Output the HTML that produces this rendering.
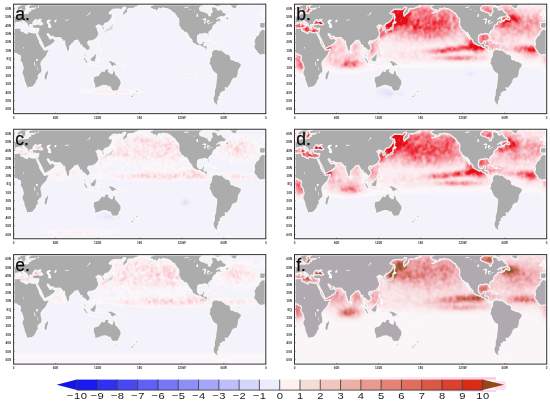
<!DOCTYPE html>
<html><head><meta charset="utf-8"><style>
html,body{margin:0;padding:0;background:#fff;width:550px;height:404px;overflow:hidden}
svg{display:block}
.tl{font-family:"Liberation Sans",sans-serif;font-size:3.8px;font-weight:bold;fill:#333}
.pl{font-family:"Liberation Sans",sans-serif;font-size:17.5px;fill:#0a0a0a;stroke:#0a0a0a;stroke-width:0.25px}
.cb{font-family:"Liberation Sans",sans-serif;font-size:9.5px;letter-spacing:0.45px;fill:#1a1a1a}
</style></head><body>
<svg width="550" height="404" viewBox="0 0 550 404">
<defs><clipPath id="mclip"><rect x="0" y="0" width="252.2" height="109.5"/></clipPath><filter id="bl" x="-5%" y="-5%" width="110%" height="110%"><feGaussianBlur stdDeviation="0.6"/></filter></defs>
<rect width="550" height="404" fill="#fff"/>
<g transform="translate(13.6,4.15)">
<rect x="0" y="0" width="252.2" height="109.5" fill="#f3f2fb"/>
<g clip-path="url(#mclip)">
<g filter="url(#bl)"><path d="M-2.8 111.7l257.8 0 0-113.9-257.8 0z" fill="#f4f2fa" fill-rule="evenodd"/><path d="M76.9 89.9l16.3 .7 18.2-.2 14.2-1.3 3.7-.9 1.1-.8-2.9-1.3-7-1-25.2-1-24.5 .9-5.6 1-1.8 .6-.3 .8 5.6 1.6zM171.9 74l9.5 .8 2.4-.8 1.1-1.7-.7-1.3-1.4-.9-9.8-1.4-2.8 1-1.1 1.8 1 1.7z" fill="#faf6f9" fill-rule="evenodd"/><path d="M90.7 89.1l16.5-.2 6.9-.7 2.1-.8-2-.8-4.2-.5-12.6-.6-12.6 .6-4.1 .5-1.8 .8 2.4 .8zM173 73.2l7.7 .4 1.7-.4 .5-.9-1.5-1.2-7.7-1.3-2.1 .6-.7 1.1 .4 .8z" fill="#fbeff2" fill-rule="evenodd"/><path d="M172.6 71.5l1.8 .7 1.2-.7-1.9-.7z" fill="#fce8ec" fill-rule="evenodd"/></g>
<path d="M-4 12.9l1.5-.3 1.8-.3 1.7-.4 .2-1.1-1-.8-.4-.6-.9-1.1-.3-.4-.4-.4 .5-.9-1.2-.2 .4-.7-1.4 0-.6 .9 .2 1 .4 .7 .1 .6 1.2 .1 .1 .6 0 .5-1.2 0 .4 .4 0 .6-.8 .3 .9 .2 .7 .1-.8 .2-.6 .5zM248.2 12.9l1.5-.3 1.8-.3 1.7-.4 .2-1.1-1-.8-.4-.6-.9-1.1-.3-.4-.4-.4 .5-.9-1.2-.2 .4-.7-1.4 0-.6 .9 .2 1 .4 .7 .1 .6 1.2 .1 .1 .6 0 .5-1.2 0 .4 .4 0 .6-.8 .3 .9 .2 .7 .1-.8 .2-.6 .5zM248 11.2l-.1-1.2 .4-.9-.3-.6-1.1 0-.7 .6-1 .3 .3 1-.4 1 .4 .2 1.1-.2 1.1-.3zM235.4 -.1l1.4 1.4 2.4 .4 2.8-.8 .7-.8-1-1-6.3 0zM98.1 20l.8-.2 1.4-.1 1.6-1.2-.1-.8-2.3-1-.4 1.2-.7 .7-.3 .6zM99.5 16.2l1 0-.1-2.5 .8 0-.7-2.1-.3-2.1-.4-.2-.2 2.3-.1 2.1zM84.8 33.6l.7 .2-.4 1.7-.5 .9-.5-.9 .3-1.3zM76.1 38.7l1.2-.8 .5 .5-.7 1.1-.7-.2zM55.9 46.5l.4 0 1.1 2-.5 1.1-.9 .1-.1-1.6zM84.4 39.3l1.2 0-.1 1.2-.4 1.3 .4 1.2 1.4 .9-.4 .1-1.4-.8-.7-.6-.3-1.2zM85.5 48.9l1-1.3 1.4-1.1 .7 2-.3 1.2-.7 .2-.7-.6zM85.8 44.9l2.1-.6 .2 1.2-1.6 1.3-.7 0zM82.1 47.8l1.6-1.8 .2-.8-.5 .8-1.1 1.4zM84.4 43.4l.7 .5-.3 .6-.5-.5zM73.7 60.4l.9-.7 1.4 .3 1.4 .4 1.5 .1 1.3 .7-.1 .8-1.3-.2-1.4-.3-1.7-.2-1.4-.4zM80.2 61.5l.9 .2-.2 .4-.6-.2zM81.3 61.7l2.1-.1 0 .5-2.1 .1zM83.9 61.8l2.3-.2 0 .4-2.3 .2zM86.5 63.4l1.1-.9 1.5-.7-.1 .3-1.4 .9-.7 .5zM83.7 59.4l-.1-1.7-.4-.6 .5-1.9 .4-1.1 .7-.4 1.4 .2 1-.4 .5 0-.8 .9-1.4-.1-.7 .1-.4 .8 .7 .4 1.3-.1-.9 .5-.5 .4 .6 1 .6 1.1-.7 .9-.7-1.3-.4-.8-.1 2.1zM89.3 52.9l.6 .6 .3 .8-.5 1.1-.4-.6zM89.7 57.3l1.9 .2 0 .4-1.9-.1zM88.3 57.4l.8 0 0 .5-.8 0zM103.9 59.4l1.2-.4 1-.7 .5 0-.5 1.1-1 .5-1.1-.1zM105.4 56.8l.7 .5 1.1 1.2-.2 .3-1.2-1.4zM109.6 60.2l2.1 1.2 1.4 1.3-.3 .4-1.4-.4-1.8-1.7zM114.9 71.7l.6 0 1.5 1.7-.4 .1-1.5-1.3zM124.2 69.4l.9-.2-.1 .8-.7-.1zM192.7 36.4l1.4-.8 1.4-.3 1.4 .5 1.4 1 .9 .4 1.1 .6-.6 .3-1.9 0 .1-.6-.7-.7-1.4-.5-1-.1-1.1 .2zM200 39.3l1.1-1.2 1.4 0 1.4 .6 .5 .5-1.2 .3-1.1 .5-1-.3zM197.3 39.4l1.5 .1-.3 .3-.8 0zM205.1 39.3l1.1 0-.1 .4-1 0zM144 7l1.5-.5-.3-.5-.9 .4zM8.7 22.9l2.2-.2-.3 1.3-1.8-.7zM5.7 20.5l1.2-.2-.1 1.6-.9 .3zM6 18.8l.7 0-.1 1.3-.5-.3zM16.5 24.9l1.9 .3-.2 .3-1.7-.2zM22.6 25.4l1.6-.5-.4 .9-1-.1zM209.3 97.6l2.4 .1-.5 .8-1.4-.1zM91.7 26.3l1.1-1.3 1.1-.1 1 0 .9-1.4 1.2-.4 1.1-1.4 0-1.1 .5-.4 .5 0 0 1.1 .4 .4-.7 1-.2 1.1 .1 1.1-.8 .5-.5 .3-1.4 .1-.2 .2-.7 .7-.4-.7-.8-.2-1.1 .2-1 .4zM91.1 26.7l.7-.3 .6 .7-.3 1.3-.6 .4-.3-.4-.3-1zM92.8 27.1l.4-1 1.1 0 .1 .4-.9 .4-.5 .4z" fill="#fbfbfd" stroke="#fbfbfd" stroke-width="0.5"/>
<path d="M91.7 26.3l1.1-1.3 1.1-.1 1 0 .9-1.4 1.2-.4 1.1-1.4 0-1.1 .5-.4 .5 0 0 1.1 .4 .4-.7 1-.2 1.1 .1 1.1-.8 .5-.5 .3-1.4 .1-.2 .2-.7 .7-.4-.7-.8-.2-1.1 .2-1 .4zM91.1 26.7l.7-.3 .6 .7-.3 1.3-.6 .4-.3-.4-.3-1zM92.8 27.1l.4-1 1.1 0 .1 .4-.9 .4-.5 .4z" fill="#d2d2d2"/>
<path d="M8.8 -2.2l-.4 2.1-1 .9-1.4 .8-1.4 .7-1.1 .7 0 1.3 .4 1.1 .3 .6 1.1 .2 .7-.3 .9-.5 .5-.7 .3 .7 .6 .6 .1 .6 .6 .9 0 .8 .9 .1 .3-.5 1-.2 .4-1.1 .1-.8 .9-.4 .6-.7-.9-.8-.2-1.3 .9-.8 1.4-.5 .7-.5 .3-.9 .4-2.1zM261 -2.2l-.4 2.1-1 .9-1.4 .8-1.4 .7-1.1 .7 0 1.3 .4 1.1 .3 .6 1.1 .2 .7-.3 .9-.5 .5-.7 .3 .7 .6 .6 .1 .6 .6 .9 0 .8 .9 .1 .3-.5 1-.2 .4-1.1 .1-.8 .9-.4 .6-.7-.9-.8-.2-1.3 .9-.8 1.4-.5 .7-.5 .3-.9 .4-2.1zM17.2 -2.2l.5 2.3-.5 .4-1.1 .8-1 .7-.1 1 .1 .9 .7 .6 1.4-.1 1.4-.2 1.4-.1 .9 .4-1.3 .4-2.1 0-1 .2 0 .7 .5 .1 .1 .7-.3 .4-.5 0-.5-.5-.7 .2-.4 .8 .1 .8 .1 .4-.5 .2-.7 .3-.7 0-.2-.3-1.2 .2-1.4 .5-.7-.3-1.1 .1-.7 .1-.1-.4-.6-.1 .4-.7-.2-.6 .2-.7 0-.6-.7 .5-.9 .3-.1 .7 .3 .4 0 .6 .2 .6-.5 .4-.8 .1-.8 0-.7 .5-.4 .7-.5 .5-.7 .3-.7 .1 0 .7-1 .5-.9 .1-.3-.3-.2 .9-.8-.1-1.1 .2 .1 .6 1.1 .3 .5 .3 .7 .8 0 1.3-.3 .9-1.4 0-1.4 0-1.7-.1-.8 .5 .2 .9 .1 .8-.2 1-.4 .9 .5 .3 0 1.1 .9-.1 .9 .3 .5 .7 .7-.6 1.7 0 .6-.6 .4-.1 .2-.7 .4-.3-.3-.6 .8-1.1 1.6-.9 0-1 1-.3 1 .3 1.1-.6 .9-.5 .9 .4 .3 .8 1 .9 1.1 .6 1.4 1 .1 1.5 .6-.4 .4-.3-.4-.7 .4-.6 1 .4-.4-.4-1.4-.8-.7-.4-.7-.6-.3-.7-.9-.8 .2-.8 .8-.2-.1 .6 .7-.2 .7 1 1.4 .9 .7 .5 .6 .5 .1 1 .5 .8 .5 .8 .2 .7 .3 .8 .6 .4 .3-.8 .2 .7 .5-1-.3-.7-.5-1.2 0-.5 .8-.2 1.4 0 .5 .3-.1 .8 .2 .8 .3 .9 .5 .5 1.1 .5 .7-.5 1.4 .6 1-.1 1.1-.3 .3 .5-.1 .8-.2 .9-.4 .8-.3 1.3-.7 .3-.9-.1 .2 1 .3 .9 .9 1 .4-1.4 .1 0-.1 1.2 .7 .8 .8 1.7 1.1 1.7 .5 1.3 .9 1.6 .7 1.7 .8 1.7 .2 1.2 .4 1.1 1-.1 2.1-1 1.4-.8 1.6-.7 1.2-1 1.1-.7 1-.8 .6-.2 .5-1.2 .9-1.7-.9-.9-1.1-.3-.5-.8 .1-1.2-.3 .7-.5 .2-.9 .9-1.4 .2-.3-.5 0-.6-.2-.7-.3 .4-.4-.5-.2-.5-.3-.6-.7-.8-.4-.8 .4-.5 .7 0 .7 .7 .7 1.2 1.4 .8 1.4 .2 .5-.5 .5 1 .2 .3 1.6 .2 1.4 .2 1.7-.1 1.8-.1 .5 .5 .7 1 .5 .9 .7-.2-.7 .4 .7 1.1 .7 .1 1.1-.5 .1 .2 .1 1.8 .5 2.6 .7 1.2 .3 1.7 .6 1.2 .5 1.7 .7 .8 .5-.7 .5-.3 .7-.9-.1-1 .4-1.3-.2-1.6 .6-.8 1-.9 1.1-1.1 1.1-1 1-1.1 .4-.8 .7 .1 1-.3 1.1-.4 .4 .9 .3 .8 .7 .8 .6 1.3 0 1.7 .7 .1 .8-.6 .7 0 .1 1.3 .4 1.2 .3 2.1-.2 1.7 0 .9 1.2 1.2 .2 1.3 .7 1.6 .8 .9 .7 .6 .5-.1-.5-1.4-.1-1.2-.6-1.3-.7-.7-.7-.4-.3-1-.5-1.2-.1-1.7 .6-1.2 .6 .4 .8 .6 .7 1 1 .5 .2 1.6 1.2-.8 .4-.8 1.4-.9 .2-1.2-.4-2.1-1.2-1.3-.7-1.2-.3-.5 .6-1.2 .7-.8 .7-.1 .9 .1 .3 1 .6-1 1-.3 .7-.3 1.1-.5 1-.2 1.1-1.3 1-1 .5-1.1 .9-1.2 .4-1.1-.7-.6 .6-.4-.6-.8-.4-1.3-.7-1.3 .7-.8 1.4-.8-1-.6-1.4 .4-.7-.8-.2-.7 .9-.4 1.4-1.1 .7 .2-.6 1.5 .9-.6 1.2-.4 .6 .4 .1 1.2 .9 .5-.1 .8 .1 1.2-.1 .6 .8-.2 1.1-.4 .3-.8 0-.8-.7-1.3-.7-.8 .7-.4 .9-.8 0-.7 .7-.5 .7-.5 .9 .1 1.4-.8 1.7-1.4 .7-1.3 1.2-1.3 .2-1.2 .4-1.7 .3-1.1-1.2-.7-1.6 .2-.7-.6 .5-1 .9-.8 1.4-1.2 1.1-.8 1.4-.2 1.4 .1 1.7 0 1.6-.2 1.2 .5 1.4-.1 .5-.8 1.3-1.4 1.7-.1 .6 .7-.4 .6-1.2 1.9-1.1 .8-.3 1.3-.3 1.2 .3 1.3 .5 1.3 .5-.5 .7-1.1 1.1-1 1.2-.6 .3-1.2 .7 .2 .1-1.5-.6-.2 .8-1.5 1.7-.4 2.8 .2 1.7-.8 1.1-.7 2.1-.5 1.4 .1 .7-.6-.7 0-.4-1.1-.7-.3 1.1-.3 1.4-.2 2.1-.3 2.5 1 .7-.9 .7-.4 .3-1.7zM269.4 -2.2l.5 2.3-.5 .4-1.1 .8-1 .7-.1 1 .1 .9 .7 .6 1.4-.1 1.4-.2 1.4-.1 .9 .4-1.3 .4-2.1 0-1 .2 0 .7 .5 .1 .1 .7-.3 .4-.5 0-.5-.5-.7 .2-.4 .8 .1 .8 .1 .4-.5 .2-.7 .3-.7 0-.2-.3-1.2 .2-1.4 .5-.7-.3-1.1 .1-.7 .1-.1-.4-.6-.1 .4-.7-.2-.6 .2-.7 0-.6-.7 .5-.9 .3-.1 .7 .3 .4 0 .6 .2 .6-.5 .4-.8 .1-.8 0-.7 .5-.4 .7-.5 .5-.7 .3-.7 .1 0 .7-1 .5-.9 .1-.3-.3-.2 .9-.8-.1-1.1 .2 .1 .6 1.1 .3 .5 .3 .7 .8 0 1.3-.3 .9-1.4 0-1.4 0-1.7-.1-.8 .5 .2 .9 .1 .8-.2 1-.4 .9 .5 .3 0 1.1 .9-.1 .9 .3 .5 .7 .7-.6 1.7 0 .6-.6 .4-.1 .2-.7 .4-.3-.3-.6 .8-1.1 1.6-.9 0-1 1-.3 1 .3 1.1-.6 .9-.5 .9 .4 .3 .8 1 .9 1.1 .6 1.4 1 .1 1.5 .6-.4 .4-.3-.4-.7 .4-.6 1 .4-.4-.4-1.4-.8-.7-.4-.7-.6-.3-.7-.9-.8 .2-.8 .8-.2-.1 .6 .7-.2 .7 1 1.4 .9 .7 .5 .6 .5 .1 1 .5 .8 .5 .8 .2 .7 .3 .8 .6 .4 .3-.8 .2 .7 .5-1-.3-.7-.5-1.2 0-.5 .8-.2 1.4 0 .5 .3-.1 .8 .2 .8 .3 .9 .5 .5 1.1 .5 .7-.5 1.4 .6 1-.1 1.1-.3 .3 .5-.1 .8-.2 .9-.4 .8-.3 1.3-.7 .3-.9-.1 .2 1 .3 .9 .9 1 .4-1.4 .1 0-.1 1.2 .7 .8 .8 1.7 1.1 1.7 .5 1.3 .9 1.6 .7 1.7 .8 1.7 .2 1.2 .4 1.1 1-.1 2.1-1 1.4-.8 1.6-.7 1.2-1 1.1-.7 1-.8 .6-.2 .5-1.2 .9-1.7-.9-.9-1.1-.3-.5-.8 .1-1.2-.3 .7-.5 .2-.9 .9-1.4 .2-.3-.5 0-.6-.2-.7-.3 .4-.4-.5-.2-.5-.3-.6-.7-.8-.4-.8 .4-.5 .7 0 .7 .7 .7 1.2 1.4 .8 1.4 .2 .5-.5 .5 1 .2 .3 1.6 .2 1.4 .2 1.7-.1 1.8-.1 .5 .5 .7 1 .5 .9 .7-.2-.7 .4 .7 1.1 .7 .1 1.1-.5 .1 .2 .1 1.8 .5 2.6 .7 1.2 .3 1.7 .6 1.2 .5 1.7 .7 .8 .5-.7 .5-.3 .7-.9-.1-1 .4-1.3-.2-1.6 .6-.8 1-.9 1.1-1.1 1.1-1 1-1.1 .4-.8 .7 .1 1-.3 1.1-.4 .4 .9 .3 .8 .7 .8 .6 1.3 0 1.7 .7 .1 .8-.6 .7 0 .1 1.3 .4 1.2 .3 2.1-.2 1.7 0 .9 1.2 1.2 .2 1.3 .7 1.6 .8 .9 .7 .6 .5-.1-.5-1.4-.1-1.2-.6-1.3-.7-.7-.7-.4-.3-1-.5-1.2-.1-1.7 .6-1.2 .6 .4 .8 .6 .7 1 1 .5 .2 1.6 1.2-.8 .4-.8 1.4-.9 .2-1.2-.4-2.1-1.2-1.3-.7-1.2-.3-.5 .6-1.2 .7-.8 .7-.1 .9 .1 .3 1 .6-1 1-.3 .7-.3 1.1-.5 1-.2 1.1-1.3 1-1 .5-1.1 .9-1.2 .4-1.1-.7-.6 .6-.4-.6-.8-.4-1.3-.7-1.3 .7-.8 1.4-.8-1-.6-1.4 .4-.7-.8-.2-.7 .9-.4 1.4-1.1 .7 .2-.6 1.5 .9-.6 1.2-.4 .6 .4 .1 1.2 .9 .5-.1 .8 .1 1.2-.1 .6 .8-.2 1.1-.4 .3-.8 0-.8-.7-1.3-.7-.8 .7-.4 .9-.8 0-.7 .7-.5 .7-.5 .9 .1 1.4-.8 1.7-1.4 .7-1.3 1.2-1.3 .2-1.2 .4-1.7 .3-1.1-1.2-.7-1.6 .2-.7-.6 .5-1 .9-.8 1.4-1.2 1.1-.8 1.4-.2 1.4 .1 1.7 0 1.6-.2 1.2 .5 1.4-.1 .5-.8 1.3-1.4 1.7-.1 .6 .7-.4 .6-1.2 1.9-1.1 .8-.3 1.3-.3 1.2 .3 1.3 .5 1.3 .5-.5 .7-1.1 1.1-1 1.2-.6 .3-1.2 .7 .2 .1-1.5-.6-.2 .8-1.5 1.7-.4 2.8 .2 1.7-.8 1.1-.7 2.1-.5 1.4 .1 .7-.6-.7 0-.4-1.1-.7-.3 1.1-.3 1.4-.2 2.1-.3 2.5 1 .7-.9 .7-.4 .3-1.7zM22.8 29.6l-.2-1-.9-.3-.7 .2-.7 .4-1.4-.4-1.4-.2-1.4-.5-1.4-.5-.7 .7 0 .8-.7 .6-1-.6-1.4-.4-.3-.7-1.5-.5-1-.2-.7-.5-.3-.6 .6-.9-.3-.8 .4-.4-.7-.2-.2-.1-.9 .4-1.4-.1-1.1 .2-1.4-.1-1.4 .3-1.1 .6-1 .6-.7-.1-1.6-.6-.5 .1-.6 1.5-.5 .3-.7 .4-.5 .5-.4 1.3 .2 .5-.7 1-.7 .8-1 .5-1.1 1.2-.3 1.4-.7 .6-.7 2 .3 1.2 .3 .8 0 1.3-.3 1.3-.7 1 .5 1 .1 .9 .8 .8 .7 .9 .9 .8 .1 .8 .4 .9 .7 .5 1.1 .9 1.7 1.2 1.8-.6 1.4 0 .7 .2 1.4-.6 1.1-.5 1-.2 1.1 .1 .7 1.1 .7 .6 1-.2 .7 .4 .5 .8 .1 1.7-.4 .9-.3 .5 .8 2 1.1 1.2 .4 1.3 .6 2.1 .4 1.6 .1 1.3-.8 1.3-.4 1.6-.1 1.3 .5 1.2 .7 1.7 .7 1.7 .2 2.1 .5 1.7 .7 1.3 .5 1.6 .5 1.2 .3 1.7 .4 .4 .7 .3 1.4-.6 2.5-.1 1.4-.7 1-1 1.1-1.2 .3-.6 1-1.1 .3-1.9 .5-.8 1.4-1.1-.1-1.6-.3-1.7 1.1-1 .7-1.1 1.4-.8 .7-1.3 0-2.5-.2-1.3-.5-2.1-.2-1-.2-1.5 .5-.8 .6-1.3 .7-.8 1.4-1.7 1.4-1.2 1.4-2.1 .7-1.7 .9-2.1 1-1.2 0-1.1-1.6 .4-2.1 .5-1.4 .2-.5-.9-.5-.8-.7-1.1-1.1-1.4-.3-.1-.7-2-.9-.9 0-1.6-.5-1.3-.7-1.2-.7-1.7-.7-1.3-.7-1.6zM275 29.6l-.2-1-.9-.3-.7 .2-.7 .4-1.4-.4-1.4-.2-1.4-.5-1.4-.5-.7 .7 0 .8-.7 .6-1-.6-1.4-.4-.3-.7-1.5-.5-1-.2-.7-.5-.3-.6 .6-.9-.3-.8 .4-.4-.7-.2-.2-.1-.9 .4-1.4-.1-1.1 .2-1.4-.1-1.4 .3-1.1 .6-1 .6-.7-.1-1.6-.6-.5 .1-.6 1.5-.5 .3-.7 .4-.5 .5-.4 1.3 .2 .5-.7 1-.7 .8-1 .5-1.1 1.2-.3 1.4-.7 .6-.7 2 .3 1.2 .3 .8 0 1.3-.3 1.3-.7 1 .5 1 .1 .9 .8 .8 .7 .9 .9 .8 .1 .8 .4 .9 .7 .5 1.1 .9 1.7 1.2 1.8-.6 1.4 0 .7 .2 1.4-.6 1.1-.5 1-.2 1.1 .1 .7 1.1 .7 .6 1-.2 .7 .4 .5 .8 .1 1.7-.4 .9-.3 .5 .8 2 1.1 1.2 .4 1.3 .6 2.1 .4 1.6 .1 1.3-.8 1.3-.4 1.6-.1 1.3 .5 1.2 .7 1.7 .7 1.7 .2 2.1 .5 1.7 .7 1.3 .5 1.6 .5 1.2 .3 1.7 .4 .4 .7 .3 1.4-.6 2.5-.1 1.4-.7 1-1 1.1-1.2 .3-.6 1-1.1 .3-1.9 .5-.8 1.4-1.1-.1-1.6-.3-1.7 1.1-1 .7-1.1 1.4-.8 .7-1.3 0-2.5-.2-1.3-.5-2.1-.2-1-.2-1.5 .5-.8 .6-1.3 .7-.8 1.4-1.7 1.4-1.2 1.4-2.1 .7-1.7 .9-2.1 1-1.2 0-1.1-1.6 .4-2.1 .5-1.4 .2-.5-.9-.5-.8-.7-1.1-1.1-1.4-.3-.1-.7-2-.9-.9 0-1.6-.5-1.3-.7-1.2-.7-1.7-.7-1.3-.7-1.6zM34.5 64.8l.7 2.9-.3 1.3-.7 2.5-.9 3.8-.4 .4-1.4 .4-.8-1.3-.4-1.6 .5-1.7 .2-2.5 1.2-1 1.4-1.9zM134.5 -2.2l1.4 2.1 3.5 .9-2.4 1-1.1 1.5 1.1 .8 1.7 .4 0 1.2 3.2-.1-.4 1.4-2.1 .9-2.1 .8 .7 .3 2.8-1 2.1-1 1.4-1.2 1.4-1.7 .7 1.1 2.1-.9 1.4-.5 1.4 .7 2.1 0 1.1 .4 1.7 .9 .7 .4 .7 .8 .7 .5 1.4 1.4 1.4 .2 0 .9 1.4 1.6 .4 .9-.6-.2 2.3 1.8 .2 .1 .4 1.6 .1 2.1-.3 1 .1 1.9 .4 1.3 .9 1 .4 1 .9 1.7 1.5 .5 1 1.2 .4 .9 .5 1.2 1.1 1.7 1.2 1.4 1 1.5 .8 1.4-.4-1.1-1.1-1.9-.8-1.7-.9-1.7-.2-1.1 1.2 .5 1.4 2.3 .7 1.2 .5 1.3 1.3 1.3 1.3 1.2 .2 1.7 .9 1.2 1.4 .9 1.4 .8 1.4 .6 1.4 .5 1.1-.4 1 .6 .7 .8 .7 .5 1.5 .4 1 .4 .7 .8 .6 1 .1 .8 1.1 .3 .7 1 1 .6 1.1 .2 .3-1.3 1.1 .5 .4-.2-.1-.1-1-.7-.7 .2-1.1 .2-1.4-1.2-.2-.9 .3-1.2 0-1.7-1.1-.8-1.8 .1-.5 .1-.1-1.5 .6-1.3 .4-2-1.1 0-1.3 .4-.1 1.2-.7 .9-1.8 .2-1-.4-.6-.7-.8-1.6-.1-2.1 .3-1.7-.1-1.3 .9-.9 1.1-.7 1.7-.1 1.8 .2 .4-.8 .7-.2 1.4 .2 1 .3 1.1 .8 .2 1.2 .8 1.5 .8 .5 .3-1.1-.4-1.7-.5-1-.1-1.1 .6-1.1 1.1-1 1-.8 1.4-.7-.3-1.3 .3-1 .4-.7 .7-1.3 .1-.2 1.3-.3 1-.5 .4-.1-.5-.7 .3-.9 1.6-.6 .7-.4 1 1.1 1.4-.9 1.8-.5 .7-.7-.4-.8-.7 1.1-2.1-.4-.3-1.4 .5-.9-1.6-.2-2.4 1.4 2.1-1.5 1.7-.8 3.2 0 1.9-1.1 .9-.8-.7-1.7-2.1-.8-1.1-1.3-.7-1.2-1.4-1.5-1 1.2-1.4 .5-1.1-1.1 0-1.2-1.7-.7-1.4-.4-2.5-.2-.3 1.7 .3 .4 .4 1.7 .3 1.7-1.7 1.2 0 2.1-1.1 .6-1-1.3-.4-1.9-1.7-.1-2.1-1-1.8-.6-1.4-.3-1.2-1.1-.2-1 .3-1.2 1.1-.9 1.2-.8 2-.6 .7-1.5 0-1.7zM198 47.6l1-.8 .3-.8 .7-.5 1.1-.2 1-.9 .4 .7-.4 .4 1.1-.4-.2-.5 .9 .6 .7 .7 1.4 0 1.4 0 1.4-.1 .3 1 .7 .8 1.1 .5 .7 1 1.4 .8 1.4 0 1.4 .8 .7 .7 .7 1.8 0 1.6 1 .8 1.8 0 1.4 1.2 1.4 .3 1.7 .2 1.4 1.2 1.6 .7 .3 1.8-.3 1.3-1.2 1.7-1.1 1.6-.3 1.7-.2 2.1-.5 1.7-.7 2.1-.7 .8-1.4 0-1.8 .8-1 1.3-.4 1.7-.7 1.2-.7 1.3-1 1.2-1.1 1.5-.7 .9-1.4 0-1-.4 .3 1 .4 .8-.4 1.3-1 .6-2.1 .2-.4 1.3-1.7 .4 .3 1.2-.3 1.3-1.8 1.7 1.1 1.2-1.1 1.3-.7 1.2-.3 1.3 .3 .4 0 .8 1.4 1.3-1 .4 .5 .3-1.9-.5-1.4-1-1.4-1.3-.7-2.1-.4-2.1 .7-2.1 .7-1.7-.1-1.2 .1-2.9 .7-2.1 .6-2.1 .1-2.5 .4-2.5 .3-2.6 .2-3.3 0-1.4-.9-.9-1-.6-1.4-1-1-1.5-.6-1.3-.9-2.1-.7-1.7-1-1.2-.3-1.1 .6-1 .4-.9-.7-1.2 .7-1.3 .7-.8 .3-.8 .7-1.3 .1-2.1-.3-.8zM79.9 73l1.7-1 1.4-.3 1.8-.6 .9-1.3 .8-1.2 .7-.9 1.1-1.2 1 0 .7 .8 .7-.2 .5-1.5 .4-.5 1.2-.7 1.1 .4 1.4 0 .5 .4-.5 .9-.4 1.2 1.4 1 1.4 1.1 .9 0 .5-2.1 .1-2.1 .6-1.5 .7 1.5 .2 1.3 1.1 .8 .1 1.6 .6 1.8 1.5 1 .7 1.5 .9 .8 1.2 1.5 .5 1 .3 2.1-.4 2.1-.9 1.6-.4 .8-.5 1.4-.3 1.2-.1 .5-1.3 .2-1.1 1.1-1-.7-.4-.1-.7 .5-1.4-.3-1-.8-.2-.8-.9-.7 0-.7-.5-1.4-.2 1-.3 .6-.4-.9-.7 .7-.1-1.5-.9-.4-1.4-.6-2.1-.1-2.1 .5-1.4 .6-1.5 .7-1.7 .3-1.1 .7-1.3-.2-.7-.4 .5-.7 0-1.3-.5-1.6-.4-1.3-.7-1.7 .2-1.6 0-1.3zM101.3 88.8l2.6 .2-.2 1.7-.9 .5-.9-.9-.5-1zM121 83.5l1.2 1.2 .7 .6 .4 .9 1.4 0 .3 .1-.4 1.1-.6 .4-.4 .9-.9 .9-.4-.3 .3-1.1-.7-.4-.1-.2 .5-.6-.2-1.3-.9-1.2zM121 88.7l1.1 .5-.3 1.1-.7 .9-1.1 .7-.5 1.3-1.1 .6-1.8-.5 .3-.9 .8-.8 1.7-1 .7-.9zM66.8 50.1l1.5 .3 .7 1 1.4 1.7 1.4 .8 .9 1.3 .5 1.1 1.1 1-.2 2.3-.9 .1-1.5-1.6-.9-1.3-.5-1.2-.9-1.7-.7-1.2-1.1-1.1-.9-1.2zM76.4 53.5l.4-.4 1 .4 1.4-1.4 .7-1.1 1-.7 .9-1.4 .7 .7 1 .8-.8 .8-.2 1 .7 1.7-.9 .4-.1 1.3-.6 1.2-.3 1.1-1.1-.2-1-.3-1.1-.1-.9-.2-.1-1.1-.7-1.2zM91.8 55.6l1-.5 1.1 .4 .7 2 1.7-1.5 1.8 .8 1.4 .6 1.7 .7 .9 1.1 1.2 .6 .2 .6-.5 .2 .7 .8 .7 .9 1 1.1-.7 .1-1.4-.4-1-1.4-1.4-.6-.7 1.2-1.4 .2-1.1-.9-.7 .1-.3-1.9-.7-.9-1.4-.5-1.4-.3-.7-1 .7-.3-1.1-.8zM213.7 -2.2l1 1.7 1.4 1.7 1.4 1.2 1.1 1.3 1.7 .7 1.4 .3 .7-.6 .7-1.3 .7-1.2 1.1-1.3 2.1-.6 2.8-1.9zM209.5 -2.2l-.7 1.7-2.1 1 .3 1.3-2.4 .9-2.8-.5-2.1-1.4-2.1 0 .7-3zM191.6 1.2l2.5 0 1.7 .4 .2-.7-.5-1-3.2-.4-.7 .8zM210.7 14.9l2.3-1.7 .3-1.6 1.8 1.7 .2 1.7-.6 .7-1.4-.3-1.4-.5zM212.3 107.7l-1.4 .6-2.1 1.3-.7 2.1 5.6 0-1.1-3.4zM19.3 20.2l.1-1.9 1.1-1.5 1-1.1 .8-.2 1 .5-.5 .7 .7 1 1-.3 1.1-.7 .9 .5 1.2 1 1.6 1.7-1.3 .7-1.4 .1-1.4-.6-1.4-.3-1.7 .6-1.8 0zM24.5 16.5l.4-.7 1.4-.5 1.2-.1-.7 1-.9 .6-.3-.1z" fill="#acacac" fill-rule="evenodd" stroke="#fafafa" stroke-width="1.3" stroke-linejoin="round" stroke-opacity="0.9"/>
<path d="M32.9 17.9l.4-1.2 1-.9 1.8-.4 1 .2 0 1.2-1.2 .7-.7 .2 .5 1.1 1.3 .8 0 .6 .1 1.1 .6 .4-.2 1.2 .3 .6-1.7 .4-1.1-.5-.7-.6 0-.3 .4-1.4 .5-.2-.5-.2-.7-.9-.7-1zM40.8 16.7l.9-1 1.4 0-.4 1.4-.7 1-1 .2zM187.7 15.7l1.4-.5 1.5-1.2 1.7 .4 .7 1.4-1.7 0-1.8-.2zM190.7 19.8l.6 0 .5-1 .5-2.1 .4-.5-1.8 .2-.3 1.1 .1 1.3zM193.4 18.8l1 0 .6-1.3 1.2-.3-.4-1-2.4-.1 .3 1zM193.7 20l1.4 0 1.8-.9-.2-.3-1.6 .4-1.2 .3zM196.3 18.6l2.5-.2 0-.7-2.3 .5zM182.8 12.5l1.8 0-.4-2.8-1 0zM22.4 55l1.4-.5 .6 .9-.9 1.7-1.2-.7zM72.6 11.6l1 0 2.8-2.1 .5-1.5-.7 0-1.6 2.4zM21 4.4l1.8-.4 .2-.6-1.3-.3-.8 .6zM24.2 3.7l1-.2 .4-1.1-1.1-.2-.5 .6zM51.5 15.8l.7 .9 2.1-.5 1.4-.6-.4-.4-1.4 .6-1.7-.2zM9.5 44.3l1-.3 0-.8-.8-.2zM20.5 57.7l.5 0 .9 3.7-.5 .5-.7-1.7zM23.8 62.7l.4 0 .5 2.9-.2 1.1-.5-1.5zM170.2 3.7l2.8-.2 2.8-.8-1.4-.4-3.1 .5zM174.4 5.7l2.1-.4 1.4-.2-1.4-.2-1.7 .5zM180.4 7.4l.6 0-.1-1.2-.6 .2z" fill="#fff"/>
</g>
<rect x="0.85" y="0.85" width="250.50" height="107.80" fill="none" stroke="#fff" stroke-width="0.8" stroke-opacity="0.75"/>
<rect x="0" y="0" width="252.2" height="109.5" fill="none" stroke="#333" stroke-width="1"/>
<text transform="translate(-2.4,5.8) scale(0.85,1)" class="tl" text-anchor="end">60N</text>
<line x1="0" x2="1.2" y1="4.5" y2="4.5" stroke="#444" stroke-width="0.5"/>
<text transform="translate(-2.4,14.2) scale(0.85,1)" class="tl" text-anchor="end">50N</text>
<line x1="0" x2="1.2" y1="12.9" y2="12.9" stroke="#444" stroke-width="0.5"/>
<text transform="translate(-2.4,22.6) scale(0.85,1)" class="tl" text-anchor="end">40N</text>
<line x1="0" x2="1.2" y1="21.3" y2="21.3" stroke="#444" stroke-width="0.5"/>
<text transform="translate(-2.4,30.9) scale(0.85,1)" class="tl" text-anchor="end">30N</text>
<line x1="0" x2="1.2" y1="29.6" y2="29.6" stroke="#444" stroke-width="0.5"/>
<text transform="translate(-2.4,39.3) scale(0.85,1)" class="tl" text-anchor="end">20N</text>
<line x1="0" x2="1.2" y1="38.0" y2="38.0" stroke="#444" stroke-width="0.5"/>
<text transform="translate(-2.4,47.7) scale(0.85,1)" class="tl" text-anchor="end">10N</text>
<line x1="0" x2="1.2" y1="46.4" y2="46.4" stroke="#444" stroke-width="0.5"/>
<text transform="translate(-2.4,56.0) scale(0.85,1)" class="tl" text-anchor="end">EQ</text>
<line x1="0" x2="1.2" y1="54.8" y2="54.8" stroke="#444" stroke-width="0.5"/>
<text transform="translate(-2.4,64.4) scale(0.85,1)" class="tl" text-anchor="end">10S</text>
<line x1="0" x2="1.2" y1="63.1" y2="63.1" stroke="#444" stroke-width="0.5"/>
<text transform="translate(-2.4,72.8) scale(0.85,1)" class="tl" text-anchor="end">20S</text>
<line x1="0" x2="1.2" y1="71.5" y2="71.5" stroke="#444" stroke-width="0.5"/>
<text transform="translate(-2.4,81.2) scale(0.85,1)" class="tl" text-anchor="end">30S</text>
<line x1="0" x2="1.2" y1="79.9" y2="79.9" stroke="#444" stroke-width="0.5"/>
<text transform="translate(-2.4,89.5) scale(0.85,1)" class="tl" text-anchor="end">40S</text>
<line x1="0" x2="1.2" y1="88.2" y2="88.2" stroke="#444" stroke-width="0.5"/>
<text transform="translate(-2.4,97.9) scale(0.85,1)" class="tl" text-anchor="end">50S</text>
<line x1="0" x2="1.2" y1="96.6" y2="96.6" stroke="#444" stroke-width="0.5"/>
<text transform="translate(-2.4,106.3) scale(0.85,1)" class="tl" text-anchor="end">60S</text>
<line x1="0" x2="1.2" y1="105.0" y2="105.0" stroke="#444" stroke-width="0.5"/>
<text transform="translate(0.0,114.6) scale(0.82,1)" class="tl" text-anchor="middle">0</text>
<line x1="0.0" x2="0.0" y1="108.3" y2="109.5" stroke="#444" stroke-width="0.5"/>
<text transform="translate(42.0,114.6) scale(0.82,1)" class="tl" text-anchor="middle">60E</text>
<line x1="42.0" x2="42.0" y1="108.3" y2="109.5" stroke="#444" stroke-width="0.5"/>
<text transform="translate(84.1,114.6) scale(0.82,1)" class="tl" text-anchor="middle">120E</text>
<line x1="84.1" x2="84.1" y1="108.3" y2="109.5" stroke="#444" stroke-width="0.5"/>
<text transform="translate(126.1,114.6) scale(0.82,1)" class="tl" text-anchor="middle">180</text>
<line x1="126.1" x2="126.1" y1="108.3" y2="109.5" stroke="#444" stroke-width="0.5"/>
<text transform="translate(168.1,114.6) scale(0.82,1)" class="tl" text-anchor="middle">120W</text>
<line x1="168.1" x2="168.1" y1="108.3" y2="109.5" stroke="#444" stroke-width="0.5"/>
<text transform="translate(210.2,114.6) scale(0.82,1)" class="tl" text-anchor="middle">60W</text>
<line x1="210.2" x2="210.2" y1="108.3" y2="109.5" stroke="#444" stroke-width="0.5"/>
<text transform="translate(252.2,114.6) scale(0.82,1)" class="tl" text-anchor="middle">0</text>
<line x1="252.2" x2="252.2" y1="108.3" y2="109.5" stroke="#444" stroke-width="0.5"/>
<text x="1.7" y="16.0" class="pl">a.</text>
</g>
<g transform="translate(294.5,4.15)">
<rect x="0" y="0" width="252.2" height="109.5" fill="#f3f2fb"/>
<g clip-path="url(#mclip)">
<g filter="url(#bl)"><path d="M-2.8 111.7l257.8 0 0-113.9-257.8 0z" fill="#dedefa" fill-rule="evenodd"/><path d="M-2.8 111.7l257.8 0 0-113.9-257.8 0zM93.9 91.1l-1.3-1.2 .5-.8 1.5 .1 1.4-1.2 .7 .1 0 2z" fill="#e6e6fb" fill-rule="evenodd"/><path d="M-2.8 111.7l257.8 0 0-113.9-257.8 0zM93.2 91.8l-3.5-1.8-2.1 .1-1.8-2.7 .5-.8 2-.4 1.4 1.4 1.4-1.4 4.9 0 2.1 1.2 2.1-1 2.1 .8 1.1 1 0 .9-1.1 .8-2.1 0-1.4-1.1-.7 .1-1.1 2.7-2.4 .6zM175.1 70.9l-.4-.2 .1-.9 1-1 1.1 .2 .7 .8-1.1 1.2z" fill="#ededfc" fill-rule="evenodd"/><path d="M-2.8 111.7l257.8 0 0-113.9-257.8 0zM77.1 90.8l-.7-.9 .7-1.3 1.1 .5 .2 .8-.4 .8zM90.4 95.1l-.7-.2-.7-2.2-2.1 .7-2.1-2-3.5-.8-.6-.7-.1-1.3 1.2-1.2 .2-3.4 1.4-.1 .7 1.4 .7 .1 .7-1.2 2.1-.1 2.1-.8 4.9 1 1.4-.7 3.5 1 1.8-.5 1.7-1.3 .8 .4-.1 2.5 .7 1.2 .8-.3-.3-1.7 1.9-.8 1.1 2.3 1.9 1.8 .2 1.7-2.1 2.3-4.2-.6-2.8 .6-1.4-.3-2.1 1.9-1.4-.5-2.1 .7-2.1-.5zM111.4 86.7l.7-.6 .7 .5-.7 .5zM173 72.4l-2.6-1.7 0-1.7 2.6-1.2 3.5-.3 2.1 .1 2.8 1.4 .1 .8-1.5 2-4.9 1.1z" fill="#f4f2fa" fill-rule="evenodd"/><path d="M5 73.2l2 .2 2.8-1.3 4.2-5.9 1.4-1.1 1.4-.3 22.4 3.8 16.1 1 12-1.2 23.1-4 67.9-1 83.4-.1 4.2 1.7 9.1 7.2 0-74.4-257.8 0 0 70.1 4.9 4z" fill="#faf6f9" fill-rule="evenodd"/><path d="M5.9 70.7l1.8 .1 2.1-1.3 4.3-7.2 .1-2.5 1.2-1.1 7 1.2 4.9 2.2 1.4 0 1.4 1.8 5.6-.2 5 1.9 5.5 1.2 3.5-.1 2.1-.8 7 .8 5-1.2 2.1 .5 4.7-1.2 .8-.8 .1-1.2 3.5 .2 1-1.6 3.2-1.4 4.9 1 3.5-.6 4.2-2.4 2.8 .2 2.1-2 1.1 .2 1 1.6 2.1-.5 1.4 1.2 2.1-.2 4.2 1.5 4.2 .4 2.8-.9 2.1-1.6 3.5 .9 5.6-.8 1.4 .4 2.1-.7 1.4 .9 2.1-.4 1.4 .8 1.4-.8 2.1 .6 1.4-.6 5.6 .7 4.9-.9 4.2 .9 10.5-.3 5.6 .6 4.2-.9 2.8 .4 5.6-.5 1.4 .3 6.4-1.3 9.8 .3 .8-.2 .6-1.7 2.8-.8 3.5 1.6 1.4-.7 .7-1.6 1.4 .8 3.5-1.9 2.8 .4 1.4-2.1 .7 .1 .6 1.7-1.6 1.7 .3 .5 1.4-.4 .7-1.1 2.1-.1 1.4 1.3 5.6 3 2.1-.7 4.9 1.1 3.5-2.6 2.8 1.6 1.4 2.8 1.8 1.2 .9 2.6 6.4 5.4 0-71.6-257.8 0 0 65 2.8 4.7 4.2 2.6zM15.4 52.8l.6-4.7-1.3-3.4 .1-1.7 5.5-1.6 1.6 1.6-2.1 3.4 1.4 3.3-.2 .9-2.8-.9-1 2.5zM65.2 29.7l-.7-1.7 1.4-1.3 .2 1.3zM92.5 55.8l0-1.4 .6 .4zM15.4 38.1l.2-.9 1.2-.5 .5 1.3-.5 .6zM65.9 -1.1l0-.5 .7 .3z" fill="#fbeff2" fill-rule="evenodd"/><path d="M5 69l2.7 .8 1.4-.8 3.6-6.7 .4-4.2-.3-2.5 .5-1.7-.8-3.3-.6-.8-2-.1 1.2-1.6-.1-.9-1.3-1.7-.2-2.5-1.8-2-1.4 .2-2.1-1.1-1.4 .5-1.4-.3-1.4 1.9-.7 .1-2.1-1.4 0 20.5 2.8 4zM253.8 66.5l1.2 .4 0-27.4-.6-.7 .6-1.1 0-39.9-10.2 0-.3 1.6-1.4 1.3-1.4-1.3-2.1 2.7-1.4 .8-.7-.1-3.3-5-5.9 0 .8 1.1 2.1 0 2 2.3-.3 .8-1 0-3.5-1.3 0 2.1-.7 .4-1-.4-.4-.8 .4-1.7-.4-2.5-22.2 0 .5 .9-.7 .1-.1-1-3.6 0-.5 .8-1.2-.8-2.6 0-.4 .9-.9-.9-20.5 0 .8 .9 .1 1.6-.6 1.7-1.4 .5-.7 2.9-.7-.2-1.8-2.4-1.4-2.5 .4-1.8 .7-.6 2.1 .9 1.5-1-10.9 0 1.5 2.5-.2 .9-1 .3-2.8-2-1.4 .6-.7 1.4-.7 .2-1-.5 .1-2.5-.7-.9-4.7 0-.7 1-1.4 .7-1.4-.3-.8-1.4-50.9 0-.1 1.1-.7 .6-2.1-1.6-5.2-.1-1.8 1.4-.3-1.4-7.9 0-.1 2.5-2.2 .5 0 2.9-1.4 .7-.7-.5-.4-2.7 1.9-.9 .2-2.5-5.5 0 1.7 .1 .4 .8-.4 1.6-2.1 1.9-1.4-1.3-2.6 .3-.2 1 1.4 .8 .9 1.5-.7 1.7-1.6 .9-.7-.2-.8-1.5 1.3-2.6-1.3-.8 .8-4.2-5.1 0 1.5 .9-1.1 2.5-1 .5-.7-.2-.5-3.7-1.6 .6-.7-.6-6.7 0-.3 2-1.4-1.6-1.4 3.9-.7 .7-2.1-1-.6 1.9 .6 1.2 2.8-1.6 1.4 .3 4.2-4 .2 1.6-.7 1.6 .5 1.3 1.4-.9 1.2 .5 .1 .8-1.3 1-1.4-.6-1.4 1.4-2.1-.7-.2 .6 .9 3.9 1.4-.1 2 2.9-.6 .8-1.4-.4-1.4-2.5-2.1 .4-2.1-1-1.4 .4-2.1-.6-.7 2.5-2.8 2.1-1.4-.9-.5-2.5 .3-1.7-.5-.6-.7 .6 .7 1.7-1.4 1.5-.7-.5-.7-2-1.6-.7-.6-.8 1.5-2 .9-3-1.6-3.2-.7-.4-1.4 .4-.2-1 .2-.4 2.1 .2 .8-1.5-6.6 0-.5 1-.7-.1-.5-.9-16.7 0-1.7 2.5-2.8 2.4-1.6-3.2 1.6-.7 .7-1-4.9 0 0 39.4 1.4-.9 2.1 2 1.4-1.8 2.1 1.5 3.5-4.7 3.3 .5 .9 2.2 1.8 .3 1.2-1.6-2.8-.9 .3-.8 3-.4 1.4-1.1 4.1 4.8-.3 2.5 2.5 4.2-.5 3.4 .9 2.5 0 1.7 3.8 1.5 .7-.1 1.4-1.4 .5 .8-.4 .8-3 1.7-.4 .9 .3 1.6 1.7 2.5 .6 .4 1.4-.9 .9 1.4 2.6 1.8 2.1-.2 2.1 1.4 2.1 .3 2.1 1.5 4.2 .7 6.3-.6 5.6 1.1 7.1-1.1 3.5-1.8 3.5-3.2 3.5-2.2 4.9 .6 .6-.8-.9-1.7 1.5-2.5 .9-.5 3.5 2.4 2.1-1.5 1.4 1.4 2.9-2.7 .2-2.5 1.1-.6 .6 1.5-.4 1.6 1.2 1 1.9-.1-.4-1.7 1.7-3.3-.4-2.8-.7-.1-1.4 1.8-4.2 1.1-.7 .8 .1 1.7-.8 1.9-2.1 .5-.7-.7-.5-.9 0-2.5 1.8-2.5-1.4-2.5 .4-3.4-1.7-2.5 .7-1.1 1.4 .6 2.1 1.9 .7-.3 .7-2.1 2.8 1.4 1.4-.2 .8 .6 1.3 2.9 2.8 1.8 1.8-3 1.2-.8 4.7 .3 .9 3.9-.7 1.6-3 1.6-3.5-3-1.4-.1-1 1.5-.2 3.4 1.2 1.1 2.1 .3 .7 .7 .7 2.1-.7 1.7 1.4 1.2 1.9-1.2 1.6 .3 .7-.7 2.1-.3 1.4-.9 .7 .3 .4 1.3-1.3 1.6 .9 1.1 1.7-1.1 .2-.8 .9-.2 4.2 .8 11.9-.5 .6-2.6 .8-.7 1.1 .7 .2 2.5 .7 .8 2.2 .5 2.1-.6 2.1 1.1 2.8-1.1 1.4 .9 4.9-.1 3.5 .8 5.6-.1 2.1-.6 4.2 .6 2.1-.7 2.8 .9 4.2-.9 2.1 .6 4.2-.4 2.8-1 5 .3 3.5-1 1-.8-.2-4.2 1.3-2.1 2.1 .6 2.8-.7 3.5 1 2.1-.4 2.1 .5 2.1-.6 1.4 .2 2.8-1.3 2.1 1.7 3.5-.1 5.6 1.6 1.4 2 2.1 .7 2.1 2.3 2.8-.5 4.9 .4 2-1.1 2.9-.4 1.4-.8 2 2.8 .8 2.9 2 1.3-.1 1.7 .9 1.7zM-1.4 36.3l0-2.3 .7-.4 .2 1.1zM4.9 11.5l-2.8-3 1.4 .1 2.1 1.3 .5 1.3zM25.9 10.7l-1-4.5-1.6-1.7 0-.8 1.2-1.2 3.5 3.6 .6 2.6-.1 .8zM33.6 28.3l-.8-1.2 .1-3 2.8-3.1 2.6 2.8-.1 1.6 1.3 1.7-1 .6-1.3-1.4-2.2-1.1-.7 1.1 .7 1.7zM41.3 29.8l-1-1.8 1.7-1.1 .5 1.1-.2 1.6zM44.1 27.6l-.4-.5 1.8-4.2-2.1-1.2-3.5-.6-.9-.7 .1-1.6-1.3-1.7 0-1.6 .7-.5 2.8 .6 2.1 3.8 1.1-.6 .3-1.5 .7-.1 1.2 3.2 2.1 2.5-.2 1.7-1.9 2.5-1.2 .6zM49.7 18.9l-.7-2.1 2.8-2.2 .8 .8-1 3.4-.5 .4zM50.4 28l-.2-.9 .9-.6 .2 .6zM53.9 15.4l-1.2-.8-.7-1.7 .9-3.4-1.3-1.6 2.3-1.2 1 .3 .3 1.7-1.5 2.5 .3 1.7 1.3 .6 1.4-.4 .5 1.5-.1 .8-1.1 .5zM54.6 34.2l0-2.1 .7-.4 .4 1.3zM64.5 32.3l-1.2-1.8-.3-3.1-1.4 0-1.4 1.2-.7-.6 0-1.5 1.4-.3 2.1-1.9 .8 1.7 3.7-1.4 .8-1.7-2.3-1.6-.3-.9 1.6-3 1.4-.6 0 2 1.6 2.5 .2 2.5-2.5 1.6-1.1 5.1-1.7 2.2zM65.9 55.7l-.7-.4 0-.7zM70.1 52.6l-.5-.4 .5-2 1.4-1 1.1 1.4 0 .8-1.1 1.3zM72.9 40.2l-.4-.5 1.1-.5 0 1.2zM110.7 43.1l0-1.1 .7-.1 0 .9zM112.1 48.2l-.7-1.8 .7-1.6 1.4-.9-.8-2.5 .8-1.4 2.4 4.7-2.4 2.8zM118.4 45.6l-1.2-.9-.5-1.7 1.7-1.9 2.1-.8 1.4 2.7-2.1 2.6zM124.7 53.9l0-2.5 .7-.8 1.4-.3 .7 .6 .2 1.3-.9 1zM158.3 40.6l-2.8-.3-.7-.6-.6-2.5 .6-.8 1.4 1.4 4.3 1.9-.6 .8zM165.3 49.9l2.8-1.3 .7 .3 0 .8zM171.6 49.9l-.4-1 1.9 0 .1 .8zM180 4.4l-.4-.7 .4-1.3 2.1-.3 .3 .7zM229.8 39l-2.5-1.8 .4-.8 2.1 0 1.2 .8 0 .8zM234 4.7l0-.8 .7-.2 .3 .8zM241.7 5.1l0-1.8 .7-.8 .7 .1 .4 1.1zM244.5 2.9l.5-1.7 .9-.8 1.7 1.6 0 .8-1 .7zM246.6 41.8l-.6-1.3 2.2-3.3 .5-1.8 3.5-3.5 .7 0 .5 3.6-.3 .8-2.5 .9-1.9 4.4zM252.2 40.7l-1-1 .3-1.5 1.8 .6 0 .9zM25.2 1.8l0-1.1 .7 .5zM36.4 20.2l0-1.4 .7-.2 .5 1zM39.2 23.1l-.4-.2 .4-.4zM50.4 22.6l-.2-.5 .9-1.3 .7 .4zM54.6 28.4l-.5-3.8 .5-1.6 .7-.4 1.1 .3-.7 5.1-.4 .7zM58.8 18.3l-.9-1.2-.4-1.7 1.5-1.7 1.2-.5 .6 3.9-.6 1zM59.5 21.9l-.3-.6 .3-1.1 1.2 1.1-.5 .6zM63.8 12.9l1.4-1.4 1.2 .6-.5 1.3zM65.9 48.1l0-1.1 1.2-1.5-.3-1.6 1.2-.9 1.4-.1-.1-2.4 .8-.4 .7 2.1-.4 1.7 .6 3.3-.2 1.1-4.2 .5zM72.2 18l-1.1-.9 .4-1.5 .7-.2 .6 1.7zM121.2 40.1l0-.5 .9 .1zM124.7 46l-1.2-2.1 .5-1.2 1.5-1.3 1.3-.3 1.4 1.8 1.8-1.5 .3-1.9 .7 .9 2.1-.2 2.8 .9 3.5-1.3 4.2 .4 1.4-.7 .9 1-3 1.2-2.1-1.1-.7 .2-2.1 1.8-2.1-.4-2.1 .9-2.1 .1-2.1 1.5-.7-.1-1.4-1.5zM165.3 36l0-1.4 .4 .9zM166.7 2.1l-2.6-1.8 1.2-1.8 1.4 .7 .9 2-.1 .8zM251.5 5.8l-.8-2.1 .1-1 .7-.3 .8 2.1-.1 1.1zM63 11.4l-2.8-1.5 0-1.2 3.4 0 .2 1.7zM69.4 30.7l-.2-1.9 .9-.2 .5 1.9-.5 .7zM75 19.7l-.3-.9 1.7-2 1.4-.6 2.1-3.2 1.4 .1 .7 1.5 0 1.6-.9 1.7-1.2 .6-1.4-.3-.6 1.4-.8 .4zM60.9 3.9l-1-1.1 .3-.8 2.2 .8-.1 .9zM70.8 13l-1.4-1.2-2.1 .1-.5-.7 .2-3.3 1.7-4.2 2 1.7-.1 1.6 .9 .6 1.5-.6 0-.8 2-1.3 .7 0 2.1 .5 .7 3 1.9 .3 .6 .8-2.6 2.6-2 .3-.5-.3-.2-3.5-2.1-.7-.6 2.5 .6 2-2.1-.2zM79.9 5.5l-1.2-4.3 1.9-.5 2.1 .9 1.4-1.2 .4 1.6-1.8 .8-.7 2.4zM101.2 55.6l1.1 0 .6-.8-1.3-1.8-1.4-.2-2.3 1.1 .9 1zM197.5 54.8l.8 .3 .4-.3 1.6-2.6-.4-.8-.9 0zM106.5 44.7l.7 .4 .3-.4 0-1.7-2.4-.3 .2 1.2zM36.1 3.7l1.7 .3 1.1-1.2-.1-1.6-1.6-3.4-4.7 0 .5 5 .6 .7zM242.4 -2.2l.7 .4 .2-.4z" fill="#fce8ec" fill-rule="evenodd"/><path d="M5.7 68.1l2 .8 1-.8 3.2-5.8 .5-4.2-.9-2.5 .4-1.7-.2-1.7-3.1-2.5 .2-2.5-1.8-.8 .5-2.5-1.2-.7-1.4 .3-1.4-1.8-1.7 .5-1.8 2.5-1.5 0-1.3-1.1 0 15.3 .5 1.7 2.3 3.6zM55.8 64.8l3 .3 5.7-1.4 4.2-1.8 1.8-2.1 .9-3.4-1.1-1.6-3-1.3-.5 .4 .9 2.5-.4 .3-2.1-.3-1.1-1.6 .4-1.6 3.5-1.6 .4-1-3.1-.9-.8-3.3 2.9-7.6-.5-3.3-1.7-.7-2.2-1.9-1 2.6 .6 2.5-1 .8-.8-.8 0-2.5-.6-.9-.7-.2-1.4 2.6-2.1-2.3-1 .8-.2 2.5-1.6 0-2.1 1.8-1.4-1 1.3-2.5-.6-1.1-8.4-3.1-2.8-3.1-2.8-.6-4.9 2.1-.7-.9 .9-2.5-.3-2.5 1.1-5-.3-2.5 .7 0 .7 2.3 .7 .1 1.2-1.6 .2-1.7-1.4-1.2-2.8-1-.7-.9-2.8-1-2.1 0-2.9-1.7 .8-.6 .7-1.9-2-2.5-.3-2.6-1.3-2.5 .6-1.6-.5-.8-.7 1.3-2.2-1.4-2.7 0-2.1 1.3-1.4 .1-2.7 2-2.2 .1-.7 .7 .3 .8 1.1 .2 .3 .7-.3 2-2.1-1.5-2.1-.2-.9 .5 .9 2.5 5.5 5.1 .5 1.6-1.1 2.1-1.4 .7-1.1-1.1 .1-1.7-.5-.8-1.3-.3-2.1 .4-2.1-2.2-2.8 2.6 0 18.5 .7-.8 4.2 1-.9 1.7 .2 .5 .7-.3 .7-1.5 2.8-1.4 4.9 1 6.3-1.5 2.8 1 2.8 3.5-.4 2.9 .4 1.7 2.6 4.2-1.3 1.6 .1 1.6 2.8 1.7 .5-1.6 .9-.8 1.5 0 .4 2.5 2.3 2.3 .1 1-3.1 2.6 .2 .6 1.5 .2 2.7 4.1 1.4-.3 2.8 2.4 2.8 .4 2.1 1.4 1.4-.4 2.1 1.3 6.3-.4zM2.8 17.1l0-1.2 .7 .2zM32.2 38.9l-.1-2.6-.9-1.6 .3-1.7 2.8 2.4 4.6 .1-.4 1.7-2.8 1.9zM41.3 46.3l-.2-.8 1 0zM47.6 38.1l-.3-.9 1-1.2 1 2zM52.5 49.8l-1.9-2.6 2.3-3.3 0-2.5 1.7-1.1 1.4 .6 .7-.7 .6 .3-.3 5.9-3.1 1.6zM38.5 53.1l0-2.7 .7 .1 .1 .9zM251.9 64l1 .5 2.1-.9 0-21.5-.7-.6-2.1 .6-1.4-.4-2.1 1-2.8 .2-1.8-2.4-3.2-.8-.8-4.2 .5-1.7 1.1-1.2 .5 .4-.1 1.7 1.7 .1 .6 .7 .1 1.7 .7 .4 2.1-1.5 .2-1.4-.2-1.1-2.1-.5-.7-1.9 1.4 0 2.1 1.8 1.4 .1 3.5-3.1 1 1.3 .3 3.4 .8 .6-.4-3.2 .4-.2 0-17.5-1.2-1.5-.2-2.5-1.4-.2-1.4-2.8-3.6-1.2-1.3-1.9-2.1 .6-2.1 1.9-.9-.6-1.2-2.4-.7 0-1.4 1.5-1.4-.1-1.4 1-1.9-.8-.2-1.7-.7-.4-1.2 1.2-2.3 .5-2.8-1.6-1.4 .6-3-1.2-.2-.8 1.5-1.7-.4-.8-5.6-.7-2.6-1-1.2 0-1 1.7-.8 .1-4.5-1.8-1 1.7-1.5 .5-.7-.2-.7-1.5-.7-.3-2.1 2.4-2.1-2.1-.7 0-1.4 1.5-1.8-2-5.7 0-1.7 1.1-1.1-1.1-1.2 0-1.2 1.1-2.8 .6 .7 .9 2.1 .1 .8 .7-.2 1.6-2 2.6-2.1 .7-1.4-1.9-.7 .2-1.4 2.4-2.1-.3-2.1 1.3-.7-.1-1-2.3-1-.9-2.2-.6-2.1-1.7-2.1 .4-1.4-.4-1.4-1.9-.7 .2-1.4 2.3-2.8 .4-2.1-1.4-2.1-.4-1.4-.9-3.5 .7-.7-2.1-2.1 .7-1.4-.7-2.8-.2-1.4 1.1-2.8-1.1-3.5 .7-1.4-1.4-2.1 .3-1.2-.7-1 0-.4 .9-.9 .3-3.5-.7-2.1 .4-1.3-.9-20.8 0-1 2.5-1.4 .2-2.1-.7-2.8 1.4-.4 .8 .4 1.7-.7-.1-.4 .9 .3 2.5-1.3 1.6-.7 4.2-.7 .4-2.1-1.4-1.1 .3 1.4 4.1-3.1 4-.9 .2 1.1 1.7-.9 5.3-2.3 1.4-.5-2.5 .6-.9-.6-.4-.7 .7-2.8-.5-1.1 1.1 1.1 1.5 2.1 .4 1.7 1.4-1.2 1.7 .2 3.7-2.8 .1-1.2 2.1 2.3 1.6-.4 2.2-1.8 1.2 .3 5.9 1 1.6-.7 5.1 1.2 1.1 2.1-.8 1.4 1.6 .9-.3 2.8-4.2 1.9-.2 1.4 .7 .9-.5 .2-4.1 .8-1.7-1.2-1.7-.4-2.5 .7-2.5-.6-2.5 1-1 2.8 .4 1.3-1.9 2.2-1.2 3.5 1 2.1 3 11.9 1 1.1-.5 1-1.4 .7 .2 4.2 3.7 2.3-1.7 2.6-.6 2.8 1.9 3.5-.2 2.1-2.1 1.4 1.2 3.5 .5 4.9-1 2.8 .2 2.8-1.4 2.1 1.8 1.4-.6 1.2 .3 .5 .9-.4 1.7-.6 .8-2.1 .8-.7 .1-1.4-.8-4.9 .2-2.8 1.1-5.6 .6-2.1 1-3.5 .4-.8 2.5 3.6 3.8 3.5-1.3 4.2-.1 3.4 .9-2.7 .6-1.9 1.1-.3 1.7 .8 .9 3.5-.3 2.1 1.3 2.1-1.1 1.4-.1 3.5 1.2 2.3-.3 3.3 .8 7.7-.4 4.2 .4 2.1-.7 3.5 .8 4.2-1 2.1 .7 4.2-.7 2.1-.9 5 .5 1.4-1.5 2.2-.5-.8-1.5-3.6-1.8 0-1.7 .8-.8 1.4 1.5 2.1-.6 2.1-1.6 2.8 .5 2.1-.7 4.2 .8 .9-.8-.3-1.7 .8-.5 .7 2.2 1.4 1 4.2-.8 1.4-.8 2.8 1.3 1.4-.8 3.5 1.9 4.9 1.2 3.3 2 1.6 2.4 4.9-.4 2.8 .4 3.5-1 3.5-2.1 .9 .7 2.1 5.9 1.9 2zM248.7 15l-.7-.5 0-1.7 .7 .1zM98.8 33.1l-.8-1 1.5-.9 .3 1.8-.3 .5zM153.4 40.8l-1-1.1-.1-2.5 1.1-1.7-.1-.8 1.5-.1 1.4 1.9 3.5 1.3 3.5 .1 .7-.2 .1-1.4-1.5-1.7 2.8-.8 1.4 .2 .4 .7 1 5-3.5-.8-4.9 2.4zM157.6 51.4l-2.4-.8 .1-.9 4.4-1 3.3 1-3.3 .6zM165.3 50.7l-2-1 .8-.8 3.3-1.2 2.8 .7 2.1-.6 2.1 .9 2.8-1 1.1 1.2-.1 .8-1.7 1-6.3-.4zM183.5 52.5l0-1.2 .7-.3 1.3 .4-1.3 1.5zM185.6 21.2l-2-4.1 2-.9 1.6 3.4-.3 .8zM192 23.1l-.7-.3-1.1-2.4 .4-3.9-1.5 .4-1.5-.7 1.6-1.6 .7-1.5 .8 .6 .3 2.5 1.7 1.1 .7 1.8 1.4 1.3 0 1.2-1.4 .3zM194.8 25.5l-1.3-.9 .6-1.2 .7 0zM197.6 24.1l-.6-1.2 .6-.7 .9 .7-.2 1zM204.6 32.2l-.4-.9 .4-.5 .6 .5zM206 43.8l-.1-2.4 .8-.4 .3 1.2zM212.3 42.4l-1.4-1.5-2.5-.4-.3-.8 2.8-3.3 1.4 2.1 .7-.5 1.4-3 1 1.3-.4 4.2-1.3 1.7-.7 .5zM220.7 35.8l-.6-1.1 .6-1.4 .7 2.2zM229.1 39.8l-3.5-1.8-2.1 1.2-.8-.4 .1-.8 2.1-.9 1.4-2.2 1.4-.2 1.4-3 .7 .4 .7 2.6 .7 .7 1.4 .9 .5-.8 .9-.1 1.4 1.7 2.8-.2 .9 1.1-4.4 2.4-2.8-1.2zM173.7 13.9l-.5-1 1.2-.5 0 1zM176.5 24.8l-.9-1.9 .9-.5 .7 1.4zM177.9 22.2l-.5-.1 0-.8 .5-1.2 .7-.2 1 1.4zM178.6 15l-1.3-4.6 .5-1.7 .8-.5 .7 .1 .5 1.2 .2 4.2zM116.3 53.9l1.6 0 .3-.8-.5-.9-.7-.2-1.2 1.1zM121.6 53.9l1 .7 .8-.7-.3-2.5-1.4-2.5 1.1-2.5-.9-.9-2.8 2.6 0 .8zM105.9 52.2l.6 .7 2.8-.4 1.4 .3 .5-.6-1.9-.2-.7-1.4 1.4-2.1 0-1.4-4.9 1.8-.4 .8 1.4 1.7zM114.9 50.6l1.4 0-.7-.9-.8 0zM101.5 48.1l.8 .4 .3-.4-.3-.5zM117.6 47.2l.8 .6 .2-.6zM-2.8 34.7l0 .6 0-2.1zM51.7 33.8l.8 .5 .7-.8 .1-1.4-.8-.6-1.6 .6zM57.4 33l1 0 .4-.8-.7-1.2-1 .3zM75.4 22.9l1.7 .3 .4-1.1-.4-.8-2.6 0-.2 .8zM152.4 -.5l1.7 .5 .4-1.3-1.1-.7-1.2 .7zM53.2 -1.3l.1-.9-.5 0z" fill="#fbdde2" fill-rule="evenodd"/><path d="M5.3 66.5l1.7 .6 3.1-2.3 1.1-2.5 0-2.5 .7-1.7-1.5-2.5 .7-1.7-.5-1.7-2.2-1.6-.7-2.8-2.4-.6 .1-1.7-1.9-2.1-.7-.2-.8 1.5-2 .8-2.8-.5 .2 11.4 1.1 4.2 1.5 2.8zM0 59.1l-.4-.2 .4-.2zM53.5 64l3.9 .4 5.6-.9 2.9-1.8 2.8-.7 .7-1.2-.7-1-3.5-1.8-2.2-2.8-2.2 .6 .1-2.1 2.1-1 1-2-.2-1.3-2.2-.7-.1-1.3 3.8-4.2-2.3-1.6 0-.9-2.1-.4-1.4-1.7-1.1 .4-.6 .8 .5 1.7-.6 2.5 .6 3.4-.9 1.6-2.6 .9-1.2 1.7-1.1 .6-1.4 .2-1.4-.5-3.5 1.1-2.8 2.4-1.4-.3-.2-1 .8-1.7 1.7-.8 1.2-2 1.4-.1 .7 .8 1.4-.5 1.6-4.9-.9-1.8-2.1-.7 0-1.7-1.3-2.5 .7-1.7-.6-.8-1.6-.9-1.4 .5-2.1-1.3-1.3-2.5-1.5-1.2-2.1-.2-1.4 .5-2.2 1.7 0 .8 2.9 2.8 3.5-.6 .6 .4 .3 .8-.9 2.1-3.5 2.4-3.9-.3-.8-.9 .3-1.6-1.2-1.7 .5-4.2-.9-1.7 .9-2.5-.5-1.2-1.6-1.3 0-.8 2.3-1.8 1.2-2.4-.9-4.2-.9-.8-5-1.9-2.8-.6-2.8 .2-3.8 3.1 0 1.7-2.5 .9-3.5-1.5-2.8 .8-2.1-.6-2.8 1.2-.7-.8 .3-2.5-1.7-2-.7 .2-1.4 2.1-.7-.4 0 14.2 1.4-.8 1.4-1.8 .7 .3 .6 1.6-1.4 .8-.2 .8 1 1.1 1.3-.2 .8-2.5 1.4-.5 3.5 2.5 1.4-.1 1.4 1.3 6.3-1.2 4.9 1.8 1.7 3.7 .2 5 1.9 2.5-.6 3.4 1.7 .2 2.8-1 1.4 2.1 3 .4-.5 5 1 4.9 2.1 .9 2.1 2.5 3.5 .3 2.1-1.5 1 2.9 1.1 .8 2.8-.3zM58.1 49.9l.1-1.8 1.6 0-.3 1.6zM16.1 21.6l-.7-.4 0-1.2 .7 .5zM37.8 59.1l-.6-1 .9-2.5-1.3-2.5 .1-.9 .9-2.2 1.4-.4 .9 1.8-1.4 4.2 .6 2.5-.3 .8zM41.3 47.3l-1.1-1.8 2.5-1.6 .7-2.6 2.1 .1 .1 .8-2.9 4.5zM46.9 56.6l-.3-1 .3-.8 .7-.2zM40.6 39.7l.2-.9 1.2-.8 0 1.8zM252 63.1l.9 .7 2.1-.8 0-19.1-1.4-.9-2.8-.1-1.3 1 .4 1.6-.5 .7-1.4-.7 1-1.6-1.7-.2-1.4 .8-.7-.3-.7-2.3-1.4-1-4.2-.3-2.1-.6-2.1 1.3-2.8-1.4-2.1 .7-2.1-.8-4.9 .8-2.8-.6-.8 .5-.6 1.9-1.4-1.2-3.5 2.4-.7 .1-3.5-2.3-1.4 .2-.9 1.4-.5 1.7 1.4 2.2 4.2-.2 1.4-1 2.8 1 2.1-.2 1.4 1.4 3.5 1.3 3.5 .3 2.8 1.9 1.4 1.8 1.4-.3 1.4 .6 1.4-.6 2.1 .4 1.4-.4 2.1 .5 4.2-2.7 3.5-1.1 .6 1 .1 2.5-.5 2.5 .8 2.5 1.6 1.7zM251.5 46.4l.7-.6 .1 .6zM153.2 56.4l1.6 .4 2.8-.4 1.4 .4 3.5-.4 4.2 .3 2.8-.5 2.8 .7 4.2-1.2 1.4 .5 4.9-.5 1-.9 0-.9-2.3-2.5 3.4-1.7 2.1 .4 2.9-2.9 2.1 1.4 4.9-2.9 1.4 1.1 2.1-1 1.4 .9 1.7-.3 1.6-2.5 .3-3.4 1.1-1.7 2.3-.6 .5-1-.6-4.2 2.2 .3 1.4 3.5 1-3-.3-2.5 .7-.3 1.3 .3 .8 2.6 1.4 .1-.4 2.3 .4 1.6 2.1-.1 .6-.6-.7-2.5 .5-1.7 1-1.1 .8 .2 1.3 1.6 1.4-.8 2.8 .4 1.6-2 1.2-.6 1.4 2.4 3.5 1.4 .7 .1 .7-.9 .1 1 1.3 .7 .9-.7-.9-1.4-.7 .3 0-1.1 2.1-.2 1.4 .4 4.2-3.4 2.1 1.4 2.8 .5 .9-.7 0-1.7 .5-.4 4.2-.1 0-11.6-2.2-.5-.4-1.6-1.8-2.5 0-2.6-1.2-1-.5 .2 .8 2.5 0 3.4-.3 .9-1.4 .3-1.1-2.9 .7-1.7 .1-3.3-1.8-.2-.7-2.4-1.7 .9-.2 1.7-3.7 .5-2.8 3.3-.7 .1-1.4-4.3-2.8-.8-1.4-1-1.4 .5 0 1.2-1.4 .2-1.4-2.7-2.8 .4-.7-.9-2.1-.6-1.5-2.6-1.3-1-2.1-.4-1.4 .4-.7-.5-2.1 .8-2.8 0-1.4-1.2-4.2 1.7-.7-.2-.7-1.4-1.4 1.7-.7 .1-2.1-2.1-2.1 1.4-2.1-2.3-4.3-.4-2.8 1.9-1.4-.6-.7 .4 .4 2.5-1.5 2.5 .5 2.5-1.4 1.7 1.3 1.8 1.4 .5 .7-.6 .7 .8-1.4 .3-1.4 2.2-1.4 .4-1.6 1.3-.4 .8 .4 1.7-.8 .9 .3 .8 .7 .5 .7-.3 1 1.5 1.1 .6 .7-.6-.4-1.7-1-.3-.7 .5-1-1-.1-.9 1.8-1.7 2.1-.9 2.1-2.1 .7 .2 2.2-1.3 1.4 .2 .7 1.6 .7 .2 1.4-1.4 1.3 1 0 .9-1.3 1.6 0 1.7 2.1 3.9 1.4-.3 1.1 .6 .3 2-1.4 1.3-1.4-1.1-.3 2 1.1 1.7-.8 1-1.4-1-.9-1.7-3.3-2.2-.7 .5 1.5 1.7-.8 2-.9-.3-.6-1.8-1.4 1.1-2.1-1-1.4 1.4-2.1-2-1.1 .6-.9 1.7-1.5 .9-2.1-2.1-1.8-3.9 0-.8 1.8-1.6 .8-1.7-1.7-3.4 .9-1.2 0-1.3-.7 .2-1.4 1.9-.7-.1-1.6-2 1.1-1.7-.4-1.7-1.2-.2-2.1 1.3-2.8-1.1-.6-.8 .6-.8 .7-.3 2.1 .5 0-1.1-.7-1.1-2.1-.7-2.1-2.2-4.2 1.3-.9-.6-.5-1.3-1.4 1.3-2.8 .1-2.8-1.2-3.5-.6-.3 .8-1.1 .4-1.4-.9-1.4-2-1.4 .5-3.5-.8-2.1 1.1-1.4-.7-2.1 .8-.7-.5-2.1 .1-2.1-1.3-4.2 .8-4.2-1.2-2.1 .5-1.4 2-.6-.4-.1-1.8-1.4-.5-2.1 .3-.7-.9-1.4-.4-3.5 .8-1.2-.9-5.8 0-1.4 1.5-1.5-.6-2 2.6-2.8 0-1.3 .7-.1 2.5-.8 .9-.1 1.6-2.2 1.7-1.1 5.2-1.7 3.2-3.3 3.3-.9 3.4-.1 2.5-1.6 4.2-2.2 1.6 0 .9 1.1 1.7-1.1 3.3-1.4 .9-1 2.5-1.4 1.6 1.8 6.7-.6 1.7 .5 1.2 2.8-.5 1.4 1 2-1.7 2.5-.8-1.4-3.4 2-2.5 .5-5-.7-.9-1.5 0 0-.8 1.5-2.5 4.2 .2 4.2-3.5 4.9 1.9-.8-2.8 .8-.5 2.8 0 .4 4.7 1 1.1 1.5-.3 .4-2.5-.4-1.7 .6-.4 .7 .3 .1 4.3 .6 1 1-.1 1.1-1.9 2.1-.6 1.4 .6 2.1-.1 2.1 1.9 2.1 .9 .7-2.5 1.7 .8 1.1 1.3 2.8 .2 1.4-3.3 .7-.7 1.2 0-.9 2.5 1.5 .9 .3 1.7 .7-1.4 2.8-1 1.4 1.3 2.8 .6 1.3-.4 .8-1.8 .5 .1 .1 1.7 3.6-1.3 .7 .8 .7-.1 2.1-2.4 2.1 1.9 2.8 .6 .9-.3 .9-2.5 1-1.1 2.1 .2 3.5 2 3.5 .8 .1-1.1-1.1-.8 .3-1.5 4.9-.1 2.1-.7 1.6 3.1-.8 2.5 .3 1.7-1.1 .7-3.5-.5-4.2 1.8-8.4-.3-2.1 1.5-2.8 .7-2.1-.8-9.8 2-2.8 .1-2.1 .9-2.8 .5-.6 .9 2.7 2.8 1.4-1.4 2.8 1.1 8.4 1.1 2.1-1.1 1.4 .6 4.2 .2 9.8-2.4 4.2 .4 2.1-.5 1.4-.9 2.1 .6 2.1-.5 2.8 .8 2.8-.8 1.2 .9 1.7 2.5-4.3 .8-2.1-.5-7.7 .5-2.8-.7-4.2 .4-1.4 .7-4.2-.9-2.1 .7-1.4-.7-1.4 1.5-2.8-.6-3.5 .5-3.2 .8-.7 .8 1.8 .7 2.1 1.5 3.5-1.2 2.1 .4 1.4 .9 2.1-.3zM180.7 32.8l0-1.8 .4 1.1zM200.4 38.2l-.8-1 1.6-2.5-.3-1.7-1.1-1.7 .6-.4 .7 .8 1.4 0 .5-1.2-1.2-2.1-2.1 1-.4-.6 .4-1.6 1.4-.9 1.4 1.3 1.4-.2 .7 .4 1.3 4.3-.6 1.2-2.1 .3 0 3.1zM223.5 7.5l-.6-1.3 .6-.8 .9 1.6zM230.5 11.4l-.7-2.9 2.1 0 .4 1-.5 1.7-.6 .5zM236.8 13.9l0-1.6 .4 1.4zM199 15.4l2.1-2.4 .7 .6-2.1 1.8zM80.6 33.7l-.4-.7 .4-1.3 1.3 .4zM163.2 30.8l0-2.1 2.1-.1 1 1-.3 1.2zM170.9 27.5l0-.5 .8 .1zM173.7 26.8l0-.7 1.1 .2zM185.2 54.8l3.9 .5 1.2-.5 .2-.9-.6-1.1-2.2-.6-3.1 1.7zM216.4 40.5l.1 .5 .5-1.3-.5-1.6-.5 1.6zM74.6 37.2l.8-.9-.4-.4-.8 .4zM178.5 24.6l1.5 .5 .4-1.3-.4-.9-1.4 .2-.4 .7zM187.8 18.8l.6 .3 .1-1.2-.8 0zM34.1 17.1l.2 .7 0-1.2zM13.3 14.6l1.4 .5 1-2.2 2.5-2 2.8-1 1.1-2-1-5.1-1.5-2.1-1.4-.9-1.4 .6-2.1-.7-2.8 .5-3.1 1.8-.4 3.4-.7 1.4-.7 .2-1.4-1.6-1.1 .8 .4 1.4 1.4 .6 4.2 4.1 1.4-.1zM175 10.4l.8-.2 0-1.9-1 .4z" fill="#fad2d8" fill-rule="evenodd"/><path d="M5.1 65.6l1.9 .6 3.1-2.2 .6-2.6-.2-2.5 .5-.8 0-.8-1.4-1.7 .9-2.5-2.7-2.5-.8-2.2-2-.3-2.2-2.1-4.2 .2-.7 .3-.5 1.6 .5 8.5 .7 1.1 2.1 .3 .5 .9-.5 1.4-1.4 .3 .7 1.8zM45.8 63.1l1.1 .4 5.6-.2 2.8 .6 4.2-.3 3.5-.7 1-.6 .5-1.6 3.5-.9-1.6-1.7-1.2-.4-2.2-2.6-2.1 .5-.9-.8 .2-3.3 2.1-.6 .7-1.2-.5-.8-.9-.1-.7 .4-.7 2.1-2.8-.2-2 1.1-2.2-.2-3.5 1.3-1 2.3 0 2.5-.8 .8-1.2-.8-.9-1.7 .4-3.1-2.8 2.1-2.8-.6-.7 .3-.5 4.7 2.6 .7 2.8-2.4zM57.4 56.2l-.5-.6 .5-2.3 .7 .2 .5 2.1zM252.7 63.1l2.3-.5 0-17.7-.7-.1-.4 2.4-2.5 .9 .7 2.5-1.9 1.6-.6 2.6 .5 2.7 1.4 1.4zM35.6 57.3l.8 0 .6-1.7-.1-.8-1.5-1.7 1.1-1.7 .6-2.2 2.8-.3 1.4 1.9 1.5-1.9-2.4-.8-1.5-2.6 .5-.8 2.6-.8 .4-1.7-.4-.9-3.5-2.2-2.1 1.3-6.3-.1 .1-2.3-.9-2.5 .6-3.4-1.3-3.3 .6-1.7-1.8-3.3 3.4-2.7 .8-1.5-1.5-4.2-1.4-1.1-3.5-1.1-4.2-.2-2.1 .5-1.9 1.9-1.5 3.4 1.6 2.5-.3 1.4-1.9-1.4-.9-2.5-2.8-1.1-1.4-.3-2.8 .5-2.1-.4-2.8 .8-1.4-1.2 .4-1.7-.4-1-.7-.3-.9 2.1-1.9 0 0 11.3 1.4-.5 1.4-1.6 2.1 1.9 2.8-.5 2.8 2.1 2.1 .1 1.4 1.1 5.6-.6 2.1 .9 3.5 .2 .7 .7 1.5 7.5-.4 1.7 2 2.5 .1 2.5 3.1-.3 1.4 1.6 2.9 .4 1 .9 .3 .8-.7 2.5 .7 5zM25.2 28.4l.7-1.2 .3 .8zM154.7 56.4l2.2-.5 2.1 .5 7.7 0 3.5-.6 2.1 .7 5.6-1.7 1.4-2 1.4 2.4 1.4 0 .7-.4 .1-.9-.8-1.2-2.1-.8-7-.6-7 .4-2.1-.5-6.3 .9-3.5-.5-2.1 .6-2.1-.2-1.7 1.9 1 1.7 2.8-.1zM141.3 54.8l.9 .7 1.4-.8 3.5-.8 .1-.8-2.2-.2-2.8 .7-.8 .3zM233.6 52.2l1.2 0 .6-1.1 1.4 1.2 2.8-.3 1.4 .6 4.9-2.9 1.2-1.6 0-.9-2.6-2.5 0-1.7-.7-1.1-2.1-.8-2.8 .3-2.1-.9-2.8 1.1-2.1-1.3-2.1 .7-4.9-.2-4.9 1-1.4 2.9 0 .8 1.4 1.8 4.2 1.7 2.8-.5 1.4 1.4 2.6 .7zM75.9 50.6l1.2 .4 2.1-.8 .8-2.1 2-2.6-1-2.5 .3-.5 2.2 .5 .4-2.5-.5-.7-1.4 .4-.5-.5 1.2-4.2 1.4-1.1 3.5 .6 .9-1.2 1.9-.5 2.1-2 2.8 1.1 1.2-1.9 3.7-.3 .8 1.1 .5 4.2 .8 .4 .6-1.2-.4-2.6 1.2-1 1.4 1 .7 3.2 2.8-1.3 3.5 .1 2.8 2 1.4 .2 0-2.5 .7-.4 4.2 3.2 1.4 .4 .7-.4 1.4-2.9 1.4-.5 1.5 .6 1.3 2.2 2.8-.2 2.8 1.4 3.5-2.1 2.1 .6 4.9-1.6 2.1 1.9 2.1 .1 3.5-3.2 4.2 .5 2.1 1.4 .8-1-.6-1.7 2.6-1 .7-3.2 .7-1 3.2 1.9 .8 .8 .2 1.3 .7-3 1.4-.4 1.4-1.8 1.4 .1 1.8-1.2-.4-3.3 2.1-1.7 .6-.8-.2-.9-5.5-5 0-.8-3.3-1.8-2.1 .4-.7-2-2.1-.8-1.4-2.4-2.8-1.2-4.2-.2-2.1-.7-4.9 .7-2.8-2.7-.7 .1-.7 1.5-1.4 .8-2.1-2.2-2.1 .6-1.4-1-2.1 .8-4.9-.6-1.4-1-3.5 .7-3.5-1.1-1.8 .3-1 2-.7 0-.8-.3-.6-1.9-2.8 .1-1.7-1.5-1.1-.3-2.8 .8-2.8-.6-3.5 .7-1.4 1.3-6.9 2.2-.7 3.4 .4 1.7-1.9 .5-1.1 1.1-.2 1.7-1.3 2.5-.2 2.3-1.3 1.1 .2 2.5-1.7 .6-.7 1.3-1.4 0-1.1 1.4-.3 3.4-1.2 3.3 3.2 2.5-2 2.8-2.1 .3-1.5 2.8-2.2 1.7-.5 2.5-.9 .8 0 1.7zM157.6 30.6l-.7-1 .8 0zM167.4 15.9l-.3-.5 .3-.9 1.6 .9-.9 .8zM156.9 16.6l-.5-1.2 .5-.5 .4 1.3zM139.6 49.7l2.6 .5 2.1-1.1 2.1 .6 5.6-.1 7.7-1.8 5.6 .1 2.1-1.1 2.1 .4 2.1-.4 3.5 .7 2.1-.6 2.8 2.4 2.1 .6 3.5-1.6 .7 .6 1.4-.1 2.9-2.3 1.4 1.1 .7-.1 1.5-1.1 1.3-2.8 2.8 2 2.1-1.2 2.1 1.5 2.1-1.9 .3-1.8-.3-1.6-1.6-1.8-2.6 0-1.6-.8 .2-1 1.4-1.6 0-1.9-2.1-2.7-4.2-1.9-.7-2.1-.7-.2-2.1 2.4-4.3-1.5-2.1 1.1-1.4-.1-1 1.1-.2 3.4-.9 .4-1.1-.4 .4-2.5-.7-.6-1.4 .7-3.5-2.8-1.7 1 .3 .8-.7 .8-2.1-1.2-1.5 1.3-.2 .8 1.8 4.2-.7 2.5 .5 1.7-.7 .8-4.1-.1-4.9 1.8-2.8-.4-5.6 .3-1.4 1-3.5 .9-2.8-.6-3.5 1.1-2.1-.2-3.5 1.2-2.8 .1-.8 .8 .8 1.7 1.4 1zM174.4 31.4l.7-.7 .6 .6-.6 .5zM194.1 37.4l0-1.4 .6 1.2zM196.2 35.1l-.6-1.3 1.3-1.9 .4 2.8-.4 .5zM44.6 47.2l2.3-.3 1.4 .6 .7-1.2 0-1.9-1.4-.1-1.4-1-.7 .2-1.8 2.9zM59.2 46.4l1 .4 .7-.7 2.1-3.9-1-1.7-2.5-1.1-1.1 3.6zM207.9 45.5l.9 0 .7-1.9 .8-.6-.8-.8-1.4 .4-.7 1.3zM210.7 45.5l1.6 .5 .6-1.3-2-1.2zM217.1 45.5l.8 0 .5-.8-1.2-.4zM43.3 39.7l.8 .5 1.9-.5 .1-.9-1.3-1.8-1.4 .9zM205 37.2l2.4-.5 .7 .4-.6-3.3 .6-1.7 2.8-.4 2.8-1.5 2.8-.1 .9 2 1.2 .8 2.1-1.6 2.1 .8 2.8-1.1 1.4 .9 2.8-2.3 1.4 .6 1.4-.5 .4 3.3 1.7 .7 .8-.7 .6-1.7 0-2.7 .7 .5 .7 2.1 2.1 .6 2.8-1.7 .7-2.1 2.1-.9 .7 0 0 2.4 1.4 .3 .6-1-.1-1.7 1.6-1.2 2.1 1.8 3.5-.2 0-10.1-2.1-.1-2.1-2.7-1.4 1.7-2.1 1-1.1-1.9 .2-4.2-.5-1.5-1.4 .7-1.4-1.3-2.1 .1-2.8 1.3-1 1.6 .7 1.6-1.1 .8-2.8-4.3-.7 .1-2.1 2.2-1.4-1.3-.7-1.9-2.1-1-1.4-1.7-.7 1.5-.7 .4-1.4-.5-1.4-1.3-.4-1.3-2.4-3.4-1.4-1.1-1.5 .3-.4 .8 1 2.5-1.2 .4-2.1-3.8-3.5 .5-.7 .8-1.4 .1-1.4 1.5-.7 0-.1-1.2 .7-.8-.6-.5-1.4 .4-1.4 1.3-2.8-1.3-2.1-2.1-2.1 1.3-.7-.1-1.4-2.3-3.5 .1-4.3 2.3-.3 1.7-1.5 1.7 .4 1.2 1.8 1.3-.1 1.7 1.8 2.8 2.9-.3 2.1 .9 1.4-.2 1.9 1 .9 1.4 1-.6-.2-.8-1.1-.8 0-1.7 2.4-.3 1.4-2.6 3.5 1.6 .6 1.3 0 .8-.6 .2-1.4-1.4-1.4 .1-.5 1.1 2.2 1.7 0 .8-5.5 5.1-.8 1.6 2.5 1.3 .8 3.7 2.6 0 .8 .9 1.4 .3 .7 1.1 1 2.8 .2 2.5-.5 1.3-1.4 .7zM207.4 7.4l-.5-.4 1.2-1 0 1zM238.9 25.2l0-.9 1 .3zM240.3 28.2l-.3-1.1 .7-2.5 1-.1-.2 2.6zM187.7 6.8l-.2-.6 .9-.1 0 .5zM35.1 33.8l1.3 .8 2.8-1.2 .8-1.3-.6-1.6-2.3-1-2.9 1-.5 1.6zM13.6 12.9l.4 .4 .7-.3 2.1-1.3 1.4-1.7 1.4-.1 1.2-1.2 .1-4.2-.6-1.7-1.4-1.2-2.1 .3-2.1-1.5-5.2 1.6-1.8 5.9 .7 1.7 4.2 1.7zM164.5 7l.8 0 0-2.5-.7-.7-1.9 .7-.1 .9z" fill="#f9c6cc" fill-rule="evenodd"/><path d="M5.9 65.6l1.1 .2 2.1-1.3 .9-1.4 .2-2.5-1-5 .8-2.5-3.7-4-4.9-2.2-2.8 .1-.6 3.6 .4 5.8 1.6 .4 1.3 1.3 .2 3.3 1.3 2.6zM.7 53.2l-.1-1 .8-.4 .3 .4zM50.7 63.1l4.6 .5 7.7-1.3 .8-2.3 1.3-1.1-.3-.8-1.8-2.5-3.5 .1-1.4 1-1.4-.1-.6-.2 0-3.3-4.3 .1-1.8 1.6-1.3 4.1-1.1 .6-1.4-.2-.4 1.3 .4 2.2zM252.7 62.3l.9 .4 1.4-.5 0-14.8-2.1 1.3 .3 3.5-2.4 1.8-.7 1.6 .7 1.8 1.4-2.3 1.6 .5-1.4 2.5zM40.6 58.1l2.1 .8 .8-1.6-1.5-1.4-1.4-.3-.6 .8zM153.2 55.6l1.6 .5 2.8-.7 1.4 .6 7.7 .1 3.5-.8 2.1 .8 2.5-.5 3-1.7 .5-.8-.5-.9-4.1-.6-2.8 .6-6.3-.7-7 .9-3.5-.4-4.6 1.1-.3 1.7 2.8 .2zM181.4 54.8l.9-.9-.9-1-.7 0-.2 1zM240 51.4l1.7 0 .4-1.7 1.7 .3 1.8-1.1 .5-.8-.1-.9-1.9-1.7-.3-2.8-1.4-1.1-3.5 .2-2.1-1-2.8 1.1-2.8-1.1-1.4 .6-8.4 .5-.8 .3-1.1 1.7 .1 2.5 2.4 .8 1.5 1.2 1.4 .3 2.1-.8 1.4-1.7 .7 3.1 2.8-.1 1.4 1.3 2.1-.5 2.1 1.1zM76.6 49.7l.5 .4 1.4-.5 2.5-4.1-.9-2.5 .7-2.5-.4-1.7-.5-.2-3.5 .8-.7 1.1 .4 2.5-.4 .9-1 0 0 .8zM140.7 49.7l2.2-.2 1.4-.8 2.8 .8 4.9-.2 3.5-1.1 2.1 .1 2.1-.7 4.9 .1 2.8-1.2 2.1 .4 1.4-.5 3.5 .7 2.8-.4 2.8 2 2.8 .6 1.4-.7 .7-1.4 2.1 1.2 3.6-2.2 2.8 0 2.1-3.4 2.8 2 2.1-1.7 2.1 1.7 1.4-.7 .5-1.1-.5-1.3-2.4 .5 .3-2.3-3.9-1.1 0-1.6-1-1-1.4-.1 .7 3.6-1 .8-2.1-3.3 .1-.9 1.6-1.7 .8-4.1-2.4-.9-.5-1.9-2.1 1.6-4.3-.9-3.5 .9-1.2 4.5-1.9 0-1.1-2.3-2.1 .3-.7 .8-3.5-.9-1.5 2.1-.3 4.2 1.8 1.7-1.6 .8-5.4 .2-4.2 1.8-3.5-.4-5.6 .4-1.4 1-3.5 .8-2.8-.4-3.5 1.1-2.1-.3-5.2 2.5 .1 .9 .9 .4zM34.7 47.2l1 .8 1.4-.4 1.4-3.9 2.8-.1 .6-.6-.2-.8-3.2-1.4-6.3-.3-2.1 .8-.7-.6 .1-2.7-1-2.5 .7-3.4-1.9-2.9-.7-.1-.5 1.4 1.5 2.5 .2 1.7-.5 1.2-.7 .2-1.4-1.1-.3 1.3 .7 2.5-.7 1.7 1.7 1 .2 3.2 2.6 .2 2.1 1.8zM45 45.5l.5 .8 1.1-.8 0-.8-1.1-.1zM60 45.5l2.2-2.5-.6-1.9-.7-.1-1 1.2-.3 2.5zM121.2 35.5l1.4 .8 2.1-3.2 1.4-.3 2.1 .8 1.4 1.5 1.4 .2 2.1-.9 1.4 1.6 3.5-1.6 2.8 .5 4.2-1.4 2.8 1.9 2.1-2.4 6.5-.9 .4-.8-.5-1.7 .6-.8 2.8 2 1.4-.2 .8-1 .6-3.3 1.4 0 2.8 2 .6-1.2-.3-1.7 .4-.1 1.4 1.3 .7-.1 .7-1.5 2-.4 .5-.8-.7-2.5 2.2-3.4-.2-.8-2.1-2.5-1-.4-.8 .4-.6 2-2.8-.1-.6-2.8 .6-.7 2.2 .7 .4-.8-.4-.8-1.5-1.2-2.1 1.3-.8-.1-.4-2.6-2.3-1.6-1.4-2-7.7-1.7-5.6 .5-2.8-2.2-1.4 1.5-2.1 .6-1.4-1.8-2.1 .8-1.4-1.7-2.1 .8-2.8 0-2.1-.3-1.4-1-2.1 .1-4.2 1.6-1.4-1.9-.7 0-.7 2.5-.7 .3-2.8-2.9-2.8 0-2.1-2.2-2.8 .8-3.5-.6-2.1 .9-1.4 2.1-1.4-.6-2.1 1-.7 1-2.1-.3-1.2 2.2 .1 3.3-1 .7-1.4 0-.6 2.7-1.3 1.6 .4 5.1-3.4 2.2-1.4 1.7-1.4-.2-.7 .7-1.2 6.4 2.3 1.7 2.4 2.9 1.4 .5 1.4-1.5 2.1-.5 2.1-2.1 2.1 .2 3.5-1 2.8 .2 .7 1.7 1.4-1 1.4 .1 2.1 2.8 .7-.1 1-.5 2.5-3.4 0-.8 .7-.3 .7 1.1-.6 .9 .3 1.6 .3 .6 1.4-.6 0 1.7 .7 1.1 1.4 .3-.2-2.2 .9-1 2.8 2.6zM142.9 9l-.7-.4 0-1.4 1.7 .7zM156.9 17.2l-1-1.8 1-1.6 .8 2.4zM157.6 23.8l-.5-1.7 .5-.9 .7-.2 0 2zM118.4 10.3l0-1.4 .7-.4 .1 1zM121.2 32.3l-.4-1 .4-.1zM156.9 13.5l-.7-3.4 1.5 2zM198.2 34.7l.8 .7 1-.7-.3-1.2-1.4-1zM35.6 33.8l1.5 .4 2-1.2 .3-1.7-.5-.8-2.5-.7-1.7 .7-.6 .8 .1 .8zM234.5 33l1-1.7-.2-2.5 .8-1.1 .7 .3 1.4 2.5 .7 .3 1-.3-1.9-5.9 1.6-3.6 .7 .3-.5 1.6 2.6 1.1-.1 2.3 .8 .8 1.4-.5 .7-1 2.1 .6 2.1-1.1 2.1 2 3.5-.1 0-9.1-2.1 .1-2.1-2.1-2.8 2.1-1.7-.1-2.5-4-.5-3.5-.9-.9-.7 0-1.4 1.5-.7-.4-1.6 .6-.4 .9 .9 1.6-1 1.1-1.4-.2-1.4-2.9-1.4-.6-1.5 1.8-.2 2.5-1.1 1.1-1.2-1.1 1.2-2.5-1.6-2.5-.5-.6-.7 .2-1.4 1.5-2.1-2.1-3.6-1.5-.6-.9 0-1.9-2.8-3.3-.8 .2 .7 2.5-1.3 1-1.4-.2-1.6-2.5-2.6-.1-1.1 1.8-.7 3.4-1 .3-2.1-.8-.5 .5 .5 4.8-1.4 .4-1.4 2.1-1.6 1-.9 1.7-1.6 .9-.5 .8 2.5 4.9 3.5-.1 1.8 1.9 1.7 4.7 2.8 .3 2.1-1.6 3.5-.4 .6-1.3-1.3-2.6 .7-.3 .7 1.6 1.4 .7 2.1-.1 1.5-1 .1 1.7-.9 1.6-2.1-.8-.7 .4-.2 1.3 .9 1 2.1-1 2.1 .8 .7-1.9 4.2 1.1 1.3-.9 .8-1.7 1.4 1.1 1.4-.5 1 1.1-.2 2.5zM209.5 27.2l-2.8-.5-.5-1.3 2.6-.2zM12.5 29.6l4.3-.5 2.8 1.1 4.2-.1 1.4-3.3 1.6-.5 0-2.5 4-3.3 .5-.9-1.9-4.2-4.2-1.8-4.2-.1-2.1 .6-1.3 1.3-1.3 3.4 1.5 2.5-1 2.9-3.2-4.6-2.4-1.4-6.3-.1-2.1 .6-2.8-1.5-2.8 .2 0 9.6 1.4-.6 1.4-1.5 2.8 2 2.1-1.2 1.4 1.7 3.5 .8zM241.5 28.8l.2 .5 .2-.5zM14.1 11.2l.6 .7 1.4-.3 1.8-2.1 1.7-.2 .6-1.4-.6-4.5-2.1-.5-3.5-2-4.2 1.3-.5 .6-1.1 5.1 .9 1.4 1.7 .2zM194 11.2l1.5 .3 1.3-2 1.6 0 .8-.8 .5-2 3.7-2.2-3-1.1-2.8-2.7-2.8 1.1-1.4-2.6-2.1 .1-1.4 1.5-1.5-.7-.9 .2-2.8 4.2 1.6 1.6 1.2-.7 .9 .1 2.3 4.9z" fill="#f8b9c0" fill-rule="evenodd"/><path d="M5.3 64.8l1.7 .6 2.1-1.3 .6-1 .1-2.5-1-5 .6-2.5-3.6-3.4-2.3-.5-1.4-1.5-1.4-.1-2.1 2.8 .2 1.8 .5 .9 1.4-2 1.4-.7 .8 .2 0 1.6-2.9 2.4-.7-.1 0 1.1 .7 .2 2.2 3.1-.1 2.5 .7 1.9zM54.2 63.1l1.6 0 1.6-.7 2.8 .5 1.7-.6 .9-.9 0-1.6 1.2-.9 .2-.8-.8-1.7-1.1-.4-6.3 1.1-.7-3.3-1.4 .1-.7 1.8-1.4-1.4-.7 .1-2.1 4.6-2.4 1.6-.2 .8 .5 1zM253.1 61.4l.5 .7 1.4-.4 0-7.5-1.9 3.9zM154.3 55.6l3.3-.6 2.1 .7 7 .2 3.5-1.1 2.1 1 2.1-.5 3.2-2.2-3.9-1.2-2.8 .9-6.3-1-7 .8-3.5-.2-2.1 1.2-2.1 .3 2.1 .3zM254.7 51.4l.3 .8 0-3.8-1.1 .5-.2 .8zM238.7 50.6l1.6 0 1.4-1.7 2.1 .4 1.2-1.2-1.9-3.3 .2-1.8-1.6-1.3-2.8 .4-2.1-1-2.8 1.1-2.8-1.1-1.4 .7-4.9 .2-1.4 1.6-.7-.8-1.4-.4-1 .6-.9 1.7 .5 1.7 2.1 .2 2.1 1.7 2.8-.9 1.4-1.9 1.4 3.1 2.1 0 2.1 1zM76.8 48.9l1 .3 .7-.4 1.4-2.4-.4-3.4 .3-2.5-1.3-1.1-1.7 .3-.7 .8 .4 3.4-1 1.6zM139.5 48.9l2 .6 3.5-1.2 2.1 1 4.2-.3 2.1-.8 4.2-.1 2.8-.8 3.5 .2 2.8-1.1 2.8 .1 1.4-.5 3.5 .8 2.8-.4 2.8 1.9 2.1 .5 1.4-.2 1.4-1.8 2.8 1 2.9-1.9 2.6-.4 1.7-3.3-1-3.4-1.4-1.6 2.1-3.4 .2-2.2-2.8-2-2.1 0-1.5-.6-4.9 .5-.7 .5-.3 1.3 .9 3.4-.6 1.7-.5-.1-.4-1.6-2.6-.6-1.4-1.5-.7-.2-1.4 1.1-1.4-.8-1.4-.1-1.4 1.6-.5 3 1.9 2.1-.5 1.2-5.1 .8-2.1-.3-4.2 1.8-2.8-.5-5.6 .3-2.1 1.3-4.2 .9-2.8-.4-2.8 1.1-2.1-.5-1.1 .5-1.9 2.6zM35.6 47.2l.8 0 1-1.7 .3-3.3-.6-.6-4.2-.9-3.5 1-.4-.3-.3-3.1-1.4 0-.5 1.4 1.2 4.3 3.7 2.4zM198 43.9l1.1-.9 .2-2.5-2.4-.6-.6 2.3zM60.6 43l.3 .6 .7-1.4-.7-.2zM122.2 35.5l.5 0 1.4-2.5 2-.6 4.9 2.4 2.1-1.6 2.1 1.9 2.8-1.4 2.1 .7 2.1-1 2.8-.5 .7 .1 1.4 1.7 .7 0 1.4-2.2 2.1-.6 2.1 .1 1.4-1.5 .7 .6 .4-2.3 1-.5 1.4 .2 .4-.5-1.9-5.9 1.5-2.6 1.6 .1-1.7 5 2.2 2.5 0 .9-1.6 .8 1.6 1.2 .9-.4 .5-3.3 1.7-1.7 .3-1.7 .8-.3 1.4-2.4 .6 1.1-.4 1.6 2.6 2.3 2.4-2.3 .1-1.6 1.7-3.8-2.8 .7-2.8-1-1.4 1.1-.7-.3 .3-4.3-1.9-1.6-.4-2.6-3.6-3.3-1.4-.1-1.4 .8-2.1-1.6-1.4-.1-2.1 .9-2.1-1.3-2.8 .5-2.1-1.7-3.5 2.1-.9-.3-.5-1.8-.7-.1-.7 1.5-.7 0-2.1-1.9-4.9 .4-2.8-1.3-2.1-.1-3.5 1.5-2.1-1.1-2.1 2.3-1.4-1.8-2.1-1.4-2.1 1.2-2.1-3.3-2.8 .5-4.2-.2-2.8 2.9-1.4-.5-1.4 .6-.7 1.6-2.8-.4-.8 2.2 .4 2.5-.8 .8-.9 3.3-1.9 3.4-.4 2.6-3.6 2.5-1.1 1.9-2.1 0-.5 .6-1.1 5 .3 .8 2.2 1.7 1.9 2.3 1.4 .6 1.4-1.4 2-.7 2.2-2.1 2.8 0 3.5-.9 2.1 .2 3.5-1.6 .5 .3 .1 .8-1.3 0-.7 .8 2.1 .5 1.4 2.1 .7 .1 3.5-4.6 1.9 1.1 .5 1.7 1.1 1.2 2.8-.9 1 .5 1.1 2.7 1.2-.2-.6-2.5 1.5-.7 .7 .4-.3 3.7zM142.2 9.3l-.6-2.3 .6-.5 2 .5 .3 .9-1.6 1.6zM156.2 17.3l-.8-1.9 1.1-2.5-1.1-2.5 .8-1.4 1.8 3.1-.2 5-.9 .7zM162.5 17.2l0-1.3 .7-.1 .7 1.3zM168.1 21.1l-.1-.7 .8-.5 .5 .5zM116.3 24l-.3-1.1 1-.4 .1 1.3zM118.4 10.9l-.2-2.2 .9-.7 .6 .7-.2 .8zM36.2 33.8l.9 .2 1.6-1 .3-1.7-.6-.8-2.7-.4-1.2 1.2 .1 .8zM234.3 31.3l.4 .5 0-.9zM209.1 30.5l1.1 .1 .6-1-1.3-.4-.8 .4zM18.5 29.6l2.5 .3 2.8-.9 2.8-5.9 2-1 2.2-2.2 .1-1.1-2.2-3.5-4.2-1.4-3.5 .1-2.8 1.2-1.5 3.6 1.8 1.6 .1 .9-1.8 3.9-1.1-2.3-2.4-2.8-2.1-1.5-7.7 .5-1.4-.2-2.1-1.4-2.8 .6 0 8.4 2.8-2 2.8 2.1 2.1-1.5 .7 0 .7 1.6 2.8 .2 3.5 2.3 4.2-.5zM227.6 29.6l.8 0 1.4-2.9 2.1-.7 1.1 .3 0 1.7 1 1.3 .7-.2 1.4-2.2 1.4 .3-.2-2.6 .9-1.7 .2-1.6 1.2-1.1 1.4 1.1 .1 1.6 2 .5 0 3 .7 0 1.4-1.6 2.1 .8 2.1-1 2.1 1.8 2.1-.2 1.4 .4 0-8.4-2.1 .3-2.1-1.7-1.9 2-.2 .8-2.1-.9-2.1 .9 .4-2.5-2.5-5-2.8 1.1-.7 1.6-2.1 .4-1.3-.6-1.2-2.5-1-.3-2.1 5.3-.1 3.3-.6 1.1-.7-.2-.6-.9 .2-.8 1.5-1.7-2.4-2.5 1.2-2.5-1.3-1.4-2.1 .7-2.8-2.4-3.5-1.7-.7-1.1 0-1.7-4.9 .6-1.5-.5-.6-1.8-1.4 0-1.5 1.8 .8 2.9-4.7 .4-.2 1.7 1.3 1.7 .1 .8-2.8 1.2-2.1 2.1-1.3 2.6-1.8 .8 1.7 4 .7 .5 2.1-.6 2.8 1.3 3.5-.5 1.4 1.9 1.4 .4 1.4 2.2 .7 .1 .8-.1 .4-.8-1-2.6 .5-1.2 1.1 .4 .9 1.7 .8 .4 1.4-.1 2.8-1.1 .7 2.8zM234.7 20.7l-.8-1.1 .2-.8 .6-.2 1 1.8-.3 .6zM239.6 17.5l0-1.5 1.4 .1-.4 1zM225.6 24.9l-1-1.1 1.7-.9 .8 .9-.3 .8zM237.7 28l.5 .6 0-1.1zM238.7 12.9l.6 0 .1-.8-.5-.7-.8 .7zM15.2 11.2l.9 0 1.4-2 2.1-.5-.2-4.2-4.7-3-1.6 .5-1.2 2.3-.6 .2-.2-1.7-1.3-.1-1.2 5.2 .4 .8 5 1.4zM241.8 11.2l.6 .6 0-1.5-.7 .1zM193.1 10.4l1.7 .6 2.1-1.8 1.4-.1 2.2-4.6-1.5-2-1.4-.8-2.8 1.3-1.1-1-.3-2.1-.7-.2-1.4 .4-.5 1.9-.9 .5-1.5-1.7-.7-.1-1 1.3-.3 2.5 2.5 .9 2.4 4.4z" fill="#f7acb4" fill-rule="evenodd"/><path d="M5.9 64.8l1.1 .3 1.8-1.1 .7-2.6-.9-7.5-1.7-2.5-2-1.3-.9 .5-1 2.5-1.6 .8-.8 1.7 2.6 3.3-.7 2.5 .6 1.7zM5.6 54.9l0-.5 .6 .4zM49.9 62.3l5.4 .5 1.1-.5 .3-1.1 2.1 1.3 2.1 0 1.3-1.1-.2-1.6 1.3-.9 .3-1.6-1.3-1-6.3 1.3-1.4-2.9-1.4 1.6-2.1-1-2.1 4.1-1.2 1.2 .1 .8zM253.9 60.6l1.1 .6 0-5.6 0 1.7-1.5 1.6zM165.6 55.6l3.2-.4 1.8-1.3-.4-.8-1.4-.5-2.8 0-1.4-.5-4.9 .8-4.9-.2-1.7 1.2 1.7 1.4 2.8-.7 2.8 .7zM171.7 54.8l.6 .5 1.4-.2 1.9-2-2.9-.9-1.4 1.7zM.5 49.7l1.2 0 .7-.8-1-.7zM236.6 49.7l1.6-.3 1.4 .7 2.1-1.7 2.3-.3-1.3-3.4 .2-1.7-.8-.8-3.2 .1-2.1-.9-2.8 1.1-2.8-1.1-1.4 .8-1.4-.3-2.8 .5-.9 .6-.5 1.6-.7 .1-1.3-1.7-.8-.1-1.6 1.8 .2 1.1 .7 .5 1.4-.4 2.1 2.1 2.8-1 1.4-1.9 1.8 3zM140.2 48.9l2 .2 2.8-1.1 2.8 1.1 4.2-.5 1.4-.9 10.5-.4 2.8-1.1 2.8 0 1.4-.5 3.5 .9 2.8-.4 2.1 1.4 2.8 .7 1.4-.2 .7-1.6 3.5 .9 2.9-1.8 2.1-.3 1.4-2.3-.6-4.2-1.7-1.6 2.4-3.4 .3-1.7-.6-.8-2.6-1.3-2.9-.5-1.4 1-3.5-.5-.7 2.2 2.7 3.3-2.7 1.9-1.1-.2-.3-2.1-2.1-.6-1.4-1.4-.7-.2-1.4 1.3-2.1-1.1-1.1 1.6-.7 2.5 1.7 2.5-.6 1.1-7.7 .5-4.2 1.8-2.8-.6-5.6 .4-2.1 1.3-4.9 .9-2.1-.3-3.5 1.3-.7-.6-1.1 0-1.4 1.7 .2 .9 2.3 0zM185.6 32.5l-.4-.4 .4-.2 .6 .2zM188.4 39.3l-.4-.5 .3-.8 .8 0 .2 .8zM76.8 48.1l1 .5 1.4-2.2-.3-5-.3-.9-.8-.4-1.1 .4 .1 3.4-.9 1.6zM32.5 46.4l3.2 .4 1-.4 .6-3.4-.9-1.6-4.2-.4-3.5 1.5 .2 1.4zM197.1 42.2l1.2 .4 0-1.2-.7-.8-.8 .8zM122.5 33.8l.1 .5 1.4-2 1.4-.8 3.5 1.1 2.1 1.8 .9-.6 1.2-2.6 1 2.6 1.8 .8 1.5-1.6-.6-2.5 .5-1 1.2 1-.3 2.5 1.2 .8 5.6-1.4 .7 .1 1.4 1.6 .7-.2 1.4-2.3 3.8-.3 .8-1.7 1.7-1.6 2.1-.5-.9-2.1-.2-3.3 1.1-3.3-2.1-1.6-.4-1 1-3.3-1-2.5 .8-2.5-.8-1.7-1.7-.3-1.4 1.4-.7-.1-2.8-1.9-4.2 3.1-1.2 2 .1 2.5 1 1.7-.6 1-.6-.2-.2-1.7-1-1.6-1-5.6-2.5-.3-3.8-2.1-4.9-.2-2.1-1.1-2.8 0-2.8 1.2-2.1-.9-2.8 2.5-.6-.2-.1-1.8-2.1-1.1-1.4 .8-1.9-.5-1-2.5-6.9 0-2.8 2.9-2.1-.3-1.4 2-2.1-.4-.7 .4-.3 1.3 .6 2.5-1.5 1.7-.2 1.8-2 4-.4 2.6-3.6 2.5-1.7 3.2-2.1-.5-1.2 4.8 4 4.3 1.4 .6 1.4-1.2 1.4-.4 1.4-1.8 1.4-.9 3.5 .1 2.8-1.5 1.4 .9 3.2-1.8 1.7-.1 1.2 1-.1 1.6 1 1.2 2.1-1.6 1.4-2 2.1 1.2 1.4 2.6 2.8-.9 2.1 .8 2.8-.5 .8 1.7zM150.6 27.3l0-1.4 .7 .4zM114.2 5.5l0-1.5 .9 1.4zM116.3 24.5l-.6-1.6 .6-.8 .7 0 .5 1.7zM118.4 11.4l-.4-2.7 1.1-1.1 .7 0-.1 1.9zM35.5 33l.9 .7 1.4-.3 .9-1.3 0-.8-.9-.8-2.1-.1-.9 .9zM19.3 29.6l3.9-.8 2.1-3.4 .2-1.6 2.7-1.7 2.4-2.5-1.4-3.4-1.2-1-3.5-1-3.5 .1-2.3 1.1-1.5 3.4 1.7 1.3 .2 1.2-2.3 4.5-.7-.1-.7-2.8-4.2-3.8-7.7 .5-3.5-1.7-2.8 .6 0 7.6 2.8-2 2.8 2.1 2.8-1.7 1.4 1.4 2.1 .1 3.5 2.8 4.2-.5zM225.3 28.8l2.7 0 1.1-2.9 3.6-.5 .9 .9 .4 2 1.9-2 .4-1.7-3-5.7-.6-.1 1.3-.6 1.4 .5 2.1 3.5 .5-1.8 1.6-.9 1.5 .9 .6 1.7 2.1-.4 .7 .4 0 1.9 1.4-.2 1.4 1.1 2.1-.7 2.1 1.6 2.1-.2 1.4 .6 0-7.7-2.1 .5-2.1-1.3-2.1 2.9-.7 0-1.4-1.3-2.1 1.6-.7-.5-.1-.8 .3-3.4-1.6-2.9-.7-.3-1.4 .7-.4 .9 1.7 .8 .3 .8-2.3 2.2-.9-.5 0-1.7-.5-.6-1.4 0-2.3-1-.2-1.7-1-.3 .2 2-1.7 2.5 .7 1.7-1.3 2.9-.7 .5-1.9-1.8 1.5-2.5-.3-.8-1.7-.9 .2-2.5-.6-.6-1.4-.3-4.2-3.3-3.5-1.7-1.2 1.7-2.3 .1 .3-.9 2.6-1.7-4.3-.6-2.8-1.4-.7 .2 .8 2.7-.2 .8-.6 .7-4.2-.3-.3 1.3 1.7 1.3 .1 1.2-1.5 1.2-1.7 .5-1.1 1.8-1.2 .7-.8 1.7-1.4 .8-.2 .8 .8 2.5 .7 .7 2.1-.7 2.8 1.4 4.2-.5 1.1 1.6 3.1 2.2-.2-3 .9-.9 2.8 .9-.2 .8 1.6 .6 2.8-1.2 .7 .5 0 1.9zM225.6 25.5l-2.8-1.4 0-1.8 1.4 .8 2.1-1.2 .7 .2 1.4 2.5zM159.5 25.4l1.6 .6 1.5-1.4 .6-2.1 1.6-1.2 0-2.5-2.3-.9-.7-1.7 .7-2.2 .7 .1 1.4 1.9 .6-1.4-.6-1.3-2.1 .3 .6-3.2-2.7-3.2-1.4-.5-2 1.2-.1 .8 1.6 2.5-.7 2.5 .2 4.2 2.7 1.7-1.9 3.3 0 1.7zM243.6 25.4l.6-.8-.4-.2zM168 23.8l1.2 0 .8-1.7-2.6 0-.3 .8zM166.9 18.8l.5 .6 .9-.6-.9-.9zM15.3 10.4l.8 .2 1.4-1.9 1.8-.8-.4-3.1-4.2-2.7-1.4 .5-1.4 2.2-.7 .2-.7-1.5-.7 0-.7 4.6 3.5 1.4 2.1 .1zM194 10.4l.8 .2 1.4-1.4 2.1-.7 1.4-4-.7-1.3-.7-.5-1.3 .1-.2 1.7-1.3 .9-2.1-2.9-.7-.2-2.8 1.3-1.5-2.2-.7 0-.5 2.3 1.9 1.1 .7 2.2 1.9 2.5zM143 6.2l2 .2 .5-1-1.2-.9-1.6 .9z" fill="#f6a0a8" fill-rule="evenodd"/><path d="M5.6 64l1.4 .7 1.4-.8 .9-1.6-1.6-7.5-1.4 1.1-.7 0-.9-1.1 .2-1 2-.7 0-.9-2-1.3-.7 .3-.7 2-2.1 1.4-.2 1 3 3.3-1.1 1.7 0 1.7 .4 .7 1.4 .2zM50.4 62.3l3.5-.4 1.4 .5 .5-1-1.2-.8 1.4-.3 1.2 .3 1.9 1.7 1.8 0 .9-.9-.2-1.9 1.4-1 .2-1.2-.9-.6-2.1 .2-4.2 1.1-1.4-1.6-1.4 .3-2.1-.7-2.6 4.6zM254.6 59.8l.4 .6 0-1.6zM154.8 54.8l2.8-.7 2.8 .9 6.3 .4 2.1-.5 .8-1-1.5-1-1.4 .2-2.1-.7-5.6 1.1-4.1-.4-.7 .8zM172.7 54.8l1.7-.7 .2-1-1.6-.6-.7 .5-.2 .9zM147.1 48.9l4.2-.4 2.1-1.3 4.2 .4 2.8-.7 3.5 .2 2.8-1.1 4.2-.6 3.5 .9 2.8-.3 2.1 1.3 2.8 .5 .7 .1 1.4-1.7 3.5 .9 4.9-2.4 1-1.7-.2-3.5-.7-1-1.4-.5 0-.8 2.6-3.4 .1-1.7-2.7-1.7-2.9-.6-2.8 4 .6 2.5-.6 .5-1.4 0-2.1 1.3-1-.9 0-1.7-1.8-.5-1.4-1.5-.7-.1-1.4 1.4-1.4-1.4-.7 .2-.5 1.1 0 2.5 .7 2.5-.9 1.5-7.7 .4-3.5 1.7-3.5-.5-5.6 .4-2.1 1.3-4.9 1-2.1-.4-3.4 2.1 .6 1.5 4.2-1zM188.4 39.7l-.8-.9 .1-.6 1.4-.8 .9 .6-.9 1.6zM235.4 48.9l1.4 .6 1.4-.7 1.4 .7 2.1-1.6 1.4-.1-.7-4.9-.7-.7-2.8 .3-2.1-.9-2.8 1.1-2.8-.9-1.4 .7-1.4-.2-2.8 .6-.8 1.8-1.8 .8 .5 1.7 1.4 .4 2.1-1 1.4-1.8 2.1 2.8zM76.7 47.2l1.1 .7 .8-1.5-.8-5.2-1.5 4.3zM138.3 46.4l.4 .5 .4-.5zM31.4 45.5l1.5 .8 3.5-.2 .5-1.4-.1-2.5-2.5-1.1-2.8 .4-2.2 1.5zM220.2 45.5l1.4 0 .6-.8-.1-.9-1.4-.2zM130.6 33.8l1.1-.4 .5-2.1 .9-1.1 1.4 3.5 .7 .4 1.2-.3 .5-.8-.3-3.4 .7-.7 1.8 1.6-.4 1.6 .7 1.2 .7 .1 1.4-1.1 3.5-.4 1.2 .2 .9 1 .7-1-1.4-3.4 1.4-.1 .9 1.9 1.2 .3 2.8-1 1-1-1.2-2.5 .9 0 1.4 1.2 1-.4 .7-3.3-.2-2.5 .7-1.7-.8-1.2-1.4-.3-.7 .3-.2-.5 .8-.8 0-1.7 1.1-2.5-1.1-2.5 .1-3.6-1.4-.2-.4 1.3 .7 .8-1 .3-3.6-2.8-1.3 0-1.4 2-1.4 .2-1.1 1.1-.3 2.6 .9 2.5-.9 1.4-.7-.1-2.1-4.6-1.4 .5-.7-.3 .7-1.9 1.4-.3 .2-.6-.2-1.4-.7-.6-1.4 .1-2.8-1.1-2.1 .5 .1-.8-1.5-1-2.8 .1-2.1-1.2-1.4 1.4-1.4-1-2.8 .7-2.1-.9-2.7 2.7-2.2 .2-.7-.3-1.4-2.2-2.1-.3-1.4-2.4-2.1-.5-2.8 .7-1.4-.5-2.8 2.7-1.4-.5-.7 .2-1.4 2.1-2.3 0-.2 .8 .8 2.5-.3 .8-1.6 .9-.5 2.5-1.9 3.3-.3 3.1-3.3 2-1.6 3.6-2.1-.2-1.6 4.1 3.7 3.9 1.4 .5 2.8-1.7 2.1-3.2 1.4 .9 2.8 0 1.4-.6 1.4-1.5 1.4 1.3 3.5-1.8 2.8 .1 1.1-1.3 .3-1.6 .6 2.5-.9 1.7 .3 1.2 1.1-.4 .6-1.7 1.1-.3 2.3 1.2 1.2 2.5 .7 .1 1.4-1.1 2.8 .9 2.1-.5 2.1 1.4 2.1-1 2.1 1.5 .7-.5 .3-1.7-1.4-3.3-.2-.9 .6-.1 1.7 3.5 .2 3.3zM147.1 25l0-1.1 .7-.1 .8 .8zM150.6 28l-1.1-.9 .1-.8 .6-.9 1.1-.2 .7 1.1zM96.7 11.4l-1.3-1 .6-.5 .8 .5 .3 .8zM113.5 26.3l-.5-.9 .5-.4 .8 .4zM115.6 24.7l0-2.1 .7-.8 .7 .1 .7 1 0 1.2-.7 .7zM118.4 11.8l-.7-2.1 .5-1.8 1.6-1 2.8 0 .4 1-.4 .8-2.1-.5-1.4 3.3zM126.1 20.6l-.1-1.8 .8-.2 .4 1zM147.8 10l0-.9 .7 .4zM35.9 33l1.2 .4 .7-.3 .5-1.8-1.2-.8-1.4 .2-.6 .6zM18.1 28.8l2.2 .6 2.8-1.1 1.8-2.9-.2-1.6 3.3-1.9 2.2-2.3 0-.8-2.2-3.3-3.5-1-3.5 .2-1.3 .7-1.9 3.4 1.1 .5 .7 2.8-1.1 .8-1 2.7-1.4 1-.7-3.2-4.2-3.8-6.3 0-1.4 .4-3.5-1.8-1.4 1.2-1.4-.4 0 6.5 2.8-1.8 2.8 2.1 2.8-1.6 1.4 .9 2.1 .1 3.5 3.3 4.2-.7zM-.7 21.6l-.7-.3 0-1.2 .8 .3zM224.4 28l1.9 .2 1-1.1-.6-.8-3.2-.7-.2 1.5zM234.2 26.3l.5 .3 .7-.7 .2-1.3-.9-1.3-.4-2-1-1.5-.7 0-1.4 2.8-2.2 .3 .6 1.7 .9 .7 2.1-.3zM212.7 25.4l.8 0 .5-1.6 3.5-.9 .3-2.5 .8-1.4 .8 1.4-.7 1.7 .2 2.5 1.1 .9 1.7-.9 .4-.8-.7-1.4-1-.3 .3-.6 2.1-.4 1.4 1.4 .7-.1 1.4-2.7 2.1-.3 1.2-1.5-.5-.9-1.4-.3-.6-3-5-3.7-2.8-1.1-2.1 1-2.1 .2-.8-.6 1.5-2.5-4.2-.6-.7 3.2-2.8 .8-1.6-.9-.2 .9 1.1 .1 .7 1.2 0 1.2-2.1 1.8-1.4 .5-4.6 5.2 1.1 2.7 1.4-.3 .7-1.5 .9 1.6 1.2 .9 2.8 .2 2.1-.5zM254.2 25.4l.8 .4 0-7-2.8 .7-1.4-.6-2.1 2.1-.7 .1-1.4-1-1.2 1.2 .5 1.6 1.4 .9 2.8 .3 1.4 1.2zM159.2 24.6l1.2 .8 1.4-.7 1-2.6 1.7-1.7-.6-1.6-2.1-.7-.3-1 .3-3.4-.6-1.6 1.2-.9 .2-.8-2.9-2.9-1.4 .3-.8 .9 .1 .7 2.1 .1 .4 .9-.2 .8-1.3 .9-.6 1.6 .7 4.2 2.4 1 .3 .7-2 2.5zM242.1 20.4l1.3-1.6-.3-2.3-1.4 .5-1.3 1.8 .3 .8zM236.4 19.6l1.1 .5 .5-.5 0-3.4-3.3-.8-1.4 .6-.7 1.1 2.1 .6zM241.1 14.6l.7 0 0-.9zM192.7 9.5l2.1 .7 3.2-2.3 .2-1.7-.6-.7-2.1 .3-2.1-2.7-.7 0-2.8 1.4-.2 .9 .2 1.1zM11.9 8.7l4.2 .7 2.6-1.5 .1-2.5-2.7-2.3-2.1-.6-2.1 2.7-2.1-.3-.4 3zM188 3.7l.7 0-.3-1.3-.7 0z" fill="#f5949c" fill-rule="evenodd"/><path d="M6.1 64l.9 .4 1.8-1.3-.9-6.7-.2-.5-2.1 1-2.1-2.9-1.3 .8 .8 2.5 1.5 .8 .1 .8-1.3 2.5 .2 .9 1.4 .4zM60.1 62.3l1.4-.9-.2-1.6 .3-1.1 1.1-.6-.4-.9-4.9 .5-1.4 .9-1.4-1.7-1.4 .1-1.4-.7-.7 .3-2.1 4 .4 .8 1.7 .8 2.2-.8 1.3-1.6 1.4-.3 2.8 2.4zM160.6 54.8l6.1 .3 1.8-.3 .5-.9-.9-.5-1.4 .1-2.8-.8-3.5 .8-.6 .4zM172.7 53.9l1 .1 .2-.9-.9-.2zM4.3 52.2l.6 .7 .9-.7-.9-.4zM235.8 48.9l1 .3 1.4-.6 1.4 .4 2.9-1.8-.3-4.2-.5-.5-2.8 .2-2.1-.9-2.8 1.1-2.1-.8-2.1 .8-1.4-.3-2.8 .9-.7 1.9-1.4 1 .7 .7 2.8-.9 1.4-1.8 2.1 2.7zM140.9 48.1l2 .1 2.1-.7 1.4 1 1.4 .3 3.5-.6 2.1-1.3 4.2 .5 2.8-.7 3.5 .2 2.1-1 4.9-.7 3.5 .9 2.8-.3 2.8 1.4 2.8 0 1.4-1.3 3.5 1 4.3-2.3 1-1.6 .2-1.6-.5-2.3-2.1-.6-1.1 1.2-1.1 .2-1.1-1.1 0-.8 1.1-1.1 2.2 .2 2.8-2.9 .3-2.1-1-.8-4.3-1.1-2.1 3.6 .4 2.5-.4 .8-4.2 1.3-1.5-.4 .1-1.9-1.4-.6-1.4-1.7-.7 0-1.4 1.3-1.4-1.3-.8 .9 .5 5-1.1 1.8-7.7 .3-3.5 1.9-3.5-.7-5.6 .4-2.1 1.4-2.1 0-2.8 .9-2.1-.3-1.9 1-.8 .8zM190.6 34.1l0-.9 .7 .4 0 .8zM76.8 46.4l1 .7 .3-1.6-.3-1.2-.7 .6zM31.8 45.5l1.1 .6 3.5-.6 .2-3.3-3-1.1-2.1 .7-1.5 1.2 .1 .9zM220.5 44.7l.2 .7 .7-.4 0-1.1zM36.3 33l.8 .2 .7-.5 0-1.5-1.4-.5-1 .6zM130.4 33l.6 .4 .4-.4 .4-1.7 1.3-1.9 .7 .2 .4 3.4 1.7 .7 .6-.7-.3-3.4 1.1-1.3 2.7 2.2-.6 2.2 .7 0 .7-1.5 1.4 .5 3.8-.4-.2-2.5 .4-.8 2.3-.6 .3-1.1-2.2-1.7 .5-1.1 1.3 .3 1.5 1.2 1.5-.4 3.4 2.3 .7-.4 1-6.9-1-1-2.1 .7-.2-.5 2.3-5.9-1.4-2.8-1.4-.5-4.2-3-.7 .4 0 .9 1.1 .8-.4 2.1-.7 0-2.1-1.9-1.5 .6-.3 2.6 1 2.5-1.3 1.7-.7 .1-2.1-4.3-2.1 .5-.3-.5 .3-2.2 1.6-1.2 .2-.8-.4-.7-1.4 .1-2.8-1.1-2.1 1.2-1.4-2.5-2.8 0-1.4-.8-.7 .2-.7 2.7-2.8-2.7-2.1 .8-2.1-1.2-2.1 2.5-2.8 .4-2.1-2.5-3.1-.6-2.1-2.5-1.8 .4-1.4 2.4-.7-1.7-.7-.3-2.8 2-1.9-.3-1.1 1.7-1.9 .8 .4 2.5 1.7 2.6-.7 .4-2.9-1.3-2.8 5.8-.3 3.4-3 1.7-.4 .8 1.6 2.5-.6 .3-1.4-1.1-1.4 1.5-2.1 .1-1.2 3.4 3.3 3.5 1.4 .4 2.4-1.4 1.2-1.7 .3-.8-1.5-3.4 .4-.2 1 .2 1.8 3 3.5 .5 1.4-.7 1.4-1.6 1.4 1.1 4.2-1.9 2.1 .2 .9-2.2 1.2-1 .7 .1-.6 1.7 .6 1.4 3.6 1.1-.4-1.7 .7-.8 1.7-.3 .7-2.2 .7-.6 1.4 .9 .1 2.2-.8 .7-2.1 .4-1.1 1.4 .4 2.7 .9-.2 .5-1.7 .7 .9 2.8 1.2 2.1-.4 2.1 .6 2.8-.7 1.4 .8-1-4.9 1-.5 2.2 3.9zM131 10.7l-.5-.3 .1-.9 1.1-.5 .5 1.4zM142.9 26.5l-.4-1.1 .4-.3 .7 1.2zM150.6 15.1l0-1.3 .7-.3 .3 1.1zM86.9 28.1l-.4-1 1.1-.7 .4 .7-.3 .9zM118.4 12.3l-.8-1.1 .2-3.3 1.3-1.2 2.8-.8 1.3 1.1-.1 1.7-.5 .8-2.1-.5-1.4 3.6zM119.8 13.4l-.5-.5 1.4 0-.2 .8zM123.3 13.4l-1-1.3 .3-1.1 1.7 1.1-.1 .8zM125.4 20.5l.7-2.5 1.4 .8 .1 .8-.8 .9-.7 .4zM149.1 29.6l.8 .4 .9-.4-.2-.8-1.4-.5zM18.5 28.8l1.8 .3 2.3-1.1 1.9-2.6-.5-1.6 .5-.9 3.5-1.2 1.7-2.1 .1-.8-1.8-3-3.5-1-4.2 .6-.5 .8 .2 1.7-.8 .9 .9 3.3-.3 .8-.9 .2-.5 .7-1.5 3.3zM151.6 28.8l1.2 0-.1-1.1-.7-.4zM12.2 28l1.1 .2 2-1.1 .1-3.3-.7-.9-1.4-.4-1.2-2.1-.9-.4-5.6-.2-2.1 .7-3.5-1.9-.7 1 .7 1.8-.7 .9-1.4-.9-.7 1.1 0 2.3 .7 0 2.1-1.7 2.8 2.4 2.1-1.5 2.8 .8 1.4-.3 1.4 2.1zM159.7 24.6l.7 .3 1.4-.8 .3-2 1.5-1.7-.4-1.3-.7-.1-.7 1.4-2.1 1.7-.4 1.7zM219.4 24.6l.6 .4 1.1-.4 .6-.8-.3-.6-1.4-.6-.5 .3zM230.4 24.6l3.7 0 .1-2.5-.9-1.8-.8 .1-.6 2.3-1.6 1.1zM251.2 24.6l2.4 .1 1.4 .7 0-6.3-2.8 .9-1.4-.2-2.8 1.9-1.4-.8-.4 .4-.1 .8 .5 .5 3.5 1.1zM212 23.8l.3 .5 1.4-.9 2.8-.5 .6-.8 .8-4.6 2.1 1.3 0 1.6 1.4 .5 2.1-.2 .7 1.1 .7-.1 1.4-3.4 .7-.2 .7 .7 1.3-.9-1.9-.8-.1-2.5-2.1-2.4-5.6-2.8-4.5 1-1-.9 0-1.6-1.5-.6-.7 2.2-.7 .9-2.1 .3-.7 2.9-5.6 4.5-2.1 2.3 0 .9 .7 1.3 .7 .1 .8-.6 .6-1.8 .7-.1 .3 1.9 1.1 1.3 2.8 .4 2.1-.6zM212.3 13.5l0-1.3 .8 .7zM205.3 20.1l-.3-2.2 1-1.2 .7 1.2zM-2.8 20.4l0 .5 .7-.4-.7-1zM241.4 19.6l1 .1 .6-.9-.6-1.7-1.5 1.7zM236.4 18.8l.4 .4 .6-.4-.2-1.7-1.1-.9-1.6 0 0 .9zM159.7 17.9l1.3 0 .3-3.3-.4-1.7-1.2-1.2-.8 .4-.7 2.5 .7 2.5zM160.8 10.4l.3 .6 .9-.6-.9-.9zM193.6 9.5l1.2 .3 2.8-2.8-2.1-.8-2.1-2.6-.7 .1-.7 .7-1.4 .3-.5 1.5 1.2 .9 .8 1.6zM12.6 8.7l3.5-.2 2.1-1 .2-2.1-2.3-2.1-2.1-.3-2.1 2.6-1.4-.1-.8 .7 .2 1.7z" fill="#f48791" fill-rule="evenodd"/><path d="M6.8 64l1.6-.9 .2-.8-1.1-1.7 .2-3-.7-.3-1.6 .8-1.5 3.3zM49.8 61.4l1.3 .6 1.7-.6 1.1-1.7 1.7-.8-.4-.8-.6-.7-2.8-.6-2.2 3-.3 .8zM58.6 61.4l1.6 .7 1.1-.7-.1-3.3-3.8-.1-1.1 .9zM3.3 56.4l.9 .9 .3-.9-1-1zM163 54.8l4 0-.4-.9-2-.9-4 .9zM236.7 48.9l1.5-.6 1.4 .4 1.9-1.5 .5-.8-.3-3.6-2.8 .1-2.1-.9-2.1 1-3.5-.6-1.4 .8-1.4-.2-2.5 .9-.1 1.6 .5 .4 .7-.2 .7-1.6 .7 0 2.1 2.5 1.4 .1zM146 48.1l1.8 .5 3.1-.5 2.5-1.6 1.4 .6 2.8 .1 4.2-.8 2.1 .3 2.1-1.1 4.9-.6 3.5 .9 2.8-.3 2.8 1.4 2.1-.1 2.1-1.3 3.5 1 4.4-2.7 .7-3.4-.2-.8-1.3-.6-2.9 .9-2.1-1.9-3.5 .6-2.1-.3-.7-.4-.3-1.7-1.8-2-.7 0-1.4 1.2-1.4-1.2-.1 5.4-1.3 2.1-7.7 .2-3.5 2.1-2.8-.7-2.1 .4-1.4-.5-2.8 .3-2.1 1.4-2.1 0-3.5 1.2-1.4-.5-1.7 1.5 1 .6 2.1-.7zM32.1 45.5l.8 .5 2.9-.5 .8-1.6-.3-1.7-2.7-.9-2.1 .8-.9 .9-.1 .9zM187.4 36.3l3.2 .2 .4-1-.8-1.7 .4-1.5 .7 .3 .7 1.9 .7 .1 .8-1.6-.1-.9-5-1.6-1.6 3.3zM134.6 33l.6 .4 .9-.4-.3-3.4 .8-1.6 .7-.3 2.1 1.3 .7-1.1 1.4-.3 0 2.9 .7 .6 3.4-.6-.4-2.5 2.6-.8 .4-.9-1.5-.9-.3-.7 .7-1.5 2.8 1.2 2.1-.2 2.1 1.9 1 .2 .9-2.5-.3-2.5 .4-1.7-1.3-.4-1.4 1.5-.2-.3-.2-2.5 2.1-5-1.7-2.5-3.5-2-1.1 2.8-1 .1-2.8-2-.8 2.8 1.2 1.6-.1 .9-1.7 2-.7 .2-2.1-4.3-.7-.1-1.4 1-.4-.5-.4-1.7 1-3.3-3-1.4-2.1 1.8-2.1-3.4-3.5 .1-.7 2.6-.7 0-3.5-2.9-.9 .7 1.2 1.6 0 3.4 1.1 .6 .4 1.9-1.8 1.1-1.4-.3-1.4 .6-1.8-.6-1.3-1.6 .1-4.2-.5-.7-2.3-.2-1.9-2.3-2.8-.4-1.4-1-.7-1.3-1.4-.4-2.1 3-1.4-1.8-.7-.1-2.1 1.6-1.4-.5-.7 .5-2.1 2.7 .2 1.7 1.2 1.7 0 1.3-.7 .2-2.8-1-2.7 5.3-.1 3.5-.7 1-2 .6-.4 .8 1 1.7 2.1 1.3 1.4 2.9 .7 .5 2.8 .1 1.3-.6 1.5-1.9 2.1 1 3-1.7 .5-3 1.1 .5 0 1.7 1 .6 .4-1.4 2.5-1.7 .6 .8-.9 1.7 .2 .6 2.1 1 1.2-1.6 2.1-.8 .6-1.7 1-1 1.4 .9 .5 1.8-.5 1.8-1 .7-.1 1.7 .5 .8 2.7 .7 2.8-.1 1.4-1.2 2.1 .4 .6-1.5-.5-1.7 1.3-.8 2.1 3.4 1.4 4 1.4-2.4 1.4-.7 .6 .7zM137.3 15.5l-.7-.9 1.4-.6zM144.3 28.1l-2.1-1.5-.2-1.2 .9-1.1 1.1 2zM150.6 15.6l-.6-1 .2-.9 .4-1 .7 0 .6 1.9-.4 .8zM120.5 18.8l.7-2.2 .7 1.3-.7 .9zM126.1 21.3l-.7-.1-.2-.8 .9-3.2 2.6 1.6zM128.9 13.9l-.7-1.7-1.4 .5 0-1.9 .7-.6 .7 1.6 .7-.3 1.8-2.8 1-.3 1.2 2-2.6 1.3-.7 1.8zM134.5 10.7l-.7-1.2 .7-.7 .9 .7-.2 1.1zM126.8 15.7l-.5-.3 .5-.3zM35.7 32.1l1.4 .8 .8-.8-.3-.8-1.2-.3-.7 .3zM85.9 32.1l1 .2 2-1 1.5-2.5-1.4-2.3-1.4 2.2-1.3-.7-.1-2.1-2.1-.2-.7 .5-.8 2.6zM18.8 28.8l1.6 0 1.8-1.7 1.2-1.7 .1-1.6 1-1.5 3.7-1 1.2-2.5-1.4-2.7-3.5-1.1-3.6 .4-.5 .8 .2 1.7-1.1 1.7 2.6 5.8-1.8-1.6-1.4-.3-1.5 3.6zM11.3 27.1l2 .8 1.3-.8 .4-.8 .1-2.5-1.8-.8-1.4-2.3-.7-.3-2.1 .3-3.5-.7-2.1 1-3.5-1.8 .2 2.9 1.9 2.6 .7 .3 1.5-1.2 3.4 .6 1.4-.7zM86.6 25.4l.7 0-.4-.3zM254.4 24.6l.6 .4 0-5.5-2.8 1-2.1 .2-1.8 1.4 .3 .8 2.2 .6 .7 .8zM-2.5 23.8l.4 .2 1-1.1-1-.4zM159.6 23.8l.8 .7 .7-.3 .6-1.3-.3-.8-1.2 0zM219.8 23.8l.9 .6 .4-.6-.4-.4zM205.2 22.9l2.9 .7 1.4-.6 4.9-.1 2.1-.7 .9-2.6-.2-2.7 3.5 1.9-.2 .8 .7 .8 1.6-.4 2.1 .3 1.7-4.1 0-1.6-1.7-2.1-2.1-.5-1.4-1.3-2.1-.9-4.2 .9-1.9-.3-.7 .8 .8 1.7-1 .9-.3-2.6-.4-.4-2.1 .1-1.4 3.2-1.4 1.3 0 3.4-2.1 3.1zM232.5 22.9l.8 .4 .5-1.2-.5-1.4-.8 .6zM201 22.1l1.1 0 .6-1.7 1.7-1.6-.2-.9-1 .3-2.4 2.2zM241.5 18.8l.9 .2 0-1.2zM159.1 16.2l.6 .5 1.3-2.1-.4-1.7-.9-.8-.7 .2-.7 1.4zM120.1 12.1l1.1 .2 .6-1.1 .1-.8-.7-1-1.2 1-.3 .8zM192.7 8.7l2.1 .8 1.4-1.6 .1-.9-1.6-.8-1.3-2-.7 .2-.5 1 .7 .8zM11.4 7.9l1.9 .7 2.8-.7 1.8-.9 .3-.8-1.4-2.1-2.1-1-1.4 .9-1.4 2-1.7 .2-.3 .8zM190.5 6.2l1 0 .1-.8-1-.1zM119 5.4l.1 .5 .7 0 1.2-.5-.3-.9-.9-.3z" fill="#f37a84" fill-rule="evenodd"/><path d="M6.4 63.1l.6 .5 .7-.3 .5-1-1.2-1.7 .4-1.7-.4-.6-1.4 .2-1.1 2.1 .2 .8zM50.1 61.4l1 .4 1.3-.4 1.5-2.2 .9-.3 0-.8-3.1-.8-1.9 2.5-.2 .8zM59 61.4l1.2 .5 .7-.4 0-1.2-.7-1.4-2.8-.6-.6 .6zM162.6 53.9l1.3 .8 1.4-.8-1.4-.6zM146.3 48.1l1.5 .4 2.8-.6 2.8-1.8 1.4 .8 2.1-.5-.4-2.5-1-.4-2.8 .3-2.1 1.5-3.5 .3-1.7 .8 0 .8zM235.4 48.1l1.4 .5 3.5-.6 1.3-1.6 .1-3.4-3.3 0-1.6-.7-3.5 1.1-2.1-.7-2.1 1.2 1.4 2.3 1.4-.1zM142.8 47.2l1.1 0 .7-.8-1-.3zM157 46.4l1.3 .3 3.5-.7 2.1 .5 2.1-1.2 4.9-.5 2.8 .9 3.5-.3 2.8 1.4 2.1-.2 2.1-1.2 3.5 1 4.1-2.5 .5-3.4-.7-.8-2.5 .6-2.8-1.1-1.4 1.2-1.4-1.3-3.5-.6-2.1-3.5-.7-.1-2.1 1.4-.8 4.2-1.3 1.6-7.3 .1-1.1 1.2-2.1 1-3.5-.7-.7 .2-.7 2.1zM32.4 45.5l3.3-.3 .7-1.3-.3-1.7-2.5-.8-1.8 .8-.9 1.7zM187.7 35.5l1.4 .7 1.3-.7-.5-1.7 .3-2.5-1.1-.6-.7 .2-.6 1.2-.4 1.7zM192.3 33.8l.4 .2 .5-1-.2-.9-1-.2-.3 1.1zM135.2 33l.7-.9-.7-1.5-.7 1.5zM36.1 32.1l1.3 0-1-.8zM85.3 31.3l.9 .7 2.1-.7 1.8-2.5-.4-1.1-.7-.3-1.4 1.7-1.8-1.1-.3-1.7-1.6 0-.8 2.5zM130.7 29.6l.3 .9 2.1-2.1 2.1 .5 2.1-1.9 1.4 1.3 .7-.2 2.1-1.5 .5-2 .9-.8 2.1 3.4 .7-.1 1.6-.8-.9-.3-.2-1.4 .9-1.6 2.8 .8 2.1-.3 2.8 2.5 .9-2.2-.7-2.5 .6-.9-.1-.8-.7 0-.4 .8 .2 .9-.5 .3-1.4-.3-.4-.9 1.8-6.7-1.4-.9-.4 1.8-1 1.2-1.4-.4-.2-.8 .2-2.6 2.8-.8-1.2-1.7-.9-.6-.7 .3-.7 2.5-2.1-.3-2.1-1.3-.5 2 1.4 1.6 0 .9-3 2.5-1-.9-1.1-3.2-.7-.2-3.3 3.4 .4 2.6-.6 .6-.8-2.3 .5-.9-.1-1.6 1.5-1.7 .2-4.2-1.2-1.7-1.2 0-.7 .9 1.6 1.6-1.2 1.9-1.4-.5-1.4 .8-1.4-.1-2.1 3-.7-.8-.9-.1-.4 3.4 .6 .9 2.1 .2 .3 .6-3.3 2.5-1.2 .1-.4-1 .9-4.2-.5-2-1.4-.1-2.8 1.3 .9 2.5-1.6 1.8-.7 0 1.4-4.3-1.4-.9-2.1 1 0-2.6-.7-.3-.7 1 0-1.5 .9-1.7-.2-2.7-2.8-.7-1.4-1.9-2.8-.4-1.6-1-1.2-1.8-.7 .1-.7 1.7-1.4 1.1-.7-.1-1.4-1.6-1.4 1.4-2.1-.4-.5 .4-1.9 2.5 .1 1.7 1.1 1.7-.2 1.6-2.8-.8-.7 .2-2.5 4.8-.3 4-2.5 1.9 1 1.7 1.6 .8 1.3 3.1 1.4 .6 2.1 .1 1.7-1.3 .4-2.7 2.1 2.2 1.4-.2 1.4-1.1 .7-.7 .1-2.5 1.3 0 1.4 1.5 2.8-2 1.3 1.3-1.1 1.7 .5 .6 1.4 0 2.8-1.4 2.1-3.1 1.6 1.4 .5 1.7-.4 2.5-.8 .8-.1 .9 .6 .6 2.8 .4 2.1-.4 .9-1.5-.1-1.7 .6-.4 .9 .4-.1 1.7 .9 .9 .6-.9-.6-1.7 1.8-1.1zM133.1 21.6l0-1.4 1 .2 .3 .9zM129.6 23.3l-.4-.4 .4-1.1 .6 .3zM142.1 29.6l.8 .9 .6-.9-.6-1.7zM18.1 28l1.5 .8 1.6-1.7 .1-.8-1.7-2.5-.7 .2-1.1 2.3zM11.6 27.1l1 .5 1.5-.5 .6-3.3-1.4-.4-2.1-2.7-1.4 .7-2.1-1-2.1-.2-1.4 .6-.7 1-1.4-1.5-1.4 0 .1 1.8 1.3 1.9 .7 0-.1-1.1 .8-.6 .7 1 3.5 .6 1.4-.9 1.1 2.4zM22.2 23.8l.9-.3 1.4-1.8 2.1 .1 2-1.4 .5-1.6-1.8-2.9-3.5-.6-3 .9 .3 1.7-1.3 1.7 .2 .8zM160.1 23.8l.8 0 .2-1-.7-.3zM251.9 23.8l3.1 .6 0-4.3-3 1.2zM206.8 22.9l1.3 .4 3.5-.9 2.8 .1 1.4-.4 .4-.8-1.5-1.7 1.1-.6 .7 .4 .7-3.1 3.2 1.6 1 1.8 3.5 .1 .4-1-.3-1.7 1.3-.8-.1-1.7-1.3-1.8-2.1-.2-1.4-1.2-2.8-1.3-2.1 .6-2.8 0-.5 .5 .3 1.7-1.2 1.1-.7-2.3-.7-.5-1.4 .3-2.1 4-.4 3.3-1 3.1-.6 .2zM249 22.1l1.1 .7 .7-.7-.1-.8zM201 21.3l.8 .6 .4-1.5-.4-.3-.6 .3zM158.9 15.4l.8 .5 1-1.3-1-2.1-.7 .1-.5 1.1zM120.1 11.2l.4 .5 .7-.3 0-1.3-.7 0zM126.1 11.2l.2-.8 1.2-.8 1.4 1 .3-.2 2.9-3.4-.3-1.6-3.6 .7 0 2.3-1.4-.3-1.4-1.1-1.2 0-.2 1.9zM193.5 8.7l1.3 .3 .8-1.1-1.5-1.6-1.1 1.6zM12.3 7.9l1 .4 3.5-1.1 .9-1-.2-.8-1.4-1.5-2.1-.2-2.1 3-1.4 .2zM119.6 5.4l.7 0-.5-.6z" fill="#f26e78" fill-rule="evenodd"/><path d="M6.7 62.3l.3 .6 .5-.6-.5-.4zM5.5 61.4l1 0-.1-2.5-.8 .2-.7 1.4zM50.5 61.4l1.3 .1 1.1-.9 0-2.5-1.1-.4-1.4 1.5-.5 1.4zM59.3 61.4l1.4 0 .1-.8-2.2-1.7-1.2-.1zM146.6 48.1l1.2 .2 2.8-.7 2.8-1.8 2.1 .9 .7-.4 .3-1.6-.5-.8-1.2-.2-2.1 .4-1.4 1.3-3.5 .1-1.9 .9-.1 .8zM235.9 48.1l3.7 .1 .7-.4 1.2-2.3 .3-1.6-.5-.9-3.1 .2-1.4-.6-3.5 1-2.1-.5-1.5 .8-.1 .8 .9 1.2 1.4-.4 1.8 1.7zM158.1 46.4l3.7-.8 2.1 .6 1.4-1.3 5.6-.3 2.8 .9 3.5-.4 2.1 1.4 2.8-.2 2.1-1.1 3.5 .9 3.7-2.2 .4-2.5-.9-.9-3.9-.7-2.8 .8-.8-.9-3.4-.9-1.4-2.1-1.4-1-2.1 1.6-.6 3.2-1.2 1.7-7.3 .2-1.4 1.7-1.4 .1-.7 1.2-.7 0-.1-.7-1.3-.8-1.4 .1zM32.8 45.5l2.9-.6 .5-1-.3-1.7-2.3-.6-1.5 .6-.8 1.7zM188.4 35.5l1.5 0-.1-3.4-.7-1-.7 .2-.3 .8zM192.3 33l.4 .3 0-.8zM85.7 31.3l1.9 0 2.1-2.6-.7-.5-.7 1.4-.7 0-3-2.5-.8 .9zM130.7 28.8l.3 .6 .7 0 1.1-1.4-.8-1.7 .4-.4 .9 .4 .5 1.6 1.4-.1 2.1-1.4 1.4 1.3 .7-.2 1.6-1.2 1.5-2.5 .3-.9-.7-1.6 .8-.6 1.4 4.7 .7 1 .7-.1 .9-3.4 2.7-.8-.1-3.5 .7 2.2 1.7-.4 1.8-4.6 0-1.3-.7 0-1.4 1.5-1.4-.1-.7-3.4-4.2-1.4-.1 1 1.5 1.6 0 1-3.5 2.7-1.8-2-.3-1.9-.7-.2-1.4 2.1-1.3 .8-.1 3.2-.7 1-.7 0 0-6.7 1.2-.8 .2-.8-.7-1.6-1.4 1.7-1.4-.7-.9 .6 .6 1.6-.4 .7-.4-1.5-.7-.8-1-.2-1.4 3-.7 .4-.7-.4-1 2.2 1 .8 2.1-1.1 1.4-.1 1.4-1 .5 .5-.5 1.2-1.4-.1-2.1 2.5-2.5 1.5-2.5 0 1-5.1-.9-1.8-2.8 1 .1 3.4-2.2 1.4-.4-.6 .9-4.2-.5-.4-2.1 1.1-1.4-.7-.7-1.1 0-1.5 1.5-2.4-.5-2.5-2.4-.6-2.1-2.4-2.1 0-2.1-1.2-.7-1.2-.7 .3-.8 1.7-1.3 .6-.7-.1-1.4-1.5-1.4 1.5-2.3-.5-1.8 2.5 0 1.7 1 1.7-.2 1.7-.9 .2-2.1-.9-.7 .6-2.3 4.2 0 3.4-1.2 2.1-1.1 .4 .4 1.1 2 1.4 .8 2.8 .7 .5 2.8 .2 1.5-1 .6-3.1 1.4 1.8 1.4 .4 2.1-1.6 .7-2.9 3.5 1.2 2.1-1.8 1.5 1 .6 2.1 2.8-.9 2.1-3.1 1.8 1.9 .7 4.2 1.7 2.3 2.1-1.1 .7-2.5 .7-.4 1.4 .7 2.1-1.2 .7 .2zM133.1 22l-.5-.7 .5-1.6 1.8 .7 .2 .9zM128.9 23.5l.1-1.4 1.3-1 .1 1.8-.8 .8zM18.3 28l1.3 .5 1.2-1.4-.2-1.7-1-1.2-.7 .3-.9 1.8zM12 27.1l1.3 .1 .7-.7 .2-1.9-3-3.6-.7 .3-.9 1.6 .8 2.5zM154.1 25.4l.8 0 .4-2.5-.5-.5-2.6-.3zM4.3 22.9l3.4 .6 1.3-1.4-1.3-1.4-2.1-.3-1.6 .9-.2 .8zM22.3 22.9l.8-.3 0-1.3-1 .8zM207.3 22.9l.8 .2 3.5-1.5 3.5 .4 .4-.7-1.1-1.5-.7-.2-1.4 .8-.4-.8 .9-.8 .9 .8 2.8-1.2 .7-2.4 3.5 1.8 1.4 1.3 2.1 .2 .8-.5-.8-1.7 .7-.9 .7 0 .2-1.6-1.2-1.7-1.8 .4-4.2-3-4.8 .9 0 1.7-1.5 1.3-1-2.1-1.1-.5-2.7 4.6-1.1 5.1zM252.5 22.9l1.1 .7 .7-.7-.1-1.6-.6-.5-.9 .5zM1.3 21.3l.8 .7 0-1-.7-.2zM24.6 21.3l1.3 .5 2.1-.9 .7-2.1-.6-1.7-.8-1-2.8-.7-3.1 .8 0 1.7-1.3 1.7 .2 1 .7 .5 1.4-.7 .7 .8zM158.7 14.6l.3 .7 .7 0 .6-.7-.6-1.8-.7 .2zM150.2 10.4l.4 .6 .9-.6-.9-.9zM125.3 8.7l.8 .7 .7-.7zM13.1 7.9l3.7-1.3 .4-1.2-.6-.9-1.9-.8-1.3 .8-1.2 2.5zM129.2 7.9l.4 .5 .7-.3 1.2-1.1 .2-.9-.7-.5-2.1 .6zM135.3 7.9l.6 .5 .7-.5-.7-.6z" fill="#f1626c" fill-rule="evenodd"/><path d="M51.1 61.4l1.5-.8 0-1.7-.8-.7-1.5 1.6-.1 .8zM60.1 61.4l.3-.8-.9-.4-.3 .4zM5.4 60.6l.6 0-.2-.8zM146.9 48.1l3.7-.7 2.8-2.3 1.4 1.4 .7 0 .8-1-.1-.8-.6-.8-.8 0-2.5 .8-1 1.5-2.1-.7-2.1 .4-.9 .5-.2 .8zM234.2 47.2l1.9 .7 3.5 0 1.5-1.5 .5-2.5-.6-.8-2.8 .3-1.4-.6-4.2 1.3-1.4-.7-1 .5-.3 .8 .6 .8 1.4-.5zM158.4 45.5l.6 .7 1.4-.2 1-.5 0-.8-1.7-.6-.7 .2zM163 45.5l.9 .4 .7-.4 0-.8-1.4-.1zM178.3 45.5l1 .8 2.8-.2 2.1-1.2 3.5 1 3.4-2 .4-1.7-1.6-1.5-2.9-.7-2.8 .9-2.1-1.4-2.1-.4-2.8-2.9-2.1 2-1.4 4.1-2.8-.2-5.4 .9 .7 1.7 4.7-.3 2.1 .8 2.8-.4zM32.2 44.7l.7 .7 2.6-.7 .5-.8-.3-1.6-2.1-.6-1.2 .5-.6 .8zM188.5 34.7l.6 .6 0-2.2zM188.4 32.1l.7 .9 0-1.4zM86.5 31.3l1.2-.8-.8-1-1.4-.2-.1 1.2zM18.6 28l1 .3 1-1.2 .1-.8-1.1-1.7-1.3 1.7-.2 .8zM120.4 28l1.5-1 1.4-2.5 2.1 .5 2.8-1.4 .9-2.3 .2-.9-.4-.1-2.1 1.4-2.1 0-.4-.4 1.1-5.1-.7-1.5-2.4 .7-.1 3.4-1.7 1.6-.7 .1-.7-.9 .7-3.8-1.4 .7-1.4 0-1.7-1.9 .3-2.5 1.3-1.7-.6-2.4-2.1-.5-2.1-2.3-2.1 0-2.8-1.4-1.4 1.3-1.4 .2-.7 0-1.4-1.4-1.4 1.5-2.1-.7-1.7 3.2 .9 2.5-.2 1.7-1.1 .3-2.1-.7-2.8 4.5 0 3.4-1.6 3.3 1.6 .9 .7 3.3 1.4 .7 2.8 0 1-1.5-.3-1.7 .7-.9 .7 .2 .8 1.5 1.3 .3 2.8-4.4 3.5 1.4 2.1-1.9 2.1 1.3 .7 1.4 1.4-.3 2.8-3.6 2 2.5 .6 3.3zM130.7 28l1 .6-.2-2.3 .9-.8 .7 .1 1.4 1.7 2.8-1.5 1.4 1.3 .7-.2 2.8-3.1 .3-.9-.8-1.6 .5-1.1 1.5 1.1 .2 2.5 1.1 1.9 .7-.6 .5-2.2-.6-.8 .1-1.1 .7 0 .8 1.1 1.2 0 .1-2.9 .7-1.4 1.4 2.6 .7-.3 1.4-3.9-2.8 .3-.8-1.1-.1-2.5-1.2-.7-1.2 .7 .3 1.7-.5 .7-1.4 .5-1.4 1.7-1.4-.1-2.1-1.8-2.1 .5-.5 1-.2 3.3 1.7 2.5-1 1.1-1.4-2.4-3.5 .7-.8-1 .8-2.4 1.4 1.2 1.2-.5-.6-3.4 .3-1.6-.9-1.4-.5 1.4 .3 1.6-1.2 2.2-1.4-.3-.7 .6-.5 .9 .2 3.3-2 1.7zM11.2 26.3l1.4 .8 1.1-.8 .1-.9-2.6-4.1-1.1 .8-.2 .8 .3 1.7zM153.7 24.6l1.1 .4 0-2.1-1.5 0zM4.7 22.9l3 .2 .8-1-.8-1.1-2.1-.4-1.3 .7-.2 .8zM252.9 22.9l.8 0-.1-1.5-.7 .4zM207 22.1l1.1 .8 2.1-.8 1.9-3.3 3.7-.4 1.4-2.7 4.9 2.9 1.4-.2 .7-2.9 1.3-.1-.4-1.7-.9-.7-1.4 .9-1.4-1.6-2.8-1.7-4.2 1.1-.3 1.2-1.8 1.5-1.3-2.3-.8-.2-2.5 4.3zM24.9 21.3l1.7 .2 1.6-1.1 .3-1.6-.6-1.7-.9-.9-2.5-.6-2.4 .6-.3 3.4zM212.8 21.3l1.6 .3 .4-.3-1.1-.9zM20.8 19.6l.2 .5 .5-.5zM127.6 17.1l1.3 .3 1-1.2 2.6-.8-.8-2.9-1 .4-1.1 3.1-1.4-.2zM139.9 14.6l.2 .6 .4-.6-.4-.7zM158.9 14.6l.8 .3 .3-.3-.3-1.4-.7 .2zM12.7 7l1.3 .5 2.5-1.3 .3-.8-1.4-1.3-1.4 .2-.9 1.1zM129.3 7l1 .6 .8-1.4-1.1 0z" fill="#f0555f" fill-rule="evenodd"/><path d="M50.4 60.6l.7 .5 1.1-.5-.4-1.8-.7 .3zM146.2 47.2l1.6 .8 2.5-.8 .5-.8-3-.5-1.3 .5zM234.6 47.2l5 .6 1.3-1.4 .5-2.5-.4-.5-3.5 .2-.7-.4-3.5 1-.6 .5 .1 .8zM154.2 45.5l1.3 .8 .5-1.6-1.2-.6-.9 .6zM158.7 45.5l1.7 .3 .6-.3 .1-.8-1.4-.4zM163.6 45.5l.5 0-.2-.7zM178.6 45.5l.7 .6 2.8-.1 2.1-1.3 3.5 1 3-1.8 .4-1.7-1.2-1.2-2.9-.9-2.1 1.1-1.4-.3-1.4-1.2-2.8-.8-2.1-2.1-2 2-1.5 3.8-2.8-.3-4.9 .7-.1 .9 .8 .5 3.5-.3 3.5 1 2.1-.6 2.1 .3zM32.5 44.7l1.1 .4 1.4-.4 .9-.8-.2-1.3-1.4-.7-1.5 .3-.7 .8zM230.3 44.7l1.2 0-.2-.8zM85.9 30.5l1.2 0-.9-.8zM18.9 28l.7 .1 .7-1 .1-.8-.8-1.2-1.1 1.2-.2 .8zM92.8 27.1l3.9 .5 .9-1.3-.5-2.5 2.3 0 .8 1.3 .6-.5-.2-.8 .7-.9 1-.2 1.4-1.7 3.5 1.4 1.4-1.9 .7-.1 3.5 2.5 3.5-3.8 2.1 2.7 .8 3.6 1.3 1.7 .7-.2 2.1-2.8 2.1 .6 1.7-.9 1-.9 .1-1.4-4.2 .3 1.2-5.6-.5-1.2-.7-.1-1.9 1.3 .3 2.6-1.2 1.3-.7 .5-1.4-.2-.6-3.3-1.5-.2-2-1.5 .1-2.5 1.5-2.5-.1-1.7-2.3-.9-2.1-2.4-2.1 .1-2.1-1-1.4 1.1-2.8 0-1.4-1.2-1.4 1.3-2.1-.6 0 3.5-1.3 .1 .9 1.7-.4 1.7-1.3 .5-2.1-.6-2.5 4.2 .2 2.6-1.5 3.3 .2 .8 1.6 .9-.3 2.5zM106.5 16.7l0-1.2 .5 .7zM114.2 19.1l-.6-.3 .6-.4zM11.5 26.3l1.1 .5 .7-.5 .1-.9-2.2-3.8-.8 .5-.3 1.7zM130.1 26.3l.9 0 1.4-1.1 2.1 .9 2.6-1.5-.8-2.5-2.5 .5-1.6-.5-.5-3.3-.6 .8 .3 2.5-1.1 1.8-1.1 .7 0 .8zM138.7 26.3l1.4-.4 1.8-2.1 .3-.9-1.2-1.6 1.2-1.6 1.8 1.6 .2 2.5 .8 1.3 .9-1.3-.8-1.7 .6-1.9 2.1 1.6 1.3-4.7-.6-4.2-1.4-.1-.1 2.6-2 .6-2.1 2.1-2.1-1.6-2.8 0-.3 3.9 1.9 2.5-1.4 1.7zM154.1 24.6l.7-.8-.7-.3zM5.5 22.9l2.2-.4 0-1.2-1.4-.5-1.4 .2-.5 1.1zM207.3 22.1l.8 .5 2.1-1.1 2.1-3.1 3.5-.2 1.4-2.8 4.9 2.9 .7 0 .8-1.2-.3-1.7-1.9-2.7-2.8-1.9-3.8 1.3-.3 .8-2.2 1.6-1.4-2.3-.7 0-2.2 4zM25.3 21.3l1.3 .1 1.4-1 .3-1.6-.7-1.7-1-.8-3.5-.4-1.2 1.2 .3 1.7zM134 19.6l1.2 .2 .3-1-1-2-1 1.1-.2 .9zM150.5 19.6l.8-.2 .7-2.7-1.9 .4zM130.3 15.4l1.6 0-.2-2.2-.7-.3zM224.1 14.6l.9 0-.8-1.1zM13.2 7l.8 .2 2.1-1.4 0-.8-.7-.6-1.4 .2-.7 .8z" fill="#ef4852" fill-rule="evenodd"/><path d="M50.9 60.6l1 0-.1-1-.7 0zM146.4 47.2l1.4 .6 1.8-.6 .6-.8-2.4-.4-.9 .4zM235.4 47.2l4.2 .4 1.1-1.2 .5-2.5-.9-.4-6.3 .6-.9 .6 0 .8 .9 1.3zM154.5 45.5l1 .5 0-1.6-1.1 .3zM159 45.5l1.6 0 .1-.8-1-.2zM178.9 45.5l3.2 .3 2.1-1.4 3.5 1 2.6-1.5 .4-1.7-.8-1-2.9-.9-2.1 1.2-2.1-.5-1-1.3-2.5-.4-1.4-1.7-.7-.1-1.6 1.3-1.9 4.1-2.8-.4-3.2 .5 .3 .9 2.2 0 2.8 1 4.9-.6zM32.8 44.7l2.2-.2 .7-.6 0-.9-.7-.8-1.9 0-.7 .8zM18.5 27.1l1.1 .7 .5-.7-.5-1.6zM93.2 27.1l3.5 .3 .7-2-.7-1.5-.9-.1 4.4-.4 3.5-2.6 3.5 1.4 1.1-1.8 1-.2 3.5 1.6 1.2-1.4-.7-2.5 .9-.7 .7 1.4 1.4-.1 .7 .7 1.5 2.1 1.1 4.1 .9 .8 1.4-.6 1.4-2.2 2.1 1.1 2.2-1.6-.8-.8-2.8 .5-.6-.5 1.6-5.9-.3-.9-.7-.2-1.7 1.1 .3 2.6-1.4 1.6-2.1 .5-.7-3.1-1.4-.2-2.5-2.2 .3-2.5 1.6-2.5-.1-1.7-2.1-.7-2.1-2.4-2.1 .3-2.1-1.1-2.1 1.4-3.5-.9-1.4 .7-1.4-.7-.6 .9 .3 1.7-.9 4.2-1.6 .7-2.1-.5-2.2 3.9 .3 2.6-1.6 3.3 2 1.7-.6 2.5zM106.5 17l-.6-.8 .6-1 .7 1zM11.8 26.3l.8 .2 .4-1.1-1.8-3.4-.7 .4-.2 1.4zM129.5 25.4l1.5 .4 1.4-.9 2.1 .4 1.8-1.5 .1-.9-.5-.4-2.8 .4-1.4-.5zM138.7 25.4l.7 .5 2.1-2 .4-1-.4-.7-.7 .1-1.4 1.5zM144.7 23.8l.3 .7 .5-.7-.5-1zM4.6 22.1l1 .6 2-.6-.3-.8-1.7-.3-.8 .3zM207.9 22.1l4.4-4 2.1 .3 1.4-.4 .7-2.7 .7-.1 4.9 2.8 1.2-.9-.2-1.7-1.7-2.4-2.8-2-2.8 .8-.7 1.1-2.8 1.8-1.4-2.1-.7-.1-2.2 4.6zM25.8 21.3l1.5-.4 .7-1-.6-2.8-2.9-1.1-1.6 .2-.8 .9 .4 1.7zM138.9 21.3l1.2-.1 2.1-2.3 2.1 2.3 .7-.2 .2-2.2 .5-.6 .7 .4 .7 2.3 .7 .1 .7-4.8-.7-.7-2.1 .5-2.8 2.6-.7 0-1.4-1.8-2.8 .2 .2 3.4zM134.5 19.6l.9-.8-.9-1.5-.9 1.5zM150.5 17.9l.1 .4 .7 0 .2-1.2zM130.6 14.6l.4 .7 .8-.7-.8-1zM147.5 13.7l.3 .8 .5-.8-.5-.8zM13.5 6.2l.5 .4 1.1-1.2-1.1-.2z" fill="#ee3c46" fill-rule="evenodd"/><path d="M146.7 47.2l1.1 .4 1.1-.4 .5-.8-2.1 0zM238.5 47.2l1.1 .2 .7-.7 .7-2.8-2.2 0-1.3 .7-2.8-.5-1.3 .6 .3 1.7 1 .5 2.8-.1zM154.7 45.5l.8 .2 0-1.1-.8 .1zM179.2 45.5l2.9 .1 2.1-1.4 2.8 1 1.4-.2 1.6-1.1 .4-1.7-.7-.8-2.7-.9-2.1 1.2-2.1-.2-1.4-1.8-2.1 0-1.4-1.5-2.1 .8-2.1 4.3-2.1-.5-1.3 .2 2.7 1.7 5.6-1zM33.6 44.7l1.9-.8-.5-1.5-1.4-.3-.9 .9 .2 1.4zM18.7 27.1l1.1 0-.2-1.2-.7 .4zM95.4 27.1l1.3 .1 .5-1.8-.5-1-1.4 0-.3-.6 5.2-.9 3.5-2.4 3.5 1.5 1.4-2.1 4.2 1.1 .4-.6-.2-2.5 1-1.7 .4-3.3 1.9-3.4-2.1-1.1-2.1-2.6-2.1 .4-1.4-1.1-2.8 1.4-6.3-.6-.2 3.6 .8 1.7-2.7 1.6-2.8-.2-2.1 4.5 .7 1.4 1.4-1 0 1.3-1.4 .3-1.7 2.2 .3 1.4 1.7 1.1-.8 2.5 .5 .5zM106.5 17.3l-.8-1.1 .8-1.2 .7 .3 .2 .9zM11.3 25.4l.6 .7 .8-.7-1.5-3.1-.7 1.5zM120.1 25.4l1.3 0 2.6-5.2 .8-4-.5-.8-1.8 .8 .4 2.6-1.7 2-2.1 .6 .1 2.4zM130.6 24.6l.4 .5 3.5-.5 .7-1-3.5-.6zM139.3 24.6l.1 .4 .7-.2 0-.8zM124.4 23.8l1 .5 1.8-1.4-1.8-.6-1.2 .6zM140.2 23.8l.6 .2 .7-1.2zM4.9 22.1l.7 .4 1.4-.4-.3-.8-1.1-.2zM24.8 20.4l1.1 .7 1.4-.4 .6-1.9-1.3-2.1-2.8-.6-1.4 .9 0 .9zM138.6 20.4l.8 .6 1.4-.8 1.1-1.4-.4-1.1-.7-.5-2.3-.1zM144.1 20.4l.7 0 .2-.8-.7-1.3-1.1 .5zM117.5 19.6l.2 .5 .6-.5-.6-1.3zM147 19.6l.1 .5 1-3-.3-.8-2.1 .1-.7 1.1 1.4 0zM208.5 19.6l1.7-.2 2.1-1.5 3.2 0 1-3.2 5.6 3 .7-.1 .3-1.4-1.7-2.9-2.8-2.1-2.8 .9-.7 1.4-2.8 1.4-1.4-2-.7 0-1.9 4.2zM133.9 18.8l.6 .5 .7-.5-.7-1.2zM115.1 17.9l1 0-.1-.8-1.1-.2z" fill="#ed303a" fill-rule="evenodd"/><path d="M147 47.2l1.3 0-.5-.6zM234 46.4l1.4 .5 2.1-.5 2.1 .8 1.3-2.5-.6-.9-1.4 .2-1.4 1.2-2.8-.9-1 .4zM179.8 45.5l2.3 0 2.1-1.6 2.8 1 1.4-.1 1.8-1.8-.1-.8-.8-.8-2.3-.7-2.1 1.3-2.1-.2-1.4-1.9-2.1 .3-1.4-1.4-2.1 .6-1.4 4.5-2.6 0 1.9 .2 1.4-.5 1.4 .4 2.1-.9zM33.1 43.9l.5 .5 1.4-.3 .4-1.1-1.8-.7zM170.9 43l.7 .6 .2-.6zM95.9 27.1l.8-.1 .4-1.6-.4-.6-2-.2-.4-.8 1.7-.9 4.2-.2 3.5-2.4 3.5 1.4 1.4-2.1 2.8 1 1.2-.2 .1-2.5 1.3-4.2-1.2-.8-.3-.8 .3-.6 1.4 .5 .7-.4 1-2.1-1.7-.8-2.1-2.7-2.1 .8-1.4-1.5-2.8 1.5-5.6-.4-.5 .6 0 2.5 .5 2-2.8 1.5-2.6-.1-1.1 3.3 1.5 1.7-.3 .9-2.4 1.3-.8 1.2 .1 1 2 1.5-.8 2.5zM103 9.6l0-1.2 .7-.8 .3 1.1zM105.8 17.1l.2-1.7 .5-.6 .7 .1 0 2.2-.7 .4zM11.8 25.4l.4 0-.1-.8-.9-1.9-.5 1.1zM119.6 24.6l.9 .7 .7-.3 .7-2.7 2-2.7-.4-.8 1.2-2.6-.7-.7-1.3 .7 .5 2.6-2 2.4-1.4 .2-.7 .7zM124.8 23.8l1.3 .1 .7-1-1.4-.4-.8 .4zM5.4 22.1l1 0-.8-.5zM25 20.4l.9 .6 1.5-.6 .4-.8-.4-1.7-1.5-1.3-2.8-.1-.5 1.4zM139.4 20.4l1.4-.6 .8-1-.8-1.3-2.1 .1zM143.9 19.6l.4 .4 0-.9zM134.2 18.8l.6 0-.3-.9zM208.5 18.8l.3 .4 1.4-.2 2.1-1.3 2.9 .2 .8-.8-.3-2.5-1.3-.9-2.1 1.3-1.4-1.9-.7 .1-1.6 3.9zM221.3 17.1l1.5 .1 .1-1-1.5-2.6-2.8-2.1-2.1 .7-.6 .7 .1 .8 2.6 2.1z" fill="#ec232d" fill-rule="evenodd"/><path d="M234.3 46.4l1.8 .1 .6-1-1.3-.9-1.3 .1-.4 .8zM237.9 46.4l1.7 .6 .9-1.5-.2-1.3-2.1 .5zM179.4 44.7l.6 .6 2.1 0 2.8-2.2 2.1 1.5 1.4 0 1.5-1.6-.1-.8-2.8-1.4-2.1 2.1-.2-.7-1.9-.1-1.4-2-2.8 .7-.7-1.2-1.7 .1-1 3.3 1.3 .8 2.1-1.2 .9 1.3zM33.5 43.9l1.5 0 .2-.9-1.6-.4zM93.5 26.3l1.1-.4 1.4 1 .7-.1 .2-1.4-.2-.4-2.1 .2-.7-.5-.7 .7zM119.9 24.6l.6 .4 .9-1.2 0-1.7-.9-.5-1.1 .5zM11 23.8l.2 .6 0-1.2zM125.2 23.8l1.2-.9-1.5 0zM93.5 22.9l1.1 .5 1.4-.8 3.5 .1 4.2-2.7 2.8 1.4 .7 0 1.4-2 3.5 .8 1.5-5.6-1.6-2.5 .8-1.3 2.1 .3 .6-.7-.1-.9-1.7-.8-1.6-2.5-1.8 .8-.3 1.9-.7-.2 0-2.5-.7-.6-.7 .2-1.4 1.1-1.4 .2-1.2 2.4-.9 .3-.7-2.6-2.1-.5-.3 2.8 .6 1.7-.3 .7-2.1 1-2.8 .4-.7 1.2-.3 .9 1.1 2.5-.2 .9-3.3 2.5 0 .8zM105.8 17.4l0-1.9 .7-.9 .7 0 .2 2.5-.9 .6zM121.9 21.3l.7-.1 .7-1.8-1.2 1zM25.2 20.4l.7 .5 1.3-.5 .4-.8-.4-1.7-1.3-1.1-2.8-.2-.4 1.3zM139.7 19.6l1.5-.8-.4-1-1.4 .1zM209.2 18.8l3.1-1.4 2.8 .4 .8-.7-.4-2.5-1.1-.7-2.1 1.3-1.4-1.8-.7 0-.6 1.2 .1 1.6-1 1.7zM123 17.1l.3 .6 .7-.1 .4-1.4-1.1-.3zM221.7 17.1l.7 0 .3-.9-1.3-2.2-1.4-.6-1.4-1.6-2.3 1.1 .3 .8 2 1.9z" fill="#ec1923" fill-rule="evenodd"/><path d="M234.6 46.4l1.3 0 .4-.9-1.6-.8-.8 .8zM238.4 46.4l1.2 .3 .7-1.2 0-1-1.8 .2zM179.8 44.7l2.3 .5 2.3-2.2-1.6-.6-1.2-1.9-.9-.3-1.9 2zM34.3 43.9l.6-.9-1.3-.1zM186.5 43.9l1.9 .4 1.2-1.3 0-.8-1.9-1.1-1.4 .2-.6 .9zM175.5 43l1.7 .5 1.3-1.3-1.3-2.2-1.2 .5zM95.4 26.3l1.3 .3 0-1.4-1.3 .2zM119.7 23.8l.8 .8 .6-.8-.6-1.9-.8 .2zM93.9 22.9l2.1-.5 3.5 .1 4.2-2.7 2.8 1.2 2.1-1.8 2.8 .8 .7-.3 1.2-4.3-.1-.8-1.6-1.7 0-.8 1.6-2.6-.5-2.5-.6-.6-1.4 .6-.1 1.7-.6 .6-.9-.6-.2-2.5-1-.1-2.8 1.6-.9 1.8-1.2 .6-.7-.6-.1-1.6-1.2-.9-.8 .2-.1 2.3 .6 1.7-.4 .9-4.3 1.6-.9 1.7 .3 3.4-3.3 2.5 .1 .8zM106.5 17.9l-1.2-.8 0-.9 2.6-4.3 .4 1-.9 1.7 .2 2.5zM25.4 20.4l1.2 .2 .7-.7-.3-2-1.8-1.2-2.1 .1-.2 1.1 .5 .9zM209.2 17.9l1 .3 1.4-1 3.5 .5 .7-.6-.1-1.7-1.3-1.4-2.1 1.4-1.4-1.7-.7 0-.4 .9 .4 1.9zM123.2 17.1l.8 .1 0-1.2-.8 .2zM220.8 16.2l1.3 .7 .3-.7-1-1.9-1.4-.4-1.4-1.8-1.7 .8 .1 .8 1.6 1.7zM113.9 10.4l1.1 0-.8-.5z" fill="#eb0f19" fill-rule="evenodd"/><path d="M238.7 46.4l1 0 .4-1.7-1.2 0zM234.2 45.5l1.2 .7 .5-.7-1.2-.4zM180.1 44.7l2 .3 1.3-2-1.3-.8-.8-1.7-.8 0-1.2 1.7zM186.8 43.9l1.6 .2 .9-1.9-1.6-1-1.2 .2-.5 1.6zM175.8 43l.7 .4 1-.4 .4-.8-.7-1.6-.7-.1-.5 .9zM95.7 26.3l1 .1-.2-1-.7 0zM120 23.8l.5 .4 .3-.4-.3-1.6-.7 .4zM92.7 22.1l1.9 .7 1.4-.7 3.5 .2 4.2-2.8 2.8 1 .7-1 1.4-.6 3.1 .7 1.4-4.2-2-2.5 .6-2.5-2.4-1-.7-3.1-3.2 1.6-.8 1.6-1.6 .9-.7-.4-.6-2.1-.8-.5-.5 .5 .5 3.3-1.4 1.7-3 .8-1 1.7 .1 3.4-3.1 2.3zM102.3 16.2l1.1 0-.4 .6zM105.8 18.1l-.8-1 .2-.9 1.9-4.1 .8-.6 .7 1.4-.9 1.7 .1 2.5-1.3 1.3zM110 16.9l0-.8 .7 .1zM25.7 20.4l.9 .1 .7-.9-.7-2-2.1-.9-1.4 .3 .5 1.8zM212.4 17.1l2 .5 1.2-.5-.5-2.4-1.4-.3-1.4 1.4-1.4-1.8-.7 .2-.1 1.2 .8 1.1zM221.2 16.2l.9 0-.7-1.6-1.4-.1-1.4-1.9-1.2 .3 .6 1.7 .6 .5 1.4-.4zM111.2 8.7l.9 .5 .5-.5 .2-.8-.7-1.2-1.1 .3z" fill="#e60c16" fill-rule="evenodd"/><path d="M238.8 45.5l.8 .6 0-1.2zM180.5 44.7l1.6 .1 .7-.9-.1-.9-2-2.3-1.1 1.5zM187.3 43.9l1.1-.1 .6-1.6-2-.9-.9 .9 .2 .8zM176.2 43l1.1 0 .3-.8-.4-1-.8 .2zM93.4 22.1l1.2 .4 1.4-.7 2.8 .5 1.4-.5 3.5-2.9 2.4 .7 .1-.8-1.8-1.5-.7 .8-1.7-1.9 1-.5 1.4 1.4 2.5-5 1-.9 .9 1.7-.8 1.7 .1 2.5-1 1.7 2.2-.5 2.1 1 1.5-3.9-.8-1.1-1.4-.6 .2-3.3-1.8-.9-.5-2.5-.7-.3-2 1.2-.7 1.6-2.2 1-.9-.1-1.2-2.5-.3 1.6 .6 1.7-1.7 2-2.1 .3-1.3 1.1-.3 4.2-2.9 2.5zM110 17.7l-.3-1.5 1-1.5 .4 2.4zM24.7 19.6l1.2 .8 .7-.1 .4-1.5-1.1-1.5-2.1-.5-.6 1.1zM212.8 17.1l1.6 .4 1-.4 .2-.9-.9-1.6-1-.1-.9 .9-.7 .8zM210.6 15.4l.6 0-.3-1-.6 .2zM218.4 14.6l.6 0-.1-.9-1-.8-.2 .8zM111.1 7.9l1 .6 .4-.6-.4-1-.8 .1z" fill="#e10a14" fill-rule="evenodd"/></g>
<path d="M-4 12.9l1.5-.3 1.8-.3 1.7-.4 .2-1.1-1-.8-.4-.6-.9-1.1-.3-.4-.4-.4 .5-.9-1.2-.2 .4-.7-1.4 0-.6 .9 .2 1 .4 .7 .1 .6 1.2 .1 .1 .6 0 .5-1.2 0 .4 .4 0 .6-.8 .3 .9 .2 .7 .1-.8 .2-.6 .5zM248.2 12.9l1.5-.3 1.8-.3 1.7-.4 .2-1.1-1-.8-.4-.6-.9-1.1-.3-.4-.4-.4 .5-.9-1.2-.2 .4-.7-1.4 0-.6 .9 .2 1 .4 .7 .1 .6 1.2 .1 .1 .6 0 .5-1.2 0 .4 .4 0 .6-.8 .3 .9 .2 .7 .1-.8 .2-.6 .5zM248 11.2l-.1-1.2 .4-.9-.3-.6-1.1 0-.7 .6-1 .3 .3 1-.4 1 .4 .2 1.1-.2 1.1-.3zM235.4 -.1l1.4 1.4 2.4 .4 2.8-.8 .7-.8-1-1-6.3 0zM98.1 20l.8-.2 1.4-.1 1.6-1.2-.1-.8-2.3-1-.4 1.2-.7 .7-.3 .6zM99.5 16.2l1 0-.1-2.5 .8 0-.7-2.1-.3-2.1-.4-.2-.2 2.3-.1 2.1zM84.8 33.6l.7 .2-.4 1.7-.5 .9-.5-.9 .3-1.3zM76.1 38.7l1.2-.8 .5 .5-.7 1.1-.7-.2zM55.9 46.5l.4 0 1.1 2-.5 1.1-.9 .1-.1-1.6zM84.4 39.3l1.2 0-.1 1.2-.4 1.3 .4 1.2 1.4 .9-.4 .1-1.4-.8-.7-.6-.3-1.2zM85.5 48.9l1-1.3 1.4-1.1 .7 2-.3 1.2-.7 .2-.7-.6zM85.8 44.9l2.1-.6 .2 1.2-1.6 1.3-.7 0zM82.1 47.8l1.6-1.8 .2-.8-.5 .8-1.1 1.4zM84.4 43.4l.7 .5-.3 .6-.5-.5zM73.7 60.4l.9-.7 1.4 .3 1.4 .4 1.5 .1 1.3 .7-.1 .8-1.3-.2-1.4-.3-1.7-.2-1.4-.4zM80.2 61.5l.9 .2-.2 .4-.6-.2zM81.3 61.7l2.1-.1 0 .5-2.1 .1zM83.9 61.8l2.3-.2 0 .4-2.3 .2zM86.5 63.4l1.1-.9 1.5-.7-.1 .3-1.4 .9-.7 .5zM83.7 59.4l-.1-1.7-.4-.6 .5-1.9 .4-1.1 .7-.4 1.4 .2 1-.4 .5 0-.8 .9-1.4-.1-.7 .1-.4 .8 .7 .4 1.3-.1-.9 .5-.5 .4 .6 1 .6 1.1-.7 .9-.7-1.3-.4-.8-.1 2.1zM89.3 52.9l.6 .6 .3 .8-.5 1.1-.4-.6zM89.7 57.3l1.9 .2 0 .4-1.9-.1zM88.3 57.4l.8 0 0 .5-.8 0zM103.9 59.4l1.2-.4 1-.7 .5 0-.5 1.1-1 .5-1.1-.1zM105.4 56.8l.7 .5 1.1 1.2-.2 .3-1.2-1.4zM109.6 60.2l2.1 1.2 1.4 1.3-.3 .4-1.4-.4-1.8-1.7zM114.9 71.7l.6 0 1.5 1.7-.4 .1-1.5-1.3zM124.2 69.4l.9-.2-.1 .8-.7-.1zM192.7 36.4l1.4-.8 1.4-.3 1.4 .5 1.4 1 .9 .4 1.1 .6-.6 .3-1.9 0 .1-.6-.7-.7-1.4-.5-1-.1-1.1 .2zM200 39.3l1.1-1.2 1.4 0 1.4 .6 .5 .5-1.2 .3-1.1 .5-1-.3zM197.3 39.4l1.5 .1-.3 .3-.8 0zM205.1 39.3l1.1 0-.1 .4-1 0zM144 7l1.5-.5-.3-.5-.9 .4zM8.7 22.9l2.2-.2-.3 1.3-1.8-.7zM5.7 20.5l1.2-.2-.1 1.6-.9 .3zM6 18.8l.7 0-.1 1.3-.5-.3zM16.5 24.9l1.9 .3-.2 .3-1.7-.2zM22.6 25.4l1.6-.5-.4 .9-1-.1zM209.3 97.6l2.4 .1-.5 .8-1.4-.1zM91.7 26.3l1.1-1.3 1.1-.1 1 0 .9-1.4 1.2-.4 1.1-1.4 0-1.1 .5-.4 .5 0 0 1.1 .4 .4-.7 1-.2 1.1 .1 1.1-.8 .5-.5 .3-1.4 .1-.2 .2-.7 .7-.4-.7-.8-.2-1.1 .2-1 .4zM91.1 26.7l.7-.3 .6 .7-.3 1.3-.6 .4-.3-.4-.3-1zM92.8 27.1l.4-1 1.1 0 .1 .4-.9 .4-.5 .4z" fill="#fbfbfd" stroke="#fbfbfd" stroke-width="0.5"/>
<path d="M91.7 26.3l1.1-1.3 1.1-.1 1 0 .9-1.4 1.2-.4 1.1-1.4 0-1.1 .5-.4 .5 0 0 1.1 .4 .4-.7 1-.2 1.1 .1 1.1-.8 .5-.5 .3-1.4 .1-.2 .2-.7 .7-.4-.7-.8-.2-1.1 .2-1 .4zM91.1 26.7l.7-.3 .6 .7-.3 1.3-.6 .4-.3-.4-.3-1zM92.8 27.1l.4-1 1.1 0 .1 .4-.9 .4-.5 .4z" fill="#d2d2d2"/>
<path d="M8.8 -2.2l-.4 2.1-1 .9-1.4 .8-1.4 .7-1.1 .7 0 1.3 .4 1.1 .3 .6 1.1 .2 .7-.3 .9-.5 .5-.7 .3 .7 .6 .6 .1 .6 .6 .9 0 .8 .9 .1 .3-.5 1-.2 .4-1.1 .1-.8 .9-.4 .6-.7-.9-.8-.2-1.3 .9-.8 1.4-.5 .7-.5 .3-.9 .4-2.1zM261 -2.2l-.4 2.1-1 .9-1.4 .8-1.4 .7-1.1 .7 0 1.3 .4 1.1 .3 .6 1.1 .2 .7-.3 .9-.5 .5-.7 .3 .7 .6 .6 .1 .6 .6 .9 0 .8 .9 .1 .3-.5 1-.2 .4-1.1 .1-.8 .9-.4 .6-.7-.9-.8-.2-1.3 .9-.8 1.4-.5 .7-.5 .3-.9 .4-2.1zM17.2 -2.2l.5 2.3-.5 .4-1.1 .8-1 .7-.1 1 .1 .9 .7 .6 1.4-.1 1.4-.2 1.4-.1 .9 .4-1.3 .4-2.1 0-1 .2 0 .7 .5 .1 .1 .7-.3 .4-.5 0-.5-.5-.7 .2-.4 .8 .1 .8 .1 .4-.5 .2-.7 .3-.7 0-.2-.3-1.2 .2-1.4 .5-.7-.3-1.1 .1-.7 .1-.1-.4-.6-.1 .4-.7-.2-.6 .2-.7 0-.6-.7 .5-.9 .3-.1 .7 .3 .4 0 .6 .2 .6-.5 .4-.8 .1-.8 0-.7 .5-.4 .7-.5 .5-.7 .3-.7 .1 0 .7-1 .5-.9 .1-.3-.3-.2 .9-.8-.1-1.1 .2 .1 .6 1.1 .3 .5 .3 .7 .8 0 1.3-.3 .9-1.4 0-1.4 0-1.7-.1-.8 .5 .2 .9 .1 .8-.2 1-.4 .9 .5 .3 0 1.1 .9-.1 .9 .3 .5 .7 .7-.6 1.7 0 .6-.6 .4-.1 .2-.7 .4-.3-.3-.6 .8-1.1 1.6-.9 0-1 1-.3 1 .3 1.1-.6 .9-.5 .9 .4 .3 .8 1 .9 1.1 .6 1.4 1 .1 1.5 .6-.4 .4-.3-.4-.7 .4-.6 1 .4-.4-.4-1.4-.8-.7-.4-.7-.6-.3-.7-.9-.8 .2-.8 .8-.2-.1 .6 .7-.2 .7 1 1.4 .9 .7 .5 .6 .5 .1 1 .5 .8 .5 .8 .2 .7 .3 .8 .6 .4 .3-.8 .2 .7 .5-1-.3-.7-.5-1.2 0-.5 .8-.2 1.4 0 .5 .3-.1 .8 .2 .8 .3 .9 .5 .5 1.1 .5 .7-.5 1.4 .6 1-.1 1.1-.3 .3 .5-.1 .8-.2 .9-.4 .8-.3 1.3-.7 .3-.9-.1 .2 1 .3 .9 .9 1 .4-1.4 .1 0-.1 1.2 .7 .8 .8 1.7 1.1 1.7 .5 1.3 .9 1.6 .7 1.7 .8 1.7 .2 1.2 .4 1.1 1-.1 2.1-1 1.4-.8 1.6-.7 1.2-1 1.1-.7 1-.8 .6-.2 .5-1.2 .9-1.7-.9-.9-1.1-.3-.5-.8 .1-1.2-.3 .7-.5 .2-.9 .9-1.4 .2-.3-.5 0-.6-.2-.7-.3 .4-.4-.5-.2-.5-.3-.6-.7-.8-.4-.8 .4-.5 .7 0 .7 .7 .7 1.2 1.4 .8 1.4 .2 .5-.5 .5 1 .2 .3 1.6 .2 1.4 .2 1.7-.1 1.8-.1 .5 .5 .7 1 .5 .9 .7-.2-.7 .4 .7 1.1 .7 .1 1.1-.5 .1 .2 .1 1.8 .5 2.6 .7 1.2 .3 1.7 .6 1.2 .5 1.7 .7 .8 .5-.7 .5-.3 .7-.9-.1-1 .4-1.3-.2-1.6 .6-.8 1-.9 1.1-1.1 1.1-1 1-1.1 .4-.8 .7 .1 1-.3 1.1-.4 .4 .9 .3 .8 .7 .8 .6 1.3 0 1.7 .7 .1 .8-.6 .7 0 .1 1.3 .4 1.2 .3 2.1-.2 1.7 0 .9 1.2 1.2 .2 1.3 .7 1.6 .8 .9 .7 .6 .5-.1-.5-1.4-.1-1.2-.6-1.3-.7-.7-.7-.4-.3-1-.5-1.2-.1-1.7 .6-1.2 .6 .4 .8 .6 .7 1 1 .5 .2 1.6 1.2-.8 .4-.8 1.4-.9 .2-1.2-.4-2.1-1.2-1.3-.7-1.2-.3-.5 .6-1.2 .7-.8 .7-.1 .9 .1 .3 1 .6-1 1-.3 .7-.3 1.1-.5 1-.2 1.1-1.3 1-1 .5-1.1 .9-1.2 .4-1.1-.7-.6 .6-.4-.6-.8-.4-1.3-.7-1.3 .7-.8 1.4-.8-1-.6-1.4 .4-.7-.8-.2-.7 .9-.4 1.4-1.1 .7 .2-.6 1.5 .9-.6 1.2-.4 .6 .4 .1 1.2 .9 .5-.1 .8 .1 1.2-.1 .6 .8-.2 1.1-.4 .3-.8 0-.8-.7-1.3-.7-.8 .7-.4 .9-.8 0-.7 .7-.5 .7-.5 .9 .1 1.4-.8 1.7-1.4 .7-1.3 1.2-1.3 .2-1.2 .4-1.7 .3-1.1-1.2-.7-1.6 .2-.7-.6 .5-1 .9-.8 1.4-1.2 1.1-.8 1.4-.2 1.4 .1 1.7 0 1.6-.2 1.2 .5 1.4-.1 .5-.8 1.3-1.4 1.7-.1 .6 .7-.4 .6-1.2 1.9-1.1 .8-.3 1.3-.3 1.2 .3 1.3 .5 1.3 .5-.5 .7-1.1 1.1-1 1.2-.6 .3-1.2 .7 .2 .1-1.5-.6-.2 .8-1.5 1.7-.4 2.8 .2 1.7-.8 1.1-.7 2.1-.5 1.4 .1 .7-.6-.7 0-.4-1.1-.7-.3 1.1-.3 1.4-.2 2.1-.3 2.5 1 .7-.9 .7-.4 .3-1.7zM269.4 -2.2l.5 2.3-.5 .4-1.1 .8-1 .7-.1 1 .1 .9 .7 .6 1.4-.1 1.4-.2 1.4-.1 .9 .4-1.3 .4-2.1 0-1 .2 0 .7 .5 .1 .1 .7-.3 .4-.5 0-.5-.5-.7 .2-.4 .8 .1 .8 .1 .4-.5 .2-.7 .3-.7 0-.2-.3-1.2 .2-1.4 .5-.7-.3-1.1 .1-.7 .1-.1-.4-.6-.1 .4-.7-.2-.6 .2-.7 0-.6-.7 .5-.9 .3-.1 .7 .3 .4 0 .6 .2 .6-.5 .4-.8 .1-.8 0-.7 .5-.4 .7-.5 .5-.7 .3-.7 .1 0 .7-1 .5-.9 .1-.3-.3-.2 .9-.8-.1-1.1 .2 .1 .6 1.1 .3 .5 .3 .7 .8 0 1.3-.3 .9-1.4 0-1.4 0-1.7-.1-.8 .5 .2 .9 .1 .8-.2 1-.4 .9 .5 .3 0 1.1 .9-.1 .9 .3 .5 .7 .7-.6 1.7 0 .6-.6 .4-.1 .2-.7 .4-.3-.3-.6 .8-1.1 1.6-.9 0-1 1-.3 1 .3 1.1-.6 .9-.5 .9 .4 .3 .8 1 .9 1.1 .6 1.4 1 .1 1.5 .6-.4 .4-.3-.4-.7 .4-.6 1 .4-.4-.4-1.4-.8-.7-.4-.7-.6-.3-.7-.9-.8 .2-.8 .8-.2-.1 .6 .7-.2 .7 1 1.4 .9 .7 .5 .6 .5 .1 1 .5 .8 .5 .8 .2 .7 .3 .8 .6 .4 .3-.8 .2 .7 .5-1-.3-.7-.5-1.2 0-.5 .8-.2 1.4 0 .5 .3-.1 .8 .2 .8 .3 .9 .5 .5 1.1 .5 .7-.5 1.4 .6 1-.1 1.1-.3 .3 .5-.1 .8-.2 .9-.4 .8-.3 1.3-.7 .3-.9-.1 .2 1 .3 .9 .9 1 .4-1.4 .1 0-.1 1.2 .7 .8 .8 1.7 1.1 1.7 .5 1.3 .9 1.6 .7 1.7 .8 1.7 .2 1.2 .4 1.1 1-.1 2.1-1 1.4-.8 1.6-.7 1.2-1 1.1-.7 1-.8 .6-.2 .5-1.2 .9-1.7-.9-.9-1.1-.3-.5-.8 .1-1.2-.3 .7-.5 .2-.9 .9-1.4 .2-.3-.5 0-.6-.2-.7-.3 .4-.4-.5-.2-.5-.3-.6-.7-.8-.4-.8 .4-.5 .7 0 .7 .7 .7 1.2 1.4 .8 1.4 .2 .5-.5 .5 1 .2 .3 1.6 .2 1.4 .2 1.7-.1 1.8-.1 .5 .5 .7 1 .5 .9 .7-.2-.7 .4 .7 1.1 .7 .1 1.1-.5 .1 .2 .1 1.8 .5 2.6 .7 1.2 .3 1.7 .6 1.2 .5 1.7 .7 .8 .5-.7 .5-.3 .7-.9-.1-1 .4-1.3-.2-1.6 .6-.8 1-.9 1.1-1.1 1.1-1 1-1.1 .4-.8 .7 .1 1-.3 1.1-.4 .4 .9 .3 .8 .7 .8 .6 1.3 0 1.7 .7 .1 .8-.6 .7 0 .1 1.3 .4 1.2 .3 2.1-.2 1.7 0 .9 1.2 1.2 .2 1.3 .7 1.6 .8 .9 .7 .6 .5-.1-.5-1.4-.1-1.2-.6-1.3-.7-.7-.7-.4-.3-1-.5-1.2-.1-1.7 .6-1.2 .6 .4 .8 .6 .7 1 1 .5 .2 1.6 1.2-.8 .4-.8 1.4-.9 .2-1.2-.4-2.1-1.2-1.3-.7-1.2-.3-.5 .6-1.2 .7-.8 .7-.1 .9 .1 .3 1 .6-1 1-.3 .7-.3 1.1-.5 1-.2 1.1-1.3 1-1 .5-1.1 .9-1.2 .4-1.1-.7-.6 .6-.4-.6-.8-.4-1.3-.7-1.3 .7-.8 1.4-.8-1-.6-1.4 .4-.7-.8-.2-.7 .9-.4 1.4-1.1 .7 .2-.6 1.5 .9-.6 1.2-.4 .6 .4 .1 1.2 .9 .5-.1 .8 .1 1.2-.1 .6 .8-.2 1.1-.4 .3-.8 0-.8-.7-1.3-.7-.8 .7-.4 .9-.8 0-.7 .7-.5 .7-.5 .9 .1 1.4-.8 1.7-1.4 .7-1.3 1.2-1.3 .2-1.2 .4-1.7 .3-1.1-1.2-.7-1.6 .2-.7-.6 .5-1 .9-.8 1.4-1.2 1.1-.8 1.4-.2 1.4 .1 1.7 0 1.6-.2 1.2 .5 1.4-.1 .5-.8 1.3-1.4 1.7-.1 .6 .7-.4 .6-1.2 1.9-1.1 .8-.3 1.3-.3 1.2 .3 1.3 .5 1.3 .5-.5 .7-1.1 1.1-1 1.2-.6 .3-1.2 .7 .2 .1-1.5-.6-.2 .8-1.5 1.7-.4 2.8 .2 1.7-.8 1.1-.7 2.1-.5 1.4 .1 .7-.6-.7 0-.4-1.1-.7-.3 1.1-.3 1.4-.2 2.1-.3 2.5 1 .7-.9 .7-.4 .3-1.7zM22.8 29.6l-.2-1-.9-.3-.7 .2-.7 .4-1.4-.4-1.4-.2-1.4-.5-1.4-.5-.7 .7 0 .8-.7 .6-1-.6-1.4-.4-.3-.7-1.5-.5-1-.2-.7-.5-.3-.6 .6-.9-.3-.8 .4-.4-.7-.2-.2-.1-.9 .4-1.4-.1-1.1 .2-1.4-.1-1.4 .3-1.1 .6-1 .6-.7-.1-1.6-.6-.5 .1-.6 1.5-.5 .3-.7 .4-.5 .5-.4 1.3 .2 .5-.7 1-.7 .8-1 .5-1.1 1.2-.3 1.4-.7 .6-.7 2 .3 1.2 .3 .8 0 1.3-.3 1.3-.7 1 .5 1 .1 .9 .8 .8 .7 .9 .9 .8 .1 .8 .4 .9 .7 .5 1.1 .9 1.7 1.2 1.8-.6 1.4 0 .7 .2 1.4-.6 1.1-.5 1-.2 1.1 .1 .7 1.1 .7 .6 1-.2 .7 .4 .5 .8 .1 1.7-.4 .9-.3 .5 .8 2 1.1 1.2 .4 1.3 .6 2.1 .4 1.6 .1 1.3-.8 1.3-.4 1.6-.1 1.3 .5 1.2 .7 1.7 .7 1.7 .2 2.1 .5 1.7 .7 1.3 .5 1.6 .5 1.2 .3 1.7 .4 .4 .7 .3 1.4-.6 2.5-.1 1.4-.7 1-1 1.1-1.2 .3-.6 1-1.1 .3-1.9 .5-.8 1.4-1.1-.1-1.6-.3-1.7 1.1-1 .7-1.1 1.4-.8 .7-1.3 0-2.5-.2-1.3-.5-2.1-.2-1-.2-1.5 .5-.8 .6-1.3 .7-.8 1.4-1.7 1.4-1.2 1.4-2.1 .7-1.7 .9-2.1 1-1.2 0-1.1-1.6 .4-2.1 .5-1.4 .2-.5-.9-.5-.8-.7-1.1-1.1-1.4-.3-.1-.7-2-.9-.9 0-1.6-.5-1.3-.7-1.2-.7-1.7-.7-1.3-.7-1.6zM275 29.6l-.2-1-.9-.3-.7 .2-.7 .4-1.4-.4-1.4-.2-1.4-.5-1.4-.5-.7 .7 0 .8-.7 .6-1-.6-1.4-.4-.3-.7-1.5-.5-1-.2-.7-.5-.3-.6 .6-.9-.3-.8 .4-.4-.7-.2-.2-.1-.9 .4-1.4-.1-1.1 .2-1.4-.1-1.4 .3-1.1 .6-1 .6-.7-.1-1.6-.6-.5 .1-.6 1.5-.5 .3-.7 .4-.5 .5-.4 1.3 .2 .5-.7 1-.7 .8-1 .5-1.1 1.2-.3 1.4-.7 .6-.7 2 .3 1.2 .3 .8 0 1.3-.3 1.3-.7 1 .5 1 .1 .9 .8 .8 .7 .9 .9 .8 .1 .8 .4 .9 .7 .5 1.1 .9 1.7 1.2 1.8-.6 1.4 0 .7 .2 1.4-.6 1.1-.5 1-.2 1.1 .1 .7 1.1 .7 .6 1-.2 .7 .4 .5 .8 .1 1.7-.4 .9-.3 .5 .8 2 1.1 1.2 .4 1.3 .6 2.1 .4 1.6 .1 1.3-.8 1.3-.4 1.6-.1 1.3 .5 1.2 .7 1.7 .7 1.7 .2 2.1 .5 1.7 .7 1.3 .5 1.6 .5 1.2 .3 1.7 .4 .4 .7 .3 1.4-.6 2.5-.1 1.4-.7 1-1 1.1-1.2 .3-.6 1-1.1 .3-1.9 .5-.8 1.4-1.1-.1-1.6-.3-1.7 1.1-1 .7-1.1 1.4-.8 .7-1.3 0-2.5-.2-1.3-.5-2.1-.2-1-.2-1.5 .5-.8 .6-1.3 .7-.8 1.4-1.7 1.4-1.2 1.4-2.1 .7-1.7 .9-2.1 1-1.2 0-1.1-1.6 .4-2.1 .5-1.4 .2-.5-.9-.5-.8-.7-1.1-1.1-1.4-.3-.1-.7-2-.9-.9 0-1.6-.5-1.3-.7-1.2-.7-1.7-.7-1.3-.7-1.6zM34.5 64.8l.7 2.9-.3 1.3-.7 2.5-.9 3.8-.4 .4-1.4 .4-.8-1.3-.4-1.6 .5-1.7 .2-2.5 1.2-1 1.4-1.9zM134.5 -2.2l1.4 2.1 3.5 .9-2.4 1-1.1 1.5 1.1 .8 1.7 .4 0 1.2 3.2-.1-.4 1.4-2.1 .9-2.1 .8 .7 .3 2.8-1 2.1-1 1.4-1.2 1.4-1.7 .7 1.1 2.1-.9 1.4-.5 1.4 .7 2.1 0 1.1 .4 1.7 .9 .7 .4 .7 .8 .7 .5 1.4 1.4 1.4 .2 0 .9 1.4 1.6 .4 .9-.6-.2 2.3 1.8 .2 .1 .4 1.6 .1 2.1-.3 1 .1 1.9 .4 1.3 .9 1 .4 1 .9 1.7 1.5 .5 1 1.2 .4 .9 .5 1.2 1.1 1.7 1.2 1.4 1 1.5 .8 1.4-.4-1.1-1.1-1.9-.8-1.7-.9-1.7-.2-1.1 1.2 .5 1.4 2.3 .7 1.2 .5 1.3 1.3 1.3 1.3 1.2 .2 1.7 .9 1.2 1.4 .9 1.4 .8 1.4 .6 1.4 .5 1.1-.4 1 .6 .7 .8 .7 .5 1.5 .4 1 .4 .7 .8 .6 1 .1 .8 1.1 .3 .7 1 1 .6 1.1 .2 .3-1.3 1.1 .5 .4-.2-.1-.1-1-.7-.7 .2-1.1 .2-1.4-1.2-.2-.9 .3-1.2 0-1.7-1.1-.8-1.8 .1-.5 .1-.1-1.5 .6-1.3 .4-2-1.1 0-1.3 .4-.1 1.2-.7 .9-1.8 .2-1-.4-.6-.7-.8-1.6-.1-2.1 .3-1.7-.1-1.3 .9-.9 1.1-.7 1.7-.1 1.8 .2 .4-.8 .7-.2 1.4 .2 1 .3 1.1 .8 .2 1.2 .8 1.5 .8 .5 .3-1.1-.4-1.7-.5-1-.1-1.1 .6-1.1 1.1-1 1-.8 1.4-.7-.3-1.3 .3-1 .4-.7 .7-1.3 .1-.2 1.3-.3 1-.5 .4-.1-.5-.7 .3-.9 1.6-.6 .7-.4 1 1.1 1.4-.9 1.8-.5 .7-.7-.4-.8-.7 1.1-2.1-.4-.3-1.4 .5-.9-1.6-.2-2.4 1.4 2.1-1.5 1.7-.8 3.2 0 1.9-1.1 .9-.8-.7-1.7-2.1-.8-1.1-1.3-.7-1.2-1.4-1.5-1 1.2-1.4 .5-1.1-1.1 0-1.2-1.7-.7-1.4-.4-2.5-.2-.3 1.7 .3 .4 .4 1.7 .3 1.7-1.7 1.2 0 2.1-1.1 .6-1-1.3-.4-1.9-1.7-.1-2.1-1-1.8-.6-1.4-.3-1.2-1.1-.2-1 .3-1.2 1.1-.9 1.2-.8 2-.6 .7-1.5 0-1.7zM198 47.6l1-.8 .3-.8 .7-.5 1.1-.2 1-.9 .4 .7-.4 .4 1.1-.4-.2-.5 .9 .6 .7 .7 1.4 0 1.4 0 1.4-.1 .3 1 .7 .8 1.1 .5 .7 1 1.4 .8 1.4 0 1.4 .8 .7 .7 .7 1.8 0 1.6 1 .8 1.8 0 1.4 1.2 1.4 .3 1.7 .2 1.4 1.2 1.6 .7 .3 1.8-.3 1.3-1.2 1.7-1.1 1.6-.3 1.7-.2 2.1-.5 1.7-.7 2.1-.7 .8-1.4 0-1.8 .8-1 1.3-.4 1.7-.7 1.2-.7 1.3-1 1.2-1.1 1.5-.7 .9-1.4 0-1-.4 .3 1 .4 .8-.4 1.3-1 .6-2.1 .2-.4 1.3-1.7 .4 .3 1.2-.3 1.3-1.8 1.7 1.1 1.2-1.1 1.3-.7 1.2-.3 1.3 .3 .4 0 .8 1.4 1.3-1 .4 .5 .3-1.9-.5-1.4-1-1.4-1.3-.7-2.1-.4-2.1 .7-2.1 .7-1.7-.1-1.2 .1-2.9 .7-2.1 .6-2.1 .1-2.5 .4-2.5 .3-2.6 .2-3.3 0-1.4-.9-.9-1-.6-1.4-1-1-1.5-.6-1.3-.9-2.1-.7-1.7-1-1.2-.3-1.1 .6-1 .4-.9-.7-1.2 .7-1.3 .7-.8 .3-.8 .7-1.3 .1-2.1-.3-.8zM79.9 73l1.7-1 1.4-.3 1.8-.6 .9-1.3 .8-1.2 .7-.9 1.1-1.2 1 0 .7 .8 .7-.2 .5-1.5 .4-.5 1.2-.7 1.1 .4 1.4 0 .5 .4-.5 .9-.4 1.2 1.4 1 1.4 1.1 .9 0 .5-2.1 .1-2.1 .6-1.5 .7 1.5 .2 1.3 1.1 .8 .1 1.6 .6 1.8 1.5 1 .7 1.5 .9 .8 1.2 1.5 .5 1 .3 2.1-.4 2.1-.9 1.6-.4 .8-.5 1.4-.3 1.2-.1 .5-1.3 .2-1.1 1.1-1-.7-.4-.1-.7 .5-1.4-.3-1-.8-.2-.8-.9-.7 0-.7-.5-1.4-.2 1-.3 .6-.4-.9-.7 .7-.1-1.5-.9-.4-1.4-.6-2.1-.1-2.1 .5-1.4 .6-1.5 .7-1.7 .3-1.1 .7-1.3-.2-.7-.4 .5-.7 0-1.3-.5-1.6-.4-1.3-.7-1.7 .2-1.6 0-1.3zM101.3 88.8l2.6 .2-.2 1.7-.9 .5-.9-.9-.5-1zM121 83.5l1.2 1.2 .7 .6 .4 .9 1.4 0 .3 .1-.4 1.1-.6 .4-.4 .9-.9 .9-.4-.3 .3-1.1-.7-.4-.1-.2 .5-.6-.2-1.3-.9-1.2zM121 88.7l1.1 .5-.3 1.1-.7 .9-1.1 .7-.5 1.3-1.1 .6-1.8-.5 .3-.9 .8-.8 1.7-1 .7-.9zM66.8 50.1l1.5 .3 .7 1 1.4 1.7 1.4 .8 .9 1.3 .5 1.1 1.1 1-.2 2.3-.9 .1-1.5-1.6-.9-1.3-.5-1.2-.9-1.7-.7-1.2-1.1-1.1-.9-1.2zM76.4 53.5l.4-.4 1 .4 1.4-1.4 .7-1.1 1-.7 .9-1.4 .7 .7 1 .8-.8 .8-.2 1 .7 1.7-.9 .4-.1 1.3-.6 1.2-.3 1.1-1.1-.2-1-.3-1.1-.1-.9-.2-.1-1.1-.7-1.2zM91.8 55.6l1-.5 1.1 .4 .7 2 1.7-1.5 1.8 .8 1.4 .6 1.7 .7 .9 1.1 1.2 .6 .2 .6-.5 .2 .7 .8 .7 .9 1 1.1-.7 .1-1.4-.4-1-1.4-1.4-.6-.7 1.2-1.4 .2-1.1-.9-.7 .1-.3-1.9-.7-.9-1.4-.5-1.4-.3-.7-1 .7-.3-1.1-.8zM213.7 -2.2l1 1.7 1.4 1.7 1.4 1.2 1.1 1.3 1.7 .7 1.4 .3 .7-.6 .7-1.3 .7-1.2 1.1-1.3 2.1-.6 2.8-1.9zM209.5 -2.2l-.7 1.7-2.1 1 .3 1.3-2.4 .9-2.8-.5-2.1-1.4-2.1 0 .7-3zM191.6 1.2l2.5 0 1.7 .4 .2-.7-.5-1-3.2-.4-.7 .8zM210.7 14.9l2.3-1.7 .3-1.6 1.8 1.7 .2 1.7-.6 .7-1.4-.3-1.4-.5zM212.3 107.7l-1.4 .6-2.1 1.3-.7 2.1 5.6 0-1.1-3.4zM19.3 20.2l.1-1.9 1.1-1.5 1-1.1 .8-.2 1 .5-.5 .7 .7 1 1-.3 1.1-.7 .9 .5 1.2 1 1.6 1.7-1.3 .7-1.4 .1-1.4-.6-1.4-.3-1.7 .6-1.8 0zM24.5 16.5l.4-.7 1.4-.5 1.2-.1-.7 1-.9 .6-.3-.1z" fill="#acacac" fill-rule="evenodd" stroke="#fafafa" stroke-width="1.3" stroke-linejoin="round" stroke-opacity="0.9"/>
<path d="M32.9 17.9l.4-1.2 1-.9 1.8-.4 1 .2 0 1.2-1.2 .7-.7 .2 .5 1.1 1.3 .8 0 .6 .1 1.1 .6 .4-.2 1.2 .3 .6-1.7 .4-1.1-.5-.7-.6 0-.3 .4-1.4 .5-.2-.5-.2-.7-.9-.7-1zM40.8 16.7l.9-1 1.4 0-.4 1.4-.7 1-1 .2zM187.7 15.7l1.4-.5 1.5-1.2 1.7 .4 .7 1.4-1.7 0-1.8-.2zM190.7 19.8l.6 0 .5-1 .5-2.1 .4-.5-1.8 .2-.3 1.1 .1 1.3zM193.4 18.8l1 0 .6-1.3 1.2-.3-.4-1-2.4-.1 .3 1zM193.7 20l1.4 0 1.8-.9-.2-.3-1.6 .4-1.2 .3zM196.3 18.6l2.5-.2 0-.7-2.3 .5zM182.8 12.5l1.8 0-.4-2.8-1 0zM22.4 55l1.4-.5 .6 .9-.9 1.7-1.2-.7zM72.6 11.6l1 0 2.8-2.1 .5-1.5-.7 0-1.6 2.4zM21 4.4l1.8-.4 .2-.6-1.3-.3-.8 .6zM24.2 3.7l1-.2 .4-1.1-1.1-.2-.5 .6zM51.5 15.8l.7 .9 2.1-.5 1.4-.6-.4-.4-1.4 .6-1.7-.2zM9.5 44.3l1-.3 0-.8-.8-.2zM20.5 57.7l.5 0 .9 3.7-.5 .5-.7-1.7zM23.8 62.7l.4 0 .5 2.9-.2 1.1-.5-1.5zM170.2 3.7l2.8-.2 2.8-.8-1.4-.4-3.1 .5zM174.4 5.7l2.1-.4 1.4-.2-1.4-.2-1.7 .5zM180.4 7.4l.6 0-.1-1.2-.6 .2z" fill="#fff"/>
</g>
<rect x="0.85" y="0.85" width="250.50" height="107.80" fill="none" stroke="#fff" stroke-width="0.8" stroke-opacity="0.75"/>
<rect x="0" y="0" width="252.2" height="109.5" fill="none" stroke="#333" stroke-width="1"/>
<text transform="translate(-2.4,5.8) scale(0.85,1)" class="tl" text-anchor="end">60N</text>
<line x1="0" x2="1.2" y1="4.5" y2="4.5" stroke="#444" stroke-width="0.5"/>
<text transform="translate(-2.4,14.2) scale(0.85,1)" class="tl" text-anchor="end">50N</text>
<line x1="0" x2="1.2" y1="12.9" y2="12.9" stroke="#444" stroke-width="0.5"/>
<text transform="translate(-2.4,22.6) scale(0.85,1)" class="tl" text-anchor="end">40N</text>
<line x1="0" x2="1.2" y1="21.3" y2="21.3" stroke="#444" stroke-width="0.5"/>
<text transform="translate(-2.4,30.9) scale(0.85,1)" class="tl" text-anchor="end">30N</text>
<line x1="0" x2="1.2" y1="29.6" y2="29.6" stroke="#444" stroke-width="0.5"/>
<text transform="translate(-2.4,39.3) scale(0.85,1)" class="tl" text-anchor="end">20N</text>
<line x1="0" x2="1.2" y1="38.0" y2="38.0" stroke="#444" stroke-width="0.5"/>
<text transform="translate(-2.4,47.7) scale(0.85,1)" class="tl" text-anchor="end">10N</text>
<line x1="0" x2="1.2" y1="46.4" y2="46.4" stroke="#444" stroke-width="0.5"/>
<text transform="translate(-2.4,56.0) scale(0.85,1)" class="tl" text-anchor="end">EQ</text>
<line x1="0" x2="1.2" y1="54.8" y2="54.8" stroke="#444" stroke-width="0.5"/>
<text transform="translate(-2.4,64.4) scale(0.85,1)" class="tl" text-anchor="end">10S</text>
<line x1="0" x2="1.2" y1="63.1" y2="63.1" stroke="#444" stroke-width="0.5"/>
<text transform="translate(-2.4,72.8) scale(0.85,1)" class="tl" text-anchor="end">20S</text>
<line x1="0" x2="1.2" y1="71.5" y2="71.5" stroke="#444" stroke-width="0.5"/>
<text transform="translate(-2.4,81.2) scale(0.85,1)" class="tl" text-anchor="end">30S</text>
<line x1="0" x2="1.2" y1="79.9" y2="79.9" stroke="#444" stroke-width="0.5"/>
<text transform="translate(-2.4,89.5) scale(0.85,1)" class="tl" text-anchor="end">40S</text>
<line x1="0" x2="1.2" y1="88.2" y2="88.2" stroke="#444" stroke-width="0.5"/>
<text transform="translate(-2.4,97.9) scale(0.85,1)" class="tl" text-anchor="end">50S</text>
<line x1="0" x2="1.2" y1="96.6" y2="96.6" stroke="#444" stroke-width="0.5"/>
<text transform="translate(-2.4,106.3) scale(0.85,1)" class="tl" text-anchor="end">60S</text>
<line x1="0" x2="1.2" y1="105.0" y2="105.0" stroke="#444" stroke-width="0.5"/>
<text transform="translate(0.0,114.6) scale(0.82,1)" class="tl" text-anchor="middle">0</text>
<line x1="0.0" x2="0.0" y1="108.3" y2="109.5" stroke="#444" stroke-width="0.5"/>
<text transform="translate(42.0,114.6) scale(0.82,1)" class="tl" text-anchor="middle">60E</text>
<line x1="42.0" x2="42.0" y1="108.3" y2="109.5" stroke="#444" stroke-width="0.5"/>
<text transform="translate(84.1,114.6) scale(0.82,1)" class="tl" text-anchor="middle">120E</text>
<line x1="84.1" x2="84.1" y1="108.3" y2="109.5" stroke="#444" stroke-width="0.5"/>
<text transform="translate(126.1,114.6) scale(0.82,1)" class="tl" text-anchor="middle">180</text>
<line x1="126.1" x2="126.1" y1="108.3" y2="109.5" stroke="#444" stroke-width="0.5"/>
<text transform="translate(168.1,114.6) scale(0.82,1)" class="tl" text-anchor="middle">120W</text>
<line x1="168.1" x2="168.1" y1="108.3" y2="109.5" stroke="#444" stroke-width="0.5"/>
<text transform="translate(210.2,114.6) scale(0.82,1)" class="tl" text-anchor="middle">60W</text>
<line x1="210.2" x2="210.2" y1="108.3" y2="109.5" stroke="#444" stroke-width="0.5"/>
<text transform="translate(252.2,114.6) scale(0.82,1)" class="tl" text-anchor="middle">0</text>
<line x1="252.2" x2="252.2" y1="108.3" y2="109.5" stroke="#444" stroke-width="0.5"/>
<text x="1.7" y="16.0" class="pl">b.</text>
</g>
<g transform="translate(13.6,129.25)">
<rect x="0" y="0" width="252.2" height="109.5" fill="#f3f2fb"/>
<g clip-path="url(#mclip)">
<g filter="url(#bl)"><path d="M-2.8 111.7l257.8 0 0-113.9-257.8 0z" fill="#dedefa" fill-rule="evenodd"/><path d="M-2.8 111.7l257.8 0 0-113.9-257.8 0zM170.2 74l-.3-.8 .3-.9 1.4-.5 1.5 .5-.1 1.7-1.4 .6z" fill="#e6e6fb" fill-rule="evenodd"/><path d="M-2.8 111.7l257.8 0 0-113.9-257.8 0zM92.5 88.4l-1.8-1 1.2-.8 2.7-.3 2.7 .3 1.2 .8-1.8 1zM169.5 74.8l-.9-1.6 1.6-2.1 2.8 0 1.4 1.2 0 1.7-1.4 1.3-2.1 .2z" fill="#ededfc" fill-rule="evenodd"/><path d="M-2.8 111.7l257.8 0 0-113.9-257.8 0zM9.1 7.8l-.5-.8 .5-.2zM88.3 90.8l-5.3-1.7-1.3-1.7 .3-.8 2.1-1.4 2.8-.9 9.1-.8 7.7 1.1 2.5 1.1 1.3 1.7-1.7 1.9-5.6 1.6-6.3 .4zM112.1 46.7l0-1.3 1.4-.4 .5 .5zM137.3 20.7l0-1.2 .8 .9zM142.9 9.3l-.7-1.4 .7-.4 .5 1.2zM161.1 8.1l.7-1 .4 .8zM170.2 77.4l-2.1-.9-1.6-1.7-.4-1.6 .4-1.7 .9-1.2 2.1-1.2 2.1-.4 2.8 .6 2.3 2.2 .5 1.7-.5 1.6-2.3 2.2-2.1 .6zM233.3 20.6l0-.5 .6 .3z" fill="#f4f2fa" fill-rule="evenodd"/><path d="M45 105.8l4.7 .7 1.4-1.9 2.8 1.9 2.1-.7 3.5 .4 1.4-.5 7.8 .9 2.1-1 6.3 .1 1.4-1.9 .7 1.9 .7 .3 4.2-1.8 1.4 1.9 2.1 .3 2.1-1 2.1 .4 3.5-.9 .7 .5 1.4-.2 1.9-1.1 .9-2.5-1.4-.9-2.8 .8-2.1-.4-1 .5-.4 1.3-1.4-1.3-2.1 .2-1.4 .9-2.1-2.2-2.1-.1-2.1 1.1-1.4-.4-.7 .4-2.1-1.1-2.1 .7-1.4-.9-2.1-.3-2.1 .6-3.5-.2-2.1 1.3-5.7-1.5-2.1 1-2.8 0-1.4 .8-4.9-1.5-1.4 .4-1.4-.6-4.9-.1-.6 .7 .2 .8-1 .7-2.1-1.2-1.4 1.2-.7-.1-1.4-1.6-.9 .2-.8 1.7-.1 .8 1.8 2.3 1.4-2.2 1.4 1.1 1.4-.4 3.5 1.2 1.4-.8zM24.4 105l.8 .4 1.4-.3 .2-2.6 1.2-1.1-3.2 .2zM22.1 104.1l.6 0-.3-.4zM101.5 104.1l.8 .6 2.1-1.8 2.1-.2 .4-1.1-3.9 0-1 .9zM119 104.1l1.5-.8-.7-.5-.7 .3zM115.7 103.3l.6 .5 .7-.5zM44.6 53.1l2.3-.5 2.3-1.2 .7-.8 .2-1.7 1-.9 .7 .2 .7 1.7 2.3-.2 .6-.8-1.6-.8 .1-.9 1.4-.9 1.4 2.3 2.8-1.7 1.4 2.2 1.4 .4 2.9-5 2.3-.6-1.2-2.5-.4-3.1-2.9-2.3-2.8 1.8-2.1-.2-.7 .4-.1 1.7-1.3 2.3-2.1 1-1.5-1.6 .8-.9 1.4-.3 .4-.5-.4-1.1-4.2 1.1-2.1-1.2-1.4 .3-3.5-2.7-.8 .2-.6 1.4-2.8-.8-1 1.1 .1 1.7-.6 .8-4.1 .3-1.5 1.4 .8 2 1.4 .5 .3 .8-1 3.7 .7 .6 1.4-.2 1.4-1.8 2.1 2.6 2.1-2.1 .6 .6 .1 3.2zM49 46.1l-.3-.6 1-.7 .7 .7-.7 .8zM51.8 46.9l-.3-.5 .3-.5zM63.8 43.4l-.7-.4-.1-2.5 .8-1.3 2 3-.6 1zM36.4 46.5l-1.1-1 1.1-.4zM126.7 53.1l.8 .1 1.4-.9 1.4-1.9 2.1 2 1.4 .4 3.5-.4 1.4 .5 1.3-1.5 .8-.2 .7 1.1 2.1 .8 1.4-.7 2.8 .8 2.8-1.4 4.2 1.2 2.8-.2 2.8 .6 3.5-.9 2.8-1.8 .7 0 1.4 2.1 6.3-1.6 .6 .2-.2 .8 1 .6 2.8-1.5 2.8 .4 1.4 .8 .4-1.9 1-1.1 2.1 2.9 2.9-.5 1.4-.9 2.1 1.2 1.4-.7 .7-2 2.1 1.3 2.8 .7 2.8-2.9 .7 2.3 2.8-.8 .8 .5 .6 1.3 .7 .1 3.5-1 2.1-3.6 .7-.3 .8 .1 .3 .9-1.7 1.6 .6 1.8 1.4-.5 .7-1.4 3.5 1.7 5.6-1.8 1.4 1.6 .7-.6 2.1 .4 1.4-1.7 1.4 1.5 2.8 .2 1.4-.7 1.4 .4 .7-.9-.9-.8 1.4-2.5-1.1-2.5-1.5-.6-3.5 1.8-.7-1.2-.7-.2-2.8 1.4-.7-.1-1.4-1.7-2.8-.4-2.8-.4-2.8 1.1-2.1-.3-.7 .6-1.4-.8-2.1 2.2-1.1-.6-1-2-.7-.2-2.1 .6-1.4-.3-4.9 .6-1.4-1.2-2.1-.3-1.4 .9-2.1-.4-1.4 1.1-1.4 0-.7-.2-2.9-3.9-2.1-.8-1.4-1.3-2.8 .3-1.4-.7-1.4-1.6-1.4 2.1-2.1 .2-1.4 .9-2.8-1.5-.5-.7 1-1.6-.4-.9-2.2 .4-.8-1.2 .8-2.2 8.4 1.6 .7 .1 1.1-1.2-.4-1.3-1.8 1.3-.3 .8-1.4-1.5-1.4-.1-.6-.9-.9-3.3 .5-2.5-1-1.7 2-.2 .7-.6-.4-1.7-.8-.8 1.2-.6 1.3 2.2-1.7 4.2 .4 2.4 .7 0 .7-1 1.4-3.1 .4 1.7 .8 .8-.2 1.7 .4 1.3 2.8-.2 .9-1.1-.1-.8-1.5 .1-1.5-1 .8-.3 1.4-2.1 1.4 1.1 .7-.3-2.3-2.5-1.9-.8-1.7-1.7-.1-.9 1.8-3.3-.7-2-2.8 .4-1.7-3.5-4.2-1.6-1.8-1.7-.7-2.2-.7 1.4-1.4 .7-1.3-2.4-1.5 .5-.7-2-.7-.4-2.8 1.6-1.4-.8-1.4 .7-1.4-.9-1.4 1.1-1.4-1.1-1.1 1.3-.3 1.9-2.1 .4-1.4 1-.4-2.5-1.7 .4-3.2-2.1-1-1.9-2.8 0 .2 2.8-.2 .8-.7 0-2.8-2.8-2.1 1.7-.7-.1-.7-2.5-1.4 1.8-2.1-.1-1.4 1.2 .1-2.5-.8-1.1-2.1 1.2-1.4-.1-.9 .8 .2 3-1.4-1.8-1.5 .5-2-2.1-.5 .4-.2 2-2.1 .1-.7-.5-2.8 .3-1.4-.8-2.1 1.3-1.4 0-1.2 1-.2 2-.5-.4 .2-1.6-.4-.3-.7-.1-.4 1.2-2.4 1.4-.7-.6 0-1.6-1.4-.1-2.1 1-.9 3.2-.5 .4-4.9-1-.7 .5-2 2.7 1.3 .8 1.4-2 .6 .3-.5 3.4 .5 .8-1 4.2-1 1.4-3.5 .6-.4 3 1 1.7-.3 .8-3.2 0 2.9 3.4-1.4 .6-1.4-.9-1 .3 1.3 1.6 1.3 4.2-.2 2.3 .7 .4 2.1-1 2.1 .6 .7 1.1-1.8 1.7-.3 4.2-2.1-1.2-2 .3-1.5-1.3-2.1 .5-1 .8-.7 .8 1.7 1.3 1.4 .2 .4 1.1-.4 .6-1.4-.3-.6 .5 .1 .8 1.2 .4 1.4-.9 .7 .1 1.4-1.4 2.1 2.1 2.1 .7 .7 0 1.4-1.6 2.8 2 1.4-1 3.5 .5 1.4-.7 2.1 1.3 1.4-.5 2.1 1.1 .5-.4 0-1.7 .9-.9 .4 .1 0 .8-.9 1.7 .6 .8 4.8 .8 .7-.8 .7-3.7 1.4 3.6 1.4-.4 2.8 .4 1.4-1.1 2.8 .8 .7-.3 2.1 1.3 1.4-1.6 .9 .2zM133.1 34.8l-1.5-1 0-.8 2.9-.9zM137.3 21.4l-.9-1 .2-1.8 1.6 .2 .5 .8-.7 1.7zM141.5 41.6l-.2-1.1-1.5-1.7 1-1.7 1.2 .9zM142.2 9.7l-.6-1.8 1.3-1.4 .7 .4 .2 2.6-.9 .5zM148.5 41.7l-.2-2-4.7-1.5 0-1.4 4.2 .7 .7 2 .7-.1 .7 .9 0 1.2zM154.1 40.7l-.4-1 .4-.8 1.2-.1 .3 .9zM157.6 41.8l-.6-.4 .1-1.7 2.2 0-.6 1.7zM159.7 34l-.3-1 1-.9 .7 .9-.3 .8-.4 .6zM162.5 39.9l-.9-1.1-.1-1.6 1-.6 2.1 .2 1.5-3.8 .9 0 1.1 2.3 1.4-.3 1.3 .5-.1 .8-1.2 1-1.4-.6-.7 .2-2.1 3.1-1.4-.5zM168.1 49.2l0-.8 1.3 .5-.6 .5zM171.6 39.2l-.4-.4 .4-.7zM172.3 18.1l0-1.5 1.1 1.3-.4 .5zM175.8 17.1l0-1.6 .7 .2 .6 .5-.5 .9zM84.1 36.8l-.6-1.3 .6-1 .7-.2 .6 1.2-.1 .8-.5 .7zM87.6 26.1l0-.9 .4 .2zM93.2 45.5l-.7-.1-.7-2-.7-.4-1.4 1.4-.7-1.4 .2-2.5 1.9-.6 .8-1.1 .6-3.7 .4 .4 0 1.7 1 .7 .7-.3 3.5-2 1.1-2.6-.3-1.7 1.3-1.6 1.4 1.5 1.4-.9 .7 .4 3.5-1 .8 1.6-.8 1.6-1.4-.3-1.3 .4 .1 .8 1.2 1.3 1.4-1 1.8 2.2 .2 1.7-1.3 1.7 0 1.7-.7 .6-1.4-.5-1.4 1.3-.7-1-2.8-1.3 .2 1.7-.8 .8-2.2 .3-2.8-2.1-.2 1.8zM110.7 43.5l-1.9-2.1 2.2-4.2 2.5-.5 .9 2.1 1.2 .5 1-1.3 1.1-3 3.3 2.2-1.2 1.1-1.4-.5-.2 1 2.3 1.3 2.4 .4-.3 .9-2.1 1.1-5.6-1.7-1.4 1.7-1.4-.7zM111.4 47.3l.3-2.6 2.5-.8 .5 1.6-.4 .9-2.2 1.2zM124.7 40.7l-.6-.2-.5-2.5-2.9-4.2 .5-1.1 .7 .2 .8 1.8 2.7 1.8 .7-2.6 1.4 .4 1.4-1 .7 .5-.2 .9-1.4 .8-.8 5-1.1 .6zM133.8 4.5l0-1.2 .7 .4zM147.8 10.6l0-1.5 1.7 1.3-1 .7zM156.9 38.3l-.6-.3-.1-.9 1 .1zM157.6 10l-.5-.5 1.2-.8 1.3 .8zM161.8 23.1l0-.6 .7 .3zM166 30.9l-.3-1.3 1.6 0-.6 1.2zM167.4 10.5l-1.4-.7-5.8-.3-.3-2.5 2.6-2 2.8 3.4 2.1 .2 .5 .9zM85.5 28.2l0-1.1 .7-.5 .2 1.4-.2 .4zM91.1 20.5l-1-1.7 1-1.4 1.3 2.2-.6 1.3zM93.2 19l-.7-1.9-.7-.2 0-1 2.1-.1 .7 .7 0 2.2zM94.6 34.9l-.5-.2 0-.9 1.2-.7 .6 1.6-.6 .5zM97.4 19.4l-.2-.6 .9-.9 .7 1.1zM100.2 11.5l-1.4-2 .7-1.3 2.3 1.3-.2 1.6zM107.9 7.2l-.7-1 0-1.1 2.8-.1 0 1.5zM110 35.9l-.5-.4-.1-1.7 1.3-1.5 .7 .1 .7 1.4-1.4 2.1zM116.3 31.9l-.6-1.4 .6-.7 .7 0 .7 1.8zM118.4 8.2l-2.7-1.2 .6-1.7 .7-.3 3.1 2.9-1 .5zM119.1 16l-.6-1.4 .6-.6 1 .6-.3 1zM126.1 19.6l0-4.2 .7 .3 1.8 3.1-1.1 .9zM129.6 5.6l0-.9 .4 .7zM149.9 11.5l0-.5 .8 .2zM95.3 22.2l0-2.2 1.4 0 0 2zM71.8 49.7l.8 0 1.7-1.6 .8-1.7-1.6-.9-.8 .9 .3 1.7-1.1 .8zM242.8 49.7l1.7-.1 2.6-1.5 .2-2.3-1.4-.1-2.8 1-.9 2.2zM66.5 48.1l1.4-.9-.6-1.6-1.2 1.6zM112.1 40.5l.7 .1 .6-1.8-.6-.3-1 .3zM100.7 35.5l.2 .4 3.2-2.1 0-.8-3.2 1.5zM217.1 35.5l.8-.3 .7-1.9 2.6-.3 .3-2.5 1.3-1.3 1 .4 2.5 4.2 .7 .3 2.1-.3 2.1 .8 1.4-1 2.1 1.1 2.1-.7-1.4-1.6-2.8-.2 0-1.2 2.8-1 2.1 1.1 2.1-2 1.4 .8 .5-1.1-1.8-1.7 .6-1.1 .8 .3 1.1 2.5 .9 .4 .8-.4-.1-2.5 2.1-2.5-1.7-2.5 1-1.6 .7 .1 1.1 2.3 .1 .8-1 1.7 1.2 2.3 2.1-.9 1.4 1.4 4.2 .8 0-8.3-2.8-.2-1.4-2.6-2.1-.3 .1-2.2-.8-1-.7-.3-.5 1.3-1.7 .8 .3-1.7-2.8-2.5 .7-1.7-.2-1.2-1.4-1.5-1.4 1-.7-.3-1.4-2.1-.7 0-.7 1.9-2.1-.7-1.1 .4-1.7 3.2-1.5-3.2 .1-.5 1.9-.3-1.9-.3-1.4-1.8-2.8 1.9-2.1-.9-1.4 .8-.7-.2-1.4-1.5-2.1 .4-1.6 1.6-.5 2-1.4-.8-1 .5 .9 1.6-.3 .9-1 .5-.9-.5-.2-1.7-1-1.4-.5 1.4 .7 1.7-.2 .9-3.5-2.6-1.2 .8 .5 1.9-4.9 1.2-.7-.3-.7-2.3-.7 0-.5 .4 .5 2.8 2.1 2.2 .1 .8-1.5 2 2.8 2.2 0 .9-.7 .8-1.4-.3-.7 1.1 1.4 2.5-.7 2-4.2-1.5-1.4 .4 0 .8 2.8 .5 1.8 1.2 2.4 0-.4-1.7 1.1-.4 2.2 2.1 0 1.7 2.7 .7 1.4 2.1 .7-.2 .3-1-.3-1.6-.8-.9 1.5-1 1.4-2.4 .9 .9-.7 2.5 2.2 .9 .8 4.2zM217.2 22.8l-.4-.7 .4-.3zM219.3 11l-.9-2.3 .9-1.3 .7 .2 .5 1.1zM224.9 10.4l-1-.9 1-.9 .7 .9zM227.7 29.8l-.4-1 .4-.4 .7 .4zM231.2 25.2l-.4-.6 1.1 0zM233.3 21.4l-.7-1 .3-.8 1.1-1.4 .7 .1-.2 2.1-.5 1zM235.4 16.5l0-.5 1 .2-.3 .5zM237.5 28l-.6-.9 .7 0zM252.9 26.5l-.7-2.3 .7 .4zM208.1 16.5l-.6-.3 1.3-2.1 .7 .1 0 1.5-.7 .9zM237.5 13.4l-1-1.3 .1-.9 .9-.9 1.4 1.8-.7 1.3zM-2.8 28l1-1.7 1.1-.5 4.2 2.5 1.4-.7 4.2 1.1 2.8-.4 1.4-1.2 1.4-.1 1.4-1 2.1 2.4 .7 0 2.8-1.6-.1-1.4 .8-1.3 1.5 .5 .6 2 1.4-.2 1.4-.9 1.1-1.7 .2-1.7 2.2-5.5-.7-.6-4.2-1.4-4.2 .3-2.8 1-.7 2.5-2.1 1.7-1.4-.1-.7 .7-2.1-1.4-2.1 .4-2.1-.9-2.8 .8-2.8-.7-2.1 1.2-1.4-1.5-1.4 1.1zM25.2 24.3l-.4-.5 .4-.9 .8 .9zM80.1 23.8l.5 .4 .3-.4 .2-.9-.5-.7-.7 .7zM185.1 23.8l.5 .7 .7-.2 0-.6zM85.3 17.9l.9 .7 .6-.7-.6-2.2-.7-.5zM-2.8 17.1l0 .4 .6-1.3-.6-1.4zM14.6 11.2l.8 .1 .7-1.4 1.4-.6 .6 .2 .1 1 .7 .1 1.3-2.7-.2-.9-1.5-3.3-1.7-1.7-6.3-.4-2 1.2 .2 1.7-1.7 .5 0 1 .7 .1 1.4-1 1.2 1.9-1.2 2.5 2.1 1 1.4-1.4 .7 0 1.1 .4zM146.9 3.7l.2 .4 .9-.4zM112.7 1.2l.1 .4 .8-.4z" fill="#faf6f9" fill-rule="evenodd"/><path d="M44.9 105l1.3 .2 2.8-1 .2-1.7-.9-.5-1.4 .2-2.9-.6-1.5 1.7zM53.1 105l.8 .3 1.5-.3 .4-.9-.5-1.1-1.4-.7-1.4 .2-.2 .8zM61.4 105l.9 0 2.2-1.5 1.4 1.8 .7 .1 1.4-1.2 .8-.1-2.9-2.5-.7 .1-.7 1.2-2.2-1.2-.7 .1-1 1.5 0 .8zM85.7 105l1.8 0-2-3.3-.7 .8zM57.9 104.1l.7 0 .7-.8 .2-.8-.7-1.1-.7 .2zM71.6 104.1l1.3 .7 3.5-.1 1.3-1.4 .1-1-.7-.9-.7 0-1.4 1.2-.7 0-1.4-1.4-1.4-.1-.8 .5 0 .9zM79.8 104.1l1 0 .3-.8-.5-.7-.7 .4zM89 104.1l2.1 0-.1-.8-1.3-.7-1 .7zM81.4 103.3l.6 .6 .5-.6-.5-.4zM116.2 51.4l2.2-1.5 2.8 .2 1.4-1.1 .7 2.2 .7 .3 1.4-2.3 .7-.1 .7 1.5 .7 .1 2.8-2 .8 .2 1.3 2.2 2.8 .7 2.1-.9 1.4 .3 2.8-1.3 1.4 1.7 2.1-1.2 2.1 .9 2.8-.6 2.1 .3 .7-.6 1.4 1.5 2.8 0 1.4-1.4 2.8-.9 1.1 .1-.3 1.7 .6 .2 1.3-1 .1-2 2.8 .2 .6-3.3 .8-.5 .7 2.9 2.8 1 .7 1.6 .7 .3 2.8-.5 2.1 .6 2.1-.4 .7-.2 .7-1.8 1.4 1.9 2.1-1.7 2.1 2.2 2.1-1.1 4.3 .8 .7-.6 .3-1.9 .4-.5 1.5 .5 .4-1.7-.4-1.7-.8-.8-.7 0-.7 .8-2.1-.4-1.4 .6-.7-2.2-1.5-.9-.3 .4 .8 1.7-.5 .8-.7 0-2.2-5-1.3-1.1-4.2 0-.7 .9-1.4-.5-1.4 1.8-.7-1.7-2.8 .7-1.4 2.1-1.1-.5-1-1.6-1.2 2.4-.9 .3-1.4-1-1.4 2.3-1.4-.5-2.1 .1-.7-1.8-.7 0-.7 1.7-.7 .4-2.8-1.9-2.8 .5-1 .7 .5 1.7-.2 1-.7 .3-.7-2.5-.7-.5-1.4 1.1-.7-1.1-2.1-.1-1.4-2.6-1.2 1.1-.2 2.9-.7-1.2-2.8-1.8-1.4-.2-1.4 1.6-.7-.1-1.4-2-2.1-.5-.9 .4-1.2 2.9-1.2-1.2 .3-.8-.5-.2-.2 1-2.6 1.8-.7-1.8-.7-.1-2.1 2.2-1.4-.8-2.8 .3-2.1-1.2-.6 .4-.7 1.7 .6 1.7-2.1 .6-1.1 1.1 .4 .8 1.4 .6zM144.3 47.4l0-.7 .8 .5zM158.3 45.9l0-1 1 .6zM177.2 46.5l.7-1 .1 .9zM168.7 51.4l1.2 0 .2-.8-1.3-.3zM107.5 50.6l1.8 .6 1.6-4 .1-1.7-1.7-2.1-2.1 .4-1.4 2.4-1.4-.3-1.1-2-1.7-.6-1.4 .8-2.8 .5-1.4-.4-.5 .5 .1 .8 1.1 .9 2.8 .1 1.5-1 .6 .9 0 1.2-2.2 .5-.1 .8 .9 .7 1.4-1.3 1.4 .8 3.5-1.7zM164.2 50.6l.7 0-.3-.5zM198.7 49.7l1.7 .3 2.3-2.8-1-2.5-1.3-1-1.1 2.7-1 .1-.7 1.6 0 .8zM218.8 49.7l3.3 .5 2.1-.4 3.5-2.5 .7 2 1.4 .7 1.6-1.1 .7-1.7-.9-1.1-2.8-.1-.7-1.4-2.8-.5-1.4 .6-2.1-1-2.1 1.3-1.4 .2-.8 1.2-.1 1.7zM233.5 49.7l2.6 .3 3-2.8 .1-.8-1.7-1.8-1.4 1.6-1.4-.4-.7 .3-1.2 1.1zM90.8 48.9l1 .5 .8-1.3-.1-1.2-1.4 .1-.7 1.1zM95.5 48.9l1.2 .4 .5-.4-.1-.8-.4-.6-.7 .2zM205.4 48.9l3.4-.3 0-2.1-2.1-.4-1.9 2zM211.3 48.9l.3 .3 1.4-.7 .6-1.3-.2-.8-3.2-2.5-1.2 .8-.1 1.7 2 .5zM38.3 48.1l.9 .6 1.8-1.5-.4-.9-1.4 .1-.7-2.2-.7 0-.2 1.3zM44.7 48.1l.8 .7 .7-.6 1-1.8-.3-1-2.1-1.7-.7-1.8-1.4 .9-2.1-.6-1.1 1.7zM61.4 48.1l.9 .1 1-1.8 .1-.9-1.7-1.6 .8-1.7-.5-1.7 .8-1.7-.5-.5-1.5 .5 .3 1.7-.9 .7-2.1-.7-.6 .9 1.3 4.6 1.8 .4zM87.8 47.2l.7 0 .6-1.7-.8-1.3-.7 0-.4 2.2zM214.3 46.4l1.5-.3 .4-.6-.4-.6-.7-.4-.7 .6zM35.6 43.9l1.1 0 .2-1.7-1.4 0zM45.7 43l1.2 .7 1.4-1.1 .7 1.1 .7-.1 .5-1.4-.5-1-2.8-.7-1.2 .9zM151.8 39.7l.2 .5 .2-.5zM86.2 36.3l.7 .5 1.4-1.2 .5-1.8-.9-.8 1.8-1.9 1.8 .2 .3 2 1.6-.3 .6-1.7-1.2-1.7 .2-.8 3.7-3.5 .6 1-1.1 2.5 .5 1.1 3.5-2.1 1.4 .7 1.4-.9 .7 1.9 .7 0 1.6-1.5 1.2-.3 1.4 .8 1.4-.1 .9 1.2 .3 1.7 3 1.2 .8-2.9-1.1-.8 .3-.5 2.1 .6 1.4-.6 1.4 4.2 .7 .2 1.4-1.9 .7-.1 1.2 3.1 .9 .7 1-.7 .1-2.5 1-.7 1.1 .7-.4 1 .7 .2 .7-1.3 2.1 1.2 4.2-1.3 .8 1-.1 2 .7-.5 1.4 .4 1.4-1.6 1.4 .3 1.4-1.3 2.1 1.3 .7-.1 .5-.5-.7-1.6 .6-.9 3.8-.3 .9 .3-.2 .5-1.4-.3-1.1 1.5 .2 .8 2.3 4.1 2.1 .3-.9-2.7 1.6-2.3 2.1-.7-.4 3.9 .4 1.1 1.7-2-.3-3.3-1.4-.1-.9-1.6 .9-.7 1.4 2.3 .2-.8 1.4 0 1.2 2.9 2.1-1 2.1 3 1.4 0 1-3.2-.2-1.7 .6-.6 2.8-1.2 2.1 1.1 1.6-.9 .5-4.2-1.4-3.2-1.1-.2-.3-.8 .7-.2 .7 .8 .5-.6-.5-3.4 2.1-2.7-.7-.9-3.2 .3-.3-1.9-1.4 .5-2.1-.7-1.4 .4-.2 2.5-.5 .4-1.4-1.2 0-2.2-2.1-.1-3 .6-.4-1.7 1.4-1.6-.4-.9-3.2 .1-2.1-1.2-1.4 .9-2.1 0-.6 1.1 3.4 3.2-.7 2.5-1.4-1.6-1.4-.7-2.8-5-.7 .7-.1 1.7 1 1.7-.2 .8-.7 .4-2.1-1.3-1.1-2.4 .3-2.5-.3-.9-1-.2-.7 .1-1.4 2.1-1.1-.3 0-.8-1-1-.7 .3 0 1.6 1.4 .1 .4 .6-1.1 1.9-1.4-1.4-2.1-.8-1.4 1.2-2.8-2.3-2.8-1.1-1.4 1.3-1.4-.1-.7 .6-.7 2.5-4.1-.1 .2 1.7 1.2 .8-.1 .6-1.4 .4-.7 1.4-.7 0-.9-.7 1.4-1.7 .1-2.5-4.1-3.6-.7 .2-1.4 2.4-2.1 .3-1.4-.4-3.5 2.3-.5 1.3 1.2 1.1 0 .8-5.6-.2-2.1 .8 0 1.7 1.4 1.5 1.1-.7 .3-1 .7-.2 1.2 1.2-.7 .9 .2 1.8 1.4-.6 1.4-1.7 0 1.1-.9 1.1 .3 2.5-.8 .7-1.4-1.4-2.1 .3-.7 1.8-3.8 1.9-.4 2.3-2.1 .1-.7-1.7-2.8 1.9-1.1 2.4 .1 1.7-1.8 1.7zM108.6 13l-.6-.9 1.3-1.7 1 .8 .1 .9-.4 1zM110.7 16.3l-1.3-.9 1.3-1.3 1.2 1.3 0 .8zM115.6 23.8l-.9-.9 .2-.7 .7-.2 .6 .9zM116.3 16.3l0-1.5 .5 .6zM118.4 26.4l-1.1-1.8-.1-.8 .5-.4 1.4 .5 .2 .7-.2 1.3zM123.3 27.4l0-1.7 .7 .6-.1 .8zM126.1 29.1l0-1.4 1.3 .3zM132.4 18.5l-.7-.7 0-1.3 .7 0 .5 .6 .1 .8zM134.5 29.3l-.7-1.6 2.8-.8 0 1.5zM138 31.4l-1.1-.9 .4-1 2.1-.3 1.4 .4 .4 .9-1.8 1.3-.7 .2zM149.2 23.5l0-.9 1.4-.5-.1 .8zM154.1 27.7l-.7-1.4 .7-.5 .8 .5zM156.2 26.3l-.5-.9 .5-1 .7-.1 1.3 1.1-.6 .9zM160.4 19l-.6-1.1 1.3-.5 .2 1.4zM161.8 24.2l-.7-1.3 .2-.8 1.2-.9 .5 .9-.1 1.7zM162.5 29.8l.7-1.6 .4 1.4zM168.1 16.4l0-.8 .5 .6zM115.6 20.6l-1.3-1.8 .6-.2 .8 1zM117.7 21.2l-.7-.8 .7-1.2 .7 .2 .1 1zM119.1 17.3l-1.1-2.7 1.1-1.1 1 .2 .6 .9-.7 2.5zM126.1 20.5l-1.3-.9 .9-1.7-.3-2.5 .7-1.9 3 5.3-.2 .8-1.4 1zM135.9 24.8l-.7-1 1-2.5-.5-2.5 .9-.6 2.1 0 .4 1.4-.4 1.3-1.8 1.2-.3 1.9zM149.2 19.6l-.5-.8 .2-.9 1-.4 .8 1.3zM135.9 14.7l-.7-1.1 2.5 1-.4 .4zM158.3 36.3l.7 .4 0-1.5-.7-.9-.6 1.2zM83.2 33l.2 .4 1.3-.4zM230.3 31.3l.9 .8 .7-2.1 4-1.2-.3-2.5 .5-1.9 2.1 2 .9-1-.2-2 .7-.2 1.4 1.7 2.1 0 .7-.5 .7-1.5-1.4-1-1.4 1.1-1-1.7 .2-3.4 .8-.3 1.4 1.1 .5-1.6-.5-.9-2.8-.4-.7-1.9-2.8 .4-3.5-2.9-2.8 .4-2.1-5.5-1 .7-1.1 3.7-2.1 .6-1.4 1.5-1.4-2.4-.7-.3-1.4 2.4-.7-.1-1.4-2.6-5.6 2.9-2.1-1.2-.3 .6 1.2 1.6-.9 5.1 .9 .8-.1 .8-.8 .4-.1-2-2-1.2-1.5 .3 1.3 1.7-2.5 2.5 .6 1.5 .7 .6 2.1-.6 1.4 .7 .5 1.1-.2 1.7 .4 .6 .7-.1 .9-2.2-.7-1.6 1.9-2 .8 .3 .3 .8-.6 1.7 1.6 4.6 2.1 .6 1.2-1-1.6-2.5-.2-.9 .6-.6 .7 .3 .7 1.9 2.1 2 3.5-.5 .9 2 1.2 .7 .6-.7-.2-2.5 1.7-.4 1.1 2.9zM231.2 28.2l-.1-1.9-1.9-1.7 .6-.5 2.1-.1 .9 .6-.3 3.4-.6 .6zM233.3 21.8l-1.1-1.4 .4-1.4 1.9-3.6 1.6-.6 .7 .4 .3 1.9-1.6 .8 0 1.7-.9 1.7-.6 .8zM236.8 22.9l-.4-.8 .7-1.7 .4-.7 .7 .2 .6 1.4zM216.5 23.5l-1.1-3.1 .4-1.1 .7-.4 .7 1.3 1.9 1.1-1.2 2zM220 17.6l-.7-.5 .7-1.5 1.1 .6 .4 .9zM222.1 16.6l-.4-.4 .4-.4 .5 .4zM207.8 29.6l1 .3 .8-1.9-1.7 0zM7.6 27.1l4.3-.1 4.2-1.7 1.4 1.4 1.4 0 1.4-1.1 1.5-2.7-.8-2.5-2.1 .3-1.4-1-4.2 2.7-1.4-1.7-1.4 .2-4.2-.8-2.8 1.5-1-1.2-.6 0-.6 .9 1.7 1.6-.1 2.5 .6 .9 1.4-1 1.4 1.6zM205.3 26.3l.8 0-.8-2-.8 1.1zM253.7 24.6l1.3 .6 0-3.1-1.4 .1-.5 .7zM-.4 23.8l.4 .4 1.1-.4-.4-1.6-.7-.4-.6 1.1zM88.6 23.8l.9 0 .5-.9 .3-.8-.6-.9-1.4 1.7zM23.7 22.1l1.5-.3 1.4 .5 2.8-3.3 0-1.7-3.5-1.8-4.2 .6-.7 4.3zM250.9 22.1l1.3 .4 .8-1.2-1.5-.3zM203.5 18.8l1.1 .3 .4-.3-.2-.9-1.6 0zM205.7 13.7l1 .4 .4-.4-1.1-.6zM234.8 9.5l.6 .9 .6-.9-.6-.8zM10.9 8.7l4.5-.4 .8-.4-.1-.9 .7-.6 1.4 1.4 .9-.8-2.3-4.1-1.4-.3-1.4 .7-3.5-.6-.5 1zM14 5.5l.7-1.1 .2 1zM119.6 6.2l.3-.8-.8-.5-.4 .5z" fill="#fbeff2" fill-rule="evenodd"/><path d="M61.4 104.1l.9 .2 .7-.8-.5-1-.9 .4zM72.1 103.3l.8 .6 .5-.6-.5-.6zM115.7 50.6l.9 0 .1-1.7-2.3-1.7-.9 .2-.5 .7 1.9 .9zM146.2 50.6l.9 .2 2.8-1.5 2.1 .9 1.4-2.4 1.5 1.1-.8 1.9 2.8 0 1.4-1.9 1.4 .5 2.8-.4 2.1-1.4 1.4 .4 .7-.8 .7-2.8 .7-.2 .7 3 .7 .6 .7 .1 1.4-1.9 .5 .4 .9 3.4 7 0 1.4-1.9 1.4 1.5 .7 0 1.4-1.7 1.5 2 1.3 .6 1.4-1.2 1.5 .4 1.1-.6 1.1-3.4-.8-.4-1.4 .9-1.5-1-1.4 .4-1.4-2.6-1.7-.6-.6-2.5-1.2-.4-.8 .4-.6 1.2-3.5-1.1-1.2 1.6-.2 2.5-2.1 1-1.4 .2-.6-.4-.3-1.7-1.9-.6-2.8 1.1-1.4-.2-1.4 1.1-2.1-.4-2.1 .6-.8 1.8-1.3 .3-1.4-2.7-.7-.1-1.4 1.5-1.4-1.8-1.3 2.8-.8 .2-1.4-2.5-1.4 1.2-4.2-2.5-.7 2.4-.7 .2-.7-.3-.7-1.5-2.1-1-.9 .4 1.2 2.5-1 1.3-1.7-.4 .1-1.7-.5-.9-2.1 .4-1.4-.3-.7-1.3-.7 0-.7 1.6-.7 .3-2.1-.9-2.1 2.3-1.4-1.9-2.1 2.1-.9-1.4-1.2-.5-2.1 .7-1.7 1.5 .6 1.7 3.2 1.3 2.1-1.5 1.4 .9 2.1-.6 1.4 1.3 3.5-1.3 2.1 1.9 3.5-1.1 1.4-1.7 1.1 .8-.8 1.6 .4 .5 3.5-1.5 1.4 1.3 1.4-.2zM147.1 48.1l-.5-.9 .5-.2 .7 1.3zM177.2 47.1l-.5-1.6 1.2-1.1 .6 2zM144.3 48.4l-.7-2 .7-.5 1.9 1.3zM108.1 49.7l1.2 .3 1.1-2.8 0-1.7-1.1-1.2-1.4 .2-.7 1zM198.9 48.9l.8-.9-1 .1zM218.4 48.9l.9 .4 1.4-1.1 1.4 1.3 2.8-.3 1.3-1.1 .8-2.6-2.8-.4-1.4 2.2-.2-1.8-1.2-1-3.5 1.9-.5 .8zM228.7 48.9l1.1 .5 1.4-1.3-.7-1.1-1.4-.3-.9 .5zM233.9 48.9l.8 .6 1.2-.6-1.2-2.5-1 .8zM102.5 47.2l.5 .6 2.2-.6-1.5-.6-1.4-2zM212 47.2l.3 .4 .2-.4-.2-.4zM43.4 46.4l1.4 .3 1-1.2-1.7-1.5-3-.1zM60.4 45.5l1.4 0-.9-2.5-2.1-1.2-.4 .4 .2 .8 .9 2zM116.2 45.5l.6-.8-.5-1-.6 1zM209.8 45.5l1 0-.6-.5zM174.3 43.9l.5-.9-1.1-2.2-.7 .4-.1 1zM86.3 34.7l.6 .6 1-.6-1-1.7-.8 0zM162.1 32.1l1.3 0-1.7-2.5 .8-2.3 .7-.4 2.1 1.4 2.8-1.8 1.4 .6 1.9-2.5-.8-2.5-2-1.7 .1-2.5-2.2-1.7-.1-1.6 1-1.7-1.4-1.3-1.5 .5 .3 2.5-.9 1.1-.7 0-1.4-1.3-1.4 .5-.6-.3 1.4-2.5-.8-.8-1.5-.1-1.3 1.5-1.8-1.5-.3-2.5-1.4-.4-1.4 1.3-1.4-1.7-.7 .2-1.4-.7-.4 .5 3.1 2.5 .6 2.5-1.9 1.7-1.4-1.5-1.4-.6-1.4-2.4-2.1 2.3-1.4-1.3-1.1 .1-1 2.2-.9-.5 1.3-2.5-1.1-3.1-2.8 .5-1.4 1.7-2.1-1.6-1.4-.1-1.4 2.5-1-.8-.4-1.6-1.4-.9-1.2 .9 .1 1.6-1 1-.7-4.3-2.8 .8-.5 1.7-3 1.1-.4 .6 .6 1.7-.4 .8 1.6 .3 .7 .8 1-.3 1.1-2.3 1.4 0 2.1 2 2.6 5.4 0 .8-1.9 2.1-3.5-1.5-.8 .2-1-1.6 2.9-.9-.4-3.1-.2 .6-2.3 .8-.3 2.2-3 .4 .2 2.5-.7 1.1 1.4-.8 1.5 .5-1.2 1.7 .5 2.5-.7 1.7 1.3 1.7 1.9-.9-.5-1.7 0-2.9 .7-.4 1.2 .8 .2 3.1 3.5-2.3-.7-1.8 .8 .2 .4 3.3-1.6 2.5 2.5 .8 .7-1.3 2.1 1.7 1.5-.3-.8-4.2-2.5-.9-.5-.8 .2-1 2.8 .3 .7 .7 .1 1.7 1.5 0 .2-.9-.8-1.6 .7-2.5-.7-3.4 .4-.1 3.5-.2 .8 1.2-.5 2.5-1.8 1.6-.5 2.5 1.3 3.4 1.4-.6 2.8 .6 .7 1.8 .2-1 2.6-.9 4.2 .1 1.2-2.5 2.3-.7 2.5-1.8-1.1-1.7 .7-.6 .7-.1 .3 .7-.3 .9 2.1 1.3 .7-2.1 1.4 .2 2.1-2.1 .7 0 1.4-1.1 2 1.2-.6 1-2.1-.8-.4 .7 .2 3.3-1.9 1.1-2.1-.1-2.1 1.8-2.1-.5-.5 1.1 2.6 1.6 .7 1.8 2.1-.6zM131.7 20.9l0-2.1-.7-1.7 1.4-2.8 .3 1.9 1.5 1.7-1.8 3.2zM136.6 15.7l-2.2-1.1 0-.9 .8-.8 2.9 .8-.1 1.4zM138.7 10.1l-.6-.6 .6-.4zM139.4 27l-.4-.7 .4-.5 .4 .5zM140.8 25.1l-.5-.5 .5-1.4 .7 .4 .2 1zM143.6 22.3l-.9-1.9 .2-1.3 1.4 .3 .7-.6 0-1 .7 .1 2.1 2.3 .7-2.4 1.4-.8 .7 .4 .7 1.4-.3 .8-3.2 .9-.7 2.4-1.4-2.2-.7 0-.7 1.6zM146.4 24.8l.7-1.9 1.4-.2 2.1-1.4 .7 .2-.3 1.4-1.1 1-2.8 1.3zM154.1 14l0-.5 .7 .2zM159 21.6l-.6-1.2 1.1-.8 0-.8-.5-1.7-1-.9 .3-.4 .7 .1 .7 1 1.4-.2 .7 1.2 0 .9-1.7 .8zM144.3 17.5l-1-1.3 .3-1 .7 .2 .3 .8zM147.1 15.4l-.3-1.7 1-.1 0 1.6zM87.5 30.5l.8-.2 .7-1.3 .7-.2 .4-.8-.4-.7-2.1 .7zM135.5 30.5l.4 .7 0-1.5zM229.8 28.8l.4 0 .3-1.7-1.6-1.7-.1-1.6 3.8-.3 .6-.6-.1-.8-1.6-1.7 2.7-5.8-.9-1.7-.7-.5-.9 .5-.2 2.5-1 1-.5-.2-.1-.8 1.1-1.7-1.2-1.2-1.4-.7-3.5 .3 .7 .8-.2 1.7-1.8 .8-1.5 2.1-2.1 .7-1.1-1.1 .2-1.7-1.3-1.7 .1-.8-.7-1.5-1.4-.1-2.7 1.6-.3 1.7-.9 .8 1 1.7-.2 .8-.4 .7-.7-.1-.7-1.2-.4 .6 1.6 2.5 1.6 .8 .7-.2 1.4-2.9 .7-.2 1.4 1.8 1.7 .7 .2 .9-1.5 3.3 .8 1.7 2.4 .8 .6-2.7 1.2 1-1.1 1.7 .6 .4 3.5-.7 2.1 .1 1.3 1.1zM225.6 26.1l-.6-1.5 .6-1.2 .7 0 .5 .4-.2 .8zM228.4 20.8l-2-2.9 .6-1.8 .9 .1 1.8 3.4zM104.3 28l.8-.1 2.1-2.3 1.4 1.5 2.8 1.5 2.1-1.1 2.1 .2 .7-.6-2.2-4.2 .6-1.6-1.5-2.5-.2-1.7 1.9 .3 1.4 1.6 1.6-1.1-.7-.8-1.6-.1-.1-2.4-1.9-1.7 1.6-1.7 .2-1.7-3.3-2.9-.7 .2-1.3 2.7 1 1.7-.2 1.7 2 3.3-.1 .6-2.1 .3-.5 .8 1.9 5-.7-.1-.2-.7-2.6-2.3 0-2.5-1.4 .4-2.1-1.1-1.8 2.2-.2 2.5-1.5 1.9-2.1 .7-.7-2.1-1.1 2 1.1 .7 .2 .9-.9 2.2 1.4-.7 2.1 .2 2.1-.9zM105.8 23.1l0-1 1.7 .8-.3 .5zM108.6 24.7l-.9-.9 .9-.9 .6 .9zM103 26.1l-1-1.5 .3-.8 .9 .8zM215.7 28l.7-.9-.6-3.3-.7-.6-.7 2.2 .7 2.2zM233.6 28l.4 .3 1-.3-.6-1.7 .2-.9-.6-.2-.8 1.1zM11.4 26.3l1.2 .1 3.5-1.6 1.4 1.2 1.4-1.8 1.6-.4 .3-.9-.5-1.4-.7-.3-1.4 .9-.7-.9-2.1 .3-1.4 2.6-2.8-2.3-2.1-.8-2.8-.3-2 1.4 .1 1.7 1.9 2.1zM94.4 25.4l.2 .7 .7-.7-.7-.3zM254 23.8l1 .4 0-.9zM206.4 22.9l1.1-.8-.1-.8-.7-.3-1.1 1.1zM23.7 21.3l.8 .1 3.4-1.8 .6-.8-.8-1.7-2.5-1.2-2.8 .9-.8 2.8zM237.5 18.8l1.4 0 .6-.9-.6-2.5-.8 0-.8 2.5zM169.2 15.4l1 .3 .2-1.1-1.6-.1zM107.4 14.6l1 0-1.2-1.9-.5 1zM220.3 13.7l1.1 .7 .5-1.5-.5-.8-.7-.2-.6 1zM106.7 10.4l.5 .7 1.4-.6 0-1.6-1.4-.2zM11.7 7l1.6 .9 1.8-.9-.4-.7-1.4-.1-2.1-1.9zM15.9 4.5l.9 .8 0-1.6-1.1 0z" fill="#fce8ec" fill-rule="evenodd"/><path d="M145.7 49.7l.7 .4 .9-.4-.9-1.3-.7 0-.5 .5zM186.9 49.7l.8 .2 1.4-1.7 1.5-.1-.5-1.7-1-.7-1.4 .6-1.4-2.6-.7-.4-.7 .9-2.8-.2 0-1.8-4.2-1.8-.9 1.8 2.1 1.7-.4 3.3-1.4 .9 .5 .8 2.2 .4 1.4-2 1.4 1.5 .7 .1 1.4-2 1.3 .3 .1 1.7zM133.2 48.9l3.4-.5 .5-1.2-3.3-2.6-3.5 .5-2.1-1-2.1 2.6-1.4-1.7-.7 0-.9 2.2 .9 1 2.1-.7 2.1 1.3 2.1-1.1 2.1-.3zM151.1 48.9l.9 .5 .8-2.2 1.3-.2 2.1 2.6 .7-.2 1.3-1.3 0-.9-1.3-2.2-.7-.3-1.4 2.4-1.4-2.3-1.4 2.3-1.4-.4-.7-.9-1.8 .6 .4 2 .7 .3 1.4-.3zM174.5 48.9l1.3 .5 1.4-1.3-1.4-2.8-1.4 .7-1.4-.2-.3 .6 .3 1.9zM229.5 48.9l1-.8-1.4-1-.5 1zM108.5 48.1l.8 .3 .6-1.2-.6-1.8-.9 .1zM119.2 48.1l1.3 .5 .8-.5 .2-1.7-1-1.2-1.4 .3-.7 .9zM139.7 48.1l.4 .6 3.3-.6-.3-1.7-1.3-.9-1-1.6-.7 0 .2 1.6-.9 1.7zM158.9 48.1l1.5 .8 2.1-.4 2.1-1.8 1.4 .7 .4-1.9-.4-.6-4.2-.2-1.5 1.7-1.6 .8zM218.4 48.1l.9 .5 .7-1 1.4-.4 .4-1.7-.4-.3-2.8 1.3-.5 .7zM223.1 48.1l1.1 .7 1.4-.6 .5-1-.5-1.4-.7-.3-.7 .4zM169.5 47.2l.7 0 1.7-2.5-.1-.8-.9-.7-.7 .1-1.1 1.4zM43.8 45.5l.3 .4 .8-.4-.8-.7zM144.8 45.5l.9 .6 .8-.6-1.5-1.8-.5 1zM182.4 42.2l.4 .2 .7-1-.7-1.1zM158.2 29.6l.8 .7 .7-.7-.3-1.6 1.1-1.7-.8 0-1.7 1.7zM121.1 28.8l1.1 0-.3-1.6-.7 .4zM129.9 28l1.8 .5 .7-.2 .1-1.2-.8-.7-1.4 0-.7 .7zM143.7 28l.6 .5 4.9-.8 1.4-1.7 3.6-1.4 .5-.8-.5-1.7 .6-.7 3.9-1.8 .4-.8-.8-1.3-1.4 .6-2.8-.6 .7-1.4 2.1 .1 1.1-1.6-1.1-1.6-1.4-.9-.7-1.7-.7 .8 1.2 2.5-.5 1.5-.7 .1-1.4-1.6-2.1 1.9-1.4-1.3-1.4 1.7-.7 0-1.3-2.3 1.4-1.6-.8-1.2-.8 2-1.3 .6-1.4-1.7-.7 .2-1.4 3.1-1.4-1-2.1 2.1-3.5-1.4-.7 .5 .7 1.6 4.9 .2 .7 .5 .7 2.5 1.4 0 .8-1.3 1.4-.9-1.1-1.7 1-2.2 .7 .1 1.2 3 1.3 .8 .3 1 2.8-2.4 .7 .1 1.4 1.9 1.4-.9 .6 .3-2.5 5-3.7 3.1-2.3-.6-.5-.6 .1-1 1.3-.9-.7-1.5-1.4 2-2.1-1 .6 2.2-.3 1.7zM111.8 27.1l3.1-.2 .4-.6-1.7-3.4 .7-1.6-.8-1.1-1 1.1 .8 1.6-1.9 1-1.4-.1-1.3 1.6 0 .9 .6 .5zM164.8 27.1l.5 .5 1.1-.5 .2-.8-1-1.7 1.8-.6 .7-.9-.7-1.2-1.4 .2-1.4-.5-.5 .5 1.2 2.5-1 1.7zM100.1 26.3l1.2 0 .3-.9-.7-1.2-1 .4-.3 .8zM227 26.3l.7 0 .4-.9-.4-.6-1 .6zM8.8 25.4l1-.2 2.8 .5 .3-1.1-1-1.4-2.8-1.6-2.8-.4-1.4 .9-.2 .8 1.6 1.7zM9.8 24.3l0-.9 .4 .4zM104.1 25.4l1 .7 1.6-1.5-1.9-1.7-.1-.8 1.1-.8 2.1 .6 .8-.6-1.5-2.6-1.4-.2-.4 1.1-1.3 .8 0 1.7-1.1 .8zM125.4 25.4l.7 .8 1.2-.8-.1-.8-1.2-.8 .8-1.7-4.2-1.1-1.4-1.7-1.4 .2 0 .9 1.8 .9 .3 1.8 2.1 .1 1.4 1zM137.4 25.4l.6 .5 1.4-1.5 0-2.2-1.4 .9zM219.2 25.4l.8 0 .4-.8-.4-.8-.7-.2zM16.9 24.6l.6 .5 1.4-2 1-.2-.2-.8-1.5 .7-2.8-.8-.7 1.8zM223.4 24.6l.8 .4 1.4-2.3 2.9 .2-1.4-1.6-.4-1.7-1.1-.8 0-.9 .4-1.7 1-.6 2.1 .6 .9-2.5-.9-.9-.7-.1-2.1 1.1-1.4 2.4-.7-.1-4.2 3.2 .7 2.7 1.4-.3 .5 2.1zM169.6 23.8l.6 .5 0-1.4zM128.8 22.9l.8-.8-.7-.8-.4 .8zM133.4 22.9l.4 .4 .7-.7 0-1.7-.9 .4zM157 22.9l.6 .6 .7-.5 0-.9-.7-.5zM230.4 22.9l1.5 .3 .6-.3 .1-.8-.7-.7-2.1 .3-.4 .4zM148.1 21.3l.4 .7 .7-.7zM160.2 21.3l.9-.5 0-.7-.7 .3zM23.3 20.4l1.2 .5 2.8-1.9-.4-1.9-1.7-.8-2.2 .8-1 1.7 .1 .8zM130 19.6l.3 .5 .9-.5-.9-2.8-.8 .3zM111 18.8l1.1 .3 .4-1.2-1.1-.3zM162.3 18.8l.2 .6 .7 0 1.4-1.5-.2-.8-1.9-.6-.5 .6zM213.8 18.8l.6 .6 .7-.7 .5-4.1 1.7-1.7-.8-1-1.8 1-1.2 5zM217.7 18.8l1.4 0-.5-.9 0-2.5-.7-.6-1.8 1.4zM229.6 18.8l.9 .4 1.4-2.1-2.8-.5zM164.7 17.9l1.3 .6 1.5-.6-1.5-.7zM122.7 17.1l.6 .5 1.1-.5-.4-.8-.7-.1zM113.2 15.4l1 .7 .7-.6 0-.9-1.4-.4-.5 .4zM130.3 15.4l.7 .2 0-1.2-.7 0zM127.5 13.7l.7 .5 .7-.8 1.4 .2 .7-.7 2.1 1.1 2.8-2 2.8 1.4 .7-.7 .1-1.5-1.5 .1-.7-1.3-.7-.2-1.4 .4-1.1-1.5-1-.3-.7 .3 .5 1.7-1.9 .4-1-.4-.6-1.7-1.2-1-1.8 3.5 0 .9zM111.6 12.9l.5 .6 .7-1.8-1.2 .4zM159.4 12.9l.5 0 .2-.8-1 0zM120.8 12.1l.4 .6 .7-.3 2.8-3 .5-.7-.5-1.1-1.4 .2-.3 .9-3.3 1.7zM110.6 9.5l.8 .5 .4-.5-.4-1z" fill="#fbdde2" fill-rule="evenodd"/><path d="M174.9 48.9l.9 .2 .7-1-.7-1.4-.9 .5zM179.2 48.9l.8-.2 1-1.5 1.8-1.4 .9 .6-1.1 .8 0 .9 .9 .3 .7-1.7 2.1-.6 0-1.3-1.4 .4-1.4-.6-1.4 .2-1.4-.9 .4-.9-.4-.6-2.8-1.5-.3 1.3 1.7 .6 .6 1.1-1.1 4.2zM186.8 48.9l.9 .4 .7-1.2-.7-.5zM127.4 48.1l.8 .2 1.4-1.2 1.8 .1 1-.7 .7 .2 .7 1.8 2.6-.4 0-.9-2.6-1.8-1.4 .6-4.2-1.4-1.7 2.6zM140.4 48.1l1.8-.3 .7-.6-.3-.8-1.8-.7-1 1.5zM148.9 48.1l1 0 .6-.9-1.3-1-.8 1zM156.6 48.1l.3 .2 .6-1.1-.6-1.4-.7-.4-.3 1.8zM159.7 48.1l2.8 0 1.1-1.7-.2-.9-1.9 0-1.7 1.7zM224.1 48.1l.8 .2 .7-.9-.7-1.3zM119.3 47.2l1.2 .6 .2-1.4-1.4 0zM123.7 47.2l1 .6 .7-.6-.7-1.6-.7 0zM172.9 47.2l.8 .4 .5-.4-.3-.8-.6 0zM169.4 46.4l.8 .1 .8-1 .4-.8-.5-.9-1.4 .9zM144.3 27.1l.7 .5 2.2-.5-.7-.8-1.5-.1-.6 .1zM109.4 26.3l1.3 0 1.4-.8 2.1 .8 .4-.9-1.1-1.8-2.1 1.7-1.4-.6zM8.3 24.6l.8-2-3.5-.5 0 1zM10.9 24.6l1 .4 .3-.4-1-.8zM104.3 24.6l.8 .6 .7-.6-1.4-1.2zM150.3 24.6l.3 .8 2.8-.9 .7-.7-.7-1.4-.7-.2zM223.3 23.8l.9 .3 1.3-2-1.3-4.8-.7 0-2.8 2.3 .7 1.1 1.4-.3zM24.1 20.4l2.5-1.6 .1-.9-1.5-1.3-2.1 .8-.8 1.4zM153.6 20.4l.5 .8 2.1-.7 1.4-1.5 .9-.2-.2-.5-1.4 .6-2.1-.7-.8 .6zM140.1 18.8l.7 .8 .9-.8-.9-1.7-.7-.2zM163.1 18.8l.8-.9-.7-.8-.8 .8zM214.2 17.9l.4 0-.2-.5zM151.1 17.1l.9 .8 1.2-.8 .4-1.7-.9-1.2-1.3 1.2zM217.1 17.1l.8 .4 0-2.2-1 .9zM145.6 16.2l.9 0-.8-.6zM148.3 16.2l.9 .3 .3-1.1zM155.3 15.4l.9 .6 1.1-.6-.4-1.8-.7-.3zM226.6 14.6l1.8 .7 .7-.2 .3-1.4-1-.4zM127.5 12.9l2.8-.2 1.2-.6-.5-.9-1.8-.8-.3-.8-.7 0-1 1.6zM132.6 12.9l1.2 .1 .7-2-2.1 .6-.5 .5zM121.5 10.4l.4 .4 .6-.4z" fill="#fad2d8" fill-rule="evenodd"/><path d="M175.4 48.1l.4 .4 .2-.4-.2-.5zM127.2 47.2l1.2 0-.2-1.9-.7 .5zM133.7 47.2l.8 .6 .9-.6-1.6-.6zM140.3 47.2l.5 .5 1.6-.5-.9-1.1-.7 .1zM148.9 47.2l.3 .5 .7-.5-.7-.4zM160.6 47.2l.5 .8 1.5-.8-.8-.9zM179.7 47.2l.3 .6 1.8-2.3-1.8-.2zM169.8 45.5l.4 .3 .3-1.1zM113 24.6l.5 .5 0-.7zM224.1 22.9l.8-.8 0-.8-1.4-3.3-1.4 1.6 1.7 .8-.2 1.7zM154.1 20.4l1.3 0 1-.8-1.6-1-.7 .7zM23.4 19.6l1.1 .3 1.2-1.1 .4-.9-.7-.8-.9-.1-1.4 .9-.4 .9zM151.6 17.1l.4 .3 .7-.4 0-2.3-.8 .7zM155.9 15.4l.8 0 .2-1.1-.7-.4zM127.8 12.1l1.1-.4 1.6 .4-2.3-1.2z" fill="#f9c6cc" fill-rule="evenodd"/><path d="M23.1 18.8l1.4 .5 1.1-1.4-1.1-.5z" fill="#f8b9c0" fill-rule="evenodd"/><path d="M24.3 17.9l.2 .8 .3-.8z" fill="#f7acb4" fill-rule="evenodd"/></g>
<path d="M-4 12.9l1.5-.3 1.8-.3 1.7-.4 .2-1.1-1-.8-.4-.6-.9-1.1-.3-.4-.4-.4 .5-.9-1.2-.2 .4-.7-1.4 0-.6 .9 .2 1 .4 .7 .1 .6 1.2 .1 .1 .6 0 .5-1.2 0 .4 .4 0 .6-.8 .3 .9 .2 .7 .1-.8 .2-.6 .5zM248.2 12.9l1.5-.3 1.8-.3 1.7-.4 .2-1.1-1-.8-.4-.6-.9-1.1-.3-.4-.4-.4 .5-.9-1.2-.2 .4-.7-1.4 0-.6 .9 .2 1 .4 .7 .1 .6 1.2 .1 .1 .6 0 .5-1.2 0 .4 .4 0 .6-.8 .3 .9 .2 .7 .1-.8 .2-.6 .5zM248 11.2l-.1-1.2 .4-.9-.3-.6-1.1 0-.7 .6-1 .3 .3 1-.4 1 .4 .2 1.1-.2 1.1-.3zM235.4 -.1l1.4 1.4 2.4 .4 2.8-.8 .7-.8-1-1-6.3 0zM98.1 20l.8-.2 1.4-.1 1.6-1.2-.1-.8-2.3-1-.4 1.2-.7 .7-.3 .6zM99.5 16.2l1 0-.1-2.5 .8 0-.7-2.1-.3-2.1-.4-.2-.2 2.3-.1 2.1zM84.8 33.6l.7 .2-.4 1.7-.5 .9-.5-.9 .3-1.3zM76.1 38.7l1.2-.8 .5 .5-.7 1.1-.7-.2zM55.9 46.5l.4 0 1.1 2-.5 1.1-.9 .1-.1-1.6zM84.4 39.3l1.2 0-.1 1.2-.4 1.3 .4 1.2 1.4 .9-.4 .1-1.4-.8-.7-.6-.3-1.2zM85.5 48.9l1-1.3 1.4-1.1 .7 2-.3 1.2-.7 .2-.7-.6zM85.8 44.9l2.1-.6 .2 1.2-1.6 1.3-.7 0zM82.1 47.8l1.6-1.8 .2-.8-.5 .8-1.1 1.4zM84.4 43.4l.7 .5-.3 .6-.5-.5zM73.7 60.4l.9-.7 1.4 .3 1.4 .4 1.5 .1 1.3 .7-.1 .8-1.3-.2-1.4-.3-1.7-.2-1.4-.4zM80.2 61.5l.9 .2-.2 .4-.6-.2zM81.3 61.7l2.1-.1 0 .5-2.1 .1zM83.9 61.8l2.3-.2 0 .4-2.3 .2zM86.5 63.4l1.1-.9 1.5-.7-.1 .3-1.4 .9-.7 .5zM83.7 59.4l-.1-1.7-.4-.6 .5-1.9 .4-1.1 .7-.4 1.4 .2 1-.4 .5 0-.8 .9-1.4-.1-.7 .1-.4 .8 .7 .4 1.3-.1-.9 .5-.5 .4 .6 1 .6 1.1-.7 .9-.7-1.3-.4-.8-.1 2.1zM89.3 52.9l.6 .6 .3 .8-.5 1.1-.4-.6zM89.7 57.3l1.9 .2 0 .4-1.9-.1zM88.3 57.4l.8 0 0 .5-.8 0zM103.9 59.4l1.2-.4 1-.7 .5 0-.5 1.1-1 .5-1.1-.1zM105.4 56.8l.7 .5 1.1 1.2-.2 .3-1.2-1.4zM109.6 60.2l2.1 1.2 1.4 1.3-.3 .4-1.4-.4-1.8-1.7zM114.9 71.7l.6 0 1.5 1.7-.4 .1-1.5-1.3zM124.2 69.4l.9-.2-.1 .8-.7-.1zM192.7 36.4l1.4-.8 1.4-.3 1.4 .5 1.4 1 .9 .4 1.1 .6-.6 .3-1.9 0 .1-.6-.7-.7-1.4-.5-1-.1-1.1 .2zM200 39.3l1.1-1.2 1.4 0 1.4 .6 .5 .5-1.2 .3-1.1 .5-1-.3zM197.3 39.4l1.5 .1-.3 .3-.8 0zM205.1 39.3l1.1 0-.1 .4-1 0zM144 7l1.5-.5-.3-.5-.9 .4zM8.7 22.9l2.2-.2-.3 1.3-1.8-.7zM5.7 20.5l1.2-.2-.1 1.6-.9 .3zM6 18.8l.7 0-.1 1.3-.5-.3zM16.5 24.9l1.9 .3-.2 .3-1.7-.2zM22.6 25.4l1.6-.5-.4 .9-1-.1zM209.3 97.6l2.4 .1-.5 .8-1.4-.1zM91.7 26.3l1.1-1.3 1.1-.1 1 0 .9-1.4 1.2-.4 1.1-1.4 0-1.1 .5-.4 .5 0 0 1.1 .4 .4-.7 1-.2 1.1 .1 1.1-.8 .5-.5 .3-1.4 .1-.2 .2-.7 .7-.4-.7-.8-.2-1.1 .2-1 .4zM91.1 26.7l.7-.3 .6 .7-.3 1.3-.6 .4-.3-.4-.3-1zM92.8 27.1l.4-1 1.1 0 .1 .4-.9 .4-.5 .4z" fill="#fbfbfd" stroke="#fbfbfd" stroke-width="0.5"/>
<path d="M91.7 26.3l1.1-1.3 1.1-.1 1 0 .9-1.4 1.2-.4 1.1-1.4 0-1.1 .5-.4 .5 0 0 1.1 .4 .4-.7 1-.2 1.1 .1 1.1-.8 .5-.5 .3-1.4 .1-.2 .2-.7 .7-.4-.7-.8-.2-1.1 .2-1 .4zM91.1 26.7l.7-.3 .6 .7-.3 1.3-.6 .4-.3-.4-.3-1zM92.8 27.1l.4-1 1.1 0 .1 .4-.9 .4-.5 .4z" fill="#d2d2d2"/>
<path d="M8.8 -2.2l-.4 2.1-1 .9-1.4 .8-1.4 .7-1.1 .7 0 1.3 .4 1.1 .3 .6 1.1 .2 .7-.3 .9-.5 .5-.7 .3 .7 .6 .6 .1 .6 .6 .9 0 .8 .9 .1 .3-.5 1-.2 .4-1.1 .1-.8 .9-.4 .6-.7-.9-.8-.2-1.3 .9-.8 1.4-.5 .7-.5 .3-.9 .4-2.1zM261 -2.2l-.4 2.1-1 .9-1.4 .8-1.4 .7-1.1 .7 0 1.3 .4 1.1 .3 .6 1.1 .2 .7-.3 .9-.5 .5-.7 .3 .7 .6 .6 .1 .6 .6 .9 0 .8 .9 .1 .3-.5 1-.2 .4-1.1 .1-.8 .9-.4 .6-.7-.9-.8-.2-1.3 .9-.8 1.4-.5 .7-.5 .3-.9 .4-2.1zM17.2 -2.2l.5 2.3-.5 .4-1.1 .8-1 .7-.1 1 .1 .9 .7 .6 1.4-.1 1.4-.2 1.4-.1 .9 .4-1.3 .4-2.1 0-1 .2 0 .7 .5 .1 .1 .7-.3 .4-.5 0-.5-.5-.7 .2-.4 .8 .1 .8 .1 .4-.5 .2-.7 .3-.7 0-.2-.3-1.2 .2-1.4 .5-.7-.3-1.1 .1-.7 .1-.1-.4-.6-.1 .4-.7-.2-.6 .2-.7 0-.6-.7 .5-.9 .3-.1 .7 .3 .4 0 .6 .2 .6-.5 .4-.8 .1-.8 0-.7 .5-.4 .7-.5 .5-.7 .3-.7 .1 0 .7-1 .5-.9 .1-.3-.3-.2 .9-.8-.1-1.1 .2 .1 .6 1.1 .3 .5 .3 .7 .8 0 1.3-.3 .9-1.4 0-1.4 0-1.7-.1-.8 .5 .2 .9 .1 .8-.2 1-.4 .9 .5 .3 0 1.1 .9-.1 .9 .3 .5 .7 .7-.6 1.7 0 .6-.6 .4-.1 .2-.7 .4-.3-.3-.6 .8-1.1 1.6-.9 0-1 1-.3 1 .3 1.1-.6 .9-.5 .9 .4 .3 .8 1 .9 1.1 .6 1.4 1 .1 1.5 .6-.4 .4-.3-.4-.7 .4-.6 1 .4-.4-.4-1.4-.8-.7-.4-.7-.6-.3-.7-.9-.8 .2-.8 .8-.2-.1 .6 .7-.2 .7 1 1.4 .9 .7 .5 .6 .5 .1 1 .5 .8 .5 .8 .2 .7 .3 .8 .6 .4 .3-.8 .2 .7 .5-1-.3-.7-.5-1.2 0-.5 .8-.2 1.4 0 .5 .3-.1 .8 .2 .8 .3 .9 .5 .5 1.1 .5 .7-.5 1.4 .6 1-.1 1.1-.3 .3 .5-.1 .8-.2 .9-.4 .8-.3 1.3-.7 .3-.9-.1 .2 1 .3 .9 .9 1 .4-1.4 .1 0-.1 1.2 .7 .8 .8 1.7 1.1 1.7 .5 1.3 .9 1.6 .7 1.7 .8 1.7 .2 1.2 .4 1.1 1-.1 2.1-1 1.4-.8 1.6-.7 1.2-1 1.1-.7 1-.8 .6-.2 .5-1.2 .9-1.7-.9-.9-1.1-.3-.5-.8 .1-1.2-.3 .7-.5 .2-.9 .9-1.4 .2-.3-.5 0-.6-.2-.7-.3 .4-.4-.5-.2-.5-.3-.6-.7-.8-.4-.8 .4-.5 .7 0 .7 .7 .7 1.2 1.4 .8 1.4 .2 .5-.5 .5 1 .2 .3 1.6 .2 1.4 .2 1.7-.1 1.8-.1 .5 .5 .7 1 .5 .9 .7-.2-.7 .4 .7 1.1 .7 .1 1.1-.5 .1 .2 .1 1.8 .5 2.6 .7 1.2 .3 1.7 .6 1.2 .5 1.7 .7 .8 .5-.7 .5-.3 .7-.9-.1-1 .4-1.3-.2-1.6 .6-.8 1-.9 1.1-1.1 1.1-1 1-1.1 .4-.8 .7 .1 1-.3 1.1-.4 .4 .9 .3 .8 .7 .8 .6 1.3 0 1.7 .7 .1 .8-.6 .7 0 .1 1.3 .4 1.2 .3 2.1-.2 1.7 0 .9 1.2 1.2 .2 1.3 .7 1.6 .8 .9 .7 .6 .5-.1-.5-1.4-.1-1.2-.6-1.3-.7-.7-.7-.4-.3-1-.5-1.2-.1-1.7 .6-1.2 .6 .4 .8 .6 .7 1 1 .5 .2 1.6 1.2-.8 .4-.8 1.4-.9 .2-1.2-.4-2.1-1.2-1.3-.7-1.2-.3-.5 .6-1.2 .7-.8 .7-.1 .9 .1 .3 1 .6-1 1-.3 .7-.3 1.1-.5 1-.2 1.1-1.3 1-1 .5-1.1 .9-1.2 .4-1.1-.7-.6 .6-.4-.6-.8-.4-1.3-.7-1.3 .7-.8 1.4-.8-1-.6-1.4 .4-.7-.8-.2-.7 .9-.4 1.4-1.1 .7 .2-.6 1.5 .9-.6 1.2-.4 .6 .4 .1 1.2 .9 .5-.1 .8 .1 1.2-.1 .6 .8-.2 1.1-.4 .3-.8 0-.8-.7-1.3-.7-.8 .7-.4 .9-.8 0-.7 .7-.5 .7-.5 .9 .1 1.4-.8 1.7-1.4 .7-1.3 1.2-1.3 .2-1.2 .4-1.7 .3-1.1-1.2-.7-1.6 .2-.7-.6 .5-1 .9-.8 1.4-1.2 1.1-.8 1.4-.2 1.4 .1 1.7 0 1.6-.2 1.2 .5 1.4-.1 .5-.8 1.3-1.4 1.7-.1 .6 .7-.4 .6-1.2 1.9-1.1 .8-.3 1.3-.3 1.2 .3 1.3 .5 1.3 .5-.5 .7-1.1 1.1-1 1.2-.6 .3-1.2 .7 .2 .1-1.5-.6-.2 .8-1.5 1.7-.4 2.8 .2 1.7-.8 1.1-.7 2.1-.5 1.4 .1 .7-.6-.7 0-.4-1.1-.7-.3 1.1-.3 1.4-.2 2.1-.3 2.5 1 .7-.9 .7-.4 .3-1.7zM269.4 -2.2l.5 2.3-.5 .4-1.1 .8-1 .7-.1 1 .1 .9 .7 .6 1.4-.1 1.4-.2 1.4-.1 .9 .4-1.3 .4-2.1 0-1 .2 0 .7 .5 .1 .1 .7-.3 .4-.5 0-.5-.5-.7 .2-.4 .8 .1 .8 .1 .4-.5 .2-.7 .3-.7 0-.2-.3-1.2 .2-1.4 .5-.7-.3-1.1 .1-.7 .1-.1-.4-.6-.1 .4-.7-.2-.6 .2-.7 0-.6-.7 .5-.9 .3-.1 .7 .3 .4 0 .6 .2 .6-.5 .4-.8 .1-.8 0-.7 .5-.4 .7-.5 .5-.7 .3-.7 .1 0 .7-1 .5-.9 .1-.3-.3-.2 .9-.8-.1-1.1 .2 .1 .6 1.1 .3 .5 .3 .7 .8 0 1.3-.3 .9-1.4 0-1.4 0-1.7-.1-.8 .5 .2 .9 .1 .8-.2 1-.4 .9 .5 .3 0 1.1 .9-.1 .9 .3 .5 .7 .7-.6 1.7 0 .6-.6 .4-.1 .2-.7 .4-.3-.3-.6 .8-1.1 1.6-.9 0-1 1-.3 1 .3 1.1-.6 .9-.5 .9 .4 .3 .8 1 .9 1.1 .6 1.4 1 .1 1.5 .6-.4 .4-.3-.4-.7 .4-.6 1 .4-.4-.4-1.4-.8-.7-.4-.7-.6-.3-.7-.9-.8 .2-.8 .8-.2-.1 .6 .7-.2 .7 1 1.4 .9 .7 .5 .6 .5 .1 1 .5 .8 .5 .8 .2 .7 .3 .8 .6 .4 .3-.8 .2 .7 .5-1-.3-.7-.5-1.2 0-.5 .8-.2 1.4 0 .5 .3-.1 .8 .2 .8 .3 .9 .5 .5 1.1 .5 .7-.5 1.4 .6 1-.1 1.1-.3 .3 .5-.1 .8-.2 .9-.4 .8-.3 1.3-.7 .3-.9-.1 .2 1 .3 .9 .9 1 .4-1.4 .1 0-.1 1.2 .7 .8 .8 1.7 1.1 1.7 .5 1.3 .9 1.6 .7 1.7 .8 1.7 .2 1.2 .4 1.1 1-.1 2.1-1 1.4-.8 1.6-.7 1.2-1 1.1-.7 1-.8 .6-.2 .5-1.2 .9-1.7-.9-.9-1.1-.3-.5-.8 .1-1.2-.3 .7-.5 .2-.9 .9-1.4 .2-.3-.5 0-.6-.2-.7-.3 .4-.4-.5-.2-.5-.3-.6-.7-.8-.4-.8 .4-.5 .7 0 .7 .7 .7 1.2 1.4 .8 1.4 .2 .5-.5 .5 1 .2 .3 1.6 .2 1.4 .2 1.7-.1 1.8-.1 .5 .5 .7 1 .5 .9 .7-.2-.7 .4 .7 1.1 .7 .1 1.1-.5 .1 .2 .1 1.8 .5 2.6 .7 1.2 .3 1.7 .6 1.2 .5 1.7 .7 .8 .5-.7 .5-.3 .7-.9-.1-1 .4-1.3-.2-1.6 .6-.8 1-.9 1.1-1.1 1.1-1 1-1.1 .4-.8 .7 .1 1-.3 1.1-.4 .4 .9 .3 .8 .7 .8 .6 1.3 0 1.7 .7 .1 .8-.6 .7 0 .1 1.3 .4 1.2 .3 2.1-.2 1.7 0 .9 1.2 1.2 .2 1.3 .7 1.6 .8 .9 .7 .6 .5-.1-.5-1.4-.1-1.2-.6-1.3-.7-.7-.7-.4-.3-1-.5-1.2-.1-1.7 .6-1.2 .6 .4 .8 .6 .7 1 1 .5 .2 1.6 1.2-.8 .4-.8 1.4-.9 .2-1.2-.4-2.1-1.2-1.3-.7-1.2-.3-.5 .6-1.2 .7-.8 .7-.1 .9 .1 .3 1 .6-1 1-.3 .7-.3 1.1-.5 1-.2 1.1-1.3 1-1 .5-1.1 .9-1.2 .4-1.1-.7-.6 .6-.4-.6-.8-.4-1.3-.7-1.3 .7-.8 1.4-.8-1-.6-1.4 .4-.7-.8-.2-.7 .9-.4 1.4-1.1 .7 .2-.6 1.5 .9-.6 1.2-.4 .6 .4 .1 1.2 .9 .5-.1 .8 .1 1.2-.1 .6 .8-.2 1.1-.4 .3-.8 0-.8-.7-1.3-.7-.8 .7-.4 .9-.8 0-.7 .7-.5 .7-.5 .9 .1 1.4-.8 1.7-1.4 .7-1.3 1.2-1.3 .2-1.2 .4-1.7 .3-1.1-1.2-.7-1.6 .2-.7-.6 .5-1 .9-.8 1.4-1.2 1.1-.8 1.4-.2 1.4 .1 1.7 0 1.6-.2 1.2 .5 1.4-.1 .5-.8 1.3-1.4 1.7-.1 .6 .7-.4 .6-1.2 1.9-1.1 .8-.3 1.3-.3 1.2 .3 1.3 .5 1.3 .5-.5 .7-1.1 1.1-1 1.2-.6 .3-1.2 .7 .2 .1-1.5-.6-.2 .8-1.5 1.7-.4 2.8 .2 1.7-.8 1.1-.7 2.1-.5 1.4 .1 .7-.6-.7 0-.4-1.1-.7-.3 1.1-.3 1.4-.2 2.1-.3 2.5 1 .7-.9 .7-.4 .3-1.7zM22.8 29.6l-.2-1-.9-.3-.7 .2-.7 .4-1.4-.4-1.4-.2-1.4-.5-1.4-.5-.7 .7 0 .8-.7 .6-1-.6-1.4-.4-.3-.7-1.5-.5-1-.2-.7-.5-.3-.6 .6-.9-.3-.8 .4-.4-.7-.2-.2-.1-.9 .4-1.4-.1-1.1 .2-1.4-.1-1.4 .3-1.1 .6-1 .6-.7-.1-1.6-.6-.5 .1-.6 1.5-.5 .3-.7 .4-.5 .5-.4 1.3 .2 .5-.7 1-.7 .8-1 .5-1.1 1.2-.3 1.4-.7 .6-.7 2 .3 1.2 .3 .8 0 1.3-.3 1.3-.7 1 .5 1 .1 .9 .8 .8 .7 .9 .9 .8 .1 .8 .4 .9 .7 .5 1.1 .9 1.7 1.2 1.8-.6 1.4 0 .7 .2 1.4-.6 1.1-.5 1-.2 1.1 .1 .7 1.1 .7 .6 1-.2 .7 .4 .5 .8 .1 1.7-.4 .9-.3 .5 .8 2 1.1 1.2 .4 1.3 .6 2.1 .4 1.6 .1 1.3-.8 1.3-.4 1.6-.1 1.3 .5 1.2 .7 1.7 .7 1.7 .2 2.1 .5 1.7 .7 1.3 .5 1.6 .5 1.2 .3 1.7 .4 .4 .7 .3 1.4-.6 2.5-.1 1.4-.7 1-1 1.1-1.2 .3-.6 1-1.1 .3-1.9 .5-.8 1.4-1.1-.1-1.6-.3-1.7 1.1-1 .7-1.1 1.4-.8 .7-1.3 0-2.5-.2-1.3-.5-2.1-.2-1-.2-1.5 .5-.8 .6-1.3 .7-.8 1.4-1.7 1.4-1.2 1.4-2.1 .7-1.7 .9-2.1 1-1.2 0-1.1-1.6 .4-2.1 .5-1.4 .2-.5-.9-.5-.8-.7-1.1-1.1-1.4-.3-.1-.7-2-.9-.9 0-1.6-.5-1.3-.7-1.2-.7-1.7-.7-1.3-.7-1.6zM275 29.6l-.2-1-.9-.3-.7 .2-.7 .4-1.4-.4-1.4-.2-1.4-.5-1.4-.5-.7 .7 0 .8-.7 .6-1-.6-1.4-.4-.3-.7-1.5-.5-1-.2-.7-.5-.3-.6 .6-.9-.3-.8 .4-.4-.7-.2-.2-.1-.9 .4-1.4-.1-1.1 .2-1.4-.1-1.4 .3-1.1 .6-1 .6-.7-.1-1.6-.6-.5 .1-.6 1.5-.5 .3-.7 .4-.5 .5-.4 1.3 .2 .5-.7 1-.7 .8-1 .5-1.1 1.2-.3 1.4-.7 .6-.7 2 .3 1.2 .3 .8 0 1.3-.3 1.3-.7 1 .5 1 .1 .9 .8 .8 .7 .9 .9 .8 .1 .8 .4 .9 .7 .5 1.1 .9 1.7 1.2 1.8-.6 1.4 0 .7 .2 1.4-.6 1.1-.5 1-.2 1.1 .1 .7 1.1 .7 .6 1-.2 .7 .4 .5 .8 .1 1.7-.4 .9-.3 .5 .8 2 1.1 1.2 .4 1.3 .6 2.1 .4 1.6 .1 1.3-.8 1.3-.4 1.6-.1 1.3 .5 1.2 .7 1.7 .7 1.7 .2 2.1 .5 1.7 .7 1.3 .5 1.6 .5 1.2 .3 1.7 .4 .4 .7 .3 1.4-.6 2.5-.1 1.4-.7 1-1 1.1-1.2 .3-.6 1-1.1 .3-1.9 .5-.8 1.4-1.1-.1-1.6-.3-1.7 1.1-1 .7-1.1 1.4-.8 .7-1.3 0-2.5-.2-1.3-.5-2.1-.2-1-.2-1.5 .5-.8 .6-1.3 .7-.8 1.4-1.7 1.4-1.2 1.4-2.1 .7-1.7 .9-2.1 1-1.2 0-1.1-1.6 .4-2.1 .5-1.4 .2-.5-.9-.5-.8-.7-1.1-1.1-1.4-.3-.1-.7-2-.9-.9 0-1.6-.5-1.3-.7-1.2-.7-1.7-.7-1.3-.7-1.6zM34.5 64.8l.7 2.9-.3 1.3-.7 2.5-.9 3.8-.4 .4-1.4 .4-.8-1.3-.4-1.6 .5-1.7 .2-2.5 1.2-1 1.4-1.9zM134.5 -2.2l1.4 2.1 3.5 .9-2.4 1-1.1 1.5 1.1 .8 1.7 .4 0 1.2 3.2-.1-.4 1.4-2.1 .9-2.1 .8 .7 .3 2.8-1 2.1-1 1.4-1.2 1.4-1.7 .7 1.1 2.1-.9 1.4-.5 1.4 .7 2.1 0 1.1 .4 1.7 .9 .7 .4 .7 .8 .7 .5 1.4 1.4 1.4 .2 0 .9 1.4 1.6 .4 .9-.6-.2 2.3 1.8 .2 .1 .4 1.6 .1 2.1-.3 1 .1 1.9 .4 1.3 .9 1 .4 1 .9 1.7 1.5 .5 1 1.2 .4 .9 .5 1.2 1.1 1.7 1.2 1.4 1 1.5 .8 1.4-.4-1.1-1.1-1.9-.8-1.7-.9-1.7-.2-1.1 1.2 .5 1.4 2.3 .7 1.2 .5 1.3 1.3 1.3 1.3 1.2 .2 1.7 .9 1.2 1.4 .9 1.4 .8 1.4 .6 1.4 .5 1.1-.4 1 .6 .7 .8 .7 .5 1.5 .4 1 .4 .7 .8 .6 1 .1 .8 1.1 .3 .7 1 1 .6 1.1 .2 .3-1.3 1.1 .5 .4-.2-.1-.1-1-.7-.7 .2-1.1 .2-1.4-1.2-.2-.9 .3-1.2 0-1.7-1.1-.8-1.8 .1-.5 .1-.1-1.5 .6-1.3 .4-2-1.1 0-1.3 .4-.1 1.2-.7 .9-1.8 .2-1-.4-.6-.7-.8-1.6-.1-2.1 .3-1.7-.1-1.3 .9-.9 1.1-.7 1.7-.1 1.8 .2 .4-.8 .7-.2 1.4 .2 1 .3 1.1 .8 .2 1.2 .8 1.5 .8 .5 .3-1.1-.4-1.7-.5-1-.1-1.1 .6-1.1 1.1-1 1-.8 1.4-.7-.3-1.3 .3-1 .4-.7 .7-1.3 .1-.2 1.3-.3 1-.5 .4-.1-.5-.7 .3-.9 1.6-.6 .7-.4 1 1.1 1.4-.9 1.8-.5 .7-.7-.4-.8-.7 1.1-2.1-.4-.3-1.4 .5-.9-1.6-.2-2.4 1.4 2.1-1.5 1.7-.8 3.2 0 1.9-1.1 .9-.8-.7-1.7-2.1-.8-1.1-1.3-.7-1.2-1.4-1.5-1 1.2-1.4 .5-1.1-1.1 0-1.2-1.7-.7-1.4-.4-2.5-.2-.3 1.7 .3 .4 .4 1.7 .3 1.7-1.7 1.2 0 2.1-1.1 .6-1-1.3-.4-1.9-1.7-.1-2.1-1-1.8-.6-1.4-.3-1.2-1.1-.2-1 .3-1.2 1.1-.9 1.2-.8 2-.6 .7-1.5 0-1.7zM198 47.6l1-.8 .3-.8 .7-.5 1.1-.2 1-.9 .4 .7-.4 .4 1.1-.4-.2-.5 .9 .6 .7 .7 1.4 0 1.4 0 1.4-.1 .3 1 .7 .8 1.1 .5 .7 1 1.4 .8 1.4 0 1.4 .8 .7 .7 .7 1.8 0 1.6 1 .8 1.8 0 1.4 1.2 1.4 .3 1.7 .2 1.4 1.2 1.6 .7 .3 1.8-.3 1.3-1.2 1.7-1.1 1.6-.3 1.7-.2 2.1-.5 1.7-.7 2.1-.7 .8-1.4 0-1.8 .8-1 1.3-.4 1.7-.7 1.2-.7 1.3-1 1.2-1.1 1.5-.7 .9-1.4 0-1-.4 .3 1 .4 .8-.4 1.3-1 .6-2.1 .2-.4 1.3-1.7 .4 .3 1.2-.3 1.3-1.8 1.7 1.1 1.2-1.1 1.3-.7 1.2-.3 1.3 .3 .4 0 .8 1.4 1.3-1 .4 .5 .3-1.9-.5-1.4-1-1.4-1.3-.7-2.1-.4-2.1 .7-2.1 .7-1.7-.1-1.2 .1-2.9 .7-2.1 .6-2.1 .1-2.5 .4-2.5 .3-2.6 .2-3.3 0-1.4-.9-.9-1-.6-1.4-1-1-1.5-.6-1.3-.9-2.1-.7-1.7-1-1.2-.3-1.1 .6-1 .4-.9-.7-1.2 .7-1.3 .7-.8 .3-.8 .7-1.3 .1-2.1-.3-.8zM79.9 73l1.7-1 1.4-.3 1.8-.6 .9-1.3 .8-1.2 .7-.9 1.1-1.2 1 0 .7 .8 .7-.2 .5-1.5 .4-.5 1.2-.7 1.1 .4 1.4 0 .5 .4-.5 .9-.4 1.2 1.4 1 1.4 1.1 .9 0 .5-2.1 .1-2.1 .6-1.5 .7 1.5 .2 1.3 1.1 .8 .1 1.6 .6 1.8 1.5 1 .7 1.5 .9 .8 1.2 1.5 .5 1 .3 2.1-.4 2.1-.9 1.6-.4 .8-.5 1.4-.3 1.2-.1 .5-1.3 .2-1.1 1.1-1-.7-.4-.1-.7 .5-1.4-.3-1-.8-.2-.8-.9-.7 0-.7-.5-1.4-.2 1-.3 .6-.4-.9-.7 .7-.1-1.5-.9-.4-1.4-.6-2.1-.1-2.1 .5-1.4 .6-1.5 .7-1.7 .3-1.1 .7-1.3-.2-.7-.4 .5-.7 0-1.3-.5-1.6-.4-1.3-.7-1.7 .2-1.6 0-1.3zM101.3 88.8l2.6 .2-.2 1.7-.9 .5-.9-.9-.5-1zM121 83.5l1.2 1.2 .7 .6 .4 .9 1.4 0 .3 .1-.4 1.1-.6 .4-.4 .9-.9 .9-.4-.3 .3-1.1-.7-.4-.1-.2 .5-.6-.2-1.3-.9-1.2zM121 88.7l1.1 .5-.3 1.1-.7 .9-1.1 .7-.5 1.3-1.1 .6-1.8-.5 .3-.9 .8-.8 1.7-1 .7-.9zM66.8 50.1l1.5 .3 .7 1 1.4 1.7 1.4 .8 .9 1.3 .5 1.1 1.1 1-.2 2.3-.9 .1-1.5-1.6-.9-1.3-.5-1.2-.9-1.7-.7-1.2-1.1-1.1-.9-1.2zM76.4 53.5l.4-.4 1 .4 1.4-1.4 .7-1.1 1-.7 .9-1.4 .7 .7 1 .8-.8 .8-.2 1 .7 1.7-.9 .4-.1 1.3-.6 1.2-.3 1.1-1.1-.2-1-.3-1.1-.1-.9-.2-.1-1.1-.7-1.2zM91.8 55.6l1-.5 1.1 .4 .7 2 1.7-1.5 1.8 .8 1.4 .6 1.7 .7 .9 1.1 1.2 .6 .2 .6-.5 .2 .7 .8 .7 .9 1 1.1-.7 .1-1.4-.4-1-1.4-1.4-.6-.7 1.2-1.4 .2-1.1-.9-.7 .1-.3-1.9-.7-.9-1.4-.5-1.4-.3-.7-1 .7-.3-1.1-.8zM213.7 -2.2l1 1.7 1.4 1.7 1.4 1.2 1.1 1.3 1.7 .7 1.4 .3 .7-.6 .7-1.3 .7-1.2 1.1-1.3 2.1-.6 2.8-1.9zM209.5 -2.2l-.7 1.7-2.1 1 .3 1.3-2.4 .9-2.8-.5-2.1-1.4-2.1 0 .7-3zM191.6 1.2l2.5 0 1.7 .4 .2-.7-.5-1-3.2-.4-.7 .8zM210.7 14.9l2.3-1.7 .3-1.6 1.8 1.7 .2 1.7-.6 .7-1.4-.3-1.4-.5zM212.3 107.7l-1.4 .6-2.1 1.3-.7 2.1 5.6 0-1.1-3.4zM19.3 20.2l.1-1.9 1.1-1.5 1-1.1 .8-.2 1 .5-.5 .7 .7 1 1-.3 1.1-.7 .9 .5 1.2 1 1.6 1.7-1.3 .7-1.4 .1-1.4-.6-1.4-.3-1.7 .6-1.8 0zM24.5 16.5l.4-.7 1.4-.5 1.2-.1-.7 1-.9 .6-.3-.1z" fill="#acacac" fill-rule="evenodd" stroke="#fafafa" stroke-width="1.3" stroke-linejoin="round" stroke-opacity="0.9"/>
<path d="M32.9 17.9l.4-1.2 1-.9 1.8-.4 1 .2 0 1.2-1.2 .7-.7 .2 .5 1.1 1.3 .8 0 .6 .1 1.1 .6 .4-.2 1.2 .3 .6-1.7 .4-1.1-.5-.7-.6 0-.3 .4-1.4 .5-.2-.5-.2-.7-.9-.7-1zM40.8 16.7l.9-1 1.4 0-.4 1.4-.7 1-1 .2zM187.7 15.7l1.4-.5 1.5-1.2 1.7 .4 .7 1.4-1.7 0-1.8-.2zM190.7 19.8l.6 0 .5-1 .5-2.1 .4-.5-1.8 .2-.3 1.1 .1 1.3zM193.4 18.8l1 0 .6-1.3 1.2-.3-.4-1-2.4-.1 .3 1zM193.7 20l1.4 0 1.8-.9-.2-.3-1.6 .4-1.2 .3zM196.3 18.6l2.5-.2 0-.7-2.3 .5zM182.8 12.5l1.8 0-.4-2.8-1 0zM22.4 55l1.4-.5 .6 .9-.9 1.7-1.2-.7zM72.6 11.6l1 0 2.8-2.1 .5-1.5-.7 0-1.6 2.4zM21 4.4l1.8-.4 .2-.6-1.3-.3-.8 .6zM24.2 3.7l1-.2 .4-1.1-1.1-.2-.5 .6zM51.5 15.8l.7 .9 2.1-.5 1.4-.6-.4-.4-1.4 .6-1.7-.2zM9.5 44.3l1-.3 0-.8-.8-.2zM20.5 57.7l.5 0 .9 3.7-.5 .5-.7-1.7zM23.8 62.7l.4 0 .5 2.9-.2 1.1-.5-1.5zM170.2 3.7l2.8-.2 2.8-.8-1.4-.4-3.1 .5zM174.4 5.7l2.1-.4 1.4-.2-1.4-.2-1.7 .5zM180.4 7.4l.6 0-.1-1.2-.6 .2z" fill="#fff"/>
</g>
<rect x="0.85" y="0.85" width="250.50" height="107.80" fill="none" stroke="#fff" stroke-width="0.8" stroke-opacity="0.75"/>
<rect x="0" y="0" width="252.2" height="109.5" fill="none" stroke="#333" stroke-width="1"/>
<text transform="translate(-2.4,5.8) scale(0.85,1)" class="tl" text-anchor="end">60N</text>
<line x1="0" x2="1.2" y1="4.5" y2="4.5" stroke="#444" stroke-width="0.5"/>
<text transform="translate(-2.4,14.2) scale(0.85,1)" class="tl" text-anchor="end">50N</text>
<line x1="0" x2="1.2" y1="12.9" y2="12.9" stroke="#444" stroke-width="0.5"/>
<text transform="translate(-2.4,22.6) scale(0.85,1)" class="tl" text-anchor="end">40N</text>
<line x1="0" x2="1.2" y1="21.3" y2="21.3" stroke="#444" stroke-width="0.5"/>
<text transform="translate(-2.4,30.9) scale(0.85,1)" class="tl" text-anchor="end">30N</text>
<line x1="0" x2="1.2" y1="29.6" y2="29.6" stroke="#444" stroke-width="0.5"/>
<text transform="translate(-2.4,39.3) scale(0.85,1)" class="tl" text-anchor="end">20N</text>
<line x1="0" x2="1.2" y1="38.0" y2="38.0" stroke="#444" stroke-width="0.5"/>
<text transform="translate(-2.4,47.7) scale(0.85,1)" class="tl" text-anchor="end">10N</text>
<line x1="0" x2="1.2" y1="46.4" y2="46.4" stroke="#444" stroke-width="0.5"/>
<text transform="translate(-2.4,56.0) scale(0.85,1)" class="tl" text-anchor="end">EQ</text>
<line x1="0" x2="1.2" y1="54.8" y2="54.8" stroke="#444" stroke-width="0.5"/>
<text transform="translate(-2.4,64.4) scale(0.85,1)" class="tl" text-anchor="end">10S</text>
<line x1="0" x2="1.2" y1="63.1" y2="63.1" stroke="#444" stroke-width="0.5"/>
<text transform="translate(-2.4,72.8) scale(0.85,1)" class="tl" text-anchor="end">20S</text>
<line x1="0" x2="1.2" y1="71.5" y2="71.5" stroke="#444" stroke-width="0.5"/>
<text transform="translate(-2.4,81.2) scale(0.85,1)" class="tl" text-anchor="end">30S</text>
<line x1="0" x2="1.2" y1="79.9" y2="79.9" stroke="#444" stroke-width="0.5"/>
<text transform="translate(-2.4,89.5) scale(0.85,1)" class="tl" text-anchor="end">40S</text>
<line x1="0" x2="1.2" y1="88.2" y2="88.2" stroke="#444" stroke-width="0.5"/>
<text transform="translate(-2.4,97.9) scale(0.85,1)" class="tl" text-anchor="end">50S</text>
<line x1="0" x2="1.2" y1="96.6" y2="96.6" stroke="#444" stroke-width="0.5"/>
<text transform="translate(-2.4,106.3) scale(0.85,1)" class="tl" text-anchor="end">60S</text>
<line x1="0" x2="1.2" y1="105.0" y2="105.0" stroke="#444" stroke-width="0.5"/>
<text transform="translate(0.0,114.6) scale(0.82,1)" class="tl" text-anchor="middle">0</text>
<line x1="0.0" x2="0.0" y1="108.3" y2="109.5" stroke="#444" stroke-width="0.5"/>
<text transform="translate(42.0,114.6) scale(0.82,1)" class="tl" text-anchor="middle">60E</text>
<line x1="42.0" x2="42.0" y1="108.3" y2="109.5" stroke="#444" stroke-width="0.5"/>
<text transform="translate(84.1,114.6) scale(0.82,1)" class="tl" text-anchor="middle">120E</text>
<line x1="84.1" x2="84.1" y1="108.3" y2="109.5" stroke="#444" stroke-width="0.5"/>
<text transform="translate(126.1,114.6) scale(0.82,1)" class="tl" text-anchor="middle">180</text>
<line x1="126.1" x2="126.1" y1="108.3" y2="109.5" stroke="#444" stroke-width="0.5"/>
<text transform="translate(168.1,114.6) scale(0.82,1)" class="tl" text-anchor="middle">120W</text>
<line x1="168.1" x2="168.1" y1="108.3" y2="109.5" stroke="#444" stroke-width="0.5"/>
<text transform="translate(210.2,114.6) scale(0.82,1)" class="tl" text-anchor="middle">60W</text>
<line x1="210.2" x2="210.2" y1="108.3" y2="109.5" stroke="#444" stroke-width="0.5"/>
<text transform="translate(252.2,114.6) scale(0.82,1)" class="tl" text-anchor="middle">0</text>
<line x1="252.2" x2="252.2" y1="108.3" y2="109.5" stroke="#444" stroke-width="0.5"/>
<text x="1.7" y="16.0" class="pl">c.</text>
</g>
<g transform="translate(294.5,129.25)">
<rect x="0" y="0" width="252.2" height="109.5" fill="#f3f2fb"/>
<g clip-path="url(#mclip)">
<g filter="url(#bl)"><path d="M-2.8 111.7l257.8 0 0-113.9-257.8 0z" fill="#f4f2fa" fill-rule="evenodd"/><path d="M5 73.2l2 .2 2.1-.8 5.6-7 2.1-.8 21.7 3.7 8.4 1 6.3 .1 17.6-1.7 12.6-2.5 8.4-1.1 63.7-.9 85.5 .2 4.2 1 9.8 7.5 0-74.3-257.8 0 0 70.1 4.9 3.9z" fill="#faf6f9" fill-rule="evenodd"/><path d="M3.2 69.8l1.7 .4 1.4-.9 1.4 1.2 .7-.3 2.7-2.9 2.9-6.4 2.1-1.6 3.5-1.5 1.2 .3 .9 1.9 .7 .3 1.4-1 .7 .2 1.4 1.8 5.6-.1 2.1 1.7 1.1 1.9 2.4-.2 2.1 .8 2.1-1.1 2.1 1.5 2.1-.1 4.9 1.3 2.8-.5 2.1 .8 4.9-1.3 2.8 .1 1.5-1.2 3.5 .6 2.8-.8 2.1-1.7 4.9-.1 2.8-1.6 2.8 .3 2.1-1.3 2.8-.5 2.1-1.5 1.4 .8 2.6-.2 1.6 .7 2.1-1.5 2.8 1.5 2.8-1.5 3.5 1.1 4.2-.2 2.1 .8 5.6 .3 4.2-1.5 4.2 .2 2.1-1.7 4.2 1.6 5.6-.7 6.3 .1 2.1 .6 6.3-.6 3.5 .6 5.6-.3 14 .8 10.5-1.6 3.6 .6 3.5-2.1 5.6 1.7 .7-.1 1.4-2.1 2.8-.8-.7-2.6 .7-1.3 .7 .1 .7 2 1.3 .9 .8 2.9 2.2-2 2.6-4.2 1.5-.9 2.1 2.8 2.8-.6 .7 .3-.5 1.7 .5 1.4 2.8-.2 2.1 1.2 2.1 .1 .7 1.1 3.5 .1 2.1 .8 2.1-1.3 1.4 1.3 2.1-1.1 1.4 .6 2.1-.5 1.4 .9 5.6 7.3 4.9 3.4 0-71.2-257.8 0 0 66 .7 1.5 2.8 2.8zM10.5 42.6l0-.6 .8 .2zM12.6 41.8l-.5-1.3 1.1-1.7 3.6-1.2 .4 .4 .3 1.2zM14 51.1l-.7-1.4 .7-.9 .7 .5 .3 1.3zM16.8 54.9l-.7-1 .3-1.7 1.8-1.8 1 .2 .7 .8-1.4 1.7-.5 1.7-.5 .4zM21 49.8l0-1.4 .7 .5zM50.4 14l0-.7 1-.4 .2 .8-.5 .5zM52.5 23.5l-.7-1.4 .7-.3 .8 1.1zM66.6 14.7l-.7-.5 0-.9 2.1 0 0 .6zM70.8 47.7l-.6-1.3 .6-1.3 1.9 1.3-.5 .9zM14.7 48l-.5-.8 .5-4.3 1.4-.8 2.8 .3 1.1 2.3-.4 2-1.4 1.1zM31 63.1l.5 .4 0-.9z" fill="#fbeff2" fill-rule="evenodd"/><path d="M3 68.1l1.2 .6 2.1-1.6 1.4 1 1.4-.2 2.4-3.1 .6-4.2 1.3-1.7-.7-2.5 .7-3.3-2.9-4.2 .2-3.4-2.3-3.3-.7-.4-1.1 .4 .1-.8-1.1-1.7 .7-1.9 0-5.7 2.1-.9 .7 .6-.2 2 .9 1.8 1.4-.6 1.4-2.1 2.8 .2 1.4 1.4 1.4-.4 .7 .6 .8 2.5 3.7 3.3 .8 4.2-.7 7.5 1 2 3.3 1.4 .9 3.3 3.5 .6 3.5 3.3 2.1 .1 1.4 .7 1.4-1.3 .7 .1 2.1 2.2 2.8 0 4.2 1.4 2.8-.7 2.1 .9 2.8-.4 2.1-1 2.1 .3 1.5-1.3 3.5 0 .7-.8 2.1-.1 .7-.6 .7-2.5 .7-.5 .7-.2 1.4 1 .7-.7 2.8 1.5 1.8-1.1 1-2 2.1 1.5 2.3-2 0-2.5-1.4-2.6-.1-1.6 1.3-1.9 2.1 1 0 2.5 .7 1.4 4.9 2.2 .9-.2-1.1-1.7 .2-2.4 1.4-.9 1.4 .3 1.4-1.7 .7 .2 .6 1.2 .1 2.5 2.1 1.9 .7 .3 1.4-1.3 2.8-.2 3.5-1.2 3.1 1.3-.3 2.1 2.8 1.5 1.4-1.1 1.4 1.1 .7-.2 1.4-1.5 1.6 .6 1.9-2 .8 2 1.3 .5 4.9-2 4.2 1.8 6.3-.3 7.7 1.1 18.9-.1 4.2 .6 8.4-.3 5.6-.8 3.5-.7 1-.6 .5-1.5 .3 1.5 1.1 .8 3.5-2 2.1 1.1 1.4-.1 1.1-.6 .2-.9-3-2.5 .8-1.7 3-.8 2.1 1.2 1.4-1.3 2.1-.1 1.4-.8 5.6 1.5 2.1-1.3 1.4-.1 .7 .3 .4 1.4 1 .9 2.1-1 2.1 1.6 2.1-.1 2.1 1.1 2.1 .1 1.4-.6 .2 3.1 2.6 1.3 2.8-1 2.1 .6 1.4-.8 2.1 .3 2.1-.8 2.8 .1 1.3 4.4 3.5 1.7-.7 2.5 .3 .9 4 3.5 0-27.2-2.1-.2-.1-.4 .2-2.5 .7-.9 1.3-.1 0-38.4-1.1 0-.1 3.4-.5 0-.4-2-.7-.4-.3 1.5 .8 .9-1.2 .8-1.4-.5-2.1 1.3-2.1-.8 2.1-1.3 .4-2.9-9.1 0-.4 1.8-1.4 2.2-2.1-1.9-2.8 2.4-.7-1.1 .7-1.7 2.1-.1 .9-1.6-2.6 0-1.1 .8-.6-.8-6.1 0 .6 1.7-.9 .3-1-.3 .2-1.7-13.9 0-1.4 1.1-.4-1.1-2.7 0-1.1 .6-.8-.6-4.9 0-.6 1.2-2.5-1.2-14.8 0-3.1 .9-.5 0-.2-.9-1.1 0 0 .9-1 .3-1.8-1.2-2 0 .3 2.5-1.4 1.4-.7-.4-1.4 .9-.6-.2-.1-.9 .7-.7 1.4 .2 .4-1.1-1.7-1.7-2.3 0-.6 1.1-.7 0-2.3-1.1-8.3 0-1.3 .8-.1-.8-63.6 0-.7 .5-5.6-.5 .2 1.7-.9 1.2-1.1-2.9-3.2 0 .4 3.4-.2 .8-1.5-.4-.3 .4 .3 1.9 .7 1.7 2.1-2.7 .5 .8 .2 2.5-1.4 .5-.2 1.2 1.2 .8-.2 3.4 .6 1.4 .8 .2-.1 1.1-3.5-1.5-1.4 1.5-1.4-.2-.1-.9 2.2-3 1.5-1.2-.1-.6-1.4 0-1.4 1.1-2 .4-.8 2-2.1 .4-2.1 3.3-1.4 .3-2.2-1.8 .1-1.7 1.4-2 1.4 .5 1.5-1 .7-1.7-.8-.8-2.8 .9-.7-.2-.8-2.4 .8-.6 2.8 2.2 .7-.1 .5-2.3-1.3-1.7-.8-3.4 .9-.3 1.4-1.9 1.6-.3-4.8 0-1.2 1.7-2 1-.1-1.8-.7-.9-1.3 2.2-.7 .3-2.1-.5-3.2 2.2-.4 .8 .3 2.6-1.2 .8-1.2 3.3 2.4 .9-1.1 1.7 .2 1.5 3.7-.7 1.3-.8-.1-.5-1.4-.5-1.5-1.6 .1-2.7 2.8-.6 .7-1.8 2.8-2.1 1.4 2.2-.2 1.7-.7 .8-.5 .3-1.4-.6-.8 1.2-.2 2.5 .5 3.3 .9 1.7-.6 1.7 .2 3.3-.7 .3-1.4-2.4-1.4-1-3.3-.2 0 3.3 .5 1.3 .7 .8 2.3-.4-.9 1.5-1.4-.3-.7 .4-.7 1.7-2.1-.7-2.1-3.2-.7 .3-.7-1.8-1.4-.5-2.8-2.4 0-2.6 2.8 1.1 .9-.2-.3-2.5 .9-1.7-1.6-1.7-.6-1.8-2.1-1-1.4 1.6-1.1-1.3 2.5-1.7 1.4-2.6 2.8-.7 .2 1.7 1.3 2.5-.1 1.7 .7 .6 .7-.3 1.6-4.5-.7-2.5 1.2-1.4 2-.3 .7-1.7-4.7 0-1.5 .8-1.2-.8-3.2 0-.9 4.2-1.7 .1-.5 2.4-1.6 1.1-1.4-2.5-.7 .5-2.1-1.2-1.4 .8-1.4-1.6-1.4-.4-.9-2.5 1-.9-2 0-.9 2.5-.7 .3-1.4-.7-1.1-2.1-8.3 0-.4 .9-1.4 .4-.6-1.3-9.2 0-.7 2.6-.7 .4-4.2 .2-.7-.3-.7-2.4-2.1-.5 0 39 1.4-.9 .8 .4-.9 3.4 .5 1.7-1.8-.2 0 19.8 1.8 3 1.1 .8 .6 1.8zM3.5 37.5l-.4-2 .4-1.1 .7 0 1.1 1.1-.9 1.7zM27.3 52.9l-.9-1.5 .2-.7 .7-.1 .8 1.6zM30.1 12.2l-1.4-1.4-2.1 .8-1.1-.4-.1-.8 2.5-2.5-2.8-1.7-.9-2.5 .3-1.3 4.9-.3 3.5 2.1 1.4 0 .7 3 1.9 .7 .3 2.5-.8 .4-1.4-2.6-1.4 .1-.7-2.3-2.8-1.1-.6 .5-.1 .8 2.2 2.5zM31.5 57.8l0-1.8 .7 .4 .1 .9zM40.6 23.9l-2.2-1.8 .1-1.6 1.4-1.5 .7 1.1 2.8 .2 3 1.8-.9 1zM48.3 31.8l-2.3-2.2 1.5-3.3 .8-.7 .7 .2 .6 1.3-.7 2.5 .5 1.7-.4 .8zM51.8 33.2l-1.5-3.6 .3-.8 1.9-.9 1.4 .9 1.4-.7 1.4 .6 1.1 1.8-1.1 .5-1.4-.3zM53.9 37.5l-1.3-2 .6-.3 .7 .5zM56 48.5l-.7-1.3 .7-.3 .6 1.2zM58.8 25.8l.1-2 2-.4 .6 1.2-.6 1.6zM61.6 29l0-1.2 .8 1zM68.7 49.9l-1.4-1.3-.8-2.2 .6-2.5 1.6-1.7 .7-3.4 2.1-.6 .7 3-1.5 1 1.5 1.1 1.4 3-.1 .9-1.3 2.5zM75 56.7l-.7-1.1 .7-2.1 .6 .4 .1 .9zM81.3 9.5l-.1-1.6 1.1 0 .4 .8-.7 .8zM84.8 6.6l-1.6-2.1 2.3-.5 .5 .5zM98.1 48.1l-2.1-.7-2.1 .2-3.5-1.4-2.1 .5-.8-3.7 .5-2.5-.7-1.7 1.7-.4 3.5 1 2.1 .1 1.4-1.9 2.1 1.9 4.2 .8 2.1-1.9 2.2 .4 1.6 3.4 .4 2.3 .7 .2-2.8-.3-2.1-1.6-3 1.9 1.1 1.7-.2 1-1.4 .6zM103 51.7l0-1.2 .5 .9zM105.8 46.7l0-1.4 .6 1.1zM113.5 54.8l-.4-.9 .5 0zM119.8 47.4l-.9-1 .2-2.1-1.4-.5-2.8 2.1-2.8-2.1-2.8-3.6 5.6 .1 .5 .2 .2 1.8 .7-.8 0-2 2.1 .3 1.4 1.4 2.1-.2 2.1 .7-1.3 4.7-2.2 1.3zM120.5 54.1l-.4-1 1.1-2.1 2.4 1.2-1 1.6zM124.7 41l-.3-.5 1-.7 .9 .7zM126.8 43.9l-.6-.9 .3-1.6 1.9 0zM130.3 43.6l-1.3-2.2 1.3-1.2 1.4 .9 2.1-.1 1 1.2-1.7 .1-2.1 1.5zM145 42.3l.6-1.8 .8-.8 1.6 0 1.5 .8zM150.6 41.4l-.5-.9 1.2-.5 .7 .2-.3 1.2zM155.5 39.9l0-1.2 1.2 .1 .2 .9zM158.3 40.6l-1.3-.9 2-1 2.1 .7 .7-.8 .7 .2-.4 .9-1.5 .8zM163.9 49.9l0-.5 1.6 .3zM166 7.1l0-1.3 .5 .4zM175.1 8l-.6-1 1.3-.4 0 1.1zM177.2 14.9l-.6-.3-.1-1.3 .7-1 .7 .1 .7 1.3-.7 1.1zM180 11l-.5-1.5 .3-.8 .9-.3 .7 .3 .2 .8-.3 .9zM182.1 27.2l-1.1-.9 .4-1.6 1.4 .7 .3 .9-.3 .7zM227.7 38.3l-.4-.3 1.2 0zM229.1 5.7l-1.3-1.2 .6-1 .7 0 .7 .8 0 1.3zM238.2 38.1l-.6-.9 .6-.4 .7 1.2zM243.1 6.3l-.8-.9 .8-1.1 1.9 1.1-.8 .8zM245.2 37.7l-.6-.5 .6-1.8 .5 .9zM248.7 46.5l-.7-1 .7-.5 .7 .3 .3 1.1zM251.5 34.4l-.4-.6 .4-.4zM-.7 4l-.2-1.2 .9-.1 .3 1zM1.4 32.3l1.8-.2-.4 .7zM38.5 6.3l-.8-.9 .8-.8 .6 .8zM39.9 11.8l0-.7 .7-.1 0 .7zM41.3 14.1l-.5-.4 .5-.8 1.1 .8zM42.7 10l0-.8 .5 .3zM53.9 27.5l0-2 .7 0 .3 1.6-.3 .5zM68 36.5l-2.4-2.7 1-1.4 1.4 .6 .7 1.2 0 2.8zM72.2 26.9l-.3-1.5 1-1 .3 1.9-.3 .6zM248 39.1l-.2-1.1 .9-.1-.1 .9zM1.4 11.4l.8-.2-.1 .5zM68 28.1l-2.3-1.8-.4-.9 .6-.7 3.5 .9-.1 1.5zM72.9 22.5l-1.4-1.2 .3-.9-1-1.8 2.1 .7 1.4-.5 3.1 2.5-.3 .8zM66.6 24.1l-.7-2 .7-.8 1.4 .1 .5 .7zM69.4 23.9l0-1.4 .7 .4 0 1zM22.6 56.4l1.1 0 .1-1.3-1.3 .5zM95.2 52.2l.8 .6 0-.8zM97.6 45.5l1.4 0-1.6-1.9zM12.8 35.5l1 0-.5-.5zM50.7 18.8l1.5-.9-.4-.7-1.4 .2zM70.7 6.2l.8 .4 .3-.4 0-1.7 1.1-.9 .4-1.6-.4-.8-2.8-.7-1 .7 2.3 2.5-.9 1.7zM38.4 1.2l.8-.1 1-1.6-.9-1.7-5.4 0 .4 1.3 1.4 .6 .7 1.1zM42.7 1.2l0 .7 0-1.6z" fill="#fce8ec" fill-rule="evenodd"/><path d="M2.7 66.5l1.5 .8 2-1.7 4.3-.4 1.1-2.1-.4-2.8 1.1-2.2-.8-5.9-2.4-5.6-1.1-1.9-2.3-.8-.8-1.3-1.4-.7-1.4 1.2-2.8 .8-1.4 1.5-.7-.3 0 13.1 2.1 4.4 2 1.4 .1 1.7zM254.6 65.6l.4 .8 0-24-4.2 .9-.7 1.4 .6 1.7-.6 .9-1.4 0-.7-.1-.7-1.7 1.1-1.6 .3-1.7-3.5-2.2-3.5 1.3-1.4-1.2-2.8-.6-1.4 .4-4.2-.5-1.1-.6-.2-.8 1.3-1.4 2.8 1.1 2.8-3.8 2.1 2.4 2.8 .3 1.1-1.1 .3-1.6 6.3-1.4 1.4-3.8 1.2 .9 2.3 4 0-18.7-.7-.3 .7-.7 0-7-1.4 .8-1.4-.3-.7 .4-1.4 3.5-.7-.9-.7-4.3-.7-.4-1.4 1.8-1.4-.4-1.4 .3-3.5-1.9-.7 1.1-2.1-.1-.7-1-.3-2.7-1.1-.8-2.1 2-2.4-.3-.4 5.1-2.1-1.6-1.4-2.3-2.8-2.1-2.1-.8-1.3-1.7-2.9-1.7-2.1 .9-2-1.7-.9 0-2 1.6-2.8 1.1-1.4-1.8-1.4 1.2-2.1 .1-1.4-.8-1.4 0-1.4 1.1-4.4-2.5-7 0-1.3 .9-2.8 .3-.3 2.2-2.3 1.6 .4 4.2 .9 .9 .3 1.6-.6 1.7-1.9 1.7-2.1 3.4-1.9-.9-.4-.8-.6-2.5 .8-2-2.8-.8-2.1 1.1-1.8-.9-.3-.8 1.3-3.3-.6-1.8-1.4 0-.7 .8-.7 3.3-2.4 .2 1.7-4.2 0-2.1-.7-.1-.5 1.3-.9 .2-.4-1 .7-.8-.2-.9-.8-.2-.8 1.9-1.3 .1-1.3-2.6 .7-1.7-4.6 0 1.7 2.5-.7 1.2-1.4-.3-1.4-1.3-2.8 1.6-.7-1.2-.2 1.7-1.2 .8-2.3-1.6 .7-2.5-1.2-.9-1.5 .9-.6 1.6-.7 0-2.2-2.5-1.6 0-1.1 1.4-1.4 .3-1.9-1.7-1.9 0-2.5 .8 0 .9-.7 .6-3.8-2.3-1.3 0-1.2 1-.7-.1-.5-.9-2.2 0-2.2 2-2.4-2-2.1 0 .5 1.7-.6 .8-1 .1-1.4-2.4-15.4-.2-1.4 .4-1.6-.4-1.2 3.7-1.9 2.2 .4 1.7-2.4 1.6 .4 3.5-.7 .7-1.4-1.7-1.4 0 0 2.6 .5 .8 1.8 .8-.9 3.2-2.1-.1-.5-4.7-.2-.3-.7 .8-1.4 6.2 .7 .6 1.4-.2 .3 .4-1.7 2.6-.7 .2-1.4-.9-.5 .6-.2 5.7-2.6-1.5-.2-2-1.4 .6-2.1 3.4-2.1-.9-.3 .6 1.7 3.2 4.2-.9 .6 .2 .1 .8-1.4 .9-1.4-.3-.9 2.8-.4 5 .9 2.5-.4 1.7 .4 5-2.9 3.3 .2 2.6-1.1 1.2-.7-.2-.7-1.4-1.4 .5-.7-.3-2.2-2.4-.1-1.6 .9-.1 1.4 2.6 .7-.7-.2-1.8-1.5-3.4 .2-3.3 1.5-2.3 .3-1.9-1.7-3.3-2.1-.7-1.1-1 .3-2.6-.7-.4-.3 .4-1.8 4.5-1.4-.1-.7-1-2.1 1.9-.8 4 1.1 2.5 0 1.6 3 1.7 .6 .9-.4 .3-1.4-.5-2.1 2.2-2.1-1.8-1.4 .5-2.1-.7-.7 .3 .7-1.6 3.7-1.3-.9-.9-2.5-.7-.8-3.4 .5-1.9 1.5-1.4-.8-1.1-1.4-.8-3.1 1 .3-2.9-1.4-1.4-1.4 .6-1.4 1.5-.7 .2-.7-.4-.4-.9 .5-2.5-.8-1.3-2.8-.8-2.1 1.3-1.8-1.7 .5-3.4-.8-.8-.2 4.2-1.3 1.6-.5-.8-.1-5 2.8-2 2.1 .4 .5-.9 0-.9-1.2-1-1.6-3.2 .4-2.5-2.3-.7-2.1 .6-2.1-1.2-6.2-1.2 .2-3.3 1.5-1.7 .2-.8-.6-2.3-1.4-.2-.9-.9 .2-2.2-2.8 0-2.1 .8-3.5-2.3-2.8 0-.7 .4 0 2.5-.7 .9-1.4 1-2.1-.2-1.4 2.8-.7 .3-1.4-.9-2.1 .4-.6 .7 .1 .8 1.9 1.9 5-.2 .3 .8-1.7 1.7 1.3 1.9 2.1-.1 .1 .7-1.5 1.5-2.1-.1-2.1-1.5-2.1-.1-.1-3.1-2-1.3-.7-2 0 27.8 2.1-2.8 .7-2.5 .4 .9 1 .3 3.5-.9 3.5 0 5.6 2.1 3.5-.5 3.5 2.2 1.4-.2 1 2-1.2 1.7 .9 1.6 1.2 .9-.2 2.5 .9 2.5-.3 2.5 .5 1.2 2.1 .3 1.4 1.5 2.1 .4-.3 2.5 1 .6 .7-1 .4 .4 .1 1.7 1.9 2.5-.3 1.6 2.1 2.4 2.1 .3 1.4-1.9 1.4-.3 .7 .4 .1 1.6 1.3 2.1 2.8-.1 4.2 1.5 2.8-.3 2.8 .7 6.3-.9 1.5-1.2 2.8-.2 3.3-2.4-.1-.8-1.9-.9 .1-1.8 .7-.7 .7 .2 1.4 2.2 1.4-.7 2.1-5.7 2.1-1.2 .9 .2-.5 3.4 1 .7 2.1-1.2 1.4 .2 .8-.6 .6-1.7 0-2.5 .8-1.6-.2-2.6 .8-.5 2.1 1.3 .2-.8-1.4-2.5 1.5-2.5-.4-2.5 3.5-.8-.4-1.7 .5-1.1 2.9 1.1-.1 1.2-1.4-.7-1.2 1.2 1.2 .6 2.8-.4 .7-2.7 .7-.3 3 3.6 2.6 .2 1.4-.9 1.6-.1 .9-.9-.9-2.5 .5-.8 .3 1.7 1.8 1.3 1.4 2.1 5.6 .9 2.1-1 2.8-.3 2.1 1.8 2.1 .1 2.8-.7 2.8 .9 2.1-1.8 2.1 1.3 2.8-2.8 1.4 3.1 1.4-.6 1.4 .1 1.4-.8 .7 1.4 1.4 .2 4.2-1.4 2.1 0 2.1-1.3 2.1 1.1 2.8-1.2 2.8 0 1.4 .6 2.1-1.3 2.1 1.1 1.3-1.2 .1-1.3 2.8 .1 .7 1.2 0 1.7-3.5 2.1-2.1-1-1 1.4-3.9 1.1-3.5-.1-1.4-.6-2.1 1.2-2.8-.3-4.2 1.7-2.1-1-2.8 .6-2.8-.4-2.1 1.3-2.1 .1-1.4 1-2.8-.8-2.8 1.5-1 1.4-3.5 .9-.1 .8 .6 .8 4 1.4 3.5-.3 .8-1.1 1.2 0 .6 1.7 2.3 1.6 2.1-2.7 1.8 .3 1.2 .8-.9 2.8-.8 .6 4.3 1.3 16.1 1.1 8.4-.6 4.9 .9 14-1.5 2.8-1.1 1.5-2.7 1.4 1.2 1.9-.3-.4-2.5 1.6-3.4 .4-.4 1.4 .5 .7-.4 1.4-2.7 1.4 1.4 1-.1 1.8 2.7 1.4-.6 1.4 .2 2.1-1.3 2.1 1 2.1-.6 1.4 1.3 4.9-1 1.4 2 1.4-1.8 2.1 2.2 2.1 .2 2.1 1.5 3.5-1 1 1.1 .5 2.5 .6 .5 4.9-.4 1.2-1.8 .9-.2 5.6 1.3 1.4-.5 1.1 1.1 1 3.4 3.2 2.5 .1 3.3zM232.6 35l.7-3.7 .7-.1 1.1 .9-1.8 2.6zM252.9 14.2l0-2.2 1.2 1.7-.5 .8zM10.5 15.4l-.5-.8 .5-.6 .9-.3 1.2 .9 0 1zM14.7 14.7l.9-.1-.2 .7zM35.7 38.9l-1.4-1.7 1-.9 2.4 0 .1 2.5-.7 .5zM42 49.9l-.8-1.8 .1-1.3 .7-.6 1.3 2.7zM43.4 39.1l-.6-1.1 .6-.5 .7 .5zM50.4 52.7l-.9-1.3 .2-1.4 .7-.2 .7 .3 .3 1.3-.3 1.4zM63 50.2l-.4-.5 .4-.2zM91.1 6.3l-.6-.9 1.3-.2 .7 1-.7 .4zM157.6 4.2l0-1.5 .9 1zM163.9 35.1l-.6-1.3 .6-1 .9 1.9zM169.5 28.5l-.5-1.4 .5-.5 .8 1.4zM146.4 52.3l-2.1-.9-2.1 0 .7-.5 1.4 .5 1.4-.8 2.3 0 .4 .8zM158.3 50.6l-1.5-.9 .8-.9 1.9 .9 .1 .9zM180.7 52.3l-.7-.1-1.4-1.6-3.5 .4-4.2-.6-5.6 1.1-3.8-1.8 .7-.8 1.7-.5 3.5 .3 4.2-.6 4.4 .8 2.6 .8 0 .7 2.4-.7 .8 1.7zM184.2 23.2l-.9-1.9 1.2-1.7-.1-.8-1.6 .3-1.7-1.2 .1-.8 1.6-1 1.4-2.5 1.1 1 .2 4.2 .8 1.7 3.6-1.1 1.4-1.3 .3 .7-.3 1.6-.7 .2-1.5 1.9-3.5 .9zM189.9 52.2l-.6-.8 .3-.8 1-.2zM194.1 25.9l-.4-.5 .4-.2 .9 .2-.2 .6zM196.9 27.2l-1.4-.9 1.4-.3 .3 .3zM203.2 36.4l-1.1-.9 .4-.4 1.3 .4zM205.3 10.5l-1-1 .3-.9 .7 .7zM207.4 37.2l-.7-.3-1.1-2.2 .4-1.2 1.4 0 1.4 1.7 1.4-.4 .8 .7-.8 1.6-1.4-.5zM215.1 40.8l-.6-1.1 1-2.5 2.6-1.7 .6 .8-.1 2.4-1.4-1.1-.7 .3-.1 2.6zM222.1 40.5l-1.1-.8 .4-1.9 .7-.7 2.8-.2 2.1-1.6 2.1 1.2 1.3 1.5-2 1.7-3.5-.8zM230.5 34l-1.4-1 .7-.4zM232.6 7.9l-.2-1.7 .9-.5 .7 1.3-.4 .9zM164.6 12.2l-.5-1 .5-.5zM175.8 20.6l-.4-1 .3-.8 1.5-.8 0 2.3zM180.7 27.5l-.3-2.9 .3-.7 1.4 .1 1.4 1.4 .4 1.7-1.1 .8zM187.7 17.2l-.9-1 .9-1 1.4-.4 1.7 .6-1.7 1.8zM196.2 22.3l-.5-.2 .5-.5zM225.6 34.2l-.4-1.2 .4-.6 .7 .4 .2 1-.2 .7zM196.1 53.9l1.1 0-.3-.5zM115.1 53.1l1.4 0 1.2-2.3 1.4 .2 .4-1.3-.4-1.5-1.4-.2-.9 1.7-2 .9zM99.6 52.2l.6 .5 .5-.5 .9-2.6-2.1 .1zM105.4 51.4l.4 .7 2.8-.8 2.8 .6 1.3-.5-1.4-1.7-.8-2.5-1.2-.7-1.6 .7zM103.5 48.9l.9-.5 0-.9-.7-.1zM-2.8 43.9l0 .5 .9-1.4-.9-.3zM58 33.8l.1 .7 0-1zM63.3 20.4l.7 0 .2-.8-1.2-1zM62.2 12.1l.8 .2 .8-1-.8-1.3-1 .4zM177.2 8.7l.7 0 1.8-1.7-1.1-1.3-.8 .5zM173.2 5.4l1.2-.1 1.3-.8-1.3-1.4-2.1-.7-.7 .4-.2 .9zM252.3 3.7l.6 .7 .8-.7-.8-.5zM228.7 1.2l1.1 .4 .9-.4 0-1.7-.9-.9-.8 .9z" fill="#fbdde2" fill-rule="evenodd"/><path d="M3.2 65.6l1 .6 2.1-1.1 4.2-.6 .7-1.4-.4-2.5 .8-2.5-1.1-6.7-3.5-6-1.4-.4-1.4 .9-2.8-1.5-4.2 2.1 .4 4.9-.4 5.2 .8 .7 1.3 4.1 .7 .9 1.8 .8 .4 1.7zM51.7 64l6.4 .6 3.5-.5 2.2-1.4 2.8-.4 .9-1.7-1.8-.8-.1-.9 1.2-.8 0-1.7-1.6-1-4.3-5.9-2.1 2.5-2.1-.6-2.1 .2-.6-1.9-.8-.1-1 1-.1 3.3-1 .1-1.4-.9-4.2-5.5-.2-1.2 .7-2.5-3.1-3.4-2.3-5.3-.7 0-1.1 1.1-.3 1.7 .5 1.7-.5 .8-4.2-1-.7-.7-1.2-2.5-1.6-.9-1.6-2.4-.6-5 .1-1 1.8-1.6 .3-2 3.4-3.8 0-1.7-1.7-3.3-3.1-.4-5.6-1.9-1.4 .1-2.1 1.3-.7-.2 0-2.3 1.4-4.2 1.4-1.6 0-1-3.5-3.4-2.8 .3-1.4-1.1-3.5-.3-2.8 3.4-1.4 1.1-1.6 .1 0 1.7 4.3 6.7 2.2-.7 1.4 .9 3.5 .3 1 1.2-.3 1.3-.7 .7-4.2 .3-4.2-1.6-4.9 2-.6-.2-.1-1.7-2.8-.6-2.1-1.2-.7-1.1 0 19.7 1.2-.9 .3-2.5 .6-.5 1.4-.1 2.1-1.2-.7 2.8 2.8-1.5 4.9 1.6 2.1 0 2.1 1.3 3.5-.3 3.5 1.3 1.4-.1 1.4 1.7 2.1 .1 .6 .8-.6 .8-2.2 1.7 0 .8 1.7 1.7-.8 2.5 .8 1.7 .2 3.3 3.8 .1 3.2 2.4 1.4 5.1 2.2 1.6 0 2.5 .9 1.4 .7 .1 2.1-2.2 1.4-.4 .7-1.8 1 2.1 1.8 1.9-.1 2.3zM29.4 39.8l.1-1 1.4 0-.1 1.2-.7 .4zM41.3 54.4l0-1.5 .6 1zM41.3 50.9l-.5-3.7 1.2-1.8 .7 .4 1.4 3.1-2.1 2.1zM254.3 64l.7 .6 0-19.4-1.4 1.2-5.1 1.7-.8 .8 .6 1.7-.4 1.6 1.1 4.2 1.1 1.4 2.1 1.1 .3 3.4zM152.5 56.4l5.8 .5 8.4-.8 2.1 .8 3.5 .1 7-1.1 2.8 .2 2.1-1.2 1.4 .4 2.1-.9 .5-1.3-.5-1.1-1.4-.8-2.8 1.1-2.8 .4-2.8-1-6.3-.7-6.3 1-4.2-1.1-2.1 .5-2.1-.5-2.1 .5-2.8-.8-4.2 2.2-2.8-.1-2.1 .7-2.1-1.2-.8 .9 .1 1 .7 .6 2.8 1.2 5.6-.2zM72.1 53.1l.1 .6 .6-.6zM79.2 53.1l2.1 .4 .7-.8 .8-7.2 2-4.1 .6-4.2 1.5-3 1.1 .5-1 1.6 1.3 .4 .2-2 4.7-1.7 2.8 .8 .7 1.2 2.8 1.9 .7-2.2 2.1-.2 2.1-2.8 .7-.1 .7 2.4 2.1 2.9 1.4 .7 1.4-.1 2.1-1.6 2.1 1.4 2.1-.7 .7-.7 2.8 2.5 4.9-.3 2.8 .8 2.1-2.2 2.1 1.1 2.8-2.2 3.5 2.3 2.8-1 1.4 1.6 2.8-.3 1.4-1 .7-1.3 5.6-.1 1.4 .8 3.5-.9 1.4-1.5 2.1 .7 1.3-2.8 .8-.5 2.3 2.2 1.9 0 1.2-1.7-1.4-5 .2-2.5 .7-.8 .7 .4 1.4 3.8-1 4.1 .7 2.6-.3 4.1-.8 .8-3.5 1-2.1-.2-5.6 2-9.1-.1-4.2 1.7-2.1-.7-5.6 .2-4.9 2.4-3.5-.6-1.9 1.1-1.5 2.5 .3 .8 3.1-1.1 2.1 0 1.3 .3 1.5 2 .7 .2 2.8-1.5 2.8 .9 2.8-.5 9.1 .5 .7-.8 2.8-.3 2.1-1.5 2.8 1.3 2.3-1.1 4.7 .1 4.2-.6 9.8 1.3 1.4 2.1 9.9-1.6 2.1-3.6 1.4 .4 .8-.7 .6-1.6 .7-.4 2.1 .5 1.4-1.4 .8 .4-.8 2.5 1.4 1.3 1.9-.4 .4-1.7 1.2-.9 .9 1.7 1.2 .9 2.8-.7 2.1 1.2 5.6 .1 1.4-.5 2.1 1.8 4.2 2 3.5-.6 3.5 3.6 3.5-.8 1.5-1.1 6.2-.1 1.1-1.6-.1-1.6 1.3-5.1-2.3-1.9-3.5 1.1-1.4-1.2-2.8-.5-2.1 .3-5.6-.9-2.1 .5-2.1-.6-2.8 1.1-2.1 1.6-2.8-2.1-1.4 1.1-2.2-.1-.9-.9 .2-1.7-1.3-1.9-.7 .4-.7 1.5 2.1 2.6-2.8 .2 .6-2.8-1.3-1.1-2.1 .2-2.1-1.3-2.1 .5-2.1-1.2-2.1 .9-1.3-.5 0-.8 2.7-4.1 .7 0 2.1 2.2 .7-.1 .6-3 .8-.4 .8 2 2 .7 .4-.7 .3-3.4 2.1 2.6-.1 2.5 1.5 .4 .7-2.1 .7-.5 1.5 1.4-.4 1.7 1 .4 2.8-.4 1.4 2.4 1.4-1.1 2.8-.8 .2-2.2 1.2-2.3 .7-.2 .7 1.1 .7 .2 1.4-.7 2.8 1.8 1.2-2.4 .9-.1 2.1 1.8 3.5 0 .5 2.5 1.6 .2 .1-1.9 .6-.8 2.1 .2 4.9-1.2 .6-.7 .1-2.5 .6-.9 1.5 .7 2.1-.8 .7 .4 0-11.2-2.2-.8-1.3-1.8-1.4-.4-2.1-4-4.2-.3-.8-1-1.3-.5-9.8 1.7-1.5 4.6-1.3 1.4-.7-.3-.1-1.1 1.9-2.5-.4-1.7-.7-.8-1.4-.1-.5-2.4-.8-.8-1.5-.4-3.5-2.2-1.4-1.8-1 .2 .5 1.6-.5 .9-1 0-.5-1.7 1.4-1.7-1-.5-2.1 .7-1.4 1.5-.7 0-.7-2.3-2.8 .7-2.8 1.7-2.1-.7-2.1 .3-2.1-1.1-.7 0-1.4 1.2-2.1-1.5-1.8 0-.1-.8-2-1.7-.8 0-.9 1.2-2.9-.6-2 1.1-3.7 4.2-.6 1.7 .7 .7 .7-.2 .6 1.1-1 4.2 .4 .9 2.1 .9 .7 1.3 2.8-.4 4.1 .7-.5 1.6 2.1 1 .3 2.4 1.6 1.7-.1 2.5 .5 .8 1.2 1.1 .7 0 1.4-1.1 2.7 2.5-.6 .7-1.4-.2-2.8 1-1.4 1.1-2-.9-.1-1-3.2-2.4 2.8-2.5-.3-1.4-3.1 1.4 .1 2.5-1.2 1.3-2.2-2.6-.5 .5 1.1 .8-.6 .6-.7-.2-.2-1.2-2.5 0 .5 2.5-.6 .9-3.5 .6-.5-.6-.9-4-1.4 .8-.5-.2 .5-2.7-.7-.6-3.5-.2-1.3-1.5 .2-.8 1.8-.1 1.2-1.6-2.4-6.7-2.3 .8-3.5-2.2-1.4-.2-.7 .7 .4 2.6-.4 .7-2.1 1.5-.7 0 0-1.4 .7-.2 .9-3.2-.9-2.5 1.4-1.4 0-1.1-2.1-1.1-2.7-.6-.1-1-.8 .2 .8 .8-.3 .9-1.8 1.4-1.4-2.7-1.4-.6-1.4 .1-4.2 1.6-2.1-.8-1.4 .7-2.1-2-1.4 .1-1.4 1.2-.9-.7-.5-1.7-2.8-.2-2.1-1.1-1.4 .2-1.4 2-6.3-2.2-2.1 .7-1.4-1.4-1.2 .4-2.3 2.1-2.8-1.3-.7 1-2.1 .4-.7-.2-1.3-2-2.2-.9-3.2 0-1 .7-3.5-.7-.7 2.3-.7 .1-1.2-1.5-.9 0-2.1 3.3-.7 .4-.5-2.1-.9 0-1.8 3.4 1.5 1.7 .1 .8-1.2 1.1-1.4-.7-1.4 .4 .4 3.4-2.3 6.7-1.6 1.7 .5 1.6-1.9 .3-3.3 3.1-.3 5-1.8 4.2-2.3 .3-1.9 1.4-.8 5 1.1 1.7-.9 3.3 .9 4.2 .9 1.4 2.3 .3zM129.6 33l0-1 .8 1zM204.6 10.7l-1.4-2 .7-1.3 1.4-.5 .7 3.5-.7 .7zM216.5 32.8l-.5-.7 .5-.8 .9 .8zM223.5 9.1l-.6-.4 1.3 0zM241 31.3l0-1.7 2.4-1.6 2.3 .8 .3 .8-.8 1-2.1-.6zM197.6 16l-.7-1.5 2.1-1.1 1 1.2-.1 .8zM199.7 12.5l-.4-1.3 .4-.9 .7 .1 .4 .8zM108 48.9l1.3 .5 .6-1.3-1.3-.5zM47.1 47.2l.5 .7 .7-.4 .3-1.1-1-.7zM62.6 47.2l1.9-.3 .6-1.4-.5-2.5-1.5-1.6 1.9-4.2-2.7-1.5-2.1 1.7-2.8 .2-1.3 4.6 2.3 3.3zM44.9 39.7l.6 .5 2.8-.3 1.3-2.7-.6-.5-2.1 1.5-1.4-.5zM42.8 36.3l2-.1 .9-2.4-.9-.2-1.4 .7-1.1 1.2zM234.5 35.5l.9-.3 .3-1.4-1 .5zM33.8 34.7l1.9 .8 2.8-.7 1.9-2.7-.5-2.2-2.1-.7-2.1 .8-2.1-.3-1.6 1.6 .8 2.5zM178.3 21.3l1 .6 1.9-.6 .4-.9-2.3-2.3-.7 .8zM179.3 16.2l.7 .3 .6-1.1-.6-.4zM168 7l.8-.2 0-2.2-.9 .8zM141.4 .3l.7-.8-1.3-.9-.5 .9z" fill="#fad2d8" fill-rule="evenodd"/><path d="M3 64.8l1.2 .7 6.3-1.7 .3-1.5-.4-1.7 .7-2.5-.8-5.9-1.9-3.7-1.7-1.3-.4-1.2-1.4 .8-2.1-.4-1.4 1.3-1.4-1.9-2.4 1.4 .9 3.4-1.3 3.2 0 1.6 1.4 1.5 .4 2.9 .9 1.6 2.2 1.2zM55.8 64l5.8-.3 1.4-1.4 2.2 .1 1.3-1-1.6-1.6-.2-.9 .9-1.6-1.8-2.7-.8-.6-3.5 .3-2.1-1.8-2.8 .1-1.4-.9-.4 .5 .3 2.6-.6 .6-3.5-1.9-.9 .4-.5 1.4-.7-.2-.9-1.2 1.6-1.7 .1-.8-2.2-2.4-.7 .1-2.3 2.3-.2 .8 1.1 2.2 1.8 .4-.6 3.3 1.4 3.3 2.3 1.5 2.1-.1 1.4 .8 2.1-.3zM49 57.4l-.7-1.2 1 .2zM254 63.1l1 .2 0-16.9-5.8 2.5 2.1 1.7-.5 .8-1.8 .8-.2 .9 .7 3.3 3.4 2.5 .3 3.4zM157.1 56.4l9.6-.7 2.1 .8 3.5 .2 7-1.6 2.8 .5 1.4-1.7-1-.8-10.9-1.6-7 1.1-2.1-1-5.6-.2-2.1 .5-2.8-.6-1.4 .5-2.1 2.1-2.8-.7-2 1.6 1.3 .7 2.1-.1 1.4-1.3 3.5 1.8zM35.7 54.8l.7 .3 3.5-.7 1-2.2-.6-4.1 .7-2.6 1-.8 1.1 0 1 2.6 .4-2.6-3.2-5.3-2.8 1.9-5.6-1.9-.7-.1-1.4 1.4-1.7-.2-.5-.8 .4-1.7 .4-.5 1.9-.3-1.9-2.5-1.4-.7-3 4 2.5 1.7-2.3 2.5 1.2 3.3 .2 .6 .7-.7 .7 .1 4.2 2.7 1.4-.7 .7 .4-.6 1.8 .1 1.7 .5 2zM185 53.9l.6 .6 .7-.3 .5-.3-.2-.8-1-.4zM80 52.2l.6 .5 .9-.5 .9-6.7 1.7-4.1 .7-5.1 .9-1.6 .6-.9 2 .3 3.5-1.4 1.4-1.9 1.4 2 2.1 .4 1.3-1.9 .8-.3 .5 .3 .5 1.7 1.8 .5 1.9-1.4 .9-2.2 .9 .6 1.2 3.3 2.1 2.6 1.4 .4 2.8-1.5 2.8 1 1.4-1.8 2.1-1.2 1.4 .4 .5 1-.2 .8-1.2 .8 .9 1.1 1.4-.8 2.1 .9 3.5-2.1 0 1.9 .7 .2 2.1-1.7 2.8 1.1 2.1-1.9 1.4 .9 1.4-.4 1.4 1.2 3.5-1.3 .5 1.8 1.6 .2 1-.2 .4-2 4.2-1.1 2.1 .5 2.8-2.9 .8 .4 .2 .9-1 2.5 1.4-.4 3.2-2.1 .3-1 1.4 .5 1.8-2-.4-1.5-1.4-.2-.1-.8 .8-.4 .7 .9 1.4 .5 1.4 3.6 1.4 .8 1.1-1.3-1.2-4.1 0-2.6 .5-1.6 1-.9 1.6 .9 .9 3.3-.6 5 .5 2.6-1 5.2-9.8 1.8-2.1 1.3-1.4-.5-5.6 .6-2.1-.5-4.2 1.8-2.8-.6-1.4 .5-3.5-.3-3.3 1.5-1.6 1.5-1.4-.3-.8 .5 2.2 .5 2.1 2.5 2.8-1.2 2.8 1.1 2.8-.6 8.4 .2 4.2-1 1.4-1.3 3.5 1.2 2.8-.9 4.2 .2 4.2-.7 9.8 1.1 1.4 1.4 5.6-.4 4.1-1.2 1.6-3 2.1 .3 1.4-2.1 2.1 .1 2.1-1.5 1.4 .3-.7 2.5 .2 .8 1.2 .4 1.4-2.2 3.5-2 .7-2.9-8.4-2-1.4 .8-2.1-.5-.6-.8 .2-1.6 3.1-5.1-.6-.2-2.8 1.3-.7-.2-2.1-.9-.7-1.9-2.1-.8-1.4 1.1-4.3 0-2.1 1.2-2.8 .3-2.1-3.4-2 1 1.2 .9-.6 1.2-.8-.4-.6-1.3-2.5-.4-.1-1.7 2.6-.4 1-2.1-.2-.8-3.6 .4-1.3-2.9-.1-5-1.2-2.5-3-2-1.1 .3 0 1.7-1 1.6-2.1 1.3-.7 .2-.6-.6-.1-1.7 1.1-.8 .5-2.6-.7-2.5 .9-1.6-1.1-1.1-2.8 .1-2.1 1.3-2.1-2.7-2.8 2.4-1.4-1.5-2.1 .2-2.1-.5-.7 1.8-1.4 .1-.7-.6 .1-2.1-.8-.7-2.8 1.2-2-1.3-.2-.8-4.8-1.2-.7 .4-.7 1.5-2.8-.6-2.1-1.2-3.6 .2-.8 .9 .2 1.6-1.4 1-1.4-3.1-2.1 1.1-2.1-1.4-1.4 .9-2.8 .3-2.1-2.7-3.5-.8-1.4 1-3-.4-1.2 1.6-1.4 .6-1.4-1.3-.7 .1-3.8 5.7-.5 1.6-1.3 .9-2.1-.2 1.6 1.8-.2 2-.8 .6 .4 .8-2.4 2.2-.3 2-1.4 2.5 .2 1.7-.6 .5-2.1-.5-2.1 2.5 .7 2.7-1.2 1.5-1.5 5-1.2 1.7 2.3 2.5-1.2 .4-2.1-2-2.1 .3-.7 1.1-.4 2.7 .7 1.7-1 3.3 .7 2.6 .7 1.7 2.8 .8zM129.6 33.9l-.5-1.8 .5-1 1.3 1.9-.6 1.1zM180.7 32.2l0-1.1 1.6 .2-.2 1zM193.4 38.9l-.3-1.7 1-.4 .9 1.2-.1 .8zM233.3 51.4l1.4 .8 2.1-.2 4.2-1.2 1.4-1 2.1 .5 .7-.3-.3-2.8 1-.4 .5-1.3-.5-2.5-1.4-1.1-2.8 .8-4.2-1.8-2.1 .4-2.1-.6-4.9 .2-2.1-.5-.7 .2-.7 1.4-2.1-.5-2.1 2-2.8-1.8-1.4 .6-2.1-.2-1.4 .7-2.1-.2-2.8 1.3-.1 .8 .8 .9 3.5-.8 2.1 1.6 7-.3 1.4 1.5 4.2 1.8 3.5-.1zM62.2 45.5l1.6 .7 .7-1.5-2.7-3.3 1.6-1.7 .3-1.7-1.4-1.5-2.1 2-2.1 .9-1.1 2 .4 1.1 1.4-.6 1.1 .3 .4 .8-.8 1.9zM35.3 34.7l1.1 .2 2.1-.9 1.3-1.9-.2-1.6-1.8-.7-4.2 .7-.5 .8 .1 1.7zM222.8 34.7l.3-.9-1-.8-.1 .8zM218.5 33l.8 .4 2.8-.4 0-2.1 .7-.6 .7 1.7 .7 .1 1.4-2.5 2.1 1 1.4-.9 2.1 2.4 .7-.3 .7-2 .7-.2 1.4 .3 1.4 1.4 1.4-.6 1.4 .3 2.9-3 2-.7 1.4 .1 1.4-1.1 1.9 .8-.3 1.7 .5 .9 0-2.6 1.4-.8 2.1 .6 2.1-.4 .7 .3 0-9.9-2.8-.8-1.4-1.5-.7 .3-.7 1.8-1 .4-.6-2.5 .9-2.5-1.4-1.9-1.4-.4-1.6 .6 1.4 2.5-.1 .8-1.1 .9-1.4-1.5-1.9-.2 .1-1.7-1.7-.8-.7-.1-1.4 2-.5-1.9-3-1.1-1.4 .2-2.1 5.1-1.4 1.2-.7-.1-.6-2 1.8-2.5-.4-1.7-6.4 .1-.5-.9 .5-.8 2.1-1.1 1.4 .4 0-1-1.4-.2-2.1-1.7-2.1-.5-2.8 .9-1.4-3.3-.7 0-1.4 2-2.1-1.8-2.1-.1-.7 3.4-.7 .2-1.4-1.6-2.1-1.2-2.1 .4-2.1-1.1-2.8 .8-1.4-1.1-2.8 .2-2.1-1.6-2.1 0-.8 .4-.7 2.3-2.1 0-1.8 1.1 .6 5-.7 1.7 .2 .8 1.5 .9 .9 1.3 9.2 0 2.1-1.1 1.4-2.9 .7-.1 1 1.1 .9 2.5-1.2 2.9-2.8 .7-2.1 1.4-.2 .9 2.3 5.4 2.8-.3 1.4-.7 .5 .6-.1 1.6 1.1 1.7-.1 1.4-3.3 1.1 1.9 2 .7 .2 .3-.5 .4-2.1 .7-.3 2.4 .7 3.2-5 .7-.2 .6 3.6-1.1 1.6 .6 .9 1.3 .8 1.4-.8 .2-.9-1-2.5 .8-.1 1.4 1.3 .7 1.7 2.9 2.1zM232.6 25.7l-.5-1.9-3.9-.9 .2-1.7 2.8-.3 1.4 1.2 .1 1.7 .8 .8zM237.5 29.2l-.7-.4 .6-.8 .6 0zM241.7 20.4l-.7-1 1.1 .2zM204.6 11.3l-1.9-1.8-.2-.8 .2-2.5 .5-1.2 .7-.2 2.1 1.4 .2 .8 .1 3.4-.4 .8zM24.4 32.1l1.5-.1 1.4 1 .7-.3 .1-5.6 1.5-1.7 .6-2.5 1.3-.8 2-3.3-2-3.8-3.5-.6-2.1-1.2-2.8-.3-4.2 1.7-2.1 2.7-4.2 .2-4.2-1.2-5.6 2.1-1.4-2-2.1-1.2-2.1 .3 0 11.6 3.5 .2 .7-2 1.4-.3 3.5 3.2 3.5 1.2 2.1-.1 2.1 1.4 4.2-.2 5.2 .8zM195.4 16.2l.8 0-.7-.9zM172.3 12.9l.8-.8-.8-.5zM14 12.1l2.1 .2 .7-1.1 2.1-.9 1.1-1.6 1.2-4.2-3-2.2-2.1-.5-1.4-1.1-2.8 0-4.7 4.7-.7 .8 .2 .8 3.1 4.2 2.8-1z" fill="#f9c6cc" fill-rule="evenodd"/><path d="M3.6 64.8l.6 .3 5.4-1.1 .9-.9-.4-2.5 .5-2.5-.8-5.9-2.1-3.6-4.9-1.5-1.4 2.2-.7-.1-.2-2-1.2-.7-.9 .7-.1 .9 1.2 1.6 0 .9-1.7 4.2 1.2 1.6 .8 4.2 .9 1 1.7 .7zM51.9 63.1l1.1 0 1.6-1 2.1 1.5 4.9-.2 1-1.1-.3-2.7 .7-.2 .9 2 1.3 .4 .5-.4-.5-.8-1.3-.8 .2-3.4-1.1-1.2-1 .4-.4 .7-1.4-1.1-1.4 .1-.7-1.7-1.4-.7-1.4 1.4-1.4-1-.7 2.6-.7 .3-2.1-.4-1.4 2.3-2.1-1.8-.7 .1-.5 1.7 .8 3.3 1.8 1.2 2.1-.2zM254 62.3l1 .2 0-15-.7 .5-1.4 0-1.2 .9 1.4 2.5-3 .8-.8 .9 .8 3.3 2.9 1.7zM152.5 55.6l5.8 .6 8.4-.8 2.1 .8 2.8 .1 2.8-1.1 2.8 .1 2.1-1.1 1.4 .9 1.4-.1 .6-1.1-1.3-.4-2.1 .2-2.1-1.1-4.9-.6-4.9 .2-2.8 .9-1.4-.9-5.6-.5-2.8 .7-3.5-.5-1.3 1.2 0 .8zM145.4 54.8l1.7 0 0-.9-1.4-.1zM39.1 53.9l.8-.5 .4-1.2-.4-1.1-.8-.5 0-.9 1.3-4.2 1.1-1.6-.1-1.7-.8-1.3-2.1 .9-2.8-1.4-2.8-.3-2.8 1.1-2.1-.5-2 1.5 .6 1.7 2.8 2.2 2.8 1.2 1.4-.5 2.1 2.2 1.4-.4 .5 .3-.5 2.5-.7 .6-1.4-1.2-.3 1.4 1 1zM43.2 53.1l.9 .5 2.6-1.4 .3-.8-1.5-1.4-2.1 1.6-.4 .6zM234.6 51.4l2.2 .1 4.2-1.2 1.4-2.3 3.2-2.5-.6-2.5-1.2-.4-2.1 .5-4.2-1.7-2.1 .4-2.1-.8-4.9 .4-2.1-.4-1.4 1.5-2.1-.5-2.1 2.5-2.8-1.9-3.5 .4-.5 .9 .5 1.7 4.9 .3 1.4-.9 2.1 2.1 3.5 1 1.4 1 2.1-.5zM80.5 50.6l.1 .4 0-2.1 1-1.7 1.4-5-.3-1-1.4 1-1.1-.8 1.1-1.6 2.1-.7 .4-1.9-1.1-.6-1.4 1.8-1.4 .2-2.1-2.2-.7-.1-1.4 .9-.3 .8 .4 3.4-1.1 2.5 .1 1.6 1.6 2.8 3.5-.4 .7 1zM134.1 48.9l1.1 .5 2.1-1.1 2.1 1.3 3.5-.5 6.3 .4 5.6-1 2.1-1.5 2.8 1.2 4.9-.9 2.8 .3 2.1-.7 12.6 1 2.1 1.3 5.7-.7 1-.4 1.6-2.6 .2-2.1 3.5 1.2 1.4-1.8 2.1 .1 2.8-1.5 2.8 1.3 1.8-1.3 .5-1.7-3.7-1.6-2.1-.2-2.1 .6-3.4-1.3-.2-3.4 1-1.7-3.7-2.5-1.4-1.8-2.1 .9-5 .2-1.6 1.6-.2 1.6-1 .9-2.1-.7 0-2.7-1.4-.7-1.4 1-1.4-.2-1.4 1.7-2.8-.5-.6 8.8-.8 .7-9.8 1.5-2.1 1.4-1.4-.3-4.9 .5-2.1-.6-4.9 1.8-2.1-.4-2.1 .5-3.5-.3-3.2 1.9zM185.6 38.9l0-.9 .7-.4 1.2 .4-1.2 1.2zM193.4 39.7l-.8-2.5 .4-.9 1.1-.4 1.8 2.1-1.1 1.6zM210.3 43.9l.6 .4 .9-.4zM58.8 40.5l1.5 0-.8-.7zM61.8 38.8l.5 .9 .7-.8-.7-1.4zM26.3 38l1.7 .4 1.2-2.1-.5-1.3-1.4 .7zM123.2 36.3l.8 .2 1.4-1.6 2.8-.7 .7-3.7 .5 0 1.6 1.6 .3 2.6 1.1 1.6 .7 0 2.1-1.8 1.4 .6 1.4-.3 1.4 1.2 1.4 .1 2.8-2.3 .7 .9 0 1.3 2.1-1.9 1.4 .2 2.1-1.1 2.8 .5 2.8-2.5 .7 .1 1.4 2 1.4-.6 .7-1.7 1.4-1.1 .2-1.9 .6-.9 3.9 1.7 .4 2.5 .5 1.1 .7 .2 .5-1.3-1.4-3.3 .8-5.1 2.2-.6 1.4 .3 .7 .9 .2-.6-.9-7.6-1.4-2.2-1.9-1-.2-.9-.4 1.7-1 1.2-4.2 1.8-.3-3 1.5-2.5-1.2-4.7-1.4 .5-.7-.7-2.1 .8-2.1-2.4-2.8 2.5-1.1-.2-.6-1.7-3.2-.2-1.4 1.5-2.1 .5-.7-2.7-.7-.6-2.1 1-2.8-.7-2.1-2-2.8 1.3-5.6-1.8-2.7 3.7-.8 .2-.7-.7-2.1 .1-.7-2.1-.7-.3-1.4 1.2-2.1-1-.7 .3-1.4-.6-2.8 .6-1.3-2.7-1.5-.9-2.1 .2-1.4 1-2.8-.5-2.8 2.2-1.4-1.1-.7 .1-2.1 3.2-.7 2.3-2.8 2.7 .1 5-2.5 1.7 .3 2.1-2.3 1.3-.3 3.3-3-.4-1.5 2.1 .3 3.3-3.1 7.6 .4 .8 1.1 .6 1.4 0 2.1-1 1.4-1.5 2.8-.1 2.1-1.4 2.1-2.6 .9 .1 .5 2.5 1.4 .1 2.2-1.7 2-.5 .8 .5-.7 1.6 2 .4 1.1-1.2-.5-2.5 .8-.5 2.1 1.4 2.1-.6 .7 .5-.3 1.7-1.3 .8 .2 1.7 .7 .4 .9-1.2 1.2-.5 1.4-2 .6 1.6-1.7 1.7 .4 1.4 2.1-.5 2.1 .7 1.4-1.7 2.8-1 2.1 1zM128.9 29.3l-.7-1.5 .8 .2zM168.1 18.3l-1.1-2.1 .4-1.1 1.2 .3 .4 .8zM34.8 33.8l1.6 .7 1.4-.5 1.7-1.9-.3-1.3-1.4-.5-3.5 .3-.8 1.5zM219.4 31.3l1.3 .8 .7-.3 1.4-2.2 1.4 1.6 1.4-2.2 2.1 .3 .7-1.6 .7-.3 1.1 3.1 1 1 1.4-2.6 1.4 .2 2.1-1.8 2.1-.6 3.5 .5 2.8-.7 1.4-1.2 9.1 1 0-8.8-1.4-.6-2.1 .2-.7-1.1-.6 1.1-2.5 1.7-1.1-5-2.1 1.3-1.4-1.3-2.1-.4-1.4-1.7-2.1 1.7-2.7 .3 1.1-2.5-2.6-1.4-.9 .6-1.9 5-2.1 1.3-.9-1.3-.1-1.7 1.6-2.5-.1-.8-.5-.4-1.4 .7-4.2-.7-.9-2.1 2-.9 .2-.8-.6-.7-3.5-.7-2.1 1-1.4-.2-.4-.2 .5-2.6-.8-.5-1.4 2.1-2.1-2-1.4-.2-1.4 3.7-4.2-2.5-.2 1.1 1.6 1.7-.1 4.2-1.3 1.4-2.4-.6-.7 4.2 .6 1.7-.3 .6-.7 .1-2.1-1.1-1.4 .3-.7 .9-.5 1.7 1.1 3.3 4.9 0 .6 2.5 1.6 2.3 .7 .1 1.9-.7 2.1-3.3 2-.9 .6 .9-.9 1.6 .5 .9 .8-.7 .7 .4 1.8 2 1 1.9zM227 27.3l-.8-3.5 1-.9 .5-2.5 3.5-.4 2.8 3.3 1.4 .5 0 1.2-1.4 .1-1.4 1.2-.7-.2-.7-2-2.8-.2-.7 .7 0 2.5zM241 20.6l-.8-1 .4-.8 1.7 0 .1 1.7-.7 .4zM20.6 30.5l3.9-.1 2.8-1.9 1.2-4.7 3-2.5 1.3-2.5-.2-1.7-1.1-1.5-4.2-1-1.4-1-2.8-.4-4.2 2-1.4 2.2-1.4 .8-3.5-.2-3.5-1.1-4.2 1.1-1.4 1.4-.7-.1-1.4-1.8-2.8-1.8-1.4 .5 0 10.3 2.8 .3 .6-2.2 2.2-.3 3.5 3.2 3.5 1.5 2.1-.1 2.1 1.3 4.2-.2zM212.2 30.5l.9-.9-.8-.9-.9 .9zM172.2 28.8l.7 0-.6-1.2zM239.2 28.8l.4 .6 0-1.4zM174.4 23.8l.9 0-.2-.8zM193.3 12.9l4.3-1 1.6-3.2-1.1-2.5 .2-.9 1.2 .1 1.6 1.2 .9-1.2 .3-1.7-1.9-1-2.1 .3-2.1-1.3-2.8 .4-1.4-1.5-1.4-.2-1.3 .8-.9 2-2.8 .5-.6 2.5 .5 1.7 .8 .7 1.4 0 1 .9-.3 1.2-1 .5 .1 .9zM246.5 12.1l.3-.9-.9-.3-.3 .3zM14.4 11.2l4.5-1.7 1.5-5-5.7-3.2-2.8-.1-1.7 1.6-1.1 2.6-1.5 .8-.1 .8 2.3 3.3 2.8-.6z" fill="#f8b9c0" fill-rule="evenodd"/><path d="M3.3 64l.9 .7 5.6-1.3 .5-5.3-1.2-5.9-2.2-.8-.5-.8 .3-.9-.6-.8-2.6-.9-.7 .1-.8 1.6-1.6 .9-1.8 4.2 1 1.6 .7 4.2 2.5 1.6zM57.1 63.1l3.8 .1 1.3-.9-.3-2.5-1.7-3.5-2.8-.4-3.5 .5-1.4 .8-1.4-.7-2.1 2.1-2.1-1.2-.5 3.2 1.2 1.4 2.8 0 2.1 .9 2.1-1.6zM254.3 61.4l.7 .4 0-13.2-1.9 .3-.1 .8 1.1 1.7-4 1.4-.4 1.1 .4 1.7 3.4 2.5zM62.3 57.3l.7 .7 .6-.7-.6-1.1-.6 .2zM155.3 55.6l6.5 .2 4.2-.8 2.8 .9 3.5 0 2.8-2-.1-.8-2-.7-5.6 .1-2.8 1.3-1.4-1-1.4 .2-4.2-1-2.8 .8-2.8-.7-1.5 1 .1 .8 1.4 1.2zM177 54.8l1.1-.9-.9-.9-1.2 .9zM38.8 53.1l.6 0-.2-1.2-.7 .3zM234 50.6l2.8 .6 4.2-1.3 1.4-2.9 2.2-1.5 .2-1.6-1-.8-2.8 .2-3.5-1.7-2.1 .7-2.1-.9-7 .1-1.4 1.3-2.1-.3-.7 .5-.5 1.7 1.2 2 3.5 .8 1.4 1.2 2.1-.6zM138.4 48.9l1.7 .5 2.8-.7 6.3 .6 4.9-1 2.8-1.6 2.8 1.2 4.9-.8 2.8 .2 2.1-.9 4.2 .6 2.8-.3 2.8 .9 2.8-.2 2.1 1.4 2.1-.2 2.1-.8 1.5 .3 .7-.6 1.3-2 .1-2.5 4.2 .9 1.4-1.5 2.1 0 1.4-1.5 3.5-.2 .2-1-1.6-1.2-2.1 1-3.5-1.1-.7 0-2.1 1.7-2.1-.4-.3-3.4 1-.9 1.4-.3 1-3-3.8-3.6-2.1 .8-4.3-.1-1.4 1.3-.9 2.5-1.2 .3-2.1-.3-.7-3-.7-.2-2.1 .7-1.4 1.3-2.8-.2-.5 .5-.4 7.6-.7 .8-2.6 .3-1.4 .8-6.3 .6-2.1 1.4-1.4-.3-4.9 .7-2.1-.8-4.2 1.8-2.8-.3-1.4 .5-3.5-.4-1.4 1.5-1.4 .2-.7 .7 .7 1.5 1.1-.6 .3-.9zM185.6 39.3l-.3-1.3 .3-.5 2.4-.3 .3 .8-.8 .8-1.2 .7zM-1 48.1l.3 .5 .7-.2 0-1-.7-.3zM35.6 48.1l3.4-.9 .4-.8-.5-1.7 1.2-2.5-2.3-.2-2.1-1.3-2.8-.2-2.8 1-2.1 0-1.1 .7-.1 .8 2.6 2.7 2.1 1.1 2.1-.4zM75.5 46.4l.9 .7 .7-.2 2.1-1.9 1.4 .9 .7-.1 1-1.9-.3-1-2.2-.7-.4-.8 .4-1.7-2-2.6-.7-.1-.8 1-.3 4.2-1 2.2zM216 44.7l2.6 .8 1.2-.8-1.9-1.4-2.5 .6zM81.2 35.5l3.6-1.1 1.4-1.1 2.8-.2 3-3.5 1.2-.5 .7-.2 .7 .7 .7 2 3.5-1.9 2.8-.7 2.1-1.9 1.7 1.7 3.2-.1 .7 2.8 2.1-1.5 .6 .5 .6 2.5-.5 .9 2.1 .3 1.7-2.1 3.2 .1 2.5 .8 .8 1.7 .9 .6 2.1-2.3 1.4 1.1 1.4-.8 0-6.3 1.2 1 3.1 7.5 2.7-1.4 1.4 .3 1.4-.4 1.5 1.5 1.3 .3 2.1-2.4 4.9 .1 1.4-1.4 3.5 .7 2.8-2.1 .7 .1 1.4 1.6 .7 0 1-1.9 1.2-.9 .4-1.6 .9-1.2 2.8 1.1 1.4-.6 .3-1.9-1-2 .7 0 1.4-1.5 3-.6-.2-4.1-2.8 2.5-1.4-4-.7-.3-2.8 1-1.3-.2 0-3.3 1.2-1.7-.1-1.7-1.2-2-4.2-1.1-1.4-1.5-1.4 1.7-2.1 .4-1.1-.8-.3-1-2.8 .1-1.2 .9-1.6 .3-1.4 2.3-.7-4.5-1.4 .2-.7 1.9-.6-1.9-2.9-.6-1.4-1.9-2.8 1.3-5.6-1.5-2.8 3.3-.7 0-1.4-.6-1.4 .2-1.4-2.1-1.4 1-2.8-.4-1.4-1.3-2.8 .8-1.8-3.2-1-.5-2.1 .4-1.4 .9-2.1-.7-3.5 2.5-1.4-.8-2.1 1.9-.7 3.2-3 2.3 .2 5-2.3 1.7-.5 3.1-1.4 .2-.7 .9 0 2.5-.7 .6-2.8-.6-.8 .8-.4 1.7 .4 2.5-2.8 7.6zM138 30.8l-.3-1.2 1-.9 .7 .7-.2 1.1-.5 .8zM35.6 33.8l2.2-.3 1.3-1.4 0-.8-1.3-.5-3.5 .2-.4 1.1zM101.9 31.3l.8 0-.4-.5zM220.4 31.3l1-.4 1.4-1.9 1.4 .4 2.2-1.4-.4-2.6-1.1-1.6 .7-2.5 2.1-2.3 1.4 .8 2.1-.3 2.8 2.7 .8-.1 .6-1.3 1.5 .5-.8 2.5 0 1.6 .7 .9 2.1-.9 1.4-2.2 .7 .2 .4 .4-.5 2.5 .8 .2 2.1-.4 1.4-2.1 2.1 1.2 2.8-.3 2.1 1 2.8-.1 0-7.8-2.1-.5-3.5 1.3-.5 .8 1.9 2.5 0 .8-.7 .3-1.4-2.9-2.2-1.5 .5-1.7-.4-2.1-2.8 .5-.7-.9-3.5-1.6-2.1 1.1-2.8 .5-.8-.9 .8-2.5-1.4-1-2 5.2-2.9 2.4-1.5-2.4 .3-3.3-.8-.9-3.6-.8-.7-.7-1.1-3.5-1-.6-1.4 1.2-4.2-.8-2.1 .4-.4-.2 1.3-1.7-.9-1.4-1-.3-.9 1.7 .7 2.5-.9 .2-2.1-1.1-.7 .2-.8 4.9-1.3 1-1.4-.1-1.1 2.5 .4 2.8-1.4 1-2.1-1.2-1.4 .6-.5 1.8 .5 1.9 .7 .9 2.8-.3 1.4 .5 1 1.2 .3 1.6 .8 .3 .7-1.6 2.1 .9 2.4-2.1 1.8-.4 .8 .4 .8 2.5 1.9 1.8 1 2.4 1.1 .6 .7-.2zM234 19.9l0-1.5 .7 1.2zM241.7 21.4l-2-1-.1-.8 .7-1.1 2.1-.4 .7 1.5zM215.1 23.4l-.4-1.3 1.1-.7 .8 .7 .1 .8zM218.6 29l-2-1.9 2-1.8 .9 1.8-.2 1.3zM230.9 30.5l.3 .2 .3-1.1-.3-1.9-.7 .3-.2 .8zM13.5 29.6l2.6 .4 2.8-.4 3.5 .6 4.2-1.7 .8-1.4 0-3.3 1.6-1.7 1.8-.8 1.5-2.5 .2-.9-.9-1.7-5.7-2.2-2.8-.4-4.2 2-2.3 3.2 .9 2.8-1.6-1.2-.8-1.6-5.3-1.3-5.1 1.3-1.2 3.6-1-2.8-1.1-1.4-2.8-1.8-1.4 .5 0 9 2.1 .2 .6-1.5 2.9-.8 3.8 3.3 3.2 1.5 2.1-.1zM232.1 28l1.9 .5 1.9-2.2-1.9-.6-1.9 1.4zM228.7 26.3l1.8 .5 .5-.5-.1-1.7-1.1-.4-1.4 .4zM192.7 12.1l1.4 .4 3.5-1.6 .7-2.2-.7-2.5 .7-2 .7-.1 1.4 .8 .8-.4-.8-.9-2.1 0-2.1-1.5-2.8 .7-1.4-1.7-1.4-.4-.9 .5-.6 2-2.8 .5-.7 .8-.2 1.7 .9 1.6 2.4 .9 .5 .8-.1 1.7 1.5 .8zM9.7 9.5l2.9-.1 1.4 .7 1.4-.7 2.5 .1 1.1-.8 .3-3.3-2.5-2.6-2.1-1-2.8-.1-1.1 1.1-1.9 4.2 .1 1.7z" fill="#f7acb4" fill-rule="evenodd"/><path d="M3.8 64l.4 .3 4.9-1 .6-1 .3-4.2-1.2-4.2-3.1-2.5-.8-2.2-.7 .1-.7 1-2.8 .7-1.3 2.9 .8 2.5 .2 3.4 2.4 1.8zM3.5 53.2l-.7-1 .7-1.5 .8 1.5zM51.4 62.3l1.1 .3 1.4-1.5 .7-.1 3.5 1.7 2.8 .2 .9-.6 0-1.7-2.3-3.7-4.9-.1-2.1 1.3-1.4-.8-1.4 1.6-.7 .2-1.4-.9-.6 .7-.3 1.7 .9 1.1 2.8 0zM254.7 60.6l.3 .4 0-9.3-4.2 1.3-.6 .9 .6 1.6 2.8 2zM156.4 55.6l1.9 .1 1.4-.5 2.1 .3 2.4-.7-1-1.4-2.1 0-3.5-1.1-2.8 1.2-2.1-1-1.7 .6 1 1.6 2.1 0zM168.8 55.6l3.5-.1 1.9-1.6-.2-.8-1.7-.3-2.1 .5-2.1-.7-2.6 1.3zM234.9 50.6l1.9 .3 3.8-1.2 1.7-3.3 1.8-.9 0-1.6-3.1-.2-3.5-1.8-2.1 .9-2.1-1.1-4.9 .5-1.4-.3-2.1 1.2-2.1-.2-.6 1 .1 1.6 .6 .9 3.4 .5 1.4 1.3 1.1-.1 .7-.9-.6-.8 .9-1 .5 2.7zM138.9 48.9l1.9 .3 2.1-1 1.4 .6 7 0 2.8-.9 2.1-1.5 3.5 1.3 7.7-.7 1.3-.6 .1-2.6 .7 .1 .7 2.4 3.5 .5 2.8-.6 2.8 1.1 2.8-.3 2.8 1.5 2.1-.4 1.4-1 1.5 .2 1.4-1.8 .1-2.5 .6-.5 3.5 1 2.1-1.6 1.5 .3 1.2-1.7-2.7-1.5-2.1 1.3-2.8 .1-.7-4.1 .7-1 1.5-.6 1-2.6-3.2-2.9-2.1 .7-2.9-.5-2 1.1-1.5 3.1-3.5-.2-1.4-2.6-2.1 .4-1.4 1.2-2.1-.3-.7 .9-.9 7.5-1.9 .7-1.4-.1-1.4 .9-2.1-.3-4.2 .6-2.1 1.6-2.1-.3-4.2 .8-2.1-.9-2.1 1.5-2.1 .3-2.8-.1-1.4 .5-2.8-.7-1.2 .5-.2 .9zM182.1 37.2l.7-.6 .6 .6-.6 .5zM185.6 39.7l-.8-1.7 .6-.8 2.3-.5 1.3 .5 0 .8-2 1.6zM35.1 47.2l1.3 .5 1.9-1.3 .5-3.4-2.4-1.8-3.5-.4-4.6 1.4-.5 .8 2.3 2.9 1.4 .5 2.1-.3zM76.3 46.4l.8-.1 2.6-2.4-1.2-4.4-.7-.1-1.1 1.1-1.3 3.4 .1 1.6zM80.2 43.9l1.1 .8 0-1zM202.2 39.7l1 .6 .6-.6-.6-.6zM132.9 34.7l4.8-1.7-.4-3.4 1.4-1.6 1.1 .8 0 3.3-.8 1.7 1.1 1.7 1.4-.8 .7-1.5 2.1-.8 1.4 .4 2.1-2 2.8 .6 1.4-.8 1.4 .3 2.8-.7 1.4 1.1 2.1-1.7 1.3-2.5 .8-.6 2.1 .9 1.5-.3 .3-1.7-1.7-1.6-.1-1.7-.7-.5-1.4 1.2-.7-.6 1.3-1.8 .8-3.3 2.1 4.7 .7 .3 1-.8-1-4.7-1.4-.4-2.1 .9-1.9-.9 1.2-6.3-4.9-3.1-.7-.1-1.4 .8-2.8-.2-2.1-1.1-1.4-.1-3.5 .8-.7 3-2.8-1.1-2.1-3.8-1.4-.6-1.4 .2-.7-1.6-.6-.2-2.2 1-4.9-1.6-3.4 3.2-.8 .1-2.8-.4-1.4-1.8-1.4 .9-2.8-.4-1.4-1.6-2.8 .8-2.8-3.6-2.1 .5-.7 1.1-2.8-1-3.5 2.6-2.1 0-1.4 1.1-.6 3.3-2.2 1.3-.7 1.2 .3 4.2-2.1 1.7-.5 2.5-.5 1.1-1.4 .9-.4 2.2-1 1-2.8-.6-.7 1.1 .2 4.4 .7 .8-.9 .9-2 4.1 .6 .7 7-1.9 2.4-3 2.5-1.1 .7 .2 .7 1.7 .7 .2 4.9-2 2.1-2.3 1.4-.2 2.1-1.4 .3 .7-.9 2.6 2.7 0 1.4 2.2 1.4-.8 .7 .3 1.4 3.2 .7 .1 1.4-2 1.4 .9 3.5 .4 .7 0 1.4-1.3 .5 1.1-.2 1.7 .4 .3 2.1-1.9 1.4 1.3 1-.5 .4-1.7-.6-3.3 .6-1.3 .7 .1zM153.4 27.2l-.3-.9 1.1 0 0 .8zM114.9 29.6l-1.8-.8 .8-.8 1.4 0 .3 .8zM130.3 4.9l0-.6 .7-.1 0 .8zM34.9 33l.8 .5 1.4-.1 1.4-1.1 0-.6-3.5-.7-.7 1.1zM219.8 30.5l.9 .5 2.1-2.8 2.1 0 1-1.1-.4-1.7-.6-.4-1.4 .5-.4-.9 4.3-6.7-1.1-1.7-.2-4.1-3.8-1.7-1.6-1.8-.7 1.8-1.1 0-.5-2.5-2.6-1.1-1.4-.1-3.5 1.2-2.8-1.1-1.2 4.4-.9 1.1-1.5 .6-1.1 1.7-.1 3.3-2.1 1.7 .5 1.7 2.9 1.9 3.5 1.1 3.1-2.2 2.5 .5 1.4-1.7 .7 .1 2.1 2.5 1.8 1.1 .3 2.5-.6 2.5zM14.4 29.6l1.7 .2 2.8-.6 3.5 .6 4.2-1.8 .4-2.6-1.2-1.6 4.9-3.4 1.4-2.5-.6-1.2-5.6-2.2-3.5-.4-3.5 1.9-1.6 2.8 1.5 3.3-.6 .7-3.8-3.2-3.9-1.4-3.5 .4-2.1 1-.1 1.7-1 1.6 .4 1.3 2.8 2.7 2.8 1.4 2.1-.2zM21.7 23l.7-.6 .4 .5zM233.2 27.1l.8 .7 .8-.7 0-.8-.8-.1zM214.7 25.4l.4 .8 .7-.2 1.3-.6 .3-.8-.9-.6-1.7 .6zM242.3 25.4l1 0 .7-1.6 1.2-.8 2.1 1.7 1.4-.1 1-.8-1.7-3.4-2.1-.8 .7-2.5-.7-1.7-2.6 1.7 .2 2.5-1.1 2-.7 .3-1.4-.3-.4 .5 2.4 1.7zM252.1 25.4l2.9-.2 0-6.7-2.1-.4-2.8 1.5 1.4 3.3-.6 1.7zM-2.7 24.6l.6 .8 .7 0 4.3-2.5-.4-2.5-1.1-1.7-3.5-1.6-.7 .4zM236.7 24.6l.8 .6 .7-.4 .7-1 0-1.1-.7-.4-.7 .3zM168 20.4l1.5 .3 .1-1.1zM236.7 20.4l1.5 .4 1.4-2.2 2.7-1.5 .4-1.7-3.1-1.5-2.1 1.4-3.5-.4-.9-1.2 .9-1.6-.1-.9-.6-.2-1.4 4.6-2.2 1.5-.5 1.7 3.4 .9 .7-1.9 2.1-.1 .7-1.8 1.4-.4 .7 .2 0 1.6-2.5 .6-.3 .8 .1 .9zM198.6 19.6l1.1 .7 1.1-.7 .1-.8-.7-.9-1.2-.1zM190.5 11.2l1.5-.6 2.1 1.3 3.2-4 .2-4.2-1.3-1.3-3.5 .8-1.4 2.1-.8-.8 .2-.8 1.6-.9-.3-1-1.4-.8-.9 1-.2 1.7-2.5 .1-1 .7-.3 1.7 .5 .8 2.2 1zM9.8 8.7l4.2 .8 1.4-.7 2.1 .6 1-.7 .2-2.5-2.5-3.4-1.5-.6-2.8 0-2.4 4.8zM142.2 7.9l.9-1.7-.9-1.3-.6 2.1zM211.2 5.4l1.3-.9-.9-1.2-.8 1.2z" fill="#f6a0a8" fill-rule="evenodd"/><path d="M3.8 63.1l.4 .7 1.4-1 2.1 .3 1.4-.7 .5-4.3-1.3-1.7 .1-1.6-.7-1.3-2.8-1.4-1.4 1.5-1.1-.5-.1-1.7-.9-.3-.7 1-.5 2.7 1.2 5 .7-1.8zM6.3 57.5l0-.5 .6 .3zM58.5 62.3l2.4 .3 .7-1.2-.3-1.6-1.8-2.2-4.2-.5-2.8 1.6-1.4-.9-.7 .4-.7 1.9-2.1-1.3-.6 1 0 .8 1.3 1.1 2.1-.5 2.1 1 1.4-1.6zM254.5 58.1l.5 .8 0-6.7-3.7 1.7 .1 .9zM155.5 54.8l2.1 .7 2.1-.9 2.1 .5 1.5-.3-.8-.8-2.1-.2-2.8-1.3-1.4 .6zM167.3 54.8l1.5 .5 3.5-.3 1.2-1.1-.5-.8-2.1 1-2.8-1.3-1.9 1.1zM151.7 53.9l1 .5 .9-.5-.9-.9-.9 .1zM236.6 50.6l4.4-1.6 .7-3.1 1.7-.4 .4-1.1-2.1 .2-4.2-2.4-2.1 1-2.1-1.2-4.2 .7-2.1-.5-4.5 1.7 .1 1.6 .9 .9 4.2-.1 2.1-1.2 .5 .4 0 1.7 .9 1.2 2.2 .5 2 1.4zM139.7 48.9l1.8-.2 1.4-1.3 1.4 1.1 4.2 .4 3.5-.4 2.1-.9 1.4-1.6 4.2 1.4 7.7-.6 .9-.4 .5-3.2 .7 .1 .6 2.2 .8 .7 3.5 .4 2.1-1 2.1 1.4 3.5-.4 2.1 1.5 2.1-.1 3.6-1.5 .8-1 .6-3.7 2.1 .1 2.1 1.2 1-.9 .2-.8-.5-.5-3.5 .2-.9-1.4 .1-4.2 2.2-1.4 .6-2-3.4-1.9-.7 .5-3.6-.9-2 1.5-1.5 3.3-3.5-.7-2.1-2.1-1.4 .3-1 .9 .6 .8-1 .2-.2 .7-.7 0-.4-1.7-.8 0 0 1.7-1.1 2.5 .2 3.3-2.6 1.2-1.4-.3-1.4 1.1-2.1-.6-4.2 .6-2.1 1.6-2.1-.2-1.4 .7-2.9 .1-2-1-2.8 3.1-2.1-1.1-2.8 .5-3.5-.9-1 1.1 .2 .8 .8 1.3zM185.6 40l-1.4-1.9-2.1-.2 0-1.5 1.4-.6 .7 1.3 4.9-.7 .4 .8-.4 1.6zM35.6 47.2l1.5-.2 .7-.6 .5-2.5-.1-.9-1.8-1.5-4.2-.4-3.5 1.9 .5 1.7 .9 1 1.4 .5 2.1-.4zM227.4 47.2l1 .4 .2-.4-.9-.8zM76 45.5l1.1 .3 1.7-1.9-1-3.4-1.9 3.4zM197.7 41.4l1.4 0-.3-.9-1.2-.4-.5 .4zM139.8 34.7l1 .3 .6-2 2.9-1.9 1.4 .7 1.4-1.5 2.8 .3 2.1-.7 7.7-1.1 1.4-2.3 1.4-.5 2.2 1.1 .6-.8-.4-.9-2.4-1.6-2.1 0-.5-2.5-2-.9 .4-1.1 2.8 1.5 .9-2 .1-.9-2.4-1.6 1.7-5.9-1-1.1-3.5-2-2.1 .8-7-1.4-2.4 .3-.4 2.9-1.4 .6-2.4-1-2.5-4.4-.7-.2-1.4 .9-1.4-2.1-2.8 .5-1.4 1.5-.7-.1-.5-2.8-.9-.2-4.2 3-2.8-.1-.8-.1-1.3-1.4-1.4 1.1-1.4-.8-1.4-.1-1.4-1.7-2.8 .8-2.8-3.4-1.9 .4-.9 1.9-1.4-1.4-1.4-.4-3.5 2.6-2.1 0-1.1 .7-.4 3.3-3 2.5 .3 4.2-2.1 1.7-.7 2.8-2.3 3.9-1.2 1.2-2.1-.6-1.2 1.1 .3 3.3 1.1 1.7-1.6 2.5 0 1.3 .7 .7 4.8-1.2 1.8-2.5 3.2-1.5 .7 .1 1.4 1.5 3-.9 1.9-.8 1.4-2.6 1.4 .4 2.8-1.6 .9 .4-.7 2.5 1.2 .5 1.4-.6 .7 2 4.9-1.8 1 .8 .1 2.5 1 .9 4.2 .5 1.4-1.5 1.4 1.6 1.4-.4 1.4 1.2 1-.7-.3-5 .7-.7 .7 0 1 .7 1.9 5 1.3 2 3.5-1.1 .6-.9-.3-3.3 1.8-1.5 1.6 1.5-.2 1.8 .5 1.5-1 1.7zM143.6 24.3l0-.8 .8 .3zM147.8 27.5l-.3-.4 .3-.5 .4 .5zM149.2 10.8l-.4-1.3 1.1-.9 .6 1.8-.6 .6zM152.7 27.6l-1-1.3 .3-.8 2.8 .8-.7 1.4zM122.6 13.3l-.4-.4 .6-.8 1.4 0-.2 1.3zM126.8 8.7l-.1-1.7 .8-.1 0 1.6zM134.5 17.3l-.7-1.4 1 .3zM139.4 11.5l-.1-1.1 1.1 0-.2 .8zM35.5 33l.9 .2 1.3-1.1-1.3-.8-1.4 0-.4 .8zM113.1 31.3l1.1 .8 .5-1.6-1.2-.7-.6 .7zM220.7 30.5l1.9-3.4-.5-2.5 2.1-2.5-1.5-1.7 .8-.4 1.4 .1 .5-.5 0-6.7-4-2.8-1.4 .8-1.4-.3-.7-2.4-2.1-.9-2.1 0-2.1 1.7-2.8-1.1-.7 .3-.8 3-2.9 3.4-.7 3.3-1.7 1.7 .5 1.7 1.4 1.1 4.2 1.4 2.8-1.9 2.8 0 1.4-1.5 .7 .2 2.8 2.7 2.6 1.3-1.3 5zM206.7 15.3l-.7-.7 .3-.9 1.1-.1 .6 1zM208.8 19.1l0-.7 .7-.5 0 1.3zM13.1 28.8l2.3 .8 3.5-.8 2.8 .5 4.2-1.3 .8-.9-.1-1.5-1.4-.5-1-1.3 5.8-3.4 1.5-2 0-.9-.7-.7-1.4 .2-.3-.8-3.2-1.2-3.5-.6-3.3 1.8-1.3 2.6 0 .8 1.6 2.5-.5 1.2-1.4-.1-2.8-2.4-1.4 .1-.6-1.3-2.2-.8-3.5 .2-1.1 .6-.3 1.7 1 1.6-.9 1.7 .6 1.2 3.5 2.1 2.1-.3zM21.7 23.8l-.6-.9 .4-.8 2 0 .3 .9-1 .8zM223.1 27.1l1.8 .5 .6-1.3-.6-.7-.7 .3zM251.6 24.6l1.3 .7 2.1-.9 0-5.4-2.1-.4-2 1 1.4 3.3zM-2.7 23.8l1.3 .8 3.9-1.7-.3-2.5-1.5-1.8-2.8-.6-.7 .4zM4.5 23.8l.9 0-.5-1.3zM246.4 23.8l1.6 .6 1-.6-.1-1.7-1.6-1.6-.7 .1-1.2 1.5zM242.8 22.9l1 .3 1.2-1.1-.3-2.5 1.5-2.5-.3-1-1.7 1 0 2.5-1.7 2.5zM165.3 20.4l.7-.3 .3-1.3-.3-1.5-.7-.5-.9 1.1zM236.4 19.6l1.8 .3 1.4-1.9 1.8-.9 .4-1.7-2.2-.3-.9 2.8-2.6 .9zM229.8 17.9l.7 .6 1.4 .1 .7-1.5-2.1-.2zM232.4 16.2l.2 .9 2.1-.2 .4-.7-1.8-.9zM192.8 10.4l1.3 .8 2.8-3.5 .4-3.2-.9-1.7-1.6-.1-2.1 1.3-1.4 1.8-.7 0-.9-1.3-2-.4-1.3 .4-.1 2 2.1 1 2.2 2.3 1.4-.4zM11 8.7l3 .5 1.4-.8 1.4 .7 1.3-.4 .1-2.3-1.5-2.7-2-1.1-2.8 .1-2 4.3 .1 .9zM190.2 2.8l1 0 .4-.8-1-.5z" fill="#f5949c" fill-rule="evenodd"/><path d="M4.2 62.3l.1-.9 1.3-.6 1.4 1.8 1.4-.2 .9-2.6-.1-1.7-.8-.6-2.1 .6-.7-.5 .7-1.2 1.4-.4 .3-1.2-1-1.4-1.4-.7-2.1 1.3-2.1-.6-.5 1.4 .5 1.7 1.4 1.5zM60.1 62.3l.8-.1 .4-1.6-2.2-2.5-3.8-.6-1.4 .6-.5 1.7 .5 .4zM48.3 61.4l1.2-.8-1.2-1.2-.7-.1-.3 1.3zM51.1 61.4l1.4 .4 .6-1.2-.1-.8-1.9-1.4-.6 1.4zM254.6 57.3l.4 .5 0-5.2-2.3 1.3-.3 .9zM156 54.8l2.3 .3 .9-1.2-.9-.8-1.4-.2-.9 1zM167.9 54.8l1.6 .1 .3-1-1.9-.8-1 .8zM235.1 49.7l1.7 .5 3.5-.9 .8-1.2 0-3.4-3.6-2.3-2.1 1.2-2.1-1.3-4.2 1-2.1-.8-4 1.4-.2 1 .7 1.1 2.8-.2 3.5-1.1 .8 .8 .5 2.6 2.9 .3zM138.6 48.1l2.2 .6 1-.6 .1-.9-1.8-1.6-1.4-.1-.7 .9zM143.9 48.1l1.6 0 .1-1.7-1.3-.4-1.1 .4zM147 48.1l1.5 .6 3.5-.4 2.1-1.1 .5-1.7-4.7-1.4zM183.5 47.2l.7 .6 1.4 0 4.5-2.3 .5-1.6-.5-2.5 1.2-1.7 0-2.9-.7-.3-.7 2.5-.8 .5-3.5 .8-1.4-1.5-2.4-.8-.3-.8 1.1-2.5-2.6-.4-1.4-1.6-1.2 .3-.3 1.7-4.1 .8-.8 1.7 .6 3.3-3.3 1.7 1 3.3 3.2 .9 3.5-1.1 1.4 1.5 2.8-.7zM173.7 39.8l-.5-.1 .3-.9 .9-.2 .3 1.1zM34.6 46.4l1.1 .6 1.7-.6 .7-2.5-1.7-2.2-4.2-.3-3 1.6-.1 .9 1 1.5 1.4 .6 2.1-.5zM157.9 46.4l1.8 .8 8-.8 .6-.9-.8-1.6 1.3-1.7-1.3 0-.5 .8 .4 .9-.7 .4-.1-1.3-2-.9-4.2 .6-2.1 1.6-2.7 .4 .1 .8zM76.3 44.7l.8 .4 1.2-1.2-.5-2.1zM194.4 42.2l1.5 0-.4-.9-1 .1zM184.6 35.5l1.7 .8 2.1-.3 1.5-1.4 1.5 .1-2.2-4.2-2.2-.4-1.9 2zM192 33.8l1.4 0 .7-.5 .1-1.2-.8-.4-1.4 .3zM132.5 33l1.3 .4 2.8-1.1 .1-1.8-.7-2.5 2.7-1.2 2 2 .1 2.7 1.4 .5 2.1-2 5.2-.4-.5-.8-1.9-1 0-1.7 1.2 .2 3 2.8 4.9-.4 2.1-1.4 1.4 .1 1.4-1.4 1.4-.6-.7-1.1-2.1 .9-.7-.3 .6-2.8-2-.8-.2-.9 .2-1.4 1.2-1.9-.1-2.5 1.7-.9 .4-3.3-3.9-2.8-2.1 .8-3.5-.5-.7 .8 .3 1.7-1 1.1-2.8-.2-1.4-.8-2.1 .6-2.1-.4-2.1 1.3-.9-.8 .1-.8 1.7-.9 .2-.8-2.5-3.4-.7 2.2-.7 0-1.4-3-.7-.2-2.1 .5-1.4 1.4-.7-.2-1.4-2.8-2.1 .9-2.1 1.7-3.5-.1-1.4-1.1-1.4 1.9-1.4-1.7-1.5-.3-1.3-1.7-2.1 .8-1.4-.4-2.1-2.6-1.4 0-.7 2.5-2.1-2-1.4-.3-3.5 2.6-2.9 .3-.5 .8 .1 2.5-1.4 1.7-.1 1.7-1.1 1.7-.4 2.2-1.7 1.1-1.1 3.3-2.1 3.6-1.4 1.3-2.1-.6-.9 .8 .3 3.3 1.1 1.7-1.4 2.5 0 .8 .9 .7 3.3-.7 .9-.8 .7-1.8 4.2-1.8 2.1 .7 .7-.4 2.1 .4 .9-.4 2.6-3.4 1.4 .7 2.1-1.5 2.1 .5 2.1-1.3 1 .8-1.6 1.6 .6 1.6 .7 .4 4.9-.4 1.2 1.8 .2 2 3.5 .9 .7-.1 1.4-1.8 1.4 1.2 2.1 .3 .7 .8 .7-.3-.2-4.7 .9-1 1.2 .2 1.1 .8zM133.8 17.3l0-1.9 .7 0 .5 1.7-.5 .6zM143.6 24.9l-.8-1.1 .8-.9 1.1 .9-.1 .8zM152 28l-1-2.6 1-2.5 .3 1.7 2.5 1.2 .5 1.3-1.2 1.6-1.4 .1zM121.9 14l-.7-1.1 .4-.8 3.1-1.1 .9 1.9-1.6 1.1zM126.1 9.3l.3-2.3 .4-.6 .7 0 .8 2.3-.8 .6zM130.3 22.4l-.5-.3 1 0zM35 32.1l.7 .6 1.1-.6-1.1-.5zM220.5 29.6l.9-.7 0-.8-.7 .3zM13.6 28.8l2.5 .6 2.1-1.1 2.8 .5 .7-.7 3.5-.4 1-.6 .1-.8-1.1-.3-1.4-1.7-2.1-.1-1.4-1.1-.7 .7-2.1 0-2.8-2.4-2.1 .5-.4-1.5-1-.8-3.5-.4-1.2 .4-.6 .8 1 2.5-.4 2.5 4 2.3 1.2-.6 .2-1.3 .1 1.3zM107.6 26.3l.3 .7 1.2-1.6-.5-.4zM163.7 26.3l1 0-.8-.7zM252.3 24.6l1.3 .1 .7-1.2 .7 .2 0-4.2-2.1-.3-1.3 .4 .1 1.7 1.9 .8 .1 .8-1.3 .9zM-2.3 23.8l.9 .5 3.5-1.4 .1-1.6-.8-1.7-1.4-.6-2.8 .5 0 3.8zM246.9 23.8l1.1 .2 .9-1.1-1.6-1.8-1.2 1zM206.2 22.9l1.9 .5 2.8-1.8 2.8-.2 1.4-1.3 4.9 3.5 2.8-.5 .4-1-.9-1.7 2-1.6 .7-2.6-.4-3.3-1.8-1.6-4.2-.4-.7-.5-.2-1.7-1.9-1-2.4 .2-1.1 1.9-3.5-1.1-1.9 4.2 1.2 .6 0 1.4-1.4 .8-1.4-.2-2.5 4.1 1.1 2.4zM208.8 19.7l-.5-.9 .4-.9 1.4 0-.6 1.9zM20 22.1l.3 .7 .5-.7 2.3-.8 1.4 1.2 1.4 .1 3.5-2.2 .4-1.6-1.8-2.9-4.9-1.4-.7 .2-3 1.5-1 2.6-.1 .8zM243 22.1l.8 .5 .7-1.4-.7-.6zM165.3 19.6l.5-.8-.5-1.2-.4 1.2zM159.7 18.8l1.4 .5 .2-1.4-.9-.2zM239.9 16.2l.4 .7 .8-.7-.8-.3zM193.7 10.4l.5 0 .8-1.7 1.8-1.7 .2-2.5-.8-1.5-1.4 .1-4.2 3.7-1.5-1.9-2.2-.4-.5 .9 .3 .8 3.9 2.5 1.4 0zM147.6 9.5l.9-.4 .5-1.2-1.2-.7-2.1 .1-.3 .6 .3 1.5zM12.9 8.7l1.1 .2 1.4-.8 2.2 .6 .4-1.7-1.5-1.6-.4-1.8-3.5-.7-1.1 .8-1.1 2.5 0 1.7z" fill="#f48791" fill-rule="evenodd"/><path d="M6.8 61.4l.9 .9 .7-.6 .7-2.8-1.4-1.1-2.1 .8-.4-.5 .4-1.4 1.8-1.1-.4-1.7-1.4-.6-1.4 .9-2.1-.2-.7 .5 0 1.1 1.5 1.7 .6 2.1 .7 .8 1.4 0zM51.7 61.4l.5 0 .5-.8-1.6-1.7-.1 1.7zM59.6 61.4l1.3 .2 0-1.2-2.8-2.2-3.5-.3-.8 1 .8 1.3zM47.6 60.6l.7 .4 .6-.4-.6-.8-.7 .2zM254.7 56.4l.3 .5 0-3.9-1.6 1.8zM156.6 54.8l1.6 0 .4-.9-.9-.8-.8 .1-.5 .7zM168.7 54.8l.6-.9-.5-.4-1.4 .4zM235.9 49.7l4.5-.8 .6-1.7-.3-2.5-3.2-2.1-.7 0-1.4 1.3-2.1-1.3-3.5 1.3 1 1.6 .4 2.3 2.8 .2zM139 48.1l1.8 .3 .6-.3 .1-.9-1.4-1.3-1.4 0-.3 1.3zM147.6 48.1l1.6 .4 2.8-.4 1.7-.9 .2-1.7-4-1zM143.8 47.2l.5 .5 .8-.5-.8-.8zM183.9 47.2l1.7 .3 4.3-2.5 .3-1.1-.8-3.4-1-.4-2.8 .6-1.4-1.5-2.1-.7-1-1.3 .8-1.7-.3-.8-1.6 .2-1.4-1.6-.8 .5 .8 4.2-.8 0-1-2.5-3.8 .7 0 1.8 1.4 .1 .7 .7 0 .9-5.2 2.5 .9 3.3 3.6 .7 2.8-1.3 1.4 1.7 2.1-1zM34.8 46.4l1.6 .3 1.1-1.2 .3-1.6-1.4-2-1.4-.5-2.8 .2-2.7 1.4-.2 .9 .8 1.3 1.4 .6 2.1-.5zM158.2 46.4l1.5 .5 5.6-.6 1.4-.8-.6-2.5-1.5-.7-4.2 .6-2.8 2.1-1.3-.3zM166.7 45.5l.7 .4 .4-.4-.4-.4zM223.3 45.5l3.7-.3 1.8-1.3-1.8-1.2-2.1 1.1-1.4 .1zM185.2 35.5l1.1 .5 2.3-.5 1-1.7 0-1.7-1.1-1.6-1.5 0-1.4 1.3-.7 2zM133.1 33l2.8-.8 .5-.9-.5-1.9-1.6-.6 .2-1.3 4.2-1.1 .7 .3 2 2.1-.4 1.7 1.2 .9 2.1-2.3 3.1-.3-.7-.8-.3-1.7 .7-.7 1.4 .1 1.5 1.4 .6-.7-.1-1.8 1.5-2 1 .3 0 1.7 3 1.7 .2 1 2.1-1-.9-2.5 1.7-.9-.1-.5-1.4-.3-.5-2.5 1.3-2.5-.4-2.5 1.7-.7 .5-1 .2-1.7-.7-1.4-2.8-1.7-2.1 .7-2.8-.6-.9 .5 0 1.7-1.2 1.5-3.5 .1-1.4-.9-2.1 .8-1.4-.5-2.6 1.5-.2 1.1-.7-3.6 2.1-1.5-.3-1-1.1-.9-1.4 1.4-.7-.3-2.1-3.2-2.1 .4-1.4 1.3-.7-.1-1.4-2.4-.7-.3-3.5 2.3-2.8 .1-2.1-1-.7 2.5-1.4-.9-.7-1.5-1.9-.8-.9-1.4-3.2 .6-3.1-2.7-.6 1.8-.8 .6-2.1-1.9-1.4-.4-3.5 2.7-2.8 .2-.5 1.4 .3 1.6-1.3 3.4-1.2 1.7-.7 2.5-1.9 1.6-2.8 5.9-1 1.4-2.8-.1-.8 1.2 .5 2.5 1 1.7-1.1 2.5 .4 .9 2.8-.2 .9-.7 1.2-2.4 4.2-1.7 4.9 .6 3.5-3.8 1.4 .8 2.1-1.6 2.1 .4 1.4-1 2.8 .6 .2 .6-1.5 1.6 .2 .9 1.8 .7 2.8-.5 2.2 2.3-.1 1.7 2.8 1 .7-.2 1.4-2.2 2.1 1.5 1.4-.2 .7-.8 .3-2.5 1.1-1.2 2.7 .4 .3 2.5 1.6 1.7-.4 1.6zM134.5 18.2l-1-1.1 .3-2.2 1.5 1.3zM142.9 24.9l-1.7-1.1 1-2.8 2.8 2.8 0 1-.7 .4zM154.8 19.7l-.4-.9 .4-1.7 1 .8zM120.5 16.5l0-4 3.9-2.1 2.4-4.5 .7 .1 1.4 2.3 2.9 2.1-.8 1.8-1.4-2.6-3.5 .7-.5 .9 1.1 1.7-.4 .8-3.7 1zM122.6 26.8l-.7-1.5 3.5 .1 0 .9-.7 .4zM126.1 21l-.4-.6 .4-1.3 .9 .5-.2 1zM130.3 22.9l-.9-.8 .9-.6 1 .6zM142.9 17.3l-2.3-1.1 0-.8 1.6-.2 1.9 1.9zM192.6 33l.8 .1 0-.6zM14.1 28.8l2.7 .2 1.4-1.6 1.4 .6 1.4-.7 2.8 .2 .9-.4 0-.8-1.6-1.8-5.6-.1-2.8-2.5-2.1 .7-1.4-2.4-4.2-.6-.7 .8 .8 2.5-.2 2.5 3.6 1.9 1.4-2.6 .7 .7-.2 1.7zM-1.8 23.8l3.5-.9 .2-1.6-1.2-1.8-2.8 .2-.7 .5 0 2.8zM206.9 22.9l1.2 .2 2.8-1.8 2.1 0 1.4-1.5 .7-.1 4.2 3.1 1.9 .1 .9-3.3 1.9-1.7 .7-2.5-.6-2.5-1.3-1.1-1.4 .6-2.8-1.2-1-.8-.4-1.7-1.4-.7-2.1 .1-1.4 2.2-2.1 .1 .2 .8-.4 .9-1.7 .8-.2 2.3-2.8 1.2-1.9 3.2 .5 2zM208.8 20l-.7-1.2 .3-.9 1.8-.4 .3 .4-1 2.3zM246.6 22.9l1.4 .7 .5-.7-1.2-1.3-.7 .5zM254.6 22.9l.4 .3 0-3.1-.9 1.2zM24.8 22.1l1.1 .1 3.2-1.8 .2-1.6-1.1-2.6-5.1-1.4-3.5 1.7-.6 3.1 .9 1.7 .4 .4 2.8-.7zM208.7 10.4l1.5 0 0-.9-1.4 0zM146.3 8.7l1.5 .2 .2-1-2.3 0zM192.6 8.7l1.5 .8 .7-1.4 1.6-1.1 .3-2.5-.5-1.1-1.4 0-3.1 2.8-.1 1.7zM11.1 7.9l2.2 .7 2.1-1 1.4 .7 .9-.4-.2-1.1-2-1.4-.2-1.7-2.7-.5-.8 .5-1 2.5zM187.6 6.2l1.5 .5 .3-.5-1.7-1.5-.8 .7z" fill="#f37a84" fill-rule="evenodd"/><path d="M7.3 61.4l.4 .3 .7-.6 .4-1.3 0-.9-1.1-.7-1.6 .7-.3 .9zM51.6 60.6l.4 0-.2-.7zM56.5 60.6l.9 .4 1.4-.4 .3-.8-.4-.9-4.1-.7-.5 .7 .3 .9zM3.9 58.9l.3 .5 .7-.3 .1-1.8 2-2.1-.7-1.2-4.5 .8 0 .8zM254.7 55.6l.3 .5 0-2.6-.5 .4zM156.8 53.9l.8 .6 .4-.6-.4-.4zM235.6 48.9l1.2 .6 3.5-.9 .5-2.2-.5-1.6-2.8-2-2.1 1.3-2.1-1.3-2.7 1.1 .6 3.5 .7 .4 2.1-.1zM139.3 48.1l1.5 .1 .4-1-1.8-1.3-.9 .5zM148.2 48.1l3.8-.2 1.7-1.5-.4-.9-3.4-.6-1.7 2.3zM184.2 47.2l1.5 0 3.9-2.5 0-1.7-1.2-2.5-3.5 .5-.7-1.4-3.1-1.6-.4-2.6-1.4 .1-.2 2.5-1.2 .5-1.4-2.4-2.8 .2-.4 .9 1.8 1 .2 1.5-2 1.7-3.1 .8 .7 3.1 3.5 .8 2.8-1.5 1.4 1.7 2.1-1.1zM35.2 46.4l1.2 0 .7-.6 .5-1.9-1.9-2.2-3.5 0-2.4 1.3-.2 .9 .5 1.1 1.4 .6 2.1-.5zM158.5 46.4l1.2 .3 5.6-.6 .7-.6-.2-2.5-1.2-.5-4.2 .6-2.6 2.4zM223.4 44.7l.8 .7 2.8-.5 1.1-1-1.1-.9zM185.8 35.5l1.5 0 1.3-.8 .6-2.6-.8-1.3-1.4 0-1.4 1.6-.5 1.4zM132.8 32.1l1 .4 1.4-.5 .8-.7-.1-1-.7-.7-1.4 .3zM84.9 31.3l1.3 .7 1.4-.4 1.7-2.8 3.2-1.1 1.4-1.1 4.9 .7 3.5-3.9 1.4 .9 .9-.5 .5-1.3 2.1 .7 2.1-1 3.3 .7 .3 .9-1.1 1.6 .4 .9 1.3 .3 2.1-.6 1.4 1.8 1.4 .6 .9 2.1 1.2 .6 1-.6 1-2.5-1.3-2.9 3.5-.7 .7-.5 .5 .7-.4 2.5-1.5 0-1.2 .9 1 1.6 .9 .5 1.4-.7 1.1-3.1 1-.7 2.8 .2 .7 .5-.2 2.5 .9 .7 1.2-.7 .9-2.1 2.1 .1 2.1-.8 2.8 2.2 2.1-.6 2.1 .8 .1-3 2-.3 1.4 .7 2.8-3.6 .9-.1 .5 .7 .4 1.8 2.4 .5 .9-3-.5-2.5-.4-.7-1.4 1.3-.7-.4 .2-2.7 .9-1.7 0 .8 1.4 1.7 1-.4 .2-1.3-.8-.8 .1-.8 2.6-1.3 .4-2.1-.4-1-2.8-1.6-2.8 .7-2.1-.7-1.4 3.6-3.7 .7-.5 3.7-1.3-.4-.3-2.5 .7-1.6-1.2-.4-1.4 .8-2.1-.5-1.1 .9 .1 1.7 2.4 0 2.8 1.6-.7 1.3-1.4 .2-2.8-1.2-.7-1.4-2.6-1.4 .7-.8-.4-1.7 .6-1.7-1.8-1.4-1.4-2.6-1.4 0-2.6 2.4 1.8 2.5-2 4.3-.7 .4-.8-.5 1.2-2.5-.4-1.5-.7-.1-1.8 3.2-1.7 1-2.1 .3-2.8 1.9-.7-.7 .5-1.6-.5-1.5-.7-.6-1.4 .3-.3-.7 .3-.6 2.8 .2 2.8-.8 2.1-2.4 .2-2.3-3 .6-2.6-.6-.2 1.7-.7 .9-2.8-3.4-1.4-.4-.7-1.6-.7-.2-1.4 .9-2.1-.4-1.4-1.8-.7 0-.7 1.6-.7 .2-2.1-1.9-1.4-.3-2.5 2.2-1.7 .7-1.4-.5-.7 .4 0 3.7-2.4 4.1-.8 2.5-1.9 1.6-2.7 5.9-2 2-2.2-.3-.3 2.5 1.3 2.5zM113.5 8l.9-1 .4 .9-.6 .8zM114.9 13.8l-.6-.9 .6-.4 .4 .4zM126.1 21.6l-.7-.8 0-1.2 .7-.9 .7 0 .3 1.7zM129.6 23.2l-.5-1.1 .5-.6 1.7-.2 .4 .9-.7 .8zM133.8 18.1l-.7-1.9 .7-1.8 1.4 .9 .3 .9-.3 2.1-.7 .3zM135.2 21.3l-.4-.9 .4-1.2 1.2 1.2-.5 1.1zM143.6 25.6l-3-1.8 1.6-3.3 .7 .2 2.4 3.1 .3 1.6zM147.1 19.9l-.7-.3 1.9 0-.5 .6zM155.5 15.4l-.4-4.2 1.8-.3-.5 3.7zM134.5 10.5l-1-1 .3-.7 1.2 .7 .2 .9zM142 30.5l.4 0 0-.9zM14.6 28.8l2.2 0 1.4-2.2 1.4 .9 1.4-.8 2.8 .2 .3-.6-1-1.4-6.3-.1-1.1-1.9-1-.5-2.1 1-2.1-.3-.7-.8 0-1.9-1.4-.6-1.4 .1-.4 1.4 .7 1.6 0 2.5 3.2 1.3 1.4-2.8 .7 .2 .1 3 .6 1zM-2.6 22.9l1.2 .8 2.6-.8 .6-.8-.4-1.5-.7-.6-2.8 .2-.7 .7zM205.4 22.1l2 .7 1.5-.7 .6-.8-1.7-2.5 .3-.9 1.4-.8 1.3 .8-1 2.5 .4 .6 2.8-.1 1.4-1.6 2.1 .8 2.8 2.2 1.4 .2 .8-2.9 2.1-1.7 .6-3.3-.5-1.7-.9-.6-1.4 1.3-1.1-1.5-2.4-1-1.4-2.4-2.1-.6-.9 .6-.7 1.7-1.9 .8-1.7 1.7-1.1 2.7-2.8 1.3-.7 1-.8 2.5 .2 .9zM254.6 22.1l.4 .7 0-2.1zM24.2 21.3l1.7 .7 2.9-1.6 .3-1.6-1.1-2.4-4.9-1.3-3.5 2 .2 3.3 .5 .7 2.8-.3zM126.4 11.2l.4 .5 .3-.5zM138.1 8.7l.6 .6 1.1-.6-.4-.8-.7-.2zM12 7.9l2 .4 1.9-1.3-1.2-2.6-.7-.5-1.4-.4-1 1-.4 2.5zM192.3 7.9l1.1 .7 2.8-1.8 .3-1.4-.5-1.7-.5-.3-2.8 2-.9 1.6zM128.5 7l1.1 .8 .6-.8-1.8-2.5-1 0-.9 .9 1 .1z" fill="#f26e78" fill-rule="evenodd"/><path d="M7 60.6l.7 .6 .7-.8 0-1.4-.7-.4-1 .3-.2 .9zM57.1 60.6l1 0 .5-.8-.3-.9-3.7-.3 0 1zM3.5 57.3l.7 .7 2.3-3.2-3.7 .2-.5 .6zM236.4 48.9l3.9-.8 .1-2.6-.7-.8-2.2-1.6-2.1 1.3-2.1-1.3-2.2 .8 .4 3.3 1.8 0zM149.1 48.1l2.9-.4 1.4-1.3-.7-.7-2.8-.3-1.4 1.8zM138.9 47.2l1.2 .8 .7-.8-1.4-1.1zM158.9 46.4l6.4-.5 .6-1.2-.4-1.7-.9-.3-4.2 .6-2.3 2.2zM183.7 46.4l1.2 .7 4.2-2.3 .4-.9-1.1-2.8-1.4-.2-2.1 .9-1.4-2.5-1.6-.5-1.9-1.3-2.1 1.4-2.1-2.6-.8 0-.7 .9 1.2 .8-.4 2.3-1.4 1.1-2.8 .5-.6 1.1 .6 2 2.1 .8 2.1-.1 2.1-1.3 1.4 1.5 2-1.2zM34.3 45.5l1.4 .9 1.4-1.1 .3-1.4-1.7-2-3.5 0-2.1 1.1-.3 .9 1 1.3 2.1-.4zM226.1 43.9l.2 .6 1.3-.6-.6-.4zM185.5 34.7l.8 .6 1.8-.6 .4-3.4-1.5-.1-.7 .7-.7 1.1zM85.4 31.3l.8 .4 1.3-.4 1.2-2.5 3.8-1.6-.1-.9 1.5-.2 1.4 .6 1.4-.5 2.1 .6 .7-1.4 1.4-.7 1.4-2 1.4 1.2 1.4-2 2.1 .9 2.1-1.2 1.4 .8 2.1 .1 .7 1.3-1 1.6 .3 .6 2.1-.4 1.4 .4 .7 1.3 2 .7 .5 1.6 1 1.1 .7-.2 1-2.5-1.6-2.6 .3-.8 3.1-.4 2.1-1.2 .6 3.3 1.5-1 2.1-.1 2.3 1.1-.9 1.7 .7 1.1 .7-.3 .5-2.5 3 .1 1.4-.9 3.5 2.2 2.1-1.1 1.4 .9-.2-1.2-1.9-.3-2.8-2.2 2.1-3.6 .7 0 3.5 4.7 2.8-.2 2.1-2.3 1.4-.7 1 .4 .4 2.1 1.5 .4 1.1-2.5-.5-2.1-1.4 .7-.7-.1-.4-1 1.3-6.7-1.7-1.7 .1-1.7-1.4-.4-.8 4.6-1.6 4.2 0 1.7-.4 .9-1.4 .8-2-.9-.2-.8 .8-1.2 2.1 .2 .5-.7-1.2-2.2-1.4 1.9-3.5 .4-6.6-3.4-.7-2.5-2.5-1.5-1.1 1.5-.5 1.6-1.9 2-2.8-1.2-3.4 .9-2.9 1.8-.9-1 .2-2.5-.7-.6-2.3-.2 .5-2.5-1.6-1.7 1-1.7-.4-1.1-1.4 .3 .5 1.7-.5 .8-.7 .4-.8-.4 .1-1.7 1.4-.8-.7-2.4-4.2 .5-1.4-1.6-2.1 1.2-2.8-2.2-.7 .1-1.2 1-.2 1.8-1.4-.5-1.4 .6-1.4-.5-.6 .3 .3 2.5-.4 1.7-2.6 4.2-.4 1.7-1.8 1.6-2.8 5.9-1.5 2-2.8 .1-.2 2.1 1.3 2.5zM107.9 21l-.4-.6 .4-1.7 1.5 .1-.8 2.2zM114.2 14l0-1.5 .9-.4 .9 .8-.2 .8zM126.1 22.7l-1.4-1.4 .1-.9 .8-1.6 1.2-.4 .9 .4-.1 .8zM128.9 23.1l-.2-1 .9-.9 2.9 .1-1.5 2-1.4 .2zM135.2 21.6l-2.1-4.6-.1-2.4 .8-.6 1.9 1.4-.2 3.4 1.3 1.6-.2 .9-.7 .6zM111.4 10.7l-.4-.3 .4-.8 .9-.1 0 .9zM133.6 31.3l.2 .4 1.4-.3 .2-.9-.9-.2zM124.6 29.6l1.3-.8 .2-1.3-2.1 0-.5 .5 .1 .8zM15.1 28.8l1.7-.3 1-2.2-.4-.9-1.6-.8-1.1-1.7-.7 .1-.8 .8-.3 3.3zM18.6 26.3l1 .6 2-1.5-2.7-.3-.7 .3zM22.4 26.3l.8 0 0-.9-1.5 0zM7.8 25.4l2.7 .2 .5-1.8-1.2-.9-.5-2.5-1.6-.5-.8 .5-.1 .9zM-2.4 22.9l1 .6 2.1-.6 .8-.8-.2-.8-.6-.8-2.8 .1-.7 1.5zM205.9 22.1l1.5 .5 1.1-.5 .5-.8-1.5-2.5 .6-1.3 1.4-.6 1.3 .2 .4 .8-.9 2.5 2.7 .1 .7-3 .3 1.3 3.9 1.6 2.1 1.6 .5-.7-.2-.9-1.2-.8 1-.8 3.1-.9-.2-1.7 .8-1.6-.3-1.4-.8-.3-.6 2.4-2.1-3.1-2.5-1-1-2.1-2.1-.7-1.4 2.4-3.5 2.4-1.4 2.7-3.3 2-.6 2.5 .3 .9zM24.6 21.3l1.3 .5 2.6-1.4 .5-.8-1-3-4.9-1.2-3.1 1.7 .3 3.4 .7 .4 2.1-.3zM142.8 14.6l.8 .7 .7-.4 0-2.6-2.1 1.1-.7-1-1.3 .5-.1 1 .7 .4 1.4-.5zM147.3 14.6l.5 .2 .7-.9 1.9-.2-.5-.4-2.1 .1-.6 .3zM157.3 12.9l.3 .5 1.9-.5 .2-1.7-.7-1.1-1.3 .3zM120.1 11.2l3.5-.8 1.8-2.4 0-1.3-1.4-.1-1.4 .7-2.1-.5-1.5 3.6zM136.1 10.4l.5 .2 .3-1.1-1-.4zM132.4 9.5l1.4-1.7 1 .1-.3-1.7-1.4-.2-1.5 1-.2 1.7zM155.2 9.5l.3 .7 .9-.7zM12.6 7.9l1.4 .2 1.1-1.1 .1-.8-.9-1.7-1.7-.6-.7 .6-.3 1.7zM192.3 7l1.1 .8 2.1-1 .7-.7-.1-1.6-.6-.7-.7 .5-2.1 1.6z" fill="#f1626c" fill-rule="evenodd"/><path d="M7.6 60.6l.6-.8-.5-.9-.8 .9zM56.4 59.8l1 .5 .9-.5-.9-.8zM3.3 56.4l.9 .8 1-1.6-1.7-.3-.5 .3zM235.5 48.1l1.3 .4 2.8-.3 .7-1-.2-1.7-2.6-2.1-2.1 1.2-2.1-1.2-1.6 .5-.4 .8 .6 2.4 1.4-.2zM139.2 47.2l1.2 0-1-.8zM149 47.2l3 .3 1-1.1-2.4-.5zM184.2 46.4l.7 .2 2.1-.7 1.9-1.2 .3-.8-.8-2.2-1.4-.5-2.6 1-.7-2.5-3.7-1.5-2.1 .9-1.4-1.2-.4 .1-.9 2.5-2.2 1.4-2.1 .3-.4 .8 .4 1.7 2.1 .9 1.4 .1 2.8-1.4 1.4 1.2 1.4-1.2 .7 .1zM34.4 45.5l1.3 .7 1.4-1.5-.3-1.7-1.1-.9-3.5 0-1.8 .9-.4 .9 .8 1.1 2.1-.4zM158.5 45.5l.5 .6 5.6-.1 .9-.5 .2-1.6-1.1-1-4.2 .7zM186 34.7l1 .1 .7-.6 0-2.4-.7 0-1.1 1.2zM86 31.3l.9 0 2.8-4.6 .7 .2 1.4-2.3 3.5 1.7 1.4-.6 1.4 .8 .7-.2 .7-1.5 1.4-.4 1.4-2.4 .9 .1 .5 .7 .1-.7 1.3-.5 2.2 .5-.1-2.5 .7-1.5 .7-.1 1.8 .8-.9 2.5 1.2 .8 2.1-.2 1.7 2.7 1.8 .7 1.1 1.8 1.7-1.1 .5 .3-.2 1.7 1.1 2.1 .7-.1 .6-2-1.8-2.6 .3-.8 3.5-.8 1.1-.9-1-2.5 2.2-2.3 1.4-.1 .7 .8-1.3 4.1-.1 2.6 3.5-.7 5.6 1.3 2.1-1.9 3.5 3.1 1-1-3.1-2.5 2.1-3.5 1.4-.5 3.5 4.3 2.8 .2 2-2.2 2.2-1.3 .3-4.6 1-3.3-1.5-.8-.5-2-.7 .3 .1 2.5-1.8 4.2-.1 2.5-1 1.7-1.4 .7-2.1-.9-.7-2.6-2.1-.1-6.3-3.2-.7 .9-.2 1.8 1.4 2.5-.5 1.3-1.4 .2-1.4-1.3-1.7 2.3-2.5 1.2-1.3-1.2 0-.8 1.3-1.1 3.5-.7 .5-.7-1.1-5.9 1.3-.2 1.4 .5 .2-1.1-.9-1.3-1.4-.5-.7 .8-.1 1.8-2.4 2.5 .6 .9-.2 .5-.8-.5-.1-.9-2.6-1.2-2.8 .5-2.8 1.8-1.4 0-.5-1.1 .4-1.6-.6-1.1-2.1 .1-2.1 .9-1.1-.8 .4-1.7 .7-.4 1.4 .4 .4-.8-1.1-2-2.1 .4-2.1 1.3-.7-.5 .7-1 1.4-.2 .4-2.2 1.3-1.6-.3-1.2-.7-.4-3.5 1.3-1.4-1.4-2.8 .3-2.1-1.9-1.3 .7-.1 1.7-.7 .4-1.4-.4-1.4 .5-1.5-.5-.4 .9 .5 1.6-.7 2.3-2.4 3.6-.4 1.7-1.7 1.6-2.9 5.9-1.7 2.4-2.6 .1-.1 1.7 1.1 1.7zM111.4 17.7l-.2-1.5 .9-.2zM123.9 28.8l1.2 0-.3-.8-.8 0zM13.8 28l1.6 .7 1.4-.5 .6-1.9-.5-.9-2.2-1.3-.7 .4-.9 1.8zM132.2 28l.2 .4 .4-.4-.4-.4zM19.4 26.3l.5 0-.3-.9zM8.7 25.4l1.1 0 .7-.8-.1-.8-.9-.9-.4-2.2-1.4-.6-.7 1.2 .6 3.3zM154.4 23.8l1.1 .2 .6-1.1 .1-1.2-.7-.8-1.2 1.2zM-2.1 22.9l.7 .4 1.8-.4 .7-.8-.2-.8-1.6-.6-1.4 .2-.5 1.2zM206.5 22.1l1.6 .1 .5-.9-1.4-2.5 .2-1.2 1.4-.9 2.5 .4 .2 .8-.9 1.7 .3 .8 .7 .1 1.4-.7-.1-2.7 .8-.4 1 2.1 2.5 .9 2.1-1.1 3.5-.7 0-.8-2.8-4.6-2.8-1.1-.7-1.9-2.1-.8-1.4 2.7-3.5 2.1-2.1 3.4-2.3 1-.6 2.5zM24.9 21.3l1 .2 2.3-1.1 .5-.8-.7-2.7-4.9-1.1-2.6 1.3-.3 .8 .6 2.5 2.4 0zM140.8 13.7l.4-.8-.5 0zM143.3 13.7l.3 .8 0-1.1zM158.2 12.9l.8-.1 .4-.7-.4-1.6-.7-.1-.4 .8zM119.8 10.4l.7 .5 2.7-.5 1.5-1.7 .5-1.7-1.2-.2-1.4 1.2-1.4-.3-.7 .4zM132.1 8.7l1-1.8-.7-.1-.7 1zM13.1 7.9l.9-.1 .8-1.6-.8-1.5-1.4-.5-.6 2zM193.2 6.2l.2 .5 2.1-.5 0-1.7z" fill="#f0555f" fill-rule="evenodd"/><path d="M3.9 56.4l.6 0-.1-.8-.5 0zM151.2 47.2l.9 0 .5-.8-1.9 0zM234.3 47.2l1.8 .7 2.8 .1 .7-.2 .4-1.4-2.5-2.8-2.1 1.2-2.1-1.1-1.4 .5 0 2.3zM34.6 45.5l1.1 .5 1.2-1.3-.3-1.7-.9-.7-3.5 0-2 1.6 .6 .9 2.8-.3zM158.8 45.5l1.6-.3 2.1 .8 2.1-.1 .7-.5 .3-1.5-1-.8-4.2 1zM173.4 45.5l1.7-.2 2.1-1.2 1.4 .6 2.1-.7 2.1 1.5 2.1 .7 2.8-.9 1.2-1.4-1.2-2.4-2.8 1.1-.9-.4-.1-1.7-.6-.8-3.3-1.1-2.1 .8-1.4-1-2.1 2.9-3.7 1.7 .6 1.7zM186 33.8l.3 .6 1.1-.6-.4-1.4zM86 30.5l1.1 0 1.6-2.5 .3-2.2 1.4 0 .7-1.5 .7-.4 1.4 1.3 2.1 .7 1.4-.6 1.4 .7 .9-1.4 1.9-.4 .7-2.4 4.9-.8 1.4-3.4 2.1 .4 1.4-2.4 1.2 .6-2.6 4.2 .1 .9 1.3 .5 1.4-.4 2.1 2.9 1.4 .5 1.4 2 2.1-1.9 .7-1.4 1.4 .5 2.2-1.1-.6-2.5 1.9-2.1 3.5-1.2-.4-.9-2.4-.7-2.1 .3-2.1 1.7-2.1 .2-.8-1.5 .1-2.3-4.9 .8-.7-1 .4-1.6 1-.8 1.2-.1 .1-.8-1.3-.9-3.5 1.7-.9-.8 .2-.9 1.9-.8 .3-1.7 1.3-1.6-.1-.9-.6-.4-3.5 1.6-2.1-1.6-2.1 .2-2.1-1.8-.7 .3-.4 1.7-1 .8-1.4-.6-1.4 .7-1.4-.3 .3 1.9-1 2.9-4.9 7.5-2.3 4.7-1.9 2.8-2.1 .1-.3 .4 1 2.6zM100.9 20.4l-.7-.1-.3-.7 1-.6zM104.4 11.4l-.4-1 .4-.2 .4 1zM114.9 20.8l-.2-.4 .8 0zM119.1 20.4l-.5-.8 .5-1.3 .6 1.3zM120.1 28.8l.4 .6 .7-.1 .4-1.3-1.1-1.6-.7 .7zM14.3 28l1.8 .5 .9-1.4-.2-1.3-1.4-.7-1.4 0-.7 2zM140.6 26.3l1.1 0-1.6-1.1zM135.5 25.4l.8 0 1-1.4 2.8-1.8 2.8-3.4-6.3-3.1-.6 1.4 .2 1.7 1.1 .6 1.4-.8 0 1.2-1.4 .8-.7 1.5-1.4 .1-1.4-.8-2.3 2.4 0 .8zM8 24.6l1.1 .6 1-.6-1-3.5-1.4-.7-.5 .9zM127.3 24.6l1.1 0-.1-.8-.8-.3zM147.5 23.8l1.7 .1 3.7-3.5 .6-4.2 .9-2.5-.3-1.1-1.4 .3-.7 1.1-1.3 3.1 .5 1.7-.3 .8-1.7 2.3-1.5 1zM-1.8 22.9l1.8 0 .7-1.1-1.4-.9-1.4 .3-.3 .9zM154.7 22.9l.8 .2 0-1.2-.7 .3zM25.2 21.3l2.6-.9 .7-.8-.5-2.5-.7-.6-4.2-.3-2.2 .9-.4 .8 .5 2.1 2.8 .4zM128.1 21.3l2.9-.9 1.7-1.6-.3-3.9-.7-.3-1 .8-.2 .8 .7 1.7-2.3 .1zM144.2 21.3l.7 0-.6-2.3-.8 .6zM205.7 21.3l1.7 .8 .9-.8-1.2-1.7-.4-1.9-1.2 .2-.5 .9zM210.9 19.6l.7 .4 1-.4-.1-2.5 .5-1 .7 .1 1.4 2.5 2.1 .5 5-2.1-2.2-4.3-2.8-1.1-1.1-2.2-1.7-.5-1.4 3-2.8 1.2-1.3 2.2-.2 .8 2.2 .2 1 .7 .2 .8zM133 12.9l1.5 .5 .4-.5-1.1-1.1-1 .3zM120.4 10.4l2.2 0 2.1-2.2 0-1.2-.7 .1-1.4 1.6-1.9 0-.5 .8zM12.5 7l.8 .6 1.1-.6-.3-1.6-.8-.8-.7 0-.3 .8z" fill="#ef4852" fill-rule="evenodd"/><path d="M234.7 47.2l1.4 .4 1.4-.7 1.4 .7 .7-.4 .1-.8-2.2-2.4-1.4 .9-2.8-.9-1.4 .7 .7 1.5zM34.8 45.5l.9 .3 1-1.1 .1-.8-1.1-1.5-3.5 .1-1.7 1.4 .9 .8 2.2-.4zM161.5 45.5l3.1 .2 .7-.7 .1-1.1-.8-.6-1.4 .4-1.9 1zM183.4 45.5l.8 .4 3.5-.8 .9-1.2-.2-.9-.7-1.2-2.1 1-1.4-.1-.5-.5-.2-1.8-2.8-1.3-2.8 .5-1.4-.6-.9 1.5-1.9 1.5-2.8 1 .7 1.6 2.1 .9 3.5-1.6 1.4 .5 2.1-.7zM86.8 29.6l1.7-2.5-.9-1.6-1.4 .1-.4 .7zM14.8 28l1.7 0 .3-1.7-.7-.7-1.4-.2-1.2 .9 .1 .8zM120.1 28l.4 .7 .7-.4-.7-1.5zM117.6 26.3l2-1.7 .5-1.7 1.8 .8 1.6-.8-.2-3.5 4-2.3-.1-.9-3.2-.1-1.4 1.8-2.1 0-.7 2.4-.7 .4-.7-.7-.1-1.2-1.7-1.7 1.1-1.3 .7 .3 .7-1.5-.7-.4-2.8 1-2.1-.7-.1-1.6 .8-2.4 1.5-.1-.8-.3-3.5 1.3-.7-.1-.4-.9 .4-1.1 1.4-.6 .5-1.7 1.3-1.6-.2-.9-3.7 1.7-2.1-1.8-2.4 .1-1.8-1.3-1.7 2.2-1.8-.4-2.1 1.2-1.3 4.2-5 7.4-3.4 6.8 1.3 .8 .7-.4 1.4-2.9 .4 1.7 1 1.1 2.1 .7 2.8-.5 .7-1 2.1-.2 .4-1-1.7-3.3 .6-.8 .7-.3 .7 2.5 4.2-.2 2.1-3.8 2.1 .7 1.3-2.3 .8 0 .9 .8-2.5 4.2 0 .9 .9 .2 1.4-.8 .7 .6 .2-.9 1.9-.9 .4 1.8-1.1 .4-.7-.4-.5 .8 3 2.5zM99.5 13.9l0-1.1 .7 .9zM104.4 11.6l-.7-1.2 .7-.4 .7 1.2zM8.3 24.6l1.3 0 0-.8-.6-.9 0-1.6-1.3-.6-.3 .6zM134.6 24.6l1.3 .5 1.4-1.6 2.8-1.7 2.2-3-1.4-.9-1.5 0-.6 2.5-1.5 .9-.7 1.2-2.8-.7-.9 2zM-1.5 22.9l1 0 1-.8-1.9-1-.8 1zM150.4 21.3l1.1 0 .5-1.2-1.4 .2zM206.3 21.3l1.1 .4 .5-.4-1.7-1.7 .3-.8-.5-.7-.6 .7zM24.1 20.4l1.8 .7 2.1-1.1 .4-1.2-.6-1.7-3.3-.8-3.2 .8-.6 .8 .4 1.7zM128.3 20.4l.6 .3 2.1-.7 .5-1.2-1.9-.4zM136.5 18.8l.8 0 1.1-.9 0-.8-1.1-.8-.7 0-.3 .8zM152.2 18.8l.5 .1 .5-1-.1-1.7 1.1-2.5-.8-.7-1.4 1.6-.8 2.5zM214.7 17.9l1.8 .8 4.9-1.6-1.6-4.2-3.3-1.3-.3-1.2-1.1-1.2-1 .3-1.1 2.9-2.8 1.1-1 1.9 1 .8 2.1-.9 1.4 .7zM131.4 17.1l1 .6 0-2.1-.7-.7-.9 1.3zM120.7 9.5l.5 .5 1.5-.5-1.5-.4zM123.7 7.9l.3 .5 .4-.5zM12.9 7l1.2 0 .1-.8-.9-1.2-.7 .4z" fill="#ee3c46" fill-rule="evenodd"/><path d="M235.2 47.2l.9 .1 1.4-.9 1.4 .7 .4-.7-1.8-1.9-1.4 .7-2.1-.7-1.5 .2 .1 .9zM35 45.5l.7 .1 .8-.9 .1-.8-.9-1.3-3.5 .1-1.4 1.2 .7 .4 2.1-.1zM162.1 45.5l2.5 .1 .7-.9-.1-.8-.6-.4-1.4 .4-1.2 .8zM184.1 45.5l3.8-.8 .5-.8-.7-1.7-.7-.1-1.4 1.2-1.4-.3-.8-.8-.6-2.1-2.8-.9-2.1 .7-1.4-.2-2.8 2.5-2.4 .8 .3 1.3 2.1 1 3.5-1.5 1.4 .3 2.1-.7 2.1 1.7zM15.2 28l1 0 .3-1.7-1.1-.5-1.4 .2-.1 1.1zM86.8 27.1l.8 .6 .3-.6-.3-.8-.7 .2zM117.6 25.4l1.6-.8 .6-2.3 .7-.1 1.4 1.2 1.1-.5-.2-3.3-.9-1.2-1.4 0-.4 2-1 .7-.9-.7-.5-2-1.6 .4 .5 1.6-.2 2.5zM88.8 24.6l.9 .4 .5-.4 1.6-3.1 .8 .6 0 1.7 2 1.4 .7 .1 2.8-1.6 2.1 .2 .7-.4 .1-1.4-1.8-2.5 1-1 .7-.4 .7 2.3 1.4 .4 2.8-.5 2.1-3.8 1.4 1 .7-.1 1-2.1 1.8-.2 .4-.6 .1-3.4-2.6 .5-.6-1.3 .1-.9 1.9-1.2 0-1.8-2.1 0-2.1-1.9-2.1 .2-2.1-.6-2.1 1.5-2.1-.2-1 .7-1.8 4.8-1.8 1.9-1 2.4-2.1 2.8-1 3.2zM98.8 13.8l-.5-1.7 .5-1.2 .7 .2 .9 2.6-.2 .5zM103.7 11.3l0-1.1 .7-.4 .7 .4 0 1.4zM8.4 23.8l.7 .5-.7-3.4-.8 .4zM133.6 23.8l2.3 .8 .7-1.6 1.4 0 1.4-1.6 .7-.1 1.6-2.5-1.6-.5-.7 2.1-.7 .7-.7-.1-1.4 1.9-2.8-.6zM-1.9 22.1l1.2 .6 .8-.6-1.5-.6zM24.4 20.4l1.5 .5 2.1-1.2-.4-2.6-3.1-.6-2.7 .6-.8 .7 .7 2zM111.9 19.6l1.6 .4 1.4-.7 .6-.5 .8-2.9-2.8-.4zM128.8 19.6l.1 .6 .7 0 1.4-.6-.7-.8-.7-.1zM123.7 18.8l1-.3 1.4-1.4-.7-.7-1.4 .1-1 1.4zM136.5 17.9l.8 .3 .1-1.1-.8 .2zM214.9 17.9l1.6 .5 1.4-.8 2.1-.1 .9-.4 .3-.9-1.6-3.3-1-.6-2 .6 1.1 2.5-.5 .2-.8-1-.4-4.2-.9-.9-.7 .1-1.4 3.1-2.8 1.1-.8 1.6 .8 .5 1.4-1.2 .7 .2 1.4 .8zM131.1 16.2l.6 .8 .6-.8-.6-1zM152 16.2l0 .9 1.4-1.8 0-1.7-1 1zM13 6.2l.3 .7 .5-.7-.5-.7zM112.6 5.4l.2 .3 .8-.3z" fill="#ed303a" fill-rule="evenodd"/><path d="M234.1 46.4l2 .5 1.4-1.4-3.5-.6-.6 .6zM162.7 45.5l1.9-.1 .3-1.5-1.7 .2-.7 .6zM34.3 44.7l1.4 .7 .7-1.5-.4-.9-1-.4-2.8 .3-.8 1 2.2 .1zM172.9 44.7l1.5 .5 2.8-1.5 1.4 .1 2.1-.8 2.1 2 1.4 .3 1.4-1.2 1.4 .7 1.1-.9-.4-1.2-.7-.2-1.4 1.3-1.4-.6-1-1-.4-1.7-2.8-1.1-2.1 .8-1.4-.1-2.8 2.3-1.8 .6-.3 .9zM14.5 27.1l1.6 .5 .1-1.3-1.7 0zM93.7 24.6l1.6 .4 2.8-1.7 2.1 .4 .7-.8-.2-.8-1.8-2.5 2-1.7 1 2.5 2.5 0 1.4-.6 1.9-3.6 1.6 1.2 .7-.2 .8-1.8 2-.6 .4-2.7-.4-.6-2.1 .5-.8-1.6 .1-1 2-1.5-.5-.9-1.5-.1-2.8-2.1-3.5-.2-2.1 1.3-1.4-.4-1.3 .7-1.8 5-2 1.7-3.7 6.7-.1 .8 1.2 .9 .4 2.5zM96.7 18.1l0-.5 .7 .2zM98.8 14.1l-.9-2.9 1.6-.6 1.1 3.1-.4 .9zM103.7 11.4l-.4-1 1.1-.8 .7 .3 0 2.1zM107.9 13.9l-.3-1 1-.3 .3 1.1-.3 .4zM117.7 24.6l.7 .2 .7-1 .1-1.7-2.2-3.2zM89.4 23.8l.3 .7 .3-.7-.3-.4zM121.7 22.9l.9 0 .1-2.5-1.5-1.9-.5 .3-.5 2.5zM133.8 22.9l.7 .5 .2-.5zM137.7 22.1l.6 0-.3-.5zM24.7 20.4l1.2 .3 1.9-1.1 .2-.8-.7-1.8-2.8-.3-3.2 1.2 .5 1.7zM112.5 18.8l1 .7 1.5-.7 .3-2.6-1.1-.3zM123.5 17.9l.5 .5 .7-.2 .7-1.1-1.4-.3zM215.2 17.9l1.4 0 1.3-1.4 .3 .6 1.8 .2 .9-1.1-1.6-3.3-1.4-.4-.8 .4 0 .8 1.1 1.7-.3 .8-.7-.1-1-1.5-.2-3.4-.9-1.4-1 .6-.4 2-1.9 1.3 2.5 2.5zM209.9 15.4l1-.3 0-1.3-.9 .8z" fill="#ec232d" fill-rule="evenodd"/><path d="M234.5 46.4l1.7 0-1.1-.9-1.1 0zM34.5 44.7l.5 .5 1.1-.5-.4-1.7-2 0 0 .9zM162.8 44.7l1.1 .8 1-.8-.3-.9zM173.3 44.7l1.1 .3 2.8-1.5 2.1-.1 1.4-.7 2.8 2.3 1.4-.3 .1-.8-2.1-1.7-.6-1.7-2.3-.8-2.1 .8-1.4 0-3.7 2.5-.4 .9zM186.3 43.9l.7 .5 .7-.5-.2-.9-.5-.2zM94.2 24.6l2.5-.5 1.4-1.2 2.1 .4 .4-.4-2.1-3.3 2.4-2 1.4 2.8 .7 0 1.8-.8-.4-2.5 .7-.3 .7 1.6 .7-.2 .6-2 .8-.6 1.4 1.6 .7-.3 .7-1.8 1.8-.5 .3-2.8-2.1 .7-1.1-2.1-.1-.9 1.9-1.7-4.2-2.8-2.1 .3-1.4-.4-2.1 1.2-1.4-.4-1 .5-1.2 2.5-.1 1.7 1.6-.5 1.2 4.7-1.9-.2-1.4-2.6-.7 .2-1.4 1-3.8 6.6 .1 .8 1.4 .9 .2 2.5zM96 18l.6-.9 .8-.1 0 1.5zM104.4 12.1l-1.1-.9-.1-.8 1.9-.8 .3 2.5zM107.9 14.4l-.6-1.5 1.3-.6 .7 .6 0 .8-.7 .9zM121.7 22.1l.2 .4 .5-.4-.1-1.7-1.1-1.2-.3 1.2zM25 20.4l.9 .1 1.6-.9 .3-.8-.5-1.6-2.8-.4-2.9 1.1-.1 .9 .9 .8zM113 18.8l1.6 0 .1-1.7-.5-.6-1.3 1.4zM123.9 17.9l.4 0-.3-.5zM214.8 17.1l1 .8 1.1-.8 .1-.9-1.3-2.5 .1-2.5-.7-1.1-.8 .3-.6 2.5-1.2 .8zM218.5 16.2l.8 .8 1.4-.8-1.4-3-1.4-.5-.4 1 1 1.7z" fill="#ec1923" fill-rule="evenodd"/><path d="M34.7 44.7l1.2 0 .2-.8-1.1-1-1.1 1zM163.2 44.7l.7 .5 .8-.5-.8-.5zM173.6 44.7l.8 .2 2.8-1.5 2.1-.2 2.1-.9 1.8 2.4 1.2 0 .1-.8-2-1.7-.4-1.2-2.8-1-1.4 .9-2.1 .1-2.6 2-.4 .9zM93.6 23.8l1.7 .7 2.8-2 2.1 .5-2.1-3.4 2.8-2.2 1.4 2.7 1.6-.5 .5-3.1 .7-.2 1.4 1 1.2-2.7-.8-1.7 1-.8 1.6 0-.4-2.6 1.1-1.6-2.3-2.4-2.1 .2-2.1-.6-2.1 1.2-2.1 0-1.3 3.2 1.3-.5 1.5 5.6-2.5 0-1.1-2.1-.7-.1-1.4 .9-2.1 4.6-1.5 1.7 .3 .8 1.5 .9zM94.6 18.8l.5-.9 2.3-1.2 .3 2.1zM104.4 12.3l-1.3-1.1-.1-.8 2.1-1.1 .6 2.8zM107.2 8.7l-.7-.4 0-.6 .9 .2zM23.8 19.6l2.1 .7 1.4-.9 .3-1.5-1-.7-2.1-.2-2.5 .9-.1 .9zM113.3 17.9l.2 .7 .7 0 0-1.3zM215 17.1l.8 .5 .8-1.4-1.1-2.5 0-2.5-.4-.8-.7 .2-.3 2.3-1.1 .8zM108.5 16.2l.8 .8 .7-.4 .7-1.9 1.4-.2 .6-.8 0-1.6-.6-.2-2.1 1.3-1.8 2.2zM219 16.2l1.3 0-.9-2.5-.8-.7-.8 .7z" fill="#eb0f19" fill-rule="evenodd"/><path d="M34.9 44.7l.8 0 .2-.8-.9-.8-.8 .8zM174.1 44.7l3.1-1.4 2.1-.3 2-1.6-1.3-1.2-2.1 1-2.1-.1-2.3 1.9-.4 .9zM182.6 43.9l.9 .5 .5-.5-1.2-.8zM93.9 23.8l2.1 .2 2.4-1.9 .5-.8-1.5-2.1-3.5-.1-.7-.7-.9 .4-.3 .8 .5 .7 1.4 .7zM24.1 19.6l1.8 .4 1.4-1 0-1.2-2.8-.6-2.1 1.2 0 .5zM102.2 19.6l1.1 0 1.8-4.8 .7 1.7 .7-.2 .9-1.7-.9-1.7 2.8-1.6-.6-1.8 .9-1.6-1.4-.9-1-1.4-1.4 .4-2.1-.7-2.1 1.2-1.4-.1-.7 .6 .6 5.1 .9 1.6-.1 1.5-2.8-.6-1.4-1.8-1.4 .8-1.4 2.6 0 1.8 3.5-1.5 .7 2.1 .7 .3 2.1-1.8zM104.4 12.5l-1.4-1.3 0-1 2.7-1.5 .8-1.6 1.4 .3 .4 1.3-2.5 .1 0 3.9zM215.4 17.1l.6 0 .3-.9-1.2-3.3-.7 0-.9 .8 0 .9zM108.8 16.2l.5 .5 .7-.4 .4-1.7-.4-.6-1.3 1.4zM110.8 13.7l1.3 .5 .4-.5-.4-1.6zM214.4 12.1l.7 .7 0-2-.7 .3z" fill="#e60c16" fill-rule="evenodd"/><path d="M34.5 43.9l.5 .8 .7-.8-.7-.5zM173.4 43.9l1 .7 .7-.2 2.8-1.7 1.4-.1 1.3-1.2-.6-.9-2.1 1.2-1.4-.6-.7 .2zM94.4 23.8l2.3-.3 1.3-1.4 .5-.8-1.1-1.9-1.4-.4-1.5 .6-.5 .8zM24.4 19.6l1.5 .1 1.1-.9 0-.9-2.5-.4-1.1 1.3zM92.3 19.6l1 0-.8-.5zM102.1 18.8l.9 .5 .4-.5 1-4.1 .7-.8 .7 1.8 .7 0 .7-1.1-.7-1.3-1.4 .2-2.2-2.3 .1-1.2 2.1-1.3 .9-1.7-.3-.8-2-.8-3.5 1.6-.1 4.2 1.2 3.4-.4 1.2-.7-.7-2.1-.2-1.4-1.8-1.4 .8-1.3 3.2 .6 .5 2.8-1.4 .7 2 .7 .5 1.3-.8 .8-1.3zM109 16.2l.7 0 .3-1.5-1 .7zM215 16.2l.8 .6 .3-.6-1-2.4-.7-.3-.4 1.1zM111.5 13.7l.7 0-.1-1.2-.6 .4zM106 11.2l.5 .9 .7-.1 1.6-.8-.1-.8-.8-1-1.4-.2-.7 .3z" fill="#e10a14" fill-rule="evenodd"/></g>
<path d="M-4 12.9l1.5-.3 1.8-.3 1.7-.4 .2-1.1-1-.8-.4-.6-.9-1.1-.3-.4-.4-.4 .5-.9-1.2-.2 .4-.7-1.4 0-.6 .9 .2 1 .4 .7 .1 .6 1.2 .1 .1 .6 0 .5-1.2 0 .4 .4 0 .6-.8 .3 .9 .2 .7 .1-.8 .2-.6 .5zM248.2 12.9l1.5-.3 1.8-.3 1.7-.4 .2-1.1-1-.8-.4-.6-.9-1.1-.3-.4-.4-.4 .5-.9-1.2-.2 .4-.7-1.4 0-.6 .9 .2 1 .4 .7 .1 .6 1.2 .1 .1 .6 0 .5-1.2 0 .4 .4 0 .6-.8 .3 .9 .2 .7 .1-.8 .2-.6 .5zM248 11.2l-.1-1.2 .4-.9-.3-.6-1.1 0-.7 .6-1 .3 .3 1-.4 1 .4 .2 1.1-.2 1.1-.3zM235.4 -.1l1.4 1.4 2.4 .4 2.8-.8 .7-.8-1-1-6.3 0zM98.1 20l.8-.2 1.4-.1 1.6-1.2-.1-.8-2.3-1-.4 1.2-.7 .7-.3 .6zM99.5 16.2l1 0-.1-2.5 .8 0-.7-2.1-.3-2.1-.4-.2-.2 2.3-.1 2.1zM84.8 33.6l.7 .2-.4 1.7-.5 .9-.5-.9 .3-1.3zM76.1 38.7l1.2-.8 .5 .5-.7 1.1-.7-.2zM55.9 46.5l.4 0 1.1 2-.5 1.1-.9 .1-.1-1.6zM84.4 39.3l1.2 0-.1 1.2-.4 1.3 .4 1.2 1.4 .9-.4 .1-1.4-.8-.7-.6-.3-1.2zM85.5 48.9l1-1.3 1.4-1.1 .7 2-.3 1.2-.7 .2-.7-.6zM85.8 44.9l2.1-.6 .2 1.2-1.6 1.3-.7 0zM82.1 47.8l1.6-1.8 .2-.8-.5 .8-1.1 1.4zM84.4 43.4l.7 .5-.3 .6-.5-.5zM73.7 60.4l.9-.7 1.4 .3 1.4 .4 1.5 .1 1.3 .7-.1 .8-1.3-.2-1.4-.3-1.7-.2-1.4-.4zM80.2 61.5l.9 .2-.2 .4-.6-.2zM81.3 61.7l2.1-.1 0 .5-2.1 .1zM83.9 61.8l2.3-.2 0 .4-2.3 .2zM86.5 63.4l1.1-.9 1.5-.7-.1 .3-1.4 .9-.7 .5zM83.7 59.4l-.1-1.7-.4-.6 .5-1.9 .4-1.1 .7-.4 1.4 .2 1-.4 .5 0-.8 .9-1.4-.1-.7 .1-.4 .8 .7 .4 1.3-.1-.9 .5-.5 .4 .6 1 .6 1.1-.7 .9-.7-1.3-.4-.8-.1 2.1zM89.3 52.9l.6 .6 .3 .8-.5 1.1-.4-.6zM89.7 57.3l1.9 .2 0 .4-1.9-.1zM88.3 57.4l.8 0 0 .5-.8 0zM103.9 59.4l1.2-.4 1-.7 .5 0-.5 1.1-1 .5-1.1-.1zM105.4 56.8l.7 .5 1.1 1.2-.2 .3-1.2-1.4zM109.6 60.2l2.1 1.2 1.4 1.3-.3 .4-1.4-.4-1.8-1.7zM114.9 71.7l.6 0 1.5 1.7-.4 .1-1.5-1.3zM124.2 69.4l.9-.2-.1 .8-.7-.1zM192.7 36.4l1.4-.8 1.4-.3 1.4 .5 1.4 1 .9 .4 1.1 .6-.6 .3-1.9 0 .1-.6-.7-.7-1.4-.5-1-.1-1.1 .2zM200 39.3l1.1-1.2 1.4 0 1.4 .6 .5 .5-1.2 .3-1.1 .5-1-.3zM197.3 39.4l1.5 .1-.3 .3-.8 0zM205.1 39.3l1.1 0-.1 .4-1 0zM144 7l1.5-.5-.3-.5-.9 .4zM8.7 22.9l2.2-.2-.3 1.3-1.8-.7zM5.7 20.5l1.2-.2-.1 1.6-.9 .3zM6 18.8l.7 0-.1 1.3-.5-.3zM16.5 24.9l1.9 .3-.2 .3-1.7-.2zM22.6 25.4l1.6-.5-.4 .9-1-.1zM209.3 97.6l2.4 .1-.5 .8-1.4-.1zM91.7 26.3l1.1-1.3 1.1-.1 1 0 .9-1.4 1.2-.4 1.1-1.4 0-1.1 .5-.4 .5 0 0 1.1 .4 .4-.7 1-.2 1.1 .1 1.1-.8 .5-.5 .3-1.4 .1-.2 .2-.7 .7-.4-.7-.8-.2-1.1 .2-1 .4zM91.1 26.7l.7-.3 .6 .7-.3 1.3-.6 .4-.3-.4-.3-1zM92.8 27.1l.4-1 1.1 0 .1 .4-.9 .4-.5 .4z" fill="#fbfbfd" stroke="#fbfbfd" stroke-width="0.5"/>
<path d="M91.7 26.3l1.1-1.3 1.1-.1 1 0 .9-1.4 1.2-.4 1.1-1.4 0-1.1 .5-.4 .5 0 0 1.1 .4 .4-.7 1-.2 1.1 .1 1.1-.8 .5-.5 .3-1.4 .1-.2 .2-.7 .7-.4-.7-.8-.2-1.1 .2-1 .4zM91.1 26.7l.7-.3 .6 .7-.3 1.3-.6 .4-.3-.4-.3-1zM92.8 27.1l.4-1 1.1 0 .1 .4-.9 .4-.5 .4z" fill="#d2d2d2"/>
<path d="M8.8 -2.2l-.4 2.1-1 .9-1.4 .8-1.4 .7-1.1 .7 0 1.3 .4 1.1 .3 .6 1.1 .2 .7-.3 .9-.5 .5-.7 .3 .7 .6 .6 .1 .6 .6 .9 0 .8 .9 .1 .3-.5 1-.2 .4-1.1 .1-.8 .9-.4 .6-.7-.9-.8-.2-1.3 .9-.8 1.4-.5 .7-.5 .3-.9 .4-2.1zM261 -2.2l-.4 2.1-1 .9-1.4 .8-1.4 .7-1.1 .7 0 1.3 .4 1.1 .3 .6 1.1 .2 .7-.3 .9-.5 .5-.7 .3 .7 .6 .6 .1 .6 .6 .9 0 .8 .9 .1 .3-.5 1-.2 .4-1.1 .1-.8 .9-.4 .6-.7-.9-.8-.2-1.3 .9-.8 1.4-.5 .7-.5 .3-.9 .4-2.1zM17.2 -2.2l.5 2.3-.5 .4-1.1 .8-1 .7-.1 1 .1 .9 .7 .6 1.4-.1 1.4-.2 1.4-.1 .9 .4-1.3 .4-2.1 0-1 .2 0 .7 .5 .1 .1 .7-.3 .4-.5 0-.5-.5-.7 .2-.4 .8 .1 .8 .1 .4-.5 .2-.7 .3-.7 0-.2-.3-1.2 .2-1.4 .5-.7-.3-1.1 .1-.7 .1-.1-.4-.6-.1 .4-.7-.2-.6 .2-.7 0-.6-.7 .5-.9 .3-.1 .7 .3 .4 0 .6 .2 .6-.5 .4-.8 .1-.8 0-.7 .5-.4 .7-.5 .5-.7 .3-.7 .1 0 .7-1 .5-.9 .1-.3-.3-.2 .9-.8-.1-1.1 .2 .1 .6 1.1 .3 .5 .3 .7 .8 0 1.3-.3 .9-1.4 0-1.4 0-1.7-.1-.8 .5 .2 .9 .1 .8-.2 1-.4 .9 .5 .3 0 1.1 .9-.1 .9 .3 .5 .7 .7-.6 1.7 0 .6-.6 .4-.1 .2-.7 .4-.3-.3-.6 .8-1.1 1.6-.9 0-1 1-.3 1 .3 1.1-.6 .9-.5 .9 .4 .3 .8 1 .9 1.1 .6 1.4 1 .1 1.5 .6-.4 .4-.3-.4-.7 .4-.6 1 .4-.4-.4-1.4-.8-.7-.4-.7-.6-.3-.7-.9-.8 .2-.8 .8-.2-.1 .6 .7-.2 .7 1 1.4 .9 .7 .5 .6 .5 .1 1 .5 .8 .5 .8 .2 .7 .3 .8 .6 .4 .3-.8 .2 .7 .5-1-.3-.7-.5-1.2 0-.5 .8-.2 1.4 0 .5 .3-.1 .8 .2 .8 .3 .9 .5 .5 1.1 .5 .7-.5 1.4 .6 1-.1 1.1-.3 .3 .5-.1 .8-.2 .9-.4 .8-.3 1.3-.7 .3-.9-.1 .2 1 .3 .9 .9 1 .4-1.4 .1 0-.1 1.2 .7 .8 .8 1.7 1.1 1.7 .5 1.3 .9 1.6 .7 1.7 .8 1.7 .2 1.2 .4 1.1 1-.1 2.1-1 1.4-.8 1.6-.7 1.2-1 1.1-.7 1-.8 .6-.2 .5-1.2 .9-1.7-.9-.9-1.1-.3-.5-.8 .1-1.2-.3 .7-.5 .2-.9 .9-1.4 .2-.3-.5 0-.6-.2-.7-.3 .4-.4-.5-.2-.5-.3-.6-.7-.8-.4-.8 .4-.5 .7 0 .7 .7 .7 1.2 1.4 .8 1.4 .2 .5-.5 .5 1 .2 .3 1.6 .2 1.4 .2 1.7-.1 1.8-.1 .5 .5 .7 1 .5 .9 .7-.2-.7 .4 .7 1.1 .7 .1 1.1-.5 .1 .2 .1 1.8 .5 2.6 .7 1.2 .3 1.7 .6 1.2 .5 1.7 .7 .8 .5-.7 .5-.3 .7-.9-.1-1 .4-1.3-.2-1.6 .6-.8 1-.9 1.1-1.1 1.1-1 1-1.1 .4-.8 .7 .1 1-.3 1.1-.4 .4 .9 .3 .8 .7 .8 .6 1.3 0 1.7 .7 .1 .8-.6 .7 0 .1 1.3 .4 1.2 .3 2.1-.2 1.7 0 .9 1.2 1.2 .2 1.3 .7 1.6 .8 .9 .7 .6 .5-.1-.5-1.4-.1-1.2-.6-1.3-.7-.7-.7-.4-.3-1-.5-1.2-.1-1.7 .6-1.2 .6 .4 .8 .6 .7 1 1 .5 .2 1.6 1.2-.8 .4-.8 1.4-.9 .2-1.2-.4-2.1-1.2-1.3-.7-1.2-.3-.5 .6-1.2 .7-.8 .7-.1 .9 .1 .3 1 .6-1 1-.3 .7-.3 1.1-.5 1-.2 1.1-1.3 1-1 .5-1.1 .9-1.2 .4-1.1-.7-.6 .6-.4-.6-.8-.4-1.3-.7-1.3 .7-.8 1.4-.8-1-.6-1.4 .4-.7-.8-.2-.7 .9-.4 1.4-1.1 .7 .2-.6 1.5 .9-.6 1.2-.4 .6 .4 .1 1.2 .9 .5-.1 .8 .1 1.2-.1 .6 .8-.2 1.1-.4 .3-.8 0-.8-.7-1.3-.7-.8 .7-.4 .9-.8 0-.7 .7-.5 .7-.5 .9 .1 1.4-.8 1.7-1.4 .7-1.3 1.2-1.3 .2-1.2 .4-1.7 .3-1.1-1.2-.7-1.6 .2-.7-.6 .5-1 .9-.8 1.4-1.2 1.1-.8 1.4-.2 1.4 .1 1.7 0 1.6-.2 1.2 .5 1.4-.1 .5-.8 1.3-1.4 1.7-.1 .6 .7-.4 .6-1.2 1.9-1.1 .8-.3 1.3-.3 1.2 .3 1.3 .5 1.3 .5-.5 .7-1.1 1.1-1 1.2-.6 .3-1.2 .7 .2 .1-1.5-.6-.2 .8-1.5 1.7-.4 2.8 .2 1.7-.8 1.1-.7 2.1-.5 1.4 .1 .7-.6-.7 0-.4-1.1-.7-.3 1.1-.3 1.4-.2 2.1-.3 2.5 1 .7-.9 .7-.4 .3-1.7zM269.4 -2.2l.5 2.3-.5 .4-1.1 .8-1 .7-.1 1 .1 .9 .7 .6 1.4-.1 1.4-.2 1.4-.1 .9 .4-1.3 .4-2.1 0-1 .2 0 .7 .5 .1 .1 .7-.3 .4-.5 0-.5-.5-.7 .2-.4 .8 .1 .8 .1 .4-.5 .2-.7 .3-.7 0-.2-.3-1.2 .2-1.4 .5-.7-.3-1.1 .1-.7 .1-.1-.4-.6-.1 .4-.7-.2-.6 .2-.7 0-.6-.7 .5-.9 .3-.1 .7 .3 .4 0 .6 .2 .6-.5 .4-.8 .1-.8 0-.7 .5-.4 .7-.5 .5-.7 .3-.7 .1 0 .7-1 .5-.9 .1-.3-.3-.2 .9-.8-.1-1.1 .2 .1 .6 1.1 .3 .5 .3 .7 .8 0 1.3-.3 .9-1.4 0-1.4 0-1.7-.1-.8 .5 .2 .9 .1 .8-.2 1-.4 .9 .5 .3 0 1.1 .9-.1 .9 .3 .5 .7 .7-.6 1.7 0 .6-.6 .4-.1 .2-.7 .4-.3-.3-.6 .8-1.1 1.6-.9 0-1 1-.3 1 .3 1.1-.6 .9-.5 .9 .4 .3 .8 1 .9 1.1 .6 1.4 1 .1 1.5 .6-.4 .4-.3-.4-.7 .4-.6 1 .4-.4-.4-1.4-.8-.7-.4-.7-.6-.3-.7-.9-.8 .2-.8 .8-.2-.1 .6 .7-.2 .7 1 1.4 .9 .7 .5 .6 .5 .1 1 .5 .8 .5 .8 .2 .7 .3 .8 .6 .4 .3-.8 .2 .7 .5-1-.3-.7-.5-1.2 0-.5 .8-.2 1.4 0 .5 .3-.1 .8 .2 .8 .3 .9 .5 .5 1.1 .5 .7-.5 1.4 .6 1-.1 1.1-.3 .3 .5-.1 .8-.2 .9-.4 .8-.3 1.3-.7 .3-.9-.1 .2 1 .3 .9 .9 1 .4-1.4 .1 0-.1 1.2 .7 .8 .8 1.7 1.1 1.7 .5 1.3 .9 1.6 .7 1.7 .8 1.7 .2 1.2 .4 1.1 1-.1 2.1-1 1.4-.8 1.6-.7 1.2-1 1.1-.7 1-.8 .6-.2 .5-1.2 .9-1.7-.9-.9-1.1-.3-.5-.8 .1-1.2-.3 .7-.5 .2-.9 .9-1.4 .2-.3-.5 0-.6-.2-.7-.3 .4-.4-.5-.2-.5-.3-.6-.7-.8-.4-.8 .4-.5 .7 0 .7 .7 .7 1.2 1.4 .8 1.4 .2 .5-.5 .5 1 .2 .3 1.6 .2 1.4 .2 1.7-.1 1.8-.1 .5 .5 .7 1 .5 .9 .7-.2-.7 .4 .7 1.1 .7 .1 1.1-.5 .1 .2 .1 1.8 .5 2.6 .7 1.2 .3 1.7 .6 1.2 .5 1.7 .7 .8 .5-.7 .5-.3 .7-.9-.1-1 .4-1.3-.2-1.6 .6-.8 1-.9 1.1-1.1 1.1-1 1-1.1 .4-.8 .7 .1 1-.3 1.1-.4 .4 .9 .3 .8 .7 .8 .6 1.3 0 1.7 .7 .1 .8-.6 .7 0 .1 1.3 .4 1.2 .3 2.1-.2 1.7 0 .9 1.2 1.2 .2 1.3 .7 1.6 .8 .9 .7 .6 .5-.1-.5-1.4-.1-1.2-.6-1.3-.7-.7-.7-.4-.3-1-.5-1.2-.1-1.7 .6-1.2 .6 .4 .8 .6 .7 1 1 .5 .2 1.6 1.2-.8 .4-.8 1.4-.9 .2-1.2-.4-2.1-1.2-1.3-.7-1.2-.3-.5 .6-1.2 .7-.8 .7-.1 .9 .1 .3 1 .6-1 1-.3 .7-.3 1.1-.5 1-.2 1.1-1.3 1-1 .5-1.1 .9-1.2 .4-1.1-.7-.6 .6-.4-.6-.8-.4-1.3-.7-1.3 .7-.8 1.4-.8-1-.6-1.4 .4-.7-.8-.2-.7 .9-.4 1.4-1.1 .7 .2-.6 1.5 .9-.6 1.2-.4 .6 .4 .1 1.2 .9 .5-.1 .8 .1 1.2-.1 .6 .8-.2 1.1-.4 .3-.8 0-.8-.7-1.3-.7-.8 .7-.4 .9-.8 0-.7 .7-.5 .7-.5 .9 .1 1.4-.8 1.7-1.4 .7-1.3 1.2-1.3 .2-1.2 .4-1.7 .3-1.1-1.2-.7-1.6 .2-.7-.6 .5-1 .9-.8 1.4-1.2 1.1-.8 1.4-.2 1.4 .1 1.7 0 1.6-.2 1.2 .5 1.4-.1 .5-.8 1.3-1.4 1.7-.1 .6 .7-.4 .6-1.2 1.9-1.1 .8-.3 1.3-.3 1.2 .3 1.3 .5 1.3 .5-.5 .7-1.1 1.1-1 1.2-.6 .3-1.2 .7 .2 .1-1.5-.6-.2 .8-1.5 1.7-.4 2.8 .2 1.7-.8 1.1-.7 2.1-.5 1.4 .1 .7-.6-.7 0-.4-1.1-.7-.3 1.1-.3 1.4-.2 2.1-.3 2.5 1 .7-.9 .7-.4 .3-1.7zM22.8 29.6l-.2-1-.9-.3-.7 .2-.7 .4-1.4-.4-1.4-.2-1.4-.5-1.4-.5-.7 .7 0 .8-.7 .6-1-.6-1.4-.4-.3-.7-1.5-.5-1-.2-.7-.5-.3-.6 .6-.9-.3-.8 .4-.4-.7-.2-.2-.1-.9 .4-1.4-.1-1.1 .2-1.4-.1-1.4 .3-1.1 .6-1 .6-.7-.1-1.6-.6-.5 .1-.6 1.5-.5 .3-.7 .4-.5 .5-.4 1.3 .2 .5-.7 1-.7 .8-1 .5-1.1 1.2-.3 1.4-.7 .6-.7 2 .3 1.2 .3 .8 0 1.3-.3 1.3-.7 1 .5 1 .1 .9 .8 .8 .7 .9 .9 .8 .1 .8 .4 .9 .7 .5 1.1 .9 1.7 1.2 1.8-.6 1.4 0 .7 .2 1.4-.6 1.1-.5 1-.2 1.1 .1 .7 1.1 .7 .6 1-.2 .7 .4 .5 .8 .1 1.7-.4 .9-.3 .5 .8 2 1.1 1.2 .4 1.3 .6 2.1 .4 1.6 .1 1.3-.8 1.3-.4 1.6-.1 1.3 .5 1.2 .7 1.7 .7 1.7 .2 2.1 .5 1.7 .7 1.3 .5 1.6 .5 1.2 .3 1.7 .4 .4 .7 .3 1.4-.6 2.5-.1 1.4-.7 1-1 1.1-1.2 .3-.6 1-1.1 .3-1.9 .5-.8 1.4-1.1-.1-1.6-.3-1.7 1.1-1 .7-1.1 1.4-.8 .7-1.3 0-2.5-.2-1.3-.5-2.1-.2-1-.2-1.5 .5-.8 .6-1.3 .7-.8 1.4-1.7 1.4-1.2 1.4-2.1 .7-1.7 .9-2.1 1-1.2 0-1.1-1.6 .4-2.1 .5-1.4 .2-.5-.9-.5-.8-.7-1.1-1.1-1.4-.3-.1-.7-2-.9-.9 0-1.6-.5-1.3-.7-1.2-.7-1.7-.7-1.3-.7-1.6zM275 29.6l-.2-1-.9-.3-.7 .2-.7 .4-1.4-.4-1.4-.2-1.4-.5-1.4-.5-.7 .7 0 .8-.7 .6-1-.6-1.4-.4-.3-.7-1.5-.5-1-.2-.7-.5-.3-.6 .6-.9-.3-.8 .4-.4-.7-.2-.2-.1-.9 .4-1.4-.1-1.1 .2-1.4-.1-1.4 .3-1.1 .6-1 .6-.7-.1-1.6-.6-.5 .1-.6 1.5-.5 .3-.7 .4-.5 .5-.4 1.3 .2 .5-.7 1-.7 .8-1 .5-1.1 1.2-.3 1.4-.7 .6-.7 2 .3 1.2 .3 .8 0 1.3-.3 1.3-.7 1 .5 1 .1 .9 .8 .8 .7 .9 .9 .8 .1 .8 .4 .9 .7 .5 1.1 .9 1.7 1.2 1.8-.6 1.4 0 .7 .2 1.4-.6 1.1-.5 1-.2 1.1 .1 .7 1.1 .7 .6 1-.2 .7 .4 .5 .8 .1 1.7-.4 .9-.3 .5 .8 2 1.1 1.2 .4 1.3 .6 2.1 .4 1.6 .1 1.3-.8 1.3-.4 1.6-.1 1.3 .5 1.2 .7 1.7 .7 1.7 .2 2.1 .5 1.7 .7 1.3 .5 1.6 .5 1.2 .3 1.7 .4 .4 .7 .3 1.4-.6 2.5-.1 1.4-.7 1-1 1.1-1.2 .3-.6 1-1.1 .3-1.9 .5-.8 1.4-1.1-.1-1.6-.3-1.7 1.1-1 .7-1.1 1.4-.8 .7-1.3 0-2.5-.2-1.3-.5-2.1-.2-1-.2-1.5 .5-.8 .6-1.3 .7-.8 1.4-1.7 1.4-1.2 1.4-2.1 .7-1.7 .9-2.1 1-1.2 0-1.1-1.6 .4-2.1 .5-1.4 .2-.5-.9-.5-.8-.7-1.1-1.1-1.4-.3-.1-.7-2-.9-.9 0-1.6-.5-1.3-.7-1.2-.7-1.7-.7-1.3-.7-1.6zM34.5 64.8l.7 2.9-.3 1.3-.7 2.5-.9 3.8-.4 .4-1.4 .4-.8-1.3-.4-1.6 .5-1.7 .2-2.5 1.2-1 1.4-1.9zM134.5 -2.2l1.4 2.1 3.5 .9-2.4 1-1.1 1.5 1.1 .8 1.7 .4 0 1.2 3.2-.1-.4 1.4-2.1 .9-2.1 .8 .7 .3 2.8-1 2.1-1 1.4-1.2 1.4-1.7 .7 1.1 2.1-.9 1.4-.5 1.4 .7 2.1 0 1.1 .4 1.7 .9 .7 .4 .7 .8 .7 .5 1.4 1.4 1.4 .2 0 .9 1.4 1.6 .4 .9-.6-.2 2.3 1.8 .2 .1 .4 1.6 .1 2.1-.3 1 .1 1.9 .4 1.3 .9 1 .4 1 .9 1.7 1.5 .5 1 1.2 .4 .9 .5 1.2 1.1 1.7 1.2 1.4 1 1.5 .8 1.4-.4-1.1-1.1-1.9-.8-1.7-.9-1.7-.2-1.1 1.2 .5 1.4 2.3 .7 1.2 .5 1.3 1.3 1.3 1.3 1.2 .2 1.7 .9 1.2 1.4 .9 1.4 .8 1.4 .6 1.4 .5 1.1-.4 1 .6 .7 .8 .7 .5 1.5 .4 1 .4 .7 .8 .6 1 .1 .8 1.1 .3 .7 1 1 .6 1.1 .2 .3-1.3 1.1 .5 .4-.2-.1-.1-1-.7-.7 .2-1.1 .2-1.4-1.2-.2-.9 .3-1.2 0-1.7-1.1-.8-1.8 .1-.5 .1-.1-1.5 .6-1.3 .4-2-1.1 0-1.3 .4-.1 1.2-.7 .9-1.8 .2-1-.4-.6-.7-.8-1.6-.1-2.1 .3-1.7-.1-1.3 .9-.9 1.1-.7 1.7-.1 1.8 .2 .4-.8 .7-.2 1.4 .2 1 .3 1.1 .8 .2 1.2 .8 1.5 .8 .5 .3-1.1-.4-1.7-.5-1-.1-1.1 .6-1.1 1.1-1 1-.8 1.4-.7-.3-1.3 .3-1 .4-.7 .7-1.3 .1-.2 1.3-.3 1-.5 .4-.1-.5-.7 .3-.9 1.6-.6 .7-.4 1 1.1 1.4-.9 1.8-.5 .7-.7-.4-.8-.7 1.1-2.1-.4-.3-1.4 .5-.9-1.6-.2-2.4 1.4 2.1-1.5 1.7-.8 3.2 0 1.9-1.1 .9-.8-.7-1.7-2.1-.8-1.1-1.3-.7-1.2-1.4-1.5-1 1.2-1.4 .5-1.1-1.1 0-1.2-1.7-.7-1.4-.4-2.5-.2-.3 1.7 .3 .4 .4 1.7 .3 1.7-1.7 1.2 0 2.1-1.1 .6-1-1.3-.4-1.9-1.7-.1-2.1-1-1.8-.6-1.4-.3-1.2-1.1-.2-1 .3-1.2 1.1-.9 1.2-.8 2-.6 .7-1.5 0-1.7zM198 47.6l1-.8 .3-.8 .7-.5 1.1-.2 1-.9 .4 .7-.4 .4 1.1-.4-.2-.5 .9 .6 .7 .7 1.4 0 1.4 0 1.4-.1 .3 1 .7 .8 1.1 .5 .7 1 1.4 .8 1.4 0 1.4 .8 .7 .7 .7 1.8 0 1.6 1 .8 1.8 0 1.4 1.2 1.4 .3 1.7 .2 1.4 1.2 1.6 .7 .3 1.8-.3 1.3-1.2 1.7-1.1 1.6-.3 1.7-.2 2.1-.5 1.7-.7 2.1-.7 .8-1.4 0-1.8 .8-1 1.3-.4 1.7-.7 1.2-.7 1.3-1 1.2-1.1 1.5-.7 .9-1.4 0-1-.4 .3 1 .4 .8-.4 1.3-1 .6-2.1 .2-.4 1.3-1.7 .4 .3 1.2-.3 1.3-1.8 1.7 1.1 1.2-1.1 1.3-.7 1.2-.3 1.3 .3 .4 0 .8 1.4 1.3-1 .4 .5 .3-1.9-.5-1.4-1-1.4-1.3-.7-2.1-.4-2.1 .7-2.1 .7-1.7-.1-1.2 .1-2.9 .7-2.1 .6-2.1 .1-2.5 .4-2.5 .3-2.6 .2-3.3 0-1.4-.9-.9-1-.6-1.4-1-1-1.5-.6-1.3-.9-2.1-.7-1.7-1-1.2-.3-1.1 .6-1 .4-.9-.7-1.2 .7-1.3 .7-.8 .3-.8 .7-1.3 .1-2.1-.3-.8zM79.9 73l1.7-1 1.4-.3 1.8-.6 .9-1.3 .8-1.2 .7-.9 1.1-1.2 1 0 .7 .8 .7-.2 .5-1.5 .4-.5 1.2-.7 1.1 .4 1.4 0 .5 .4-.5 .9-.4 1.2 1.4 1 1.4 1.1 .9 0 .5-2.1 .1-2.1 .6-1.5 .7 1.5 .2 1.3 1.1 .8 .1 1.6 .6 1.8 1.5 1 .7 1.5 .9 .8 1.2 1.5 .5 1 .3 2.1-.4 2.1-.9 1.6-.4 .8-.5 1.4-.3 1.2-.1 .5-1.3 .2-1.1 1.1-1-.7-.4-.1-.7 .5-1.4-.3-1-.8-.2-.8-.9-.7 0-.7-.5-1.4-.2 1-.3 .6-.4-.9-.7 .7-.1-1.5-.9-.4-1.4-.6-2.1-.1-2.1 .5-1.4 .6-1.5 .7-1.7 .3-1.1 .7-1.3-.2-.7-.4 .5-.7 0-1.3-.5-1.6-.4-1.3-.7-1.7 .2-1.6 0-1.3zM101.3 88.8l2.6 .2-.2 1.7-.9 .5-.9-.9-.5-1zM121 83.5l1.2 1.2 .7 .6 .4 .9 1.4 0 .3 .1-.4 1.1-.6 .4-.4 .9-.9 .9-.4-.3 .3-1.1-.7-.4-.1-.2 .5-.6-.2-1.3-.9-1.2zM121 88.7l1.1 .5-.3 1.1-.7 .9-1.1 .7-.5 1.3-1.1 .6-1.8-.5 .3-.9 .8-.8 1.7-1 .7-.9zM66.8 50.1l1.5 .3 .7 1 1.4 1.7 1.4 .8 .9 1.3 .5 1.1 1.1 1-.2 2.3-.9 .1-1.5-1.6-.9-1.3-.5-1.2-.9-1.7-.7-1.2-1.1-1.1-.9-1.2zM76.4 53.5l.4-.4 1 .4 1.4-1.4 .7-1.1 1-.7 .9-1.4 .7 .7 1 .8-.8 .8-.2 1 .7 1.7-.9 .4-.1 1.3-.6 1.2-.3 1.1-1.1-.2-1-.3-1.1-.1-.9-.2-.1-1.1-.7-1.2zM91.8 55.6l1-.5 1.1 .4 .7 2 1.7-1.5 1.8 .8 1.4 .6 1.7 .7 .9 1.1 1.2 .6 .2 .6-.5 .2 .7 .8 .7 .9 1 1.1-.7 .1-1.4-.4-1-1.4-1.4-.6-.7 1.2-1.4 .2-1.1-.9-.7 .1-.3-1.9-.7-.9-1.4-.5-1.4-.3-.7-1 .7-.3-1.1-.8zM213.7 -2.2l1 1.7 1.4 1.7 1.4 1.2 1.1 1.3 1.7 .7 1.4 .3 .7-.6 .7-1.3 .7-1.2 1.1-1.3 2.1-.6 2.8-1.9zM209.5 -2.2l-.7 1.7-2.1 1 .3 1.3-2.4 .9-2.8-.5-2.1-1.4-2.1 0 .7-3zM191.6 1.2l2.5 0 1.7 .4 .2-.7-.5-1-3.2-.4-.7 .8zM210.7 14.9l2.3-1.7 .3-1.6 1.8 1.7 .2 1.7-.6 .7-1.4-.3-1.4-.5zM212.3 107.7l-1.4 .6-2.1 1.3-.7 2.1 5.6 0-1.1-3.4zM19.3 20.2l.1-1.9 1.1-1.5 1-1.1 .8-.2 1 .5-.5 .7 .7 1 1-.3 1.1-.7 .9 .5 1.2 1 1.6 1.7-1.3 .7-1.4 .1-1.4-.6-1.4-.3-1.7 .6-1.8 0zM24.5 16.5l.4-.7 1.4-.5 1.2-.1-.7 1-.9 .6-.3-.1z" fill="#acacac" fill-rule="evenodd" stroke="#fafafa" stroke-width="1.3" stroke-linejoin="round" stroke-opacity="0.9"/>
<path d="M32.9 17.9l.4-1.2 1-.9 1.8-.4 1 .2 0 1.2-1.2 .7-.7 .2 .5 1.1 1.3 .8 0 .6 .1 1.1 .6 .4-.2 1.2 .3 .6-1.7 .4-1.1-.5-.7-.6 0-.3 .4-1.4 .5-.2-.5-.2-.7-.9-.7-1zM40.8 16.7l.9-1 1.4 0-.4 1.4-.7 1-1 .2zM187.7 15.7l1.4-.5 1.5-1.2 1.7 .4 .7 1.4-1.7 0-1.8-.2zM190.7 19.8l.6 0 .5-1 .5-2.1 .4-.5-1.8 .2-.3 1.1 .1 1.3zM193.4 18.8l1 0 .6-1.3 1.2-.3-.4-1-2.4-.1 .3 1zM193.7 20l1.4 0 1.8-.9-.2-.3-1.6 .4-1.2 .3zM196.3 18.6l2.5-.2 0-.7-2.3 .5zM182.8 12.5l1.8 0-.4-2.8-1 0zM22.4 55l1.4-.5 .6 .9-.9 1.7-1.2-.7zM72.6 11.6l1 0 2.8-2.1 .5-1.5-.7 0-1.6 2.4zM21 4.4l1.8-.4 .2-.6-1.3-.3-.8 .6zM24.2 3.7l1-.2 .4-1.1-1.1-.2-.5 .6zM51.5 15.8l.7 .9 2.1-.5 1.4-.6-.4-.4-1.4 .6-1.7-.2zM9.5 44.3l1-.3 0-.8-.8-.2zM20.5 57.7l.5 0 .9 3.7-.5 .5-.7-1.7zM23.8 62.7l.4 0 .5 2.9-.2 1.1-.5-1.5zM170.2 3.7l2.8-.2 2.8-.8-1.4-.4-3.1 .5zM174.4 5.7l2.1-.4 1.4-.2-1.4-.2-1.7 .5zM180.4 7.4l.6 0-.1-1.2-.6 .2z" fill="#fff"/>
</g>
<rect x="0.85" y="0.85" width="250.50" height="107.80" fill="none" stroke="#fff" stroke-width="0.8" stroke-opacity="0.75"/>
<rect x="0" y="0" width="252.2" height="109.5" fill="none" stroke="#333" stroke-width="1"/>
<text transform="translate(-2.4,5.8) scale(0.85,1)" class="tl" text-anchor="end">60N</text>
<line x1="0" x2="1.2" y1="4.5" y2="4.5" stroke="#444" stroke-width="0.5"/>
<text transform="translate(-2.4,14.2) scale(0.85,1)" class="tl" text-anchor="end">50N</text>
<line x1="0" x2="1.2" y1="12.9" y2="12.9" stroke="#444" stroke-width="0.5"/>
<text transform="translate(-2.4,22.6) scale(0.85,1)" class="tl" text-anchor="end">40N</text>
<line x1="0" x2="1.2" y1="21.3" y2="21.3" stroke="#444" stroke-width="0.5"/>
<text transform="translate(-2.4,30.9) scale(0.85,1)" class="tl" text-anchor="end">30N</text>
<line x1="0" x2="1.2" y1="29.6" y2="29.6" stroke="#444" stroke-width="0.5"/>
<text transform="translate(-2.4,39.3) scale(0.85,1)" class="tl" text-anchor="end">20N</text>
<line x1="0" x2="1.2" y1="38.0" y2="38.0" stroke="#444" stroke-width="0.5"/>
<text transform="translate(-2.4,47.7) scale(0.85,1)" class="tl" text-anchor="end">10N</text>
<line x1="0" x2="1.2" y1="46.4" y2="46.4" stroke="#444" stroke-width="0.5"/>
<text transform="translate(-2.4,56.0) scale(0.85,1)" class="tl" text-anchor="end">EQ</text>
<line x1="0" x2="1.2" y1="54.8" y2="54.8" stroke="#444" stroke-width="0.5"/>
<text transform="translate(-2.4,64.4) scale(0.85,1)" class="tl" text-anchor="end">10S</text>
<line x1="0" x2="1.2" y1="63.1" y2="63.1" stroke="#444" stroke-width="0.5"/>
<text transform="translate(-2.4,72.8) scale(0.85,1)" class="tl" text-anchor="end">20S</text>
<line x1="0" x2="1.2" y1="71.5" y2="71.5" stroke="#444" stroke-width="0.5"/>
<text transform="translate(-2.4,81.2) scale(0.85,1)" class="tl" text-anchor="end">30S</text>
<line x1="0" x2="1.2" y1="79.9" y2="79.9" stroke="#444" stroke-width="0.5"/>
<text transform="translate(-2.4,89.5) scale(0.85,1)" class="tl" text-anchor="end">40S</text>
<line x1="0" x2="1.2" y1="88.2" y2="88.2" stroke="#444" stroke-width="0.5"/>
<text transform="translate(-2.4,97.9) scale(0.85,1)" class="tl" text-anchor="end">50S</text>
<line x1="0" x2="1.2" y1="96.6" y2="96.6" stroke="#444" stroke-width="0.5"/>
<text transform="translate(-2.4,106.3) scale(0.85,1)" class="tl" text-anchor="end">60S</text>
<line x1="0" x2="1.2" y1="105.0" y2="105.0" stroke="#444" stroke-width="0.5"/>
<text transform="translate(0.0,114.6) scale(0.82,1)" class="tl" text-anchor="middle">0</text>
<line x1="0.0" x2="0.0" y1="108.3" y2="109.5" stroke="#444" stroke-width="0.5"/>
<text transform="translate(42.0,114.6) scale(0.82,1)" class="tl" text-anchor="middle">60E</text>
<line x1="42.0" x2="42.0" y1="108.3" y2="109.5" stroke="#444" stroke-width="0.5"/>
<text transform="translate(84.1,114.6) scale(0.82,1)" class="tl" text-anchor="middle">120E</text>
<line x1="84.1" x2="84.1" y1="108.3" y2="109.5" stroke="#444" stroke-width="0.5"/>
<text transform="translate(126.1,114.6) scale(0.82,1)" class="tl" text-anchor="middle">180</text>
<line x1="126.1" x2="126.1" y1="108.3" y2="109.5" stroke="#444" stroke-width="0.5"/>
<text transform="translate(168.1,114.6) scale(0.82,1)" class="tl" text-anchor="middle">120W</text>
<line x1="168.1" x2="168.1" y1="108.3" y2="109.5" stroke="#444" stroke-width="0.5"/>
<text transform="translate(210.2,114.6) scale(0.82,1)" class="tl" text-anchor="middle">60W</text>
<line x1="210.2" x2="210.2" y1="108.3" y2="109.5" stroke="#444" stroke-width="0.5"/>
<text transform="translate(252.2,114.6) scale(0.82,1)" class="tl" text-anchor="middle">0</text>
<line x1="252.2" x2="252.2" y1="108.3" y2="109.5" stroke="#444" stroke-width="0.5"/>
<text x="1.7" y="16.0" class="pl">d.</text>
</g>
<g transform="translate(13.6,254.6)">
<rect x="0" y="0" width="252.2" height="109.5" fill="#f3f2fb"/>
<g clip-path="url(#mclip)">
<g filter="url(#bl)"><path d="M-2.8 111.7l257.8 0 0-113.9-257.8 0z" fill="#f4f2fa" fill-rule="evenodd"/><path d="M-2.8 111.7l257.8 0 0-13-257.8 0zM125.3 53.1l.8 .5 2.1-1.7 2.8 1.2 2.1-1 3.5 1.2 1.4-.3 4.2 .7 1.4-.3 .4-1.2 1-.4 1.4 1.4 1-.1 1.1-1.1 2.1 .4 1.4 1.2 1.4 .2 2.1-.6 .9-1.8 1.2-.4 .6 .4 .1 1.5 2.8 .7 7-.9 2.1 .6 4.2-1.5 2.1 1.4 2.1-.7 2.8 .5 1.4-.9 2.1 0 1.4-.7 .7 .6 2.9-.2 1.4 1.2 2.1-1.5 2.8 .8 3.5-.2 2.1-1.8 1 1.1 1.8 .6 1.4-.6 2.1 .3 2.8-.6 2.8 .1 .7-.3 .7-2.2 .7 .2 2.1 2.8 7 .1 1.4-.7 2.1 .6 2.1-1.3 1.4 .3 .7-.4 .7-2 2.1 3 2.1-.9 4.2 .3 1.4-1.2 2.1-.8 2.1 .7 .7-1.3-1.4-2-2.1 .4-1.4-2-2.8 .2-1.4-1.6-3.5-.4-2.1 .4-1.4 .9-2.1-1.3-2.8 1.7-2.1-.1-1.4-1.4-2.1-.6-3.5 2-2.8-1.9-2.8 .5-2.1 1.1-1.4-1.4-2.8 0-1.4-.5-3.5 .7-.9 1.1-1.2 .4-2.8-3.8-2.8-.2-1.4-1-2.1-.1-1.8 .5-1.1 2.5-.7-1.7 1-.8 .2-.9-.5-.7-2.1-.6-.7-2.1-3.5-1.2-2.1-.1-.6-1.1 1.4-4.2 2.4-.8-1-3.4 .2-2.5 .4-.9 .7-.2 1.4 .7 1.1-1.3 .3-1.1-1.4-.5-.1-.9 .8-.5 1.2-2.8-.5-.5-.9 1.3-1.5 0-.2-1.7-2.2-2.5-.1-1.7-1.4 .2-3.5 2.8-.7-.1 .9-3.7-2-.8-1.7-1.7-.6-2.5-1.5-.9 .1 1.7-1.5 2.1-1.9-2.9-1.6-1.1-.7 .2 .5 1.7-.5 .9-1.4-2-5.6-2.8-.7 .2-.4 1.2 .5 2.5-.8 .6-1.2-1.4-.8-2.5-1.5-1.4-.9 .5-1.2 2-2.1-2-2.1 1.4-1.4 1.8-2.3 .2-.3-.9 1.2-3.1-4.2 .7-1.2-2.6-1.5 0-.7 1.7 .5 2.5 1.1 1.7-.3 1-.7 0-.5-1.9-2.3-1.1-1.4 1.6-.3-2.1-1.8-2.2-2.1 0-.5 .5 1.1 2.5-1.3 .5-4.9-2.5-.7 1-2.1-2.1-.5 .6-.2 2.9-2.1-.9-1.4 .6-.7-1.1-3.5-1.2-3.5 2.5-3.5-.7 1.4 2.9-.7 2.1-.7-.2-.7-2.1-.7-.4-2.8 .8-1.4-.9-2.1 .1-1.4 .6-1 1.7-2.9 .8 .4 2.5-.7 1.2-.6-1.2 .3-.8-1.1-.5-4.2 5.4-1.4-2.2-1.3 2.3 .5 1.7 1.5 .5 0 2-.7 .7-.7-.5-1.4 .2-.8 1.3 1.5 .2 1.4-.9 .4 1.5-1.1 1.7 1.7 3.3-2.4-.3-2.1 .6-.6 7.3 2 1.7 2.1 3.3 1.4 1.1 2.1 .3 .7 1.5 .7-.2 .6-1.9 .8-.4 2.1 1.2 1.4 .1 2.1-.8 1.4 1.7 .7-1.6 1.1-1-3.2 .7-.3-4.9 3.1-2.4 1.2 .7-.5 3.1-2.2 .3 3 .8 2 1.6 2.1-1.7 1.2 1-1.3 1.6 .3 1.7-.9 .4-2.1 2.7-2.1-2.2-1.4 1.7-2.1-.5-.7 .5-2.1-.2-1.4 1.9-1.4-2.1-1.4 .2-1.4-.5-1.4 2.3-1.4 .7-1.4-.5-.7-1.4-.7 0-2.9 1.2-.6 1.9-2.1 0-.7 .6-.4 .9 .4 1.3 1.4 .7 2.8-.5 1.4 1.1 2.1 .2 2.8-1.4 2.1 .8 .8-.6-.4-1.6 1.7-.7 2.1 1.9 2.8-.1 .7 1.6 1.4-.1 2.1 1.1 .8-.4 .6-1.3 .7 .1 .7 1.3 2.1-.5 1.4-1 2.1 2.2 2.8 .2 .8-1.8 .6-.2 .7 .2 1.4 1.4 3.5-.6 1.4 1zM127.5 38l0-1.5 .7-.4 .3 1.1zM131.7 23.6l-.1-.7 .6 0zM133.8 40.9l-.5-1.2 .5-.8 1.5 1.6zM136.6 27l-.4-.7 1.5 0zM141.5 42.1l-.7-1.1-1.4-.8 0-1.1 3 1.4-.2 1.6zM145 11.4l0-.3 .9 .1zM150.6 24l0-1 .5 .8zM156.9 41.9l0-.8 .7 .1zM158.3 39.2l-1.3-1.2 .1-.8 2.6 .4 .2 .4-.6 .8zM161.1 44.8l0-1.1 .7-.1 0 .8zM165.3 40l0-.5 .8 .2zM166.7 34.1l0-.6 .9 .3zM168.8 34.3l-.6-.5 .6-.9 .7 0 .4 .9zM173 16.3l.7-1.6 .7 .1 0 1.4-.7 .5zM173.7 38.1l-.7-.9 1.4-2.4 .7 .1 .7 1.4-.3 .9zM176.5 29l0-1.3 .7-.6 1 .9-.1 .8zM203.9 48.2l-.8-1 .8-.5 .8 .5 0 .9zM214.4 46.4l-.7 0 .7-1.7 .3 .8zM220.7 51.1l-.8-1.4 .8-1.2 .7 .4zM178.6 18.2l-.4-2 1.1-2.3 .7-.1 1.7 2.4-.3 .9-2.1 1.3zM84.8 26.4l0-.6 1.4-.8 1.8 .4-1.8 1.2zM88.3 33.4l-.6-1.3 .6-.4 .8 .4 .1 .9zM91.1 19l-.6-2.8 .6-.7 2.1 .3 1.1-2.1 1-.3 0 1.4-2.1 1.9-1 2.1zM98.1 30.2l-.8-3.1 .8-.5 1 1.4zM103.7 45.8l-.5-.3 .7-.8 1.2-.3 0 1.4zM106.5 40.7l-.5-1 .5-1.3 .7 1.3-.1 .8zM107.9 31.4l.7-1 .2 .9zM113.5 43.1l-1.4-1.7 0-2.7-.7-.2-2.1 1.1-1-.8-.1-.8 .4-.9 4.9-2.3 1.1 .7 .2 1.7-.8 1.6 .9 2.4 .6 .2zM116.3 41.9l-.7-.5 1-1.7-.3-1.2 .7-.1 .2 3zM117.7 25.2l-.6-.6 .3-.8 1-.2 0 1.4zM121.2 40.9l-.1-1.2 .8-1.2 1.4 .2 0 1.3-1.4-.1zM122.6 43.1l.7-.4 .2 .3zM124 11.5l0-1.2 .8 .9zM126.8 9.9l-.4-.4 .4-.9zM128.2 19.1l0-.6 1.1 .3zM135.2 15.7l0-.7 .5 .4zM161.8 40.7l-.6-1 .6-.7 2.1-.2-.7 1.3zM86.2 18.6l-.2-.7 .9-.9 .3 .9zM112.1 28.8l0-.8 .7-.3 0 1.6zM113.5 32.8l-.7-1.5 .7-.6 .7 .6zM122.6 21.4l-.6-1 0-.8 .6-.3 .7 .6 .3 1.4-.3 .4zM163.2 26.6l-.6-.3 .6-.4 .6 .4zM44.9 50.6l2 .4 1.4-1.8 1.4-.3 2.1 .3 1.3-1.1-1.9-8.4-2.9-1.4-.7-2.2-2.1 .1-.7 2.1-.7 .5-1.4-1.7-2.8 1.3-.8-.4 .1-1-1.4 .8-2.1-.3-.9 1.3 1.6 2.7 .3 1.5-1.7 .7-1.4-1.6-.8 .9 .4 1.7 1.3 1.7 1.9-.2 1.4 2.1 .7-.6 .7 .3 .7 1.5 3.5-.5zM71.4 48.1l.8-.3 1.4-2.5-2.2 1.1zM-2.8 46.4l0 .4 .9-.4zM248.2 45.5l.5 .6 .5-.6zM228.1 37.2l.7 0 1-1.2 .7 .1 1.4-2 2.1 .3 2.8-1.4 1.4-2 2.1-.5 2.1 .4 3.5-3.5 2.8 .9 1.4-1.4 1.4 1.1 3.5 .6 0-9.1-.7 .5-1.4-.8-.7 .3-1.4 3.5-1.1-.9 .6-2.5-.9-1.1-3.5 2-.7-1.1-2-.6-1.6-3.4 2.9-3.8 .4 .5-1.7 4.1 .6 1 1.4-.1 .3-1.7 1.9-2.5-.8-3.9-3.5-.3-.7 1.2-.7-.6-1.4 .4-.4-.2 .9-1.6-.9-2.5-2.4 .6-1.4-.8-1.4 1.5-2.1 0-.7-2.2-1.4-.6-2.1 .9-1.4-.8-1.4 1.3-.7 1.7-.7 .1-1.4-.8-.4-1.8-1-.5-1.4 4.9-1.1-1-.3-2.1-.7-.3-1 .7-.4 1.3-.7-2.1-1.4-.3-.7-.9-1.4 3.5-1.4 1 1.1 1.7-.7 .8-1.8 .2-1.4 1.1-.6-.4-.5-.9 .4-.3 2.1 .2 .4-.7 .1-.9-1.9-2.5-1.1 .9-.3 2.5-1.4 .2-.7 .7-2.1-.5-1.4 .8-1.4-1.7-1.4-.2-.7 1.5 .9 .9 .6 1.6 1.4 .9-1.5 2.7-1.4 0-1.2-1.1 .5-3-2.1 2.7-.7 .1-1.4-1.5-.7 .8 .5 1.8-.8 2.5 .3 1.4 1.8-1.4 .2-1.7 .8 0 .1 .9-.7 .8 2 1.7-2 1.6-.1 2.2 1.4 .1 1.4-2.6 1.4 .1 .9 1.9 .5 4.9 1.4-.6 1.5-2.6 2-.2 1.4-1.7 .7 1-1 1.7 .3 1.7 1.7 .8 .2 1.7 1.6 .2 2.1 1.4 1.4-.5 1.4 1.7 1.4-1.4 1.4-.2 .8 1.3 .6 2.8 1.4-1.5 2.1 .1 .7-.5 .1-2.6 .6-1 .7 .5 1.1 3.1 1.7 .6zM229.8 23.2l-.9-1.1 .9-1 .8 1zM234 13.6l-.4-1.5 .4-.5 1.4-.7 .7 .4 0 1.5zM234.7 15.8l0-.9 .8 .5zM199 22.2l.7-2.3 .5 1.4zM210.2 27.6l-.4-1.3 1.1-.5 .7 1.3zM212.3 31.7l-.4-1.2 .6-1.7 1.2 0 .8 .8-.1 1.2-1.4 1.1zM213 11.3l-.4-.9 .4-.7 .7 .7 0 .8zM204.2 32.1l1.8 .8 1.1-.8-1.2-.8-.6-2.3-2.1-1.5-1.3 3 .5 .8zM180.4 31.3l.5 0-.2-1.1-1 .3zM-2.8 29.6l.7-.8-.7-.1zM192.7 29.6l.7 .1 1.3-1.7-.6-1.4-.7 0-.9 1.4-.2 .8zM.8 28.8l1.3-.4 .7-1.4 2.1 1.4 2.1-.8 3.5 1.4 .8-.2 .6-1.9 2.1 2.4 .7 .1 1.4-1.1 4.9 .2 .7-1.6 2.1 1.1 1.4 0 .7-.9-2.1-1.8 0-1.2 3.5 .5 .7-.9 2.1-.8 .4-1.6-.4-2.2 1.4-1.2 0-1.1-.7-1-1.9 .4-.9-1.4-1.4 .6-1.4-1.2-2.1 0-2.8 .8-1.4-.2-1.8 3.1-2.4 1.1-3.5-1-3.5 .5-2.8 1.3-2.8-1.3-.7-1.5-.7-.6-.7 .3-.7-1.1-.5 1.5 .5 .4 .7-.3 .6 2.4-.6 .5-.7-.2-.7-.3-.7-1.5-.7 .1 0 9.5 2.1-.2zM189.6 28l.3 .3 .4-1.2-.4-2.1-2.1 1.3zM184.8 26.3l1.5 .5 1.3-.5-2-2.7-1.2 1zM187 21.3l.7 .4 .7-.4 .4-.9-.4-.7-.7-.3-.7 .6zM248.8 16.2l.6 .6 .5-.6-.5-.8zM185.4 13.7l2 0-.4-1zM-2.6 12.9l.5 .6 .8-.6-.8-1.7zM249 12.9l1.1 .2-.1-1-.6-.3zM10.8 12.1l3.9 .5 3.5-.9 .5-1.3-.7-1.7 1.6-.1 2.4-1.6-1-3.9-2.1-.7-.9 .4-.4-2.5-.8-.5-4.9 .8-1.4 1.4-3.5 .4-1.5 1.3-.3 1.7 1.1 2.2 2.1 1.2 1.4-.5 .8 .4-1.1 2.5zM85.2 9.5l.3 .4 1.1-.4-.3-2.5-.9 .9zM204.4 8.7l.5 0-.3-1zM209 6.2l.5 .4 .6-.4-.6-1.5zM88.1 5.4l.2 .7 2-.7-1.3-.8zM143 -.5l1.7 0-.4-.4zM132.8 -1.3l.9 0-.4-.9-.6 0z" fill="#faf6f9" fill-rule="evenodd"/><path d="M130 51.4l3.1-.4 4.2 .5 1.3-1.8-.8-.8 .9-.7 .5 1.5 2.3 2.1 4.2-1.4 1.4 1.3 1.4-.8 2.1 0 1.4 .9 1.4-1.1 1.4 .9 1.1-1-.4-1.8 1.4 1.6 1.4-.2 1.4 1.3 2.1 .5 6.3-.5 2.1 .4 2.1-1.1 3.5-.1 1.4-1 1.4 1.5 1.4 .4 .8-.2-.1-2.9 2.8 2.5 1.4-.2 1.4-1.3 2.1 .9 2.2-.2 .7-.5 .7-1.7 .7 1.7 .7 .1 1.4-.9 .7 1.6 2.1-.9 1.7-2.4 2.5-.2 2-1.5-1.3-1.1-4.2 .5-2.8-3.7-4.2-1.2-2.2 0-2.1 2.9-2.8-3-.7 .3-.7 2.1-.7 .1-.7-3.2-2.1-.7-.7 2-.8-.8 .7-.9-1.3-1.1-2.1 1.4-3.2-.3-.6 2.6 .9 1.6-2 2.6-.7-.1 .2-4.1-.9-.8-3.5 1.9-2.1-.1-.4 .6 .4 .9 1.4 .8 .2 .8-.2 .8-.7 .1-1.4-1.3-2.5 1.3 .3-2.5-1.3-1.4-2.8 .8-1.4-1.3-2.1-.4-2.8 2.2-2.1-1-1.4 1.7-.7-.1 .4-2.2-1.8-1.9-1.4 2.3-2.1 .6-.7-1.1-1.7-.7-1.1-1.8-.7 .2-.7 2-2.1 .8-1.4-.9-1.4 .8-1.4-1.9-.7 .1-1.3 3.2-.8 .2-.7-1.8-1.3-.1-.3 4.2 1.9 .8-1 2.1-1.4-2-2.1-.3-.6-1.5 .2-1.6-1-.9-4.9 .4-1.4 1.2-2.1-.7-.7 2.1-.7 .3-1.6-.8 .6-1.6-.4-.7-1.4-.3-.7 .4-.3 1.4-1.8 2.4-2.8-.1-2.1-1.6-1.4-.1-.7-1-1.8 .4-.4 .8 .3 1.7 1.9 2.6 .6-.9-.3-2.5 .4-.6 1 .6 0 1.7 1.8 .3 1.4 1.3 2.1-.7 1.4 .9 2.1-1.6 1.4 1.5 2.1 0 1.4 .8 2.1 .2 1.4-1 .7 .1 .7 1.1 2.1 .2 1.3-.6 .1-.7 2.1 1 2.8 .1 1.4-.5zM137.3 45.8l0-1.4 .5 1.1zM168.1 43.9l0-1 .5 1zM172.3 49.3l0-1.9 1.1 .7-.4 1.4zM128.9 49.4l-1.1-1.3 1.1-1.4 1 1.4-.3 1.2zM218.5 50.6l.8-.5 .7-1.9 1.2-1 .2-.8 .7-.1 .2 3.4 1.9 1 2.1-.8 2.1 .5 2.1-1.2 1.4 .5 .5-1.6-.7-.9 0-1.7-1.9-1.6-2.8 1.2-2.1 .1-1.4-.8-2.8-.4-2.1 1.6-2.1-.8-.7 .3-1.4 2.1-.7 .2-1-1 0-1.7-.4-.2-3.5 1.6-.7-.3-2.5 .6 .2 2.5 2.3 1.1 2.1-1.2 1 .9 1.8 .3 1.4-1.9 .7-.1zM235.2 49.7l.9 .1 2.9-1.7-.8-3.1-.7 .3-1.4-1.3-1.4 .7-.9 1.7zM202.2 48.9l1 0-.7-.8zM41 48.1l1.5-.9-.5-.5-1.3 .5zM92.1 48.1l1.6 0 .8-.9-.1-1.7-.5-.3-1.8 1.2-.5 .8zM240.5 48.1l1.9-.1 .7-1.1-.7-.7-2.1-.1-.5 1.1zM44.6 47.2l.9 .7 1.4-.9 1.4 .5 .9-1.1-1.7-4.2-.2-2.5-1.1-1.3-.6 1.3-.1 2-2.8-.1-.6-1.1-.8-.2-1.1 1.1 .4 2.1-3 2 .9 .7 2.1-.5 2.1-3.1 1.6 2.9zM85 47.2l.5 .8 .9-.8-.9-.5zM87.9 45.5l1.1 .9 .7-.9-.7-1.1-.9 .3zM89.7 37.2l.8 0 1.3-1.4 1.9-.3 0-.8-1.6 0-.3-.9 4.4-3.3-.9-.7-1.4 1.5-2-1.7 2-1 1.4 .9 1.4-.1 0-3.1 1.4-.5 .7 .1 .9 1.2-.5 2.5 .3 1.1 .7 .5 1.4-.3 2.1 1.5 1.4-1.3 .7 0 .4 1-.4 1.7 2.8 1.3 1-.4 .3-.9-2-1-1-1.5 1.7-1.8 3 2.6-.1-4.1 .6-1 .7-.1 2.8 6.1 2.8 3.1 .7 .2 1.4-.8 2.1 0 2.1-4.5 1.4 4.3 2.1-.3 3.5 2.4 1.2-.2 .5-.9-1-1.1-1.4 .2-1.9-2.4-.2-.9 .7-.5 2.1-.2 2.1 2.1 1.4-.6 1.4 1.7 2.1-.4 1.3 1.3-1.3 .8 .7 .5 3.2-1.3-.3-.8-1.5-.3-.1-1.4 .8-.5 2.8 .4 1.4 1.3 2.8-.3 2.1 .4 2.1-.6 .7-.9 2.8-1.3 1.1 1.5-.5 1.7 1.5 1.1 2.4-1.1 .4-2.3 2.1-1.7 .9 .6 .5 2.4 .7 .5 .9-2.1-.8-1.6 1.3-.9 .7-2.7 2 1.9-.3 2.5 1.1 .6 .7-.5 1.4-3.2 .8 .6 .6 2 .9-2-.7-.8-.1-1.7-.9-.9 .2-.8 .6-1.5 1.4 1 .7-.1 1-1.9-1.2-1.7-.2-1.6-1-.8-1.1 .8-.8 4.1-.9 .1-.7-.6-1.2-2 2.5-2.5-1.3-1.7 1.3-3.3-.5-.8-2.9-1.1-1.4-1.8-2.8-1.8-.7-.1-.7 2.2-1.4 .8 .3-4.1-3.1-1.3-1.7 4.6-1.1 .7-.7-.7 0-2.1-1.4-.1-1.4-1.3-1 .2-.4 .6-.7-1.6-1.4-.2-1.4-1.4-2.1 .4-2.1 1.3-5.6-1.3-1 1.4-1.1 .2-1.4-.8-2.8-.2-2.1-2.6-.8 1.7 .8 1.7 0 1.4-1.8-.6 .2-1.7-.5-.4-2.8-.7-1.2 1.1-3 .8-2.1 2.3-.6 1.9-.8 .3 0-5.3-.7-1.1-1.1 .3-1 3.4-4.2-.4-2.8-.9-.9 .4-.7 1.7-1.2 .3-1.4-.3-.7-1.7-1.1 .8 .9 1.7-1.2 .6-1-.6-.5-1.7-2-.9-1.2 2.6 .5 .8 1.6 0 .3 .9-1.9 2.5 2.1 3.8 .1 2.1 .6 .6 2.1-.3 0 2.2-.7 .2-1.4-.9-1.8 .7-.1-4.2-.9 0-1.4 2.8-1.7 .5-.1 .9 1.4 2.5 0 1.6-1 1.3-.5-.4 .1-1.7-.5-.8-1.9-1.5-.7 .3-1.2 2.8-.9 .9-2.1 1.1-3.5-.6-.4 .3 .6 1.7-.7 2.5 1.6 1.7-.3 2.5 .6 .8 2.1 .8 1.7-.8-1-.8-.2-.8 .5-.9-.3-1.7 .7-1.1 2.1 1.1-.1 1.7-1.3 2.5zM104.4 15.1l-.6-.5 .1-.9 1.2-.8 .5 1.7zM107.2 23.1l-.9-1.8 .9-2.4 1.2 3.2zM111.4 15.2l-.6-.6 .6-.5zM112.1 11.2l-.7 0-1.1-1.7-.3-1.4 .7-.3 1.8 1.7 .3 .9zM116.3 14.7l-.9-1 .2-1 .7-.2zM117.7 31.3l-1.2-2.5 .3-2.5-.4-1.7 1.2-1.7 .8-.1 .6 1-.1 1.6-1 1.7 .7 3.4-.2 .7zM119.8 17.2l-.6-1 1.3 0 0 1.6zM121.2 32.3l-.8-1 .9 0zM123.3 22.3l-1.6-1-.9-2.5 .4-.6 2.6 .6 .3 3.3zM128.2 26.4l.7-2 1.2 .2-1 1.7zM131 29.2l-.7-1.3 .7 0 .5 .9zM135.2 16.4l-.8-1 .5-.8 1-.3 .3 1.1zM135.9 27.3l-.7-.2 .1-.8 2.7-.7 .3 .7-.6 .8zM142.2 24.1l-.7-1.3 .7 .1zM144.3 12.1l-1.4-.5-.7-1 0-1.9-.8-1.7 .8-.9 .9 .9 .5 2.9 2.1 .1 1.1 1.2-.1 .9-1 .5zM145 16.3l.1-.9 2-.1 .8-.7-.1 1-.7-.1-1.4 1.2zM147.1 31.7l-.5-.4 .5-1 .8 1zM150.6 24.7l-1.4-.8-.7 .6-.7-.2-.6-2.2 .6-.7 2.8 .9 1.2 1.5zM163.2 27.2l-3.3-1.8 .1-.8 .4-.4 1.4 1 2.7 .2 .1 .9zM167.4 21.9l-.6-1.5 .6-.6 1.2 .6zM168.1 24.2l-.3-.4 .3-.4zM171.6 27.5l-.6-1.2 .6-.5 .4 .5zM107.2 9.7l-1-1 1.4 0zM107.9 15.6l0-1.3 .7 1.1zM120.5 13.9l-1.4-1.8 .7-1.7 .8 .8zM123.3 12.3l.1-1.9 .6-.5 1.4 .3 .7-3.1 .7 .4 .7 3-1.4 .2-1.4 1.2zM128.2 19.8l-1.1-1 1.1-.9 4.2 0-1.4 1.3zM131 24.1l-.4-.3 .4-1.1 .7-.5 1.4 .3-.7 1.6zM135.2 11.2l-.7-1 1.2 .2 .9 .8zM144.3 7.2l0-.9 .7-.1 .5 .8-.5 .8zM150.6 9.8l-1.7-1.1 2.4-1.6 2.1 1.6-.7 1.2zM162.5 20l-.2-1.2 .9-3.1 1.4-.4-1.2 4.3zM168.1 16.6l0-1.3 1.3 .1 .8 .8-1.4 .8zM131.7 9.2l-.1-1.3 .8-.2zM118.1 37.2l.8 0-.5-.6zM148.2 37.2l1 .8 .6-.8-.6-.4zM171.5 37.2l.8-.9-.7-.4-.6 .4zM178.6 37.2l.7 .6 1-1.5-1-.5-.7 .4zM153.4 36.3l.7 .4 .2-.4-.2-1-.7-.5zM161.4 36.3l1.6 0-1.2-1.8-.7 1zM216.2 31.3l3.1 0-.5-1.7-1.6-.1-2.1-2.4 2.1 .5 .6-.5 .4-.8-.6-1.7 .3-1.3 1.1 .5 1.7 2.5 0 1.7 1.4 1.3 2.8 .4 1.9-1.7 .1-.9-1.4-.8 .1-.9 1.2 0 .2 1.7 1.4 .4 2.6-2.9-.5-.7-1.4 .3-1-2.1 1.7-1.6 .7 .3 .7 2.1 1.4 0 2.6 2.5-.5 1.1-1.4-.6-.7 .4-2.6 2.5 2.6 1.8 .7-2.2 2.8 .4 2.1-1.9 1.4 1.6 .7-.1 .7-1.9 2.5-1.1-1.8-.2-.5-.6 0-1.7 .5-.6 2.1 0 .4-1-2.2-1.7-.3-1.9-.7-.4-.7 .5-1.4-1.4-.7 .5-3.5-.3-1.4-1-2.1-.1 0-1.8 1.4 .1 .2-.9-1.7-2.5-2-1.2-3.5 1.1-.7-.8-1.4 0-1.4-1.3-2.1 2.3-2.1-1.1-.9 1 .5 2.5-1 2-1.4-.1-1.4 .7-.6-.9 .6-.9-.6-.8-2.2 .3-.9 .5 1.3 .9 .1 .8 .2 1.7-.7 .8-1.2-.8-.2-2.5-3.5 .7-1.5 1.8 .8 .2 .8 1.5-1.5 2.5 0 .8 1.4-1 .7 1.1 1.4-1.5 2.1 1.1 1.4 .1 .2 1-.8 1.7 .4 .8 3.5 3.4zM236.1 24.7l-.4-2.6 .4-.5 .7 .2 .6 2zM237.5 19.7l.7-.9 .3 .8zM238.2 25.6l-.7-1 2.1-.4 .7 .4-.7 1.1zM8.7 27.1l1.1 .5 1.4-1.7 .7 0 2.1 1.9 2.8-2.4 .3 1.7 1.1 .3 2.1-2.1 2.1 .6 .5-.5 0-1.6 .9-.8 2.1 .5 1.4-.8 .4-1.4 1.3-.9 .2-1.6-1.9-2.4-2.1-1.3-2.1-.1-4.2 1.8-.2 2-1.2 1.1-3.5 .7-2.8-1.4-1.4 .7-2.1-.1-1.4 1.4-2.1-.2-.7 .8-1.4-.9-.7 .5-.4 1.5 .4 .9 1.4 .1 1.4 2.9 .7 .3 1.4-.6zM254.6 26.3l.4 .4 0-4.7-2.1-1-.8 1.1-.1 1.7 2.3 .3zM-2.8 25.4l0 .6 2.9-.6-1.5-1.6-1.4 .3zM245 25.4l3 .5 1.7-1.3 0-.8-2.5-.9-1.3 .9zM208.7 24.6l.8 .6 .8-.6 0-.8-.8-.9zM86.8 21.3l.8 .4 .2-.4-.2-.6zM89.6 20.4l.4 0-.3-.9zM238.7 15.4l.2 .5 .7-.2 .6-1.1-1.3-3-1.4-.3-.4 2.4zM91.2 13.7l.6 .4 .4-.4-.4-1.1zM13.4 10.4l1.3 .6 2.4-3.1 3.2-1.7-.7-1.4-1.4 .4-1.6-.7-.5-2.3-2.1 .4-1.4-.8-3.2 2.7 1.1 2.2 2.9 1.2zM214.9 10.4l.2 .4 0-1z" fill="#fbeff2" fill-rule="evenodd"/><path d="M119.8 50.6l1.3-.9 .1-2.6-.7-.1-1.4 1.1-.7-1.3-2.1 .3-1.4-1.5-2.1-.3-1.4 1.8-2 .1 .6 1.8 3.5 1 2.1-.1 1.4-1.6 1.4 .1 .7 2zM134.2 50.6l1.7-.4 2.1-2.8 .7 0 2.8 3.4 .8-.2-.1-1.9 .7 0 .7 1.8 2.1-1.2 1.4 1.3 1.4-.5 3.5 .4 2.8-.7 .7-1.7 1.4 1.4 3.5 .9 1.4-.6 1.4 1.2 3.5 .1 2.1-1.3 1.4 1 1.4-.8 .7-3.8 .7 .2 1.1 1.7-.4 1.6 .7 .6 2.8-1.1 2.1 1.3 1.4-4.7 .8 .6 .8 2.5 1.2 1.3 .7 .1 .6-.6-.4-1.6 .5-1.7-1.1-1.7 .4-.8 1.1 .8-.3 1.7 1.3 2.3 1.4 .1 1.4 1.1 1.3-1-.5-1.6 .7 .4 2.8-.7 .7 .9 2.8 0 .4-1.5-1.8-4.2-.7-.6-4.9-1.4-.8 .3-1.4 2.7-1.3-.2-1.5-1.5-.7 0-1.4 1.9-1.5-1.2-.6-2.5-.7 .2-1.4 2-.7-.4 .2 1.5-.9 1.1-.7-2.9-2.1 1.1-4.2 4.1-.8 0-.9-1.7-3.2-1.1 0 3.3 .7 1.2-.7 1.8-.7 .4-1.4-.7 .7-2.4-1.4-1.1-.7-.2-2.1 1.2 .2-2.4-.9-1.2-2.8 .7-2.8 1.6-.7-2.5-2.8 .9-2.1-.6-2.1 3.9-1.4-4.6-2.1 1.1-3.5-.9-.7 3.1-.7 .2-4.2-3.2-.7 0-1.4 1.1-1.4-.9-.7 1.7-1.4-.2-1.1 .6 .1 .9 1 .6 1.4-1.2 2.8 4.5 .9-.6-.4-.8 1.4-1.7 .1-.8 .8-.1-.7 1.8zM131 45.9l0-.7 .4 .3zM223.4 49.7l2.2-.3 1.4-2 .7 0 1.4 1 2.1-.3-.5-2.6-1.6-.9-1.4 1.1-4.2 .4-.9 2zM106.3 48.9l.9-.3 0-.9-.7-.3-.8 .7zM123.4 48.9l.6 .7 0-.9zM211.4 48.9l1.5 0 .3-.8-.9-1.3-1.4-.8-.9 .4 .1 .8zM217.2 48.9l1.4 .8 1.2-2.5 .9-.5 0-1.3-.7-.3-.7 1.8-2.1-1.2-1.4 .1-.6 1.4zM228.2 48.9l.4 0-.2-.5zM235 46.4l.4 .8 0-1.5zM118.3 45.5l.8-1-1 .2zM44.7 44.7l.8 .8 .6-.8-1.3-.7zM118.9 34.7l.9 .1 1.5-1-1.5-1.3-1.1 1.3zM84.7 33.8l.8 .6 .5-.6 .3-5-.8-.9-1.4 .3-1 2.3 1.4 1.6zM90.4 33l.7 .6 1.7-1.5 .2-.8-.5-.5-1.4 .1zM121.9 33l.7 .2 .7-.6 0-2.1 .7-.4 2.1-.7 .7 2.5 2.6-1.4 .7-.9-.9-2.5-1.8 0 .6-2.5 3-2.7 2.1-.3 .9 .5-.4 1.7-2.6 1.3-.7 1.2 1.8 1.7 .7 3.3 1 1.1 1.7-1.1-1.5-2.5-.1-1.7 1.3-1.3 2.8-1 .6 1.5-.6 1.3-2.5 .4-.3 .8 .7 1.6 1.4 .8 1.3-2.4 .5 0-.3 1.7 .6 2 2.1-.8 2.8 .2 1.4-.9 1.4-1.9 2.1 2.9 .7-.2 .4-1.3-.8-2.5 1.8-.4 .8 1.2-1.1 1.7 1 2 4.2-1.9 3.5 2.8 .6-1.3 4.4-4.1-5.7-1.5 .2-1.9 1.2-1.6 2.8 2 3.5-.1 .5-2-.8-1.6-.1-2.5 .4-.6 2.8 .7 1.4-1-.7-.6-1.4 1.3-2.1-3.3-2.1 1.7-.9 3.4-1.2 .7-.8-.7-.1-1.6 .9-1.7 .1-1.7 .2-.8 1.8-.4 1.3-1.3-.6-.8-2.1-1.4-.6 .5-.1 1.7-1.4-.6-2.1 .4-.7-2.4-.7-.3-1.4 1-2.1-1.6-1.4 1.2-2.8-.3-2.1 2.2-1.6 .4-.8 .8 1 .9 2.1-1 .2 1.8-.9 .9-2.8 1.2-.8-2.1 .5-1.7-3-2.5 0-2.5-.7-.8-2.3 .3-.3-1.2 1-.8-.7-.9-2.1 .9-2.1-.5-1.4 .5 .9 2.5 3 1.7 .4 .8-.8 .6-.7 .2-1.4-.8-1.4-2.1-1.4 1.1-2.1-.5-.1-1.8-1.3-.5-.6 3.8-5 2-.4-.3 .8-2.5 1-.9 .9 0 .4-.8-.9-2.5-2.5-.6-1.4 2.3-1.4-.1-2.1 2.8-.7-3.5-.7 .1-2.6 1.5 .1 2.5-1.3 1.7 .3 3-2.8-.2-1.4 1.4 .4 3.3 1.9 .9-.3 .8-3.4 2.7-1.1-.2 .8-6.7 .7-1.7-.4-2.9-.1 2.1-.6 .7-1.7 .1 .5 1.7-.9 1-.7-.1-.3 .8 1.4 1.7-.8 2.5 2.4 4.2 .1 1.6 .7 1 2.1-1.7 1.9-.1 .3-1.7 1.1-.8 1.6-2.7 .7-.3 1.4 .7 2.1-1.8 1.4 .2 .4 3-.7 2.6 1 2 2.6 1.3zM123.3 27.3l-1.4-1 0-.9 .7-.3 1.5 .3 .9 1.7-.3 .8zM135.9 19.2l-.8-2.1-1.3-.9 .4-1.6 1.7-.8 .8 .8zM142.2 25l-1.4-1-2.1-.2 .7-1.8 1.1 .1 .3-2.9 .3 2.1 1.1 .9 .6 1.6 .1 .9zM148.5 26.8l-.7-.7-1.3-4 1.3-1.7 0-1.6 .7-.8 .5 .8-.2 1.6 3.7 3.4-.5 1.2-2.1 .2zM154.8 26.3l-.7-.9 1.4-.7 .6 .7-.6 1zM158.3 17.4l-.4-.3-.3-3.4 .7-.7 .9 2.4-.2 1.5zM114.2 19.5l-.7-1.9 1.7 1.2-.3 .7zM122.6 22.3l-1.6-1-1.9-3.9-.7-.3-1.4 .4-.7-.5-1.3-3.3 .4-1.6 .9-.6 1 1.4-.1 1.7 1.9 .6 .7-.4-1.2-2.7 1.2-2.3 1 .6 .3 2.5 .7 .8-1.2 1.7 1.3 2.4 2.1-.5 .8-1.1 1.3-.2 .4-1.4 1-.4 .6 .4-.2 .8-1.1 1.7 .7 .5 4.2-1 1.4-.1 .2 .6-.2 1.8-2.1 .9-3.5 .3-2.1-1.4-.7 .1-.5 .8 .3 2.5-.5 .7zM140.1 15.9l0-1 .9 .5zM116.2 32.1l.6-.8-1-1.7-.1-3.3-2.2-1.1-.5 1.1 2.3 3.3zM103.6 31.3l.8-.8-1.4-1.3-.5 .4 .2 .9zM88.1 30.5l1.6 .7 1-.7 .5-1.7-.3-1.7 1.6-.6 .4-1.1-.1-.8-1-1-.9 .2-1.4 2.5-2 .8zM100.1 29.6l.5-.8-.4-.1zM223.3 28.8l1.3 0 .7-.8-.4-1.4-1.2-1.2 2.6-1 1.4 1 .5-.8-1.3-2.5 2.2-2.4 1.7 .7 1.1 2 .9-.3 1.3-1.7 2 0 1-2.5-1-.8-1.4 .1-1.4-.9-2.6-.1-1.5-2.5-.1-2.7-2.9 .2-.6 1.8 .7 .3 .7-.6 .7 1-2.1 2.2-.7 .3-1.4-1.3-1.4-.4-1.4 2.9-.6-1.2 .6-2.1 .7-.1 .3-1.1-.3-1.6-.7 .4-.7 1.9-1.4-.4-1.7 2.2-2.2 .8-2.6 5.1 .3 1.6-.5 1.7 .4 .8 2.1-3 2.1 .1 1.4-1.3 .8 1.7 1.3 1.2 .7 .2 .7-.9 .7 .2 .3 1.8 1.1 .9-.7 1.7zM226.3 21.4l-.9-1-.4-1.6 1.3 .5zM215.1 20.9l-.4-.5 .4-.6 .6 .6zM94.9 28l.6 0-.2-1.3zM168.5 27.1l1 .7 .7-.3-.7-2-1.1 .8zM7.7 26.3l1.4 .2 2.1-1.3 2.8 1.7 4.2-2.9 .7 .7 1.4-1.4 1.4 1.6 1.4-2.8 .7-.4 2.4 .4 .5-.8-.5-1.7 1.8 .5 .7-.5-.2-.8-2.6-2.7-2.8-.6-2.7 1.6-1.5 3.8-4.2 .5-1.4 1.8-.7-.3 .2-1.6-.9-1.3-2.1 .7-2.1 0-1.4 1.3-1.4-.2-.8 2 .1 1.7zM21.7 22.4l0-.8 .4 .5zM100.6 26.3l1.7-.1 .4-2.4-1.1-1.3-2.8-.7-2.8 1.9 0 2.3 3.5-1.9zM169.5 23.8l.7 .8 .9-.8-1.6-1.1zM234.3 23.8l.7 0-.3-1.4-.7 .3zM237.7 22.9l1.2 .7 .9-.7 .1-.8-1-1.4-1.5 .6zM209.5 20.4l.7 .2 .3-1-.2-.8-.8-.4-.7 1.2zM99.7 17.9l1.3 0-.1-1.1-.7-.1zM207 17.9l1.3 0 .5-1.7-1.8 0-.6 .9zM98.7 14.6l.8 0 0-1-.7-.1zM108.5 13.7l.8 .7 .9-.7-.2-.9-1.1-.7 1.4-.9-.1-.8-.9-.8-.7 0-1.4 1.4-4.2-1.7-2 1.1-.1 1.9 1.4-1.1 1.4 .6 2.1-.3 2.4 .6zM167 13.7l1.1 .8 1.3-1.6-2-2.6-.7-.2-.7 2zM170 13.7l.2 .4 .7-.4 0-.8-1 0zM223.1 12.1l.4 .5 .8-.5-.8-1zM160.1 8.7l.3 .6 .7-1.4-.7-.9zM146.9 7.9l.9 .5 .3-1.4-1.7-2-.6 .4zM107.5 7l.4 .5 .3-.5zM130.8 7l1.5-.8-2-1.5 0 1.8zM10.8 6.2l3.2 .4 1.4-.3 .7 .5 1.2-.6-1.2-.8-.7-2-.7 0-1.4 .1-.7 1.4-1.4-1.1-.7 .3-.3 1.3z" fill="#fce8ec" fill-rule="evenodd"/><path d="M140.8 49.7l.7 .1 .7-2.1 2.1 1.4 .7-1-1.4-3.7-1.4 .3-2.8-.6-.7 .5-.2 1.8zM149.5 49.7l2.5 .3 2.1-.6 1.4-1.8 4.9 2.2 2.3-1.7-.1-.9-.8-.5-2.1 1-.7-3.6-2.6 .6-3 1.8-.7-.1-1.1-1.7-3.8-.6-1.6 4 .9 1.2 2.1-2.4 .7 0 .4 1.2-1.3 .8zM166.2 49.7l1.2 .5 2.1-1.2 1.4 .7 .6-.8-.2-1.7-.4-.5-1.4 .3-1.4-1.8zM112.4 48.9l1.1 .5 1.4-.5-1.4-2.7-.7 0-1.2 1.9zM119.8 48.9l0 .6 .9-.6-.2-.5zM134.4 48.9l.8 .6 .7-.3 1.7-2-1.7-1.6-.7 0-.4 .8zM174.4 48.9l.7 .8 2.1-1 1.4 .9 .7-.4 .5-2-1.4-1.7 1.6-.9 2 1.8 .3 1.7 1.2 1.3 .8-3-4.3-5.4-.7 2.9-.7-.2-.7 1-.7 .3-1.4-2.1-1.5 1-.7 2.5 1 1.7zM217.9 48.9l.7 0 .1-1.7-1.5-.9-1.2 .1-.1 .8zM223.3 48.1l.2 .4 2.1-.2 1.1-1.9-1.1-.1-1.4 1.3-.7-.2zM186.1 47.2l.9 .8 2.1-1.1 3.6-.4 2.3-2.6 0-.9-.5-.8-3.2-1.4-2.2 .1-1.4 2.7-1.8 1.1zM229.3 47.2l1 0 .1-.8-1.3-1-1 1zM127.3 46.4l.4 0-.2-1zM132.3 45.5l.8 .7 1.1-1.5-1.1-1-.7 0-.5 1zM184.4 43l1.3 0-.8-.9zM142.5 31.3l1.3 0-.2-1.2-1.1-1.3 .4-2.5 1.7 1.7 .4 1.4 .8 .2-.5-2.5 2-1.7-.9-2.2-1.4-.1 0-1 2.1-1.7 .6-3.3-.6-.3-1.4 1.1-1.3 0-1.5-2.4-.8 .7 .5 1.7-.8 .9-.2 1.6 1.8 4.2-.5 1.7-1.7-.9-.8 1.7 .1 1.7-1.1 1.7 .7 .8 1.4-.5zM158.8 31.3l2.3-.6 .8-1.1-.2-1.6-2.7-.7-1.3-1 2.2-3.4 1.1-4.1 1.1-1.7-.3-3.4-1.4-.7-.7 .3-.3 3.8-1.1 .8-1-.8 .1-1.7-.6-1.7 .1-.8 .9-.8-.2-1.1-1.4 .8-1.4-.3-.7 1.5-.8-1.8-2-.3-2.1 .9-.5 5.3 .8 .8 .2 2.5 1.6 1.6 2.1 .5 1.3 1.3 1.5 .4 .6 1.2 0 .9-1.3 1-2.1-.8-1.1 .6 .6 3.4 1.2 .2 2.1-1.3zM152 18.9l-.1-1 .8-1.4 .7 2.3-.7 .7zM88.8 30.5l.9 .1 1-1.8-1-1.7-1.6 .9zM149.1 30.5l.3-.9-.9-.6zM84.4 29.6l.4 .6 .7-1.6-.7 0zM120.6 29.6l1.3 .5 1.8-1.3-2.9-3.4 3.2-1.6-3.5-1.7-.5 .8 .3 2.5-.6 1.7zM136.4 29.6l.5 0 .1-.8-1.1-.2zM128.1 28.8l.1 .7 .7 0 0-1.8-.7 .3zM106.1 27.1l2.5-.2 2.8-1.1 2.6-3.7-1.4-.8 .3-2.5-1.5-2.2-1.4-.3-1.2 .8-.2 2.7 2.1 .5 .6 1-1.3 1.6-2.1 1.1-2.4 2.3zM114.1 27.1l.8 .6 0-1-.7-.6-.5 .2zM125.3 26.3l.8 .7 .7-.1 .7-2.3 2.1-2.7 3.5-1.1 1.3 .5 .5 1.6-1.1 2.3-1.8 .2-.1 .9 1.2 .5 2.8-2 1.4-.3 1.8-3.2 .2-.9-.9-1.6 1.7-.2 .6-.7 0-.8-1.1-.9 .4-2.5-.6-1.7-.7-.6-.5 .7-2.3 .6-2.8-2.5-1.4 .9-1.4-.5-3.7 1.5-.3 .8 .5 .5 .7 .1 1.4-1.1 .5 .5-1.2 3.3 .7 .6 1.7-.6 1.1-4.6 1.4 2.5 1.4-.1 1.4-.9 1.2 1.5-.7 2.5 1 2.5-1.5 .3-1.4-2.4-1.4 2.1-2.5 .8-.3 .7-2.1-.3-.7 1.3-1.6 .8zM149.9 26.3l.7 .5 .5-.5-.5-.5zM6.9 25.4l1.5 .6 2.8-1.6 1-2.3-.3-1.4-.7-.1-1.4 .9-1.4-.2-1.4 1.1-1.4 .2-.9 2zM12.7 25.4l1.3 .9 .7-.2 2.6-2.3 .5-1.7-1.7-.6-1.4 .6-2.6 2.5zM91.1 25.4l.7 .5 .6-.5-.6-1zM100.6 24.6l.3 .6 .7 0 0-1.8-.7 0zM163 24.6l1.6-.4 1.4 .3 .6-.7 .2-.9-1.2-3.3 .4-2.7-.7 .1-.5 .9-.9 3.3-2.3 .9 .4 1.7zM97.6 23.8l.5 .5 .7-.2 .6-1.2-1.3-.3zM222.9 23.8l.6 .5 2.1-.5 .1-.9-2.4-7.5-1.2-.2-.6 1.9 .9 2.5 1.3 .8-.2 1.1-1.9-1.1-.6-1.6-1.4-.9 .1-3.3-.4-.4-.7 0-1.4 2.5-1.4-.4-.7 .4-.5 1.2 .4 .9 1.9 1.6 1.7 .4 .6 2.1 .8 .5 2.1-.7zM125.3 22.1l.3-1.7-.2-.7-.7 0zM212.9 22.1l.8-.4 0-1.6zM238 22.1l.2 .6 .7 .1 0-1-.7-.2zM104.9 21.3l.2 .4 .7-2.1-.7-1.3-1 1.3zM118.2 21.3l1.6-.1 .1-1.6-.8-1.2-1 1.2zM231.8 21.3l.4 0-.3-.6zM20.5 20.4l1.9 .5 1.4-.6 .7 .6 .7-.1 .1-2 1.3-.4 .5-.5-.3-.8-1.6-1-2.8-.2-1.8 2zM116.2 20.4l1.2-.8-.4-.8-1.1 .8zM227.2 19.6l.5 .3 1.2-2-1.9-2.1-2.1 1.3zM230 18.8l.5 .4 .6-.4 0-.9-1.3-.5zM232.1 18.8l1.2 .4 2-.4-.4-.9-2.3-1.1-1.4 1.1zM114.4 17.1l.5 .4 .6-.4 .1-.9-.9-1.6-.5-3.2-1.4 1-.4 1.3 .4 1.5zM122.3 17.1l1-.3 2-3.1-1.3-.3-2.1 1-.5 1zM141.1 14.6l1.8 .7 .7-.5 .2-1.1-2.3-1.8-1.1 1.8zM163.5 12.9l.4 .8 .9-.8-.9-.6zM167.4 12.9l.8 0-.8-1.8-.4 1zM121.2 12.1l.7 .3 1.4-2.8 1.5-.9-2.2-2.5-1.9 2.5zM117.4 11.2l.3 .6 .7-.4 0-1.3zM115.6 10.4l.5-.9-.5-1.3-1 1.3zM137.9 10.4l.7-.9-.3-.8-1-1.7-.8 0-.7 1.7zM140.4 10.4l.4 .3 .6-1.2-.6-1.1-1 .3-.1 .8z" fill="#fbdde2" fill-rule="evenodd"/><path d="M140.6 48.9l.6 0 1-2.1 1.4 1 .7-.5-.7-1.9-4.2-.7-.4 .8zM150.4 48.9l.9 .6 2.1-.4 .7-.6 .2-1.3-2.3-.6-1.4-1.6-1.4 .2-1.4-.6-.8 3.5 2.9-1.8 1 .9zM159.8 48.9l.9 0-.3-.8zM166.8 48.9l.6 .7 2.1-1.4 1.4 .8 .2-.9-.2-.5-1.4 .2-1.4-1.1zM175.1 48.9l2.1-.7 1.4 .8 .7-.9-.1-.9-1.3-.6-2.1-2.8-1.4 .9-.3 .8zM112.5 48.1l1 .5 .4-.5-.4-.9-.7-.1zM134.6 48.1l.6 .7 .7-.1 1.3-1.5-1.3-1.2-.7 .3zM158 48.1l.9 0 .3-2.6-.2-.8-.7-.2-2.1 .8-1 1.1 .5 .8zM182.8 48.1l.7-.3 .2-1.4-3-3.7-.3 1.2 2.2 2.5zM186.2 46.4l.8 .7 2.1-.8 3.6-.2 1.2-1.4 .2-1.7-.6-.8-3.6-1.4-.8 .6-1.1 2.5-1.6 .8zM132.5 44.7l.6 .5 .3-.5zM88.8 29.6l.2 .4 .8-.4 .3-.8-.4-.9-.9 .1zM158.2 29.6l.8 .3 1.7-1.1-.6-.8-2.5-.3-.3 1.1zM120.8 28.8l.4 .8 .7-.2 .1-1.4-.8-.4zM153.2 28.8l.2 .6 .7-1.4-.7-1-.6 1zM141.3 28l.2 .4 0-1.3zM106.5 26.3l2.1 .1 1.4-1.2 .7 .1 1.8-1.5 .6-1.7-1-.5-.7 .2-1.4 1.8-2.1 .9zM143.6 26.3l.7 .6 2.5-1.5-.4-1.4-1.4 .2-.7-.4-.1-.9 .6-1.6 2.1-1.7-.5-1.6-.7 .5-2.8-.2-1 1.3 2.1 5zM8.2 25.4l2.3-1.6 1-1.7-.1-.8-1.6 1.1-1.4-.4-2.4 1.8zM13.5 25.4l1.2 .3 2-1.9 .5-.9-.3-.8-2.2 .5-1.5 2zM157.2 24.6l.4 .6 1.7-3.1-1-1.1-1.4 1.1-.5-.8 .2-.9 1.7-1.3 1.6 .5 1.7-3.4-1.2-1.5-1.4 3.8-.7 .1-1.4-1.3-1.4 .3-.7-.5 1.5-1.7-.8-1.8-2.1 .3-.9-1.8-1.2-.6-1.7 1.4-.1 3.3 1.1 2.6-.2 1.6 .9 1.1 1.3-.2 .1-.9-1.4-1.6 1.4-3.2 1.1 1.5 .2 5 .8 1.2 1.4 .2zM120.7 23.8l1.2 .7 1.1-.7-1.1-.9-.7 0zM162.4 23.8l.8 .5 1.4-1.1 1.4 .6 .3-.9-1-2.5-1.1 1.7-1.7 0-.4 .8zM135.3 22.1l2 .8 .7-.4 .5-2.1-3.3 0zM219.1 22.1l.9 .7 1.8-.7-.2-.8-2.2-2.5-1.5-.7 0 1.4 1.2 .9zM21.5 20.4l3-.8 1.8-2.5-1.8-.7-2.1-.1-1.6 2.5-.1 .8zM110.8 19.6l1.3 .4 .1-1.2-2.2-1.3-.3 .4zM222.7 18.8l.8 .5-.1-3.1-.6-.6-.9 .6zM227.6 18.8l.5-.9-1.1-.5zM137 17.9l.3 .6 .7-.2 1.3-1.2 0-3.4-.6-.5-1.3 .5zM215.3 17.9l.8 0-.3-.9zM122.3 16.2l.6 0 .2-.8-.3-.8-.8 .8zM128.8 16.2l.8 .2 .7-1 0-2.2-1.4 1.8zM113.1 14.6l.4 .3 .6-.3 .1-1-.7-.9-.8 1zM141.3 13.7l1.6 0-1.4-.8zM133.3 12.9l1.2 .7 .8-.7-1.5-.9zM121.7 9.5l.2 .5 .7-.2 .7-1.5-.7-.4-.9 .8z" fill="#fad2d8" fill-rule="evenodd"/><path d="M151.3 48.9l2.3-.8-2.3-.3zM135.1 48.1l.8 .2 .9-1.1-.9-.8-.7 .6zM167.4 48.1l.7 .4 .7-.4-.7-.6zM175.7 48.1l1.8-.9-.3-.9-2.1-1.3-.4 1.4zM156.9 47.2l1.4 .4 .3-.4 .3-1.7-.6-.6-1.7 .6-.5 .9zM140.8 46.4l0 .3 .3-1.2-1.2 0zM147.6 46.4l.2 .5 .7-.4 .4-1-1.1-.2zM187 46.4l2.1-.7 1.5 .4 2.1-.3 .9-1.1-.1-1.7-2.3-1.6-1.3-.3-.9 1.1-.6 2.3-1.4 .2-.5 .8zM107.6 25.4l.3 .5 1.1-.5-.4-.6zM13.9 24.6l.8 .5 2-2.2-1.3-.3zM110.6 23.8l1.5-.1 .5-.8-.4-.8zM157.5 23.8l1-.9-.2-1-.8 .2zM163 23.8l.5 0 .2-.9-.5-.3-.6 .3zM155.1 22.9l.9 0 .1-2.5 1.7-1.6-.9-1.1-.7 0-1.7 1.9 0 2.5zM137.1 22.1l.9-.5 0-.6-.8 .3zM143.5 22.1l.1 .3 2.7-2.8-1.3-.7-2.1 0-.7 .6 0 1zM219.7 22.1l.9 0 .1-.8-.7-.2zM151.1 20.4l1 0-.8-.5zM21.1 19.6l1.3 .6 1.1-.6 2-2.5-2.4-.5-.7 .3-1.3 1.9zM137.3 17.1l.9 0 .5-2.8zM151 17.1l.3 .3 0-1.1z" fill="#f9c6cc" fill-rule="evenodd"/><path d="M135.6 47.2l.3 .5 .4-.5zM156.8 46.4l1.5 .6 .3-1.5-1-.1zM175.6 46.4l.9 .6 0-.7zM189.7 45.5l2.3 .2 1.3-1-.3-1.7-2.4-1.7-.8 .1-.9 1.6zM155.2 22.1l.3 .3 0-.9zM142.7 20.4l.9 .6 1.8-1.4-2.5-.1zM21.4 19.6l1 .3 1.4-.9 .7-1.1-.4-.8-1.2 0-1.5 1.7zM155.9 18.8l.3 .5 1.1-.5-.4-.5z" fill="#f8b9c0" fill-rule="evenodd"/><path d="M189.6 44.7l2.4 .7 1-.7 .2-.8-2.6-2.3-.7 .1-.8 1.3zM21.9 19.6l1.8-.8 .1-1.2-2.1 1.1z" fill="#f7acb4" fill-rule="evenodd"/><path d="M190.2 44.7l1.8 .4 .8-.4 .1-.8-2.3-2-.7 .1-.6 1z" fill="#f6a0a8" fill-rule="evenodd"/><path d="M191.2 44.7l1.1 0 .3-.8-2-1.7-.7 .2-.2 1.5z" fill="#f5949c" fill-rule="evenodd"/><path d="M190.1 43.9l1.9 .5 .2-.5-1.6-1.3-.8 .4z" fill="#f48791" fill-rule="evenodd"/></g>
<path d="M-4 12.9l1.5-.3 1.8-.3 1.7-.4 .2-1.1-1-.8-.4-.6-.9-1.1-.3-.4-.4-.4 .5-.9-1.2-.2 .4-.7-1.4 0-.6 .9 .2 1 .4 .7 .1 .6 1.2 .1 .1 .6 0 .5-1.2 0 .4 .4 0 .6-.8 .3 .9 .2 .7 .1-.8 .2-.6 .5zM248.2 12.9l1.5-.3 1.8-.3 1.7-.4 .2-1.1-1-.8-.4-.6-.9-1.1-.3-.4-.4-.4 .5-.9-1.2-.2 .4-.7-1.4 0-.6 .9 .2 1 .4 .7 .1 .6 1.2 .1 .1 .6 0 .5-1.2 0 .4 .4 0 .6-.8 .3 .9 .2 .7 .1-.8 .2-.6 .5zM248 11.2l-.1-1.2 .4-.9-.3-.6-1.1 0-.7 .6-1 .3 .3 1-.4 1 .4 .2 1.1-.2 1.1-.3zM235.4 -.1l1.4 1.4 2.4 .4 2.8-.8 .7-.8-1-1-6.3 0zM98.1 20l.8-.2 1.4-.1 1.6-1.2-.1-.8-2.3-1-.4 1.2-.7 .7-.3 .6zM99.5 16.2l1 0-.1-2.5 .8 0-.7-2.1-.3-2.1-.4-.2-.2 2.3-.1 2.1zM84.8 33.6l.7 .2-.4 1.7-.5 .9-.5-.9 .3-1.3zM76.1 38.7l1.2-.8 .5 .5-.7 1.1-.7-.2zM55.9 46.5l.4 0 1.1 2-.5 1.1-.9 .1-.1-1.6zM84.4 39.3l1.2 0-.1 1.2-.4 1.3 .4 1.2 1.4 .9-.4 .1-1.4-.8-.7-.6-.3-1.2zM85.5 48.9l1-1.3 1.4-1.1 .7 2-.3 1.2-.7 .2-.7-.6zM85.8 44.9l2.1-.6 .2 1.2-1.6 1.3-.7 0zM82.1 47.8l1.6-1.8 .2-.8-.5 .8-1.1 1.4zM84.4 43.4l.7 .5-.3 .6-.5-.5zM73.7 60.4l.9-.7 1.4 .3 1.4 .4 1.5 .1 1.3 .7-.1 .8-1.3-.2-1.4-.3-1.7-.2-1.4-.4zM80.2 61.5l.9 .2-.2 .4-.6-.2zM81.3 61.7l2.1-.1 0 .5-2.1 .1zM83.9 61.8l2.3-.2 0 .4-2.3 .2zM86.5 63.4l1.1-.9 1.5-.7-.1 .3-1.4 .9-.7 .5zM83.7 59.4l-.1-1.7-.4-.6 .5-1.9 .4-1.1 .7-.4 1.4 .2 1-.4 .5 0-.8 .9-1.4-.1-.7 .1-.4 .8 .7 .4 1.3-.1-.9 .5-.5 .4 .6 1 .6 1.1-.7 .9-.7-1.3-.4-.8-.1 2.1zM89.3 52.9l.6 .6 .3 .8-.5 1.1-.4-.6zM89.7 57.3l1.9 .2 0 .4-1.9-.1zM88.3 57.4l.8 0 0 .5-.8 0zM103.9 59.4l1.2-.4 1-.7 .5 0-.5 1.1-1 .5-1.1-.1zM105.4 56.8l.7 .5 1.1 1.2-.2 .3-1.2-1.4zM109.6 60.2l2.1 1.2 1.4 1.3-.3 .4-1.4-.4-1.8-1.7zM114.9 71.7l.6 0 1.5 1.7-.4 .1-1.5-1.3zM124.2 69.4l.9-.2-.1 .8-.7-.1zM192.7 36.4l1.4-.8 1.4-.3 1.4 .5 1.4 1 .9 .4 1.1 .6-.6 .3-1.9 0 .1-.6-.7-.7-1.4-.5-1-.1-1.1 .2zM200 39.3l1.1-1.2 1.4 0 1.4 .6 .5 .5-1.2 .3-1.1 .5-1-.3zM197.3 39.4l1.5 .1-.3 .3-.8 0zM205.1 39.3l1.1 0-.1 .4-1 0zM144 7l1.5-.5-.3-.5-.9 .4zM8.7 22.9l2.2-.2-.3 1.3-1.8-.7zM5.7 20.5l1.2-.2-.1 1.6-.9 .3zM6 18.8l.7 0-.1 1.3-.5-.3zM16.5 24.9l1.9 .3-.2 .3-1.7-.2zM22.6 25.4l1.6-.5-.4 .9-1-.1zM209.3 97.6l2.4 .1-.5 .8-1.4-.1zM91.7 26.3l1.1-1.3 1.1-.1 1 0 .9-1.4 1.2-.4 1.1-1.4 0-1.1 .5-.4 .5 0 0 1.1 .4 .4-.7 1-.2 1.1 .1 1.1-.8 .5-.5 .3-1.4 .1-.2 .2-.7 .7-.4-.7-.8-.2-1.1 .2-1 .4zM91.1 26.7l.7-.3 .6 .7-.3 1.3-.6 .4-.3-.4-.3-1zM92.8 27.1l.4-1 1.1 0 .1 .4-.9 .4-.5 .4z" fill="#fbfbfd" stroke="#fbfbfd" stroke-width="0.5"/>
<path d="M91.7 26.3l1.1-1.3 1.1-.1 1 0 .9-1.4 1.2-.4 1.1-1.4 0-1.1 .5-.4 .5 0 0 1.1 .4 .4-.7 1-.2 1.1 .1 1.1-.8 .5-.5 .3-1.4 .1-.2 .2-.7 .7-.4-.7-.8-.2-1.1 .2-1 .4zM91.1 26.7l.7-.3 .6 .7-.3 1.3-.6 .4-.3-.4-.3-1zM92.8 27.1l.4-1 1.1 0 .1 .4-.9 .4-.5 .4z" fill="#d2d2d2"/>
<path d="M8.8 -2.2l-.4 2.1-1 .9-1.4 .8-1.4 .7-1.1 .7 0 1.3 .4 1.1 .3 .6 1.1 .2 .7-.3 .9-.5 .5-.7 .3 .7 .6 .6 .1 .6 .6 .9 0 .8 .9 .1 .3-.5 1-.2 .4-1.1 .1-.8 .9-.4 .6-.7-.9-.8-.2-1.3 .9-.8 1.4-.5 .7-.5 .3-.9 .4-2.1zM261 -2.2l-.4 2.1-1 .9-1.4 .8-1.4 .7-1.1 .7 0 1.3 .4 1.1 .3 .6 1.1 .2 .7-.3 .9-.5 .5-.7 .3 .7 .6 .6 .1 .6 .6 .9 0 .8 .9 .1 .3-.5 1-.2 .4-1.1 .1-.8 .9-.4 .6-.7-.9-.8-.2-1.3 .9-.8 1.4-.5 .7-.5 .3-.9 .4-2.1zM17.2 -2.2l.5 2.3-.5 .4-1.1 .8-1 .7-.1 1 .1 .9 .7 .6 1.4-.1 1.4-.2 1.4-.1 .9 .4-1.3 .4-2.1 0-1 .2 0 .7 .5 .1 .1 .7-.3 .4-.5 0-.5-.5-.7 .2-.4 .8 .1 .8 .1 .4-.5 .2-.7 .3-.7 0-.2-.3-1.2 .2-1.4 .5-.7-.3-1.1 .1-.7 .1-.1-.4-.6-.1 .4-.7-.2-.6 .2-.7 0-.6-.7 .5-.9 .3-.1 .7 .3 .4 0 .6 .2 .6-.5 .4-.8 .1-.8 0-.7 .5-.4 .7-.5 .5-.7 .3-.7 .1 0 .7-1 .5-.9 .1-.3-.3-.2 .9-.8-.1-1.1 .2 .1 .6 1.1 .3 .5 .3 .7 .8 0 1.3-.3 .9-1.4 0-1.4 0-1.7-.1-.8 .5 .2 .9 .1 .8-.2 1-.4 .9 .5 .3 0 1.1 .9-.1 .9 .3 .5 .7 .7-.6 1.7 0 .6-.6 .4-.1 .2-.7 .4-.3-.3-.6 .8-1.1 1.6-.9 0-1 1-.3 1 .3 1.1-.6 .9-.5 .9 .4 .3 .8 1 .9 1.1 .6 1.4 1 .1 1.5 .6-.4 .4-.3-.4-.7 .4-.6 1 .4-.4-.4-1.4-.8-.7-.4-.7-.6-.3-.7-.9-.8 .2-.8 .8-.2-.1 .6 .7-.2 .7 1 1.4 .9 .7 .5 .6 .5 .1 1 .5 .8 .5 .8 .2 .7 .3 .8 .6 .4 .3-.8 .2 .7 .5-1-.3-.7-.5-1.2 0-.5 .8-.2 1.4 0 .5 .3-.1 .8 .2 .8 .3 .9 .5 .5 1.1 .5 .7-.5 1.4 .6 1-.1 1.1-.3 .3 .5-.1 .8-.2 .9-.4 .8-.3 1.3-.7 .3-.9-.1 .2 1 .3 .9 .9 1 .4-1.4 .1 0-.1 1.2 .7 .8 .8 1.7 1.1 1.7 .5 1.3 .9 1.6 .7 1.7 .8 1.7 .2 1.2 .4 1.1 1-.1 2.1-1 1.4-.8 1.6-.7 1.2-1 1.1-.7 1-.8 .6-.2 .5-1.2 .9-1.7-.9-.9-1.1-.3-.5-.8 .1-1.2-.3 .7-.5 .2-.9 .9-1.4 .2-.3-.5 0-.6-.2-.7-.3 .4-.4-.5-.2-.5-.3-.6-.7-.8-.4-.8 .4-.5 .7 0 .7 .7 .7 1.2 1.4 .8 1.4 .2 .5-.5 .5 1 .2 .3 1.6 .2 1.4 .2 1.7-.1 1.8-.1 .5 .5 .7 1 .5 .9 .7-.2-.7 .4 .7 1.1 .7 .1 1.1-.5 .1 .2 .1 1.8 .5 2.6 .7 1.2 .3 1.7 .6 1.2 .5 1.7 .7 .8 .5-.7 .5-.3 .7-.9-.1-1 .4-1.3-.2-1.6 .6-.8 1-.9 1.1-1.1 1.1-1 1-1.1 .4-.8 .7 .1 1-.3 1.1-.4 .4 .9 .3 .8 .7 .8 .6 1.3 0 1.7 .7 .1 .8-.6 .7 0 .1 1.3 .4 1.2 .3 2.1-.2 1.7 0 .9 1.2 1.2 .2 1.3 .7 1.6 .8 .9 .7 .6 .5-.1-.5-1.4-.1-1.2-.6-1.3-.7-.7-.7-.4-.3-1-.5-1.2-.1-1.7 .6-1.2 .6 .4 .8 .6 .7 1 1 .5 .2 1.6 1.2-.8 .4-.8 1.4-.9 .2-1.2-.4-2.1-1.2-1.3-.7-1.2-.3-.5 .6-1.2 .7-.8 .7-.1 .9 .1 .3 1 .6-1 1-.3 .7-.3 1.1-.5 1-.2 1.1-1.3 1-1 .5-1.1 .9-1.2 .4-1.1-.7-.6 .6-.4-.6-.8-.4-1.3-.7-1.3 .7-.8 1.4-.8-1-.6-1.4 .4-.7-.8-.2-.7 .9-.4 1.4-1.1 .7 .2-.6 1.5 .9-.6 1.2-.4 .6 .4 .1 1.2 .9 .5-.1 .8 .1 1.2-.1 .6 .8-.2 1.1-.4 .3-.8 0-.8-.7-1.3-.7-.8 .7-.4 .9-.8 0-.7 .7-.5 .7-.5 .9 .1 1.4-.8 1.7-1.4 .7-1.3 1.2-1.3 .2-1.2 .4-1.7 .3-1.1-1.2-.7-1.6 .2-.7-.6 .5-1 .9-.8 1.4-1.2 1.1-.8 1.4-.2 1.4 .1 1.7 0 1.6-.2 1.2 .5 1.4-.1 .5-.8 1.3-1.4 1.7-.1 .6 .7-.4 .6-1.2 1.9-1.1 .8-.3 1.3-.3 1.2 .3 1.3 .5 1.3 .5-.5 .7-1.1 1.1-1 1.2-.6 .3-1.2 .7 .2 .1-1.5-.6-.2 .8-1.5 1.7-.4 2.8 .2 1.7-.8 1.1-.7 2.1-.5 1.4 .1 .7-.6-.7 0-.4-1.1-.7-.3 1.1-.3 1.4-.2 2.1-.3 2.5 1 .7-.9 .7-.4 .3-1.7zM269.4 -2.2l.5 2.3-.5 .4-1.1 .8-1 .7-.1 1 .1 .9 .7 .6 1.4-.1 1.4-.2 1.4-.1 .9 .4-1.3 .4-2.1 0-1 .2 0 .7 .5 .1 .1 .7-.3 .4-.5 0-.5-.5-.7 .2-.4 .8 .1 .8 .1 .4-.5 .2-.7 .3-.7 0-.2-.3-1.2 .2-1.4 .5-.7-.3-1.1 .1-.7 .1-.1-.4-.6-.1 .4-.7-.2-.6 .2-.7 0-.6-.7 .5-.9 .3-.1 .7 .3 .4 0 .6 .2 .6-.5 .4-.8 .1-.8 0-.7 .5-.4 .7-.5 .5-.7 .3-.7 .1 0 .7-1 .5-.9 .1-.3-.3-.2 .9-.8-.1-1.1 .2 .1 .6 1.1 .3 .5 .3 .7 .8 0 1.3-.3 .9-1.4 0-1.4 0-1.7-.1-.8 .5 .2 .9 .1 .8-.2 1-.4 .9 .5 .3 0 1.1 .9-.1 .9 .3 .5 .7 .7-.6 1.7 0 .6-.6 .4-.1 .2-.7 .4-.3-.3-.6 .8-1.1 1.6-.9 0-1 1-.3 1 .3 1.1-.6 .9-.5 .9 .4 .3 .8 1 .9 1.1 .6 1.4 1 .1 1.5 .6-.4 .4-.3-.4-.7 .4-.6 1 .4-.4-.4-1.4-.8-.7-.4-.7-.6-.3-.7-.9-.8 .2-.8 .8-.2-.1 .6 .7-.2 .7 1 1.4 .9 .7 .5 .6 .5 .1 1 .5 .8 .5 .8 .2 .7 .3 .8 .6 .4 .3-.8 .2 .7 .5-1-.3-.7-.5-1.2 0-.5 .8-.2 1.4 0 .5 .3-.1 .8 .2 .8 .3 .9 .5 .5 1.1 .5 .7-.5 1.4 .6 1-.1 1.1-.3 .3 .5-.1 .8-.2 .9-.4 .8-.3 1.3-.7 .3-.9-.1 .2 1 .3 .9 .9 1 .4-1.4 .1 0-.1 1.2 .7 .8 .8 1.7 1.1 1.7 .5 1.3 .9 1.6 .7 1.7 .8 1.7 .2 1.2 .4 1.1 1-.1 2.1-1 1.4-.8 1.6-.7 1.2-1 1.1-.7 1-.8 .6-.2 .5-1.2 .9-1.7-.9-.9-1.1-.3-.5-.8 .1-1.2-.3 .7-.5 .2-.9 .9-1.4 .2-.3-.5 0-.6-.2-.7-.3 .4-.4-.5-.2-.5-.3-.6-.7-.8-.4-.8 .4-.5 .7 0 .7 .7 .7 1.2 1.4 .8 1.4 .2 .5-.5 .5 1 .2 .3 1.6 .2 1.4 .2 1.7-.1 1.8-.1 .5 .5 .7 1 .5 .9 .7-.2-.7 .4 .7 1.1 .7 .1 1.1-.5 .1 .2 .1 1.8 .5 2.6 .7 1.2 .3 1.7 .6 1.2 .5 1.7 .7 .8 .5-.7 .5-.3 .7-.9-.1-1 .4-1.3-.2-1.6 .6-.8 1-.9 1.1-1.1 1.1-1 1-1.1 .4-.8 .7 .1 1-.3 1.1-.4 .4 .9 .3 .8 .7 .8 .6 1.3 0 1.7 .7 .1 .8-.6 .7 0 .1 1.3 .4 1.2 .3 2.1-.2 1.7 0 .9 1.2 1.2 .2 1.3 .7 1.6 .8 .9 .7 .6 .5-.1-.5-1.4-.1-1.2-.6-1.3-.7-.7-.7-.4-.3-1-.5-1.2-.1-1.7 .6-1.2 .6 .4 .8 .6 .7 1 1 .5 .2 1.6 1.2-.8 .4-.8 1.4-.9 .2-1.2-.4-2.1-1.2-1.3-.7-1.2-.3-.5 .6-1.2 .7-.8 .7-.1 .9 .1 .3 1 .6-1 1-.3 .7-.3 1.1-.5 1-.2 1.1-1.3 1-1 .5-1.1 .9-1.2 .4-1.1-.7-.6 .6-.4-.6-.8-.4-1.3-.7-1.3 .7-.8 1.4-.8-1-.6-1.4 .4-.7-.8-.2-.7 .9-.4 1.4-1.1 .7 .2-.6 1.5 .9-.6 1.2-.4 .6 .4 .1 1.2 .9 .5-.1 .8 .1 1.2-.1 .6 .8-.2 1.1-.4 .3-.8 0-.8-.7-1.3-.7-.8 .7-.4 .9-.8 0-.7 .7-.5 .7-.5 .9 .1 1.4-.8 1.7-1.4 .7-1.3 1.2-1.3 .2-1.2 .4-1.7 .3-1.1-1.2-.7-1.6 .2-.7-.6 .5-1 .9-.8 1.4-1.2 1.1-.8 1.4-.2 1.4 .1 1.7 0 1.6-.2 1.2 .5 1.4-.1 .5-.8 1.3-1.4 1.7-.1 .6 .7-.4 .6-1.2 1.9-1.1 .8-.3 1.3-.3 1.2 .3 1.3 .5 1.3 .5-.5 .7-1.1 1.1-1 1.2-.6 .3-1.2 .7 .2 .1-1.5-.6-.2 .8-1.5 1.7-.4 2.8 .2 1.7-.8 1.1-.7 2.1-.5 1.4 .1 .7-.6-.7 0-.4-1.1-.7-.3 1.1-.3 1.4-.2 2.1-.3 2.5 1 .7-.9 .7-.4 .3-1.7zM22.8 29.6l-.2-1-.9-.3-.7 .2-.7 .4-1.4-.4-1.4-.2-1.4-.5-1.4-.5-.7 .7 0 .8-.7 .6-1-.6-1.4-.4-.3-.7-1.5-.5-1-.2-.7-.5-.3-.6 .6-.9-.3-.8 .4-.4-.7-.2-.2-.1-.9 .4-1.4-.1-1.1 .2-1.4-.1-1.4 .3-1.1 .6-1 .6-.7-.1-1.6-.6-.5 .1-.6 1.5-.5 .3-.7 .4-.5 .5-.4 1.3 .2 .5-.7 1-.7 .8-1 .5-1.1 1.2-.3 1.4-.7 .6-.7 2 .3 1.2 .3 .8 0 1.3-.3 1.3-.7 1 .5 1 .1 .9 .8 .8 .7 .9 .9 .8 .1 .8 .4 .9 .7 .5 1.1 .9 1.7 1.2 1.8-.6 1.4 0 .7 .2 1.4-.6 1.1-.5 1-.2 1.1 .1 .7 1.1 .7 .6 1-.2 .7 .4 .5 .8 .1 1.7-.4 .9-.3 .5 .8 2 1.1 1.2 .4 1.3 .6 2.1 .4 1.6 .1 1.3-.8 1.3-.4 1.6-.1 1.3 .5 1.2 .7 1.7 .7 1.7 .2 2.1 .5 1.7 .7 1.3 .5 1.6 .5 1.2 .3 1.7 .4 .4 .7 .3 1.4-.6 2.5-.1 1.4-.7 1-1 1.1-1.2 .3-.6 1-1.1 .3-1.9 .5-.8 1.4-1.1-.1-1.6-.3-1.7 1.1-1 .7-1.1 1.4-.8 .7-1.3 0-2.5-.2-1.3-.5-2.1-.2-1-.2-1.5 .5-.8 .6-1.3 .7-.8 1.4-1.7 1.4-1.2 1.4-2.1 .7-1.7 .9-2.1 1-1.2 0-1.1-1.6 .4-2.1 .5-1.4 .2-.5-.9-.5-.8-.7-1.1-1.1-1.4-.3-.1-.7-2-.9-.9 0-1.6-.5-1.3-.7-1.2-.7-1.7-.7-1.3-.7-1.6zM275 29.6l-.2-1-.9-.3-.7 .2-.7 .4-1.4-.4-1.4-.2-1.4-.5-1.4-.5-.7 .7 0 .8-.7 .6-1-.6-1.4-.4-.3-.7-1.5-.5-1-.2-.7-.5-.3-.6 .6-.9-.3-.8 .4-.4-.7-.2-.2-.1-.9 .4-1.4-.1-1.1 .2-1.4-.1-1.4 .3-1.1 .6-1 .6-.7-.1-1.6-.6-.5 .1-.6 1.5-.5 .3-.7 .4-.5 .5-.4 1.3 .2 .5-.7 1-.7 .8-1 .5-1.1 1.2-.3 1.4-.7 .6-.7 2 .3 1.2 .3 .8 0 1.3-.3 1.3-.7 1 .5 1 .1 .9 .8 .8 .7 .9 .9 .8 .1 .8 .4 .9 .7 .5 1.1 .9 1.7 1.2 1.8-.6 1.4 0 .7 .2 1.4-.6 1.1-.5 1-.2 1.1 .1 .7 1.1 .7 .6 1-.2 .7 .4 .5 .8 .1 1.7-.4 .9-.3 .5 .8 2 1.1 1.2 .4 1.3 .6 2.1 .4 1.6 .1 1.3-.8 1.3-.4 1.6-.1 1.3 .5 1.2 .7 1.7 .7 1.7 .2 2.1 .5 1.7 .7 1.3 .5 1.6 .5 1.2 .3 1.7 .4 .4 .7 .3 1.4-.6 2.5-.1 1.4-.7 1-1 1.1-1.2 .3-.6 1-1.1 .3-1.9 .5-.8 1.4-1.1-.1-1.6-.3-1.7 1.1-1 .7-1.1 1.4-.8 .7-1.3 0-2.5-.2-1.3-.5-2.1-.2-1-.2-1.5 .5-.8 .6-1.3 .7-.8 1.4-1.7 1.4-1.2 1.4-2.1 .7-1.7 .9-2.1 1-1.2 0-1.1-1.6 .4-2.1 .5-1.4 .2-.5-.9-.5-.8-.7-1.1-1.1-1.4-.3-.1-.7-2-.9-.9 0-1.6-.5-1.3-.7-1.2-.7-1.7-.7-1.3-.7-1.6zM34.5 64.8l.7 2.9-.3 1.3-.7 2.5-.9 3.8-.4 .4-1.4 .4-.8-1.3-.4-1.6 .5-1.7 .2-2.5 1.2-1 1.4-1.9zM134.5 -2.2l1.4 2.1 3.5 .9-2.4 1-1.1 1.5 1.1 .8 1.7 .4 0 1.2 3.2-.1-.4 1.4-2.1 .9-2.1 .8 .7 .3 2.8-1 2.1-1 1.4-1.2 1.4-1.7 .7 1.1 2.1-.9 1.4-.5 1.4 .7 2.1 0 1.1 .4 1.7 .9 .7 .4 .7 .8 .7 .5 1.4 1.4 1.4 .2 0 .9 1.4 1.6 .4 .9-.6-.2 2.3 1.8 .2 .1 .4 1.6 .1 2.1-.3 1 .1 1.9 .4 1.3 .9 1 .4 1 .9 1.7 1.5 .5 1 1.2 .4 .9 .5 1.2 1.1 1.7 1.2 1.4 1 1.5 .8 1.4-.4-1.1-1.1-1.9-.8-1.7-.9-1.7-.2-1.1 1.2 .5 1.4 2.3 .7 1.2 .5 1.3 1.3 1.3 1.3 1.2 .2 1.7 .9 1.2 1.4 .9 1.4 .8 1.4 .6 1.4 .5 1.1-.4 1 .6 .7 .8 .7 .5 1.5 .4 1 .4 .7 .8 .6 1 .1 .8 1.1 .3 .7 1 1 .6 1.1 .2 .3-1.3 1.1 .5 .4-.2-.1-.1-1-.7-.7 .2-1.1 .2-1.4-1.2-.2-.9 .3-1.2 0-1.7-1.1-.8-1.8 .1-.5 .1-.1-1.5 .6-1.3 .4-2-1.1 0-1.3 .4-.1 1.2-.7 .9-1.8 .2-1-.4-.6-.7-.8-1.6-.1-2.1 .3-1.7-.1-1.3 .9-.9 1.1-.7 1.7-.1 1.8 .2 .4-.8 .7-.2 1.4 .2 1 .3 1.1 .8 .2 1.2 .8 1.5 .8 .5 .3-1.1-.4-1.7-.5-1-.1-1.1 .6-1.1 1.1-1 1-.8 1.4-.7-.3-1.3 .3-1 .4-.7 .7-1.3 .1-.2 1.3-.3 1-.5 .4-.1-.5-.7 .3-.9 1.6-.6 .7-.4 1 1.1 1.4-.9 1.8-.5 .7-.7-.4-.8-.7 1.1-2.1-.4-.3-1.4 .5-.9-1.6-.2-2.4 1.4 2.1-1.5 1.7-.8 3.2 0 1.9-1.1 .9-.8-.7-1.7-2.1-.8-1.1-1.3-.7-1.2-1.4-1.5-1 1.2-1.4 .5-1.1-1.1 0-1.2-1.7-.7-1.4-.4-2.5-.2-.3 1.7 .3 .4 .4 1.7 .3 1.7-1.7 1.2 0 2.1-1.1 .6-1-1.3-.4-1.9-1.7-.1-2.1-1-1.8-.6-1.4-.3-1.2-1.1-.2-1 .3-1.2 1.1-.9 1.2-.8 2-.6 .7-1.5 0-1.7zM198 47.6l1-.8 .3-.8 .7-.5 1.1-.2 1-.9 .4 .7-.4 .4 1.1-.4-.2-.5 .9 .6 .7 .7 1.4 0 1.4 0 1.4-.1 .3 1 .7 .8 1.1 .5 .7 1 1.4 .8 1.4 0 1.4 .8 .7 .7 .7 1.8 0 1.6 1 .8 1.8 0 1.4 1.2 1.4 .3 1.7 .2 1.4 1.2 1.6 .7 .3 1.8-.3 1.3-1.2 1.7-1.1 1.6-.3 1.7-.2 2.1-.5 1.7-.7 2.1-.7 .8-1.4 0-1.8 .8-1 1.3-.4 1.7-.7 1.2-.7 1.3-1 1.2-1.1 1.5-.7 .9-1.4 0-1-.4 .3 1 .4 .8-.4 1.3-1 .6-2.1 .2-.4 1.3-1.7 .4 .3 1.2-.3 1.3-1.8 1.7 1.1 1.2-1.1 1.3-.7 1.2-.3 1.3 .3 .4 0 .8 1.4 1.3-1 .4 .5 .3-1.9-.5-1.4-1-1.4-1.3-.7-2.1-.4-2.1 .7-2.1 .7-1.7-.1-1.2 .1-2.9 .7-2.1 .6-2.1 .1-2.5 .4-2.5 .3-2.6 .2-3.3 0-1.4-.9-.9-1-.6-1.4-1-1-1.5-.6-1.3-.9-2.1-.7-1.7-1-1.2-.3-1.1 .6-1 .4-.9-.7-1.2 .7-1.3 .7-.8 .3-.8 .7-1.3 .1-2.1-.3-.8zM79.9 73l1.7-1 1.4-.3 1.8-.6 .9-1.3 .8-1.2 .7-.9 1.1-1.2 1 0 .7 .8 .7-.2 .5-1.5 .4-.5 1.2-.7 1.1 .4 1.4 0 .5 .4-.5 .9-.4 1.2 1.4 1 1.4 1.1 .9 0 .5-2.1 .1-2.1 .6-1.5 .7 1.5 .2 1.3 1.1 .8 .1 1.6 .6 1.8 1.5 1 .7 1.5 .9 .8 1.2 1.5 .5 1 .3 2.1-.4 2.1-.9 1.6-.4 .8-.5 1.4-.3 1.2-.1 .5-1.3 .2-1.1 1.1-1-.7-.4-.1-.7 .5-1.4-.3-1-.8-.2-.8-.9-.7 0-.7-.5-1.4-.2 1-.3 .6-.4-.9-.7 .7-.1-1.5-.9-.4-1.4-.6-2.1-.1-2.1 .5-1.4 .6-1.5 .7-1.7 .3-1.1 .7-1.3-.2-.7-.4 .5-.7 0-1.3-.5-1.6-.4-1.3-.7-1.7 .2-1.6 0-1.3zM101.3 88.8l2.6 .2-.2 1.7-.9 .5-.9-.9-.5-1zM121 83.5l1.2 1.2 .7 .6 .4 .9 1.4 0 .3 .1-.4 1.1-.6 .4-.4 .9-.9 .9-.4-.3 .3-1.1-.7-.4-.1-.2 .5-.6-.2-1.3-.9-1.2zM121 88.7l1.1 .5-.3 1.1-.7 .9-1.1 .7-.5 1.3-1.1 .6-1.8-.5 .3-.9 .8-.8 1.7-1 .7-.9zM66.8 50.1l1.5 .3 .7 1 1.4 1.7 1.4 .8 .9 1.3 .5 1.1 1.1 1-.2 2.3-.9 .1-1.5-1.6-.9-1.3-.5-1.2-.9-1.7-.7-1.2-1.1-1.1-.9-1.2zM76.4 53.5l.4-.4 1 .4 1.4-1.4 .7-1.1 1-.7 .9-1.4 .7 .7 1 .8-.8 .8-.2 1 .7 1.7-.9 .4-.1 1.3-.6 1.2-.3 1.1-1.1-.2-1-.3-1.1-.1-.9-.2-.1-1.1-.7-1.2zM91.8 55.6l1-.5 1.1 .4 .7 2 1.7-1.5 1.8 .8 1.4 .6 1.7 .7 .9 1.1 1.2 .6 .2 .6-.5 .2 .7 .8 .7 .9 1 1.1-.7 .1-1.4-.4-1-1.4-1.4-.6-.7 1.2-1.4 .2-1.1-.9-.7 .1-.3-1.9-.7-.9-1.4-.5-1.4-.3-.7-1 .7-.3-1.1-.8zM213.7 -2.2l1 1.7 1.4 1.7 1.4 1.2 1.1 1.3 1.7 .7 1.4 .3 .7-.6 .7-1.3 .7-1.2 1.1-1.3 2.1-.6 2.8-1.9zM209.5 -2.2l-.7 1.7-2.1 1 .3 1.3-2.4 .9-2.8-.5-2.1-1.4-2.1 0 .7-3zM191.6 1.2l2.5 0 1.7 .4 .2-.7-.5-1-3.2-.4-.7 .8zM210.7 14.9l2.3-1.7 .3-1.6 1.8 1.7 .2 1.7-.6 .7-1.4-.3-1.4-.5zM212.3 107.7l-1.4 .6-2.1 1.3-.7 2.1 5.6 0-1.1-3.4zM19.3 20.2l.1-1.9 1.1-1.5 1-1.1 .8-.2 1 .5-.5 .7 .7 1 1-.3 1.1-.7 .9 .5 1.2 1 1.6 1.7-1.3 .7-1.4 .1-1.4-.6-1.4-.3-1.7 .6-1.8 0zM24.5 16.5l.4-.7 1.4-.5 1.2-.1-.7 1-.9 .6-.3-.1z" fill="#acacac" fill-rule="evenodd" stroke="#fafafa" stroke-width="1.3" stroke-linejoin="round" stroke-opacity="0.9"/>
<path d="M32.9 17.9l.4-1.2 1-.9 1.8-.4 1 .2 0 1.2-1.2 .7-.7 .2 .5 1.1 1.3 .8 0 .6 .1 1.1 .6 .4-.2 1.2 .3 .6-1.7 .4-1.1-.5-.7-.6 0-.3 .4-1.4 .5-.2-.5-.2-.7-.9-.7-1zM40.8 16.7l.9-1 1.4 0-.4 1.4-.7 1-1 .2zM187.7 15.7l1.4-.5 1.5-1.2 1.7 .4 .7 1.4-1.7 0-1.8-.2zM190.7 19.8l.6 0 .5-1 .5-2.1 .4-.5-1.8 .2-.3 1.1 .1 1.3zM193.4 18.8l1 0 .6-1.3 1.2-.3-.4-1-2.4-.1 .3 1zM193.7 20l1.4 0 1.8-.9-.2-.3-1.6 .4-1.2 .3zM196.3 18.6l2.5-.2 0-.7-2.3 .5zM182.8 12.5l1.8 0-.4-2.8-1 0zM22.4 55l1.4-.5 .6 .9-.9 1.7-1.2-.7zM72.6 11.6l1 0 2.8-2.1 .5-1.5-.7 0-1.6 2.4zM21 4.4l1.8-.4 .2-.6-1.3-.3-.8 .6zM24.2 3.7l1-.2 .4-1.1-1.1-.2-.5 .6zM51.5 15.8l.7 .9 2.1-.5 1.4-.6-.4-.4-1.4 .6-1.7-.2zM9.5 44.3l1-.3 0-.8-.8-.2zM20.5 57.7l.5 0 .9 3.7-.5 .5-.7-1.7zM23.8 62.7l.4 0 .5 2.9-.2 1.1-.5-1.5zM170.2 3.7l2.8-.2 2.8-.8-1.4-.4-3.1 .5zM174.4 5.7l2.1-.4 1.4-.2-1.4-.2-1.7 .5zM180.4 7.4l.6 0-.1-1.2-.6 .2z" fill="#fff"/>
</g>
<rect x="0.85" y="0.85" width="250.50" height="107.80" fill="none" stroke="#fff" stroke-width="0.8" stroke-opacity="0.75"/>
<rect x="0" y="0" width="252.2" height="109.5" fill="none" stroke="#333" stroke-width="1"/>
<text transform="translate(-2.4,5.8) scale(0.85,1)" class="tl" text-anchor="end">60N</text>
<line x1="0" x2="1.2" y1="4.5" y2="4.5" stroke="#444" stroke-width="0.5"/>
<text transform="translate(-2.4,14.2) scale(0.85,1)" class="tl" text-anchor="end">50N</text>
<line x1="0" x2="1.2" y1="12.9" y2="12.9" stroke="#444" stroke-width="0.5"/>
<text transform="translate(-2.4,22.6) scale(0.85,1)" class="tl" text-anchor="end">40N</text>
<line x1="0" x2="1.2" y1="21.3" y2="21.3" stroke="#444" stroke-width="0.5"/>
<text transform="translate(-2.4,30.9) scale(0.85,1)" class="tl" text-anchor="end">30N</text>
<line x1="0" x2="1.2" y1="29.6" y2="29.6" stroke="#444" stroke-width="0.5"/>
<text transform="translate(-2.4,39.3) scale(0.85,1)" class="tl" text-anchor="end">20N</text>
<line x1="0" x2="1.2" y1="38.0" y2="38.0" stroke="#444" stroke-width="0.5"/>
<text transform="translate(-2.4,47.7) scale(0.85,1)" class="tl" text-anchor="end">10N</text>
<line x1="0" x2="1.2" y1="46.4" y2="46.4" stroke="#444" stroke-width="0.5"/>
<text transform="translate(-2.4,56.0) scale(0.85,1)" class="tl" text-anchor="end">EQ</text>
<line x1="0" x2="1.2" y1="54.8" y2="54.8" stroke="#444" stroke-width="0.5"/>
<text transform="translate(-2.4,64.4) scale(0.85,1)" class="tl" text-anchor="end">10S</text>
<line x1="0" x2="1.2" y1="63.1" y2="63.1" stroke="#444" stroke-width="0.5"/>
<text transform="translate(-2.4,72.8) scale(0.85,1)" class="tl" text-anchor="end">20S</text>
<line x1="0" x2="1.2" y1="71.5" y2="71.5" stroke="#444" stroke-width="0.5"/>
<text transform="translate(-2.4,81.2) scale(0.85,1)" class="tl" text-anchor="end">30S</text>
<line x1="0" x2="1.2" y1="79.9" y2="79.9" stroke="#444" stroke-width="0.5"/>
<text transform="translate(-2.4,89.5) scale(0.85,1)" class="tl" text-anchor="end">40S</text>
<line x1="0" x2="1.2" y1="88.2" y2="88.2" stroke="#444" stroke-width="0.5"/>
<text transform="translate(-2.4,97.9) scale(0.85,1)" class="tl" text-anchor="end">50S</text>
<line x1="0" x2="1.2" y1="96.6" y2="96.6" stroke="#444" stroke-width="0.5"/>
<text transform="translate(-2.4,106.3) scale(0.85,1)" class="tl" text-anchor="end">60S</text>
<line x1="0" x2="1.2" y1="105.0" y2="105.0" stroke="#444" stroke-width="0.5"/>
<text transform="translate(0.0,114.6) scale(0.82,1)" class="tl" text-anchor="middle">0</text>
<line x1="0.0" x2="0.0" y1="108.3" y2="109.5" stroke="#444" stroke-width="0.5"/>
<text transform="translate(42.0,114.6) scale(0.82,1)" class="tl" text-anchor="middle">60E</text>
<line x1="42.0" x2="42.0" y1="108.3" y2="109.5" stroke="#444" stroke-width="0.5"/>
<text transform="translate(84.1,114.6) scale(0.82,1)" class="tl" text-anchor="middle">120E</text>
<line x1="84.1" x2="84.1" y1="108.3" y2="109.5" stroke="#444" stroke-width="0.5"/>
<text transform="translate(126.1,114.6) scale(0.82,1)" class="tl" text-anchor="middle">180</text>
<line x1="126.1" x2="126.1" y1="108.3" y2="109.5" stroke="#444" stroke-width="0.5"/>
<text transform="translate(168.1,114.6) scale(0.82,1)" class="tl" text-anchor="middle">120W</text>
<line x1="168.1" x2="168.1" y1="108.3" y2="109.5" stroke="#444" stroke-width="0.5"/>
<text transform="translate(210.2,114.6) scale(0.82,1)" class="tl" text-anchor="middle">60W</text>
<line x1="210.2" x2="210.2" y1="108.3" y2="109.5" stroke="#444" stroke-width="0.5"/>
<text transform="translate(252.2,114.6) scale(0.82,1)" class="tl" text-anchor="middle">0</text>
<line x1="252.2" x2="252.2" y1="108.3" y2="109.5" stroke="#444" stroke-width="0.5"/>
<text x="1.7" y="16.0" class="pl">e.</text>
</g>
<g transform="translate(294.5,254.6)">
<rect x="0" y="0" width="252.2" height="109.5" fill="#f3f2fb"/>
<g clip-path="url(#mclip)">
<g filter="url(#bl)"><path d="M-2.8 111.7l257.8 0 0-113.9-257.8 0z" fill="#faf6f8" fill-rule="evenodd"/><path d="M1.3 73.2l5-1 2.1-1 2.8-3.1 .7-2.9 2.8-2.1-1.6-4.2 1.6-1.7 2.1 1.2 3.5-.7 1.4 .8 7.7-.7 2.8 1.3 2.1 .1 1 1.4 .2 1.7 .9 .8 2.8 1.5 2.8 .5 2.1 2.2 1.4 .1 1.4-.8 1.4 .4 2.1-.3 8.4 .1 3.5 .8 5-2.8 .9-2.5 1.9-1.2 1.4-.4 1.4 .9 3.5-2.1 2.1 .7 2.1-1.1 5.6-.2 1.4-.8 2.1 .2 2.1-1 1.4 .5 1-.5 1.1-1.7 2.8 2.2 7 .5 2.8-1.6 2.8 1 3.5-.9 1.4 1.2 .7-.1 1.4-1.5 3.5 2.4 2.8 .3 2.1-2.2 1.3 .4 1.5 1.3 1.4-.2 2.8 1 2.8-1.6 2.1 .7 6.3-.9 2.1 1.1 1.4-.3 1.4 .5 3.5-.7 5.6 .6 4.2-1 5.6 1.4 2.1-.5 2.1 .7 3.5-.2 2.1-1.4 2.1 .8 3.5 .2 3.5-1.7 .8 .2 1.3 1.9 3.6-1.6 3.5 .1 2.1 .7 2.8-1.4 1.4 1.3 2.1-.5 2.1 .6 .9-.3 1.2-2 1.6 2 3.3 .6 8.4-.7 2.8 .5 2.8-.9 8.4 1.1 2.8-1.1 2.1 1.4 2.8-.8 .7 .5 3.5 9.3 .7 0 2.1 2.7 2.1 1 .7 1.6 1.4-.1 0-75.4-257.8 0 0 72.1 .7 1.6 .7 .4 1.4-.1zM130.3 57.2l-.5-.8 .5-1z" fill="#faeff2" fill-rule="evenodd"/><path d="M1.7 70.7l.9 0 .9-1.7 2.1-.8 1.4-1.3 1.4 .1 1-.5 1.1-2.7 1.7-1.5-.2-4.2 2-3.3 1.4-.6 2.8 1.3 .9-.7 .2-1.7 1-.8 1.4 1 2.1 .2 1.4 2 .7 .1 2.8-1.8 1.4-.2 2.1 2.3 3.5 1.4 2.8 .5 3.5 4.3 4.2 2.5 2.1 .5 9.1 .3 7.1-.9 1.9-2.2 4.4-3.3 1.4-.8 2.1 0 .7-1.8 2.8-.6 3.5 .2 2-1.2 .8-1.9 1.4 1.5 1.4-.2 2.1 .9 1.4-.7 2.1 .7 4.2-3.2 2.1 2.8 2.8-1.2 1.4 1.8 2.1 .6 2.8-3.8 .6 .1 0 1.7 .8 .7 2.1-.9 1.4 1 2.8-.6-.6-1.9 .6-1 .7 0 1.4 1.3 1.4 .1 .7 1.4 1.4 .9 2.8-.9 3.5 1.1 3.5-1.3 2.1 2.6 2.8-.7 2.8 .3 2.1-.6 8.4 1.7 9.1 .2 4.2-.9 6.3 1.2 6.3-.2 2.8-.7 3.5 .2 2.1-.9 3.5-.1 2.9 .8 11.2-1.6 4.9 .4 4.2-1.5 1.4 1.6 2.8-1 4.2 .8 2.1-1.5 2.1-.6 2.1 1.8 5.6 .1 1.4-1.1 2.1 1 .4-.3-.1-2.6 1.8 0 .7 .2 .7 1.5 1.4 1 3.5-.6 2.1 1 2.8 5.3 .7 3.4 2.7 .8 1.5 3.5 2.1-.5 .7 .8 0-70.8-257.8 0 0 63.4 1.1 .2-.4 .8-.7 0 0 3.1zM23.8 7.9l.7-.9 .2 .9zM39.9 3.2l-.5-.4 .5-.6 .8 .6zM49.7 24.6l-.4-.8 .5 0zM57.4 16.3l.7-.7 .6 .6-.6 .6zM60.9 5l0-.9 1 .4zM72.9 56l-.4-.4 .4-.8 .7-.2 0 .9zM96 47.8l-.5-.6 .5-.9zM112.1 52.5l-.3-1.1 1-.6 1.5 .6zM200.4 51.5l.9-.9 0 .8z" fill="#fae8eb" fill-rule="evenodd"/><path d="M3.2 67.3l1 .1 1.4-1.2 2.2-.6 3.3-4.2-.7-3.3 1.8-3.3 1.4-5.1 2.5-2.1 1.4 .4 2.8 2.2 4 .4 .5 2.5 1.1 .9 4.5-1.8 1.1-2.3 1.4-.6-.4 2.1 .4 1.4 .7 .7 2.1-.3 1.4 1 2.1-1.2 .7 .5 1.4 2.1-.7 2.5 1 1.7 1.8 2.1 3.5 2.1 8.4 0 2.1 .7 6.4-1 4.4-3.9 1.7-3.4 .9-3.2 4.2-1.3 1.4-1.4 .4 .9-1.1 1.8 .7 .6 3.5 .7 2-.6 2.2-2.4 5.6 .2 1.4-.8 .9-1.2-.2-1.1-2.8 0-1.4 2-.7-.9 2.1-4.5 2.8-.2 1.6 1.4-.2-2.3-4.8-1.9-.5-.8 0-3.4 2.5-2.1 .6 1.3-.2 1.6 1 1.2 1.4 .2 .6-.5-1.1-1.7 1.9-.4 1.4-1.5 3.5-.2 .7 1.8 2.1-.1 2.8 2.2 4.2 .9 1.5 1.5-.1 1.9-1.4 .4-2.1-2.1-2.1 .3-1.4-1-.7 .4-.7 1.9-1.4 0-2.1 1.3-1.4-.5 0 1.6 .7 1.1 2.1-.4 2.1 1.8 4.2-1.6 1 .8 .4 2 2.1 .5 3.7-1.7 1.9-2.5 .7-.1 .5 2.6 .9 1 2.8 1.1 1.4-.2 2.1 1.6 2.8-.3 1.4 .5 1.4-.6 2.1 1 1.9 1.8 7.2-.5 5.6 1.6 8.4 .5 1.4-.4 2.1 .5 4.2-.6 6.3 .9 11.9-.6 2.8-1.2 6.4 .8 2.1-.8 2.8 .2 1.9-1.3 .9-1.5 1.5 1.5-.3-1.7 .6-3.3 1.7 0 1.4-2 .7-.1 1.8 1.3-.3 5 .6 .6 2.8-.6 1.4-3.3 2.1 1.1 1.4-.1 2.1 2.4 2.1 .8 .7-2.7 3.5-1 4.2 2.7 2.1-1.4 1.4-.2 2.1 .6 1.4-.6 3.5-.3 2.1-.9 2.1 1.8 3.4 .2 3.4 5.1 1.8 5 6.1 4.4 0-29.8-1.7-1.4-.6-1.7 .2-1 .7 1.5 1.4 .9 0-35.6-.5-.9-1.8-.9-7.2 0-.1 .9 2.1 1.6-.2 1.6-.7 .3-2.8-1.9 .3-2.5-1.3 0-.9 .9-3.7 1.3-.7-.5 .3-1.7-2.9 0 .6 .9-.4 .8-3.2 2.1-2.9-.4 .2-1.7-1.2-1.7-7.2 0-2.2 .5-1.4 1.4-1.4-.7-1.4 2.1-.7-.1-1.2-1.5 .2-.8 1.3-.9-4.2 0 1.3 1.7-.9 1.5-.7 .1-.9-.8 .3-1.6-1-.9-26.7 0-.3 1.7-.9 .2-.9-1 .2-.9-36.9 0-.2 .9-.7 .1-.1-1-20.5 0-.4 .9-.7-.9-7.7 0 1.3 .9-1.3 1.3-.7-.3-.3-1 1-.9-24.4 0-.8 .8-1.4-.4-1.4 .5-1.4-.6-1.4 2.2-2.8-1.6-.7 .4-.5 2.1 .5 1 2.4 .6 .3 .9-1.3 1.7 1.4 2 4.2-.4 1 1.7-.3 1-2.1-.3-.7 1.1-1.4 .4-1.4-1.8-2.8-2.1-2.3 1.7-.5 1.7 .7 1.7-.5 .8-1.6 .4-2.1-.5-2.1 1.2-1.7-.3-.8-.8 1.1-1.2 2.8-.9 .9-1.3 0-.8-.9-.8-1.9 0-.5-2.5 1-1.6 1.4-.5 0-2.1-1.4 .1-2.1-2-2.1-.6-1.3 .8 .4 1.7 2.3 1.3 .6 2-.6 1.1-2.1-.4-1.3 1 .5 .7 1.5-.1 .8 1.9-1.5 .6-1.5 2-2.1-1 .1 1.8-.8 .5-2.9-4.7 .1-1.7-.8-1.7 0-1.7 .8-1.1 1.4 .5 3.6-.2 .9-2.5-.9-1.7-8 0-.3 .9 1.6 1.6-1.1 3.1-3.5-4.8-1.5-.8-2.1 0 1.6 .9-1.6 1.6 0 5.9-1.3 .8-.7 2.1-2.5 .4 0 3.4-1.8 2.5 .3 3.4-.9 .4-3.5-3.5-.1-1.1 .8-.4 1.4 .5 .4-1-1.8-2.5 .7-1.7-.7-2 2.1 1.7 2.6-.5-1.8-3.3-1.5-.5-1.4 1.9-.6-.6-1.2 0 0 1.7-1.3 1.6-.8 3.4-1 1.2-2.1 .1-2.1-1.8-1.5-2 .7-1.7-.6-.6-2.8 1.8-.8-1.2 .8-3 3.5-1.3 2 1-.3 2.5 .8 1.6 1 .9 1.4-.2 2.3-4-.2-2.1 1.4-2 1.4 0 1-.9-1-1-2 .1 .7-2.5-4.5 0 0 1.7-1.2 2.8-2.8-1.4-1.5-2.2 0-.9-20.2 0-.7 .4-6.5-.4 .2 3.8-1.4-.9 0 58.6 2.2 2.1-.1 1.4-.9 1.2 .2 .8 2.1 2.3zM9.1 37.2l-1.9-.9-.5-.8-3.2-.5-.6-2 2-.7 1.4-1.4 1.4 .9 1.4-.9 1.4 .1 .6 2zM12.6 44.2l-.4-.3 1.1-2.4 2.5 .7 .3 1.7-.7 .6zM18.2 46.6l.7-1.5 0 2zM32.9 27.5l-.8-1.2 2-.9 .9-2.2 .7 .2 0 1.9-1.4 1.9-.7 .5zM40.6 25.6l-1.5-2.7 .1-1.2 2.1 .2 1.9 1.9-.5 1.7-.7 .5zM49.7 27.5l-2.8-3.8-2.1-.1-.9-.7 .7-2.5-.8-1.6 .3-.9 1.4-.1 .8-.7-.1-1.9 .9 2.7-.6 1.7 .4 1.7 1.1 .8 2.4 0 1.2 1.7 .1 .8zM51.8 34l.9-.2-.2 .6zM56.7 33.2l-.5-1.1 .5-2.1-.7-.5-1.4 .7-1.2-1.4-.2-2.5 .7-.6 2.1 .4 2.1 1.5 1.4 1.8 1.4 .4 .3 .7-1 .5-1.4-.5-1.3 2.5zM63.8 31.6l-.7-.3-.2-2.5 1.1-3.4 1.2-.6 1 1.5-1.2 1.7 0 2.5zM70.1 48.4l-.2-2 .9-.5 .8 2.2-.8 .8zM72.9 43.3l-.7-.3 .7-.5 .4 .5zM77.8 30.7l-3.5-3-1.4-.2-1.4 .5-.7-.9 1.1-1.7-.1-.8-1.5-.8 .5-.6 1.4 1.1 2.5 .3 1.4 1.7 .3 2.1 1.4 .2 .8 1-.2 .9zM79.2 23.4l-.7-.5-.1-.8 .8-.9 1.1 .9zM89 31.5l-.5-4.4 .5-.7 .7 0 .9 .7 .2 .9-1 3.3zM90.4 33.1l-.2-1 .7-.8 1.1 0 .2 .8-.4 .8zM97.4 32.2l0-1.1 .9 1-.2 .5zM105.1 37.5l-1-1.2 .3-1.2 1.4 .3 .5 .9-.5 1.4zM126.8 49l-2.8-1.7-.7-1.3-2.1 .2-1.4-1.9-1.4 1.3-1.4-.4-.4-1.3 .4-1.4 2.8-2.3 1 2.8 1.5 .9 3.1 3.3 1.8-.8 .3-1 .3 1zM130.3 42.4l-.4-1 1.1-.7 .3 .7zM139.4 39.7l0-.9 .7-.3 1 .3 0 .9-1 .8zM142.2 37.4l-.5-1.1 .5-.6 1 .6zM160.4 1.3l-.8-1 .8-.8 .8 .8zM170.2 6.4l-1.3-1-.1-1.1 .7-.3 .7 .6 .6 1.6zM171.6 10l-.9-1.3 .2-1.6 1.4 .6 .6 1-.6 1.1zM175.8 36.4l0-1.3 .6 1.2zM208.1 38.2l-.7-1.3 .7-.7 1.4-.2 0 1.2zM210.2 6.4l-.4-1.9 .4-1.1 1.2 2.8-.5 .6zM218.6 4l-.4-1.2 1.1-.4 .4 1.3zM241.7 5.6l0-.9 .9 .7zM245.9 48.1l-.4-.9 .4-.6 .8 .6-.1 .7zM252.9 15.5l-.1-.9 .8-1.1 .5 1.1-.2 .8-.3 .5zM84.8 5l-.4-.5 .8-2.5 .3-.7 .7 0 .7 2.4zM.7 39.6l0-2.4 .7 .5 .1 1.1zM2.1 8.9l-2-1.9-.1-1.1 1.4 0 1.5 2-.1 .8zM6.3 3.3l-1.1-1.3 .4-.6 1.7 .6-.3 1.1zM10.5 17.2l0-1.9 2.8-.2 .7 .5 0 1.9zM12.6 40.7l-2.1-1.7-.4-1.8 2-1.7 .6-1.7 3.4-1.5 .7 .5 .7 2.7-.3 4.2-1.1 1.1-.7-3.4-1.4 .7-.7 3.2zM46.2 12.9l-1.5-.8-.1-.9 .9-1.8 1.1 1zM47.6 9.8l-.6-1.1 .6-1.2 .7-.1 0 2.8zM49.7 16.3l-1.2-.9 .5-1.5 .7-.1 .4 .8zM51.1 11.1l.7-2.4 .7 .5 .1 1.2zM51.8 31.4l-.8-.9 .1-1.4 1.6 .5zM58.8 25.7l-1.4-2.1-3.5-.1-1.4-1.4-.9-3.3 1.6-5.2 1.6 1.8 .1 1.7 1.8 3.8 .7-.2 .3-1.9-1.9-3.4 1.6-1.3 2.6 1.3-.8 4.2 .3 1.5 .7 .4 1.2-1.1 .2-2.2 2.6-1.1 .8-.9 .2-1.2 1.8 2.9 .3 .9-.5 .8-3 1.7-.4 .8 .7 1.7-.3 .7zM70.1 36.6l-2.8-1.8 0-1.4 .7-.4 1.4 1 2.1-1.7 0 2.4zM75 20.5l-1-.9-.3-2.5 4.2-4.2 1.3-.5 .4 .5-.4 3.2-1.4-.2-1 1.2 .3 .6 1.4 .2-.1 .9-1.3 .2-1.4 1.7zM82.7 22.5l-1-4.6 .4-.8 1.3-.6 .5 3.1 2.3 2.5-2.1-.2zM90.4 7.2l-.8-1 .8-.5 .4 .5zM91.8 3l-.2-1.8 .9-.2 .5 1-.2 .8-.3 .6zM125.4 41.4l0-2.6 .7-.7 .6 .7-.1 .9-.5 1.4zM173 .4l-.1-.9 1.5-.8-.7 2.4zM49 13.1l-.4-1.9 .4-.6 1.5 .6-.8 1.9zM86.2 13.8l-1.4-.6-.5-1.1 1.2-1.3 1.4 .1 1.4-.9 0 4.6zM49 6.8l-.5-.6 1.2-2.7 .9 2.7zM16 52.2l.8 .4 .4-1.2-1 0zM99 52.2l.5 .3 .6-1.1-.6-.9-.8 .9zM96.5 41.4l1 0 .9-1.7-.2-.9-1.5-.7-1.8 .7zM100.3 41.4l.8 0-.2-1.3-.6 .4zM42.1 4.5l1.3 .5 1.1-.5 0-.8-1.1-1.4-.7-.2-.7 .7zM39 .3l2.3-.3 .7 .9 .7 0 1.2-.6 .4-.8-.9-1.4-2.1 .9-.3-1.2-3.7 0 1.1 .9zM70.2 -1.3l1.3 .4 2.1-1.3-4.9 0zM74.9 -1.3l.8 .8 .7-.2 .9-.6 .1-.9-2.9 0zM231 -1.3l.9 .2 .7-1.1-2.3 0z" fill="#f8e0e2" fill-rule="evenodd"/><path d="M.6 65.6l.8 .6 2.9-1.4 2.7-.5 2.8-2.9-.2-2.5 1.5-4.1 .5-3.4 1.1-2.5 2.1-2.5-3.8-1.7-.2-.8 .8-1.7-.4-.7-2.1-.5-.7 .4-.2 2.5-1.2 .1-.8-2.6 1.6-2.6-.8-.9-5.6 2.9-1.4-.6-1.4-2.5-1.4 1.9 0 18.9 2.7 2.9 .1 3.4zM254.8 65.6l.2-24.4-1.2-.7 .8-1.7-.4-.8-2-1.7-.7-5 .7-1.2 2.8 .7 0-16.3-.7 3.2-1.4-.9-1-2.2 .5-1.7 2.6-2.9 0-8.3-1.4 0-2.9 1.1 1.9 2.6 1 3.6-2.1 .2-2.1-1.6-3.5-1-1.4 .6-3.5-.1-2.1 2-.9-.4-.4-1.7 2-2.5-1.4-1-2.1-.3-1.4-1.4-.7 0-2.1 1.8-2.8-.2-.5 2-.9 .7-4.2-1.3-2.1 1.3-2.1-.1-4.2-1.6-.7 .6-1.4-.4-2.1 3-3-2.2-1.2-6-1.4 1.5-1.4-2-3.7-1.1-12.9 0-.3 1.1-2.6-1.1-1.9 0-.5 1.7-2.2 1.7 .1 .8 .8 .8-1.4 2.8-.7 .4-1.4-2-1.5 1.4 .8 1.2 1.3 .4-.6 1.8-1.4 1-2.1 .6-.7 1.1-1.4 .8-.7 0 .2-1.1-1.6-4-1.8-1.8-.3-.9 .6-2.5-.6-.8-1.4-.1-1.5 1.7-1.3-.4-.7-1.4-.7 1-1.4 .3-1.4-1-1.4-2.5-2.8 .7-.7-.4 0-1.3-4.4 0-.5 .7-1.2-.7-3.8 0-.2 1.7-1.8 .7-3.5-2.4-2.4 0-2.5 2.1-1.4-.4-.5-1.7-3.7 1.2-1.3-1.2-4.6 0-.8 1.7-1 .8-.7-.2-1.1-2.3-2.5 0-4.1 3.1-1.4-.7-.6-2.4-4.9 0-1.5 1.1-2.9-1.1-1.7 0-1 1.9-2.8 1.3-.6-.7 .1-1.6-.9-.6-1.1 .6 0 .8 1.5 1.7-.6 4.2-4 4.6-.5 2.1 .6 2.5-.3 .8-1.9 2-1.4-1.9-1.3 .7-.1 2.6 .5 .8 4 .8-1.6 2.5 .2 .9 3.2 2.7 .6 3.1 1.2 .9-.4 4.2 .7 1.4 1.4-.1 2-2.2-.1-2.5 .9-1.6 .7 .1 1.4 1.9 1.4-.4 2.1 .5 .4 2 2.4 .4 2.8 2.3 2.8 .7-.7 2.5 .7 1 1.4 .4-.9 2.8 .1 .8 1.5 1.5 1-.7 1.5-4.1-1.1-1-1.8 .1 .2-2.5 1.6-2.4 1.2 .7 .2 1.1 1.4-1.2 2.1 .7 .7-.3 1.4-2.4 .7 .4 1.4 1.7-1.4 .6-.4 1.1 .2 1.7 .9 .9 1.1-.9-.3-2.5 .6-.4 4.9-.9 1.5 .4 2.5 5.9-1.9 1.7-2.8-.1 .1 2.6-.6 2.5 2.6 2.3 4.6-.6 .2 .8-2.7 .8 .7 1 1.4 .2 4.2-1.4 3.5 2.3 1.4-.2 2.1 1.1 8.4 .5 1.4-.8 2.1 1 4.2-.4 2.8 .6 7 0 9.1-.6 2.1-1.2 5.6 .9 2.9-1.2 2.1-.2 .6-.7-.2-3.4 1.7-4.2 .7 1.3 2.8 .3 .7-.2 .7-1.5 3.5 .7 2.1-1.7 .5 1.1-.2 2.6-1.2 2.5 .9 .9 1.3-.9 .8-1.8 2.1-1.6 .8 1.7 3.4 2.3 3.5-2.2 7 1.7 3.5-1.1 2.1 1.3 4.9-.6 2.1-.9 3.5 1.1 2.8-1.7 .6-2.4 .8-.5 1 .5 .5 1.7-1.4 1.6-.2 4.2 .8 1.2 1.4 .3 .6 1-.1 2.5 1.6 3.4zM136.6 43.2l-1.3-1 2-1.8 .9-2.4 2.5-.8 .8-1.9 .7-.4 1.6 .6 .2 1.7-1.2 .8-.2 1.7-2.5 3.2-.7 .4-.7-2.3-.7-.5-.6 2.5zM145 41.4l0-1.4 2-1.2 .1-.9 1.4-.3 1.6-2.1 .3 .8-1 1.7 1.2 1.7-.7 .3-1.4-1.2-.7 .1-.9 2.5-1.2 .6zM154.1 39.7l-.9-.9 .9-1 1.3 1zM159.7 34.9l-.4-1.1 .4-1.2 .7-.3 1 2.4zM163.2 37.8l-.3-.6 1-1.2 1.3 1.2-1.3 .8zM173 38.9l-2.1-1.4-2.1 1.1-.8-.6 .2-2.5-.8-1.7 1.8-3.3-1.1-1.1-.2-1.4 .5-2.6 1.1-.6 1.4 .1 .3 .5 .3 1.7-1.6 2.5 1.7 .9 1.4 4.4 1.4-.2 1.4-2.5 .7 .7 1.1 3.4 .9 .9-.6 1-2.8-.4zM184.2 24.7l-2.1-1.9-1.4-2.3-1.4 .4-.5-.5 .5-1.5 2.1 .5 1.6-1.5 2.3 0 1.2 2.5 .2 1.7zM198.3 36.4l-.5-.9 .4-.8 1.5-.7 .7 .9 .1 1.4-.8 .7zM207.4 39.3l-3.5-3 .1-1.6 .6-.5 2.1 1.1 2.8-.3 .9 .5 .1 1.7-2.4 2.3zM213 40.7l-.7-1 0-2.5 2.1-.3 .7-.6 .8 .9-.1 1.4zM233.3 38.2l-2.1-2.7 .7-1.1 1 .3 .8 3.3zM238.2 38.9l-1.6-1.7 1.6-2.4 2 3.2-.6 1zM246.6 40.7l-1.4-1.2-2.8 0-1.1-1.5 2.2-2.5 .4-1.7-1.6-1.7 .8-.8 2.1 .6 1 1.1-.4 4.2 1.5 .6 .4 1 0 .9zM248 18.4l0-.9 .7 .4zM250.1 40.9l-.6-2.1 .6-1 .7 1 .2 1.7-.2 .5zM148.5 3.1l0-1.6 .8 1.3zM169.5 15.6l0-.5 .6 .3zM170.2 22.5l0-.8 .7 .4zM176.5 31.1l-.3-2.3 1.3-3.4 .4-.1 .7 1.7 2.1-.7 1.3 .8-1.3 2.5-1.2-.8-.9-1.6-.6 .8 .2 1.6zM180.7 16.3l-1.3-.9-1.6-2.5 .3-.8 1.9-.9 1.3 2.5zM57.2 64l6.6-1.2 2.3-2.2 2.3-5-1.1-2.1-2.8 .8-.8-1.2 .8-1.1 1.4-.6 1.4-.2 .7 1.1 .7 .1 .9-1-.1-.8-1.2-.9 .3-5-1.4-2.5 1.9-4.2-1.1-1.7-1.6-.8-.5-.8 .4-2.6 1.3-1.6-.3-.5-.7-.3-1.4 3.3-5.7-1.2-2.1 2.1-2.8 .6-.8 1 .5 2.5-.4 .3-.9-2-1.8-1.6-.8-3.4-.7-.1-1.4 2.4-1.4-2.1-2.9 .6-.5-.8 .4-1.7-.5-1-1.4-.2-2.8 .9-1.5-.5-1.3-1.4-2.8 1.8-2.1-1.4-.3-1.5 .5-.9 1.7-.8 1-2.5 0-1.7-.8-1.6 1.5-2.6-.8-1.6-2.8 1.2-6.3-4.6-5.6 2.5-2.1 1.8-1-1.8 1.7-.9 2.1-2.2 1.4-.1 .6-1 0-2.5 1.1-3.3-.3-1-2.3-1.5-1.8-3.4-2.6 0-1 .8-1.5-.8-.4 1.7-.9 .2-1.4-1-.9 2.5-1.9 .9-2.1 2.1-1.2-.5-1.6-2.1-.7 .5-1 1.6 .2 .8 1.5 1.1 1 2.3-.5 1.6-1.6 .9-.3 2.2 1.4-.2 1.4-1.5 1.4 .3 .5 .9-2.4 1.6 .4 3.4-.6 1.1-2.1-5.2-.9 .7-.6 2.5 .3 1.7 1.6 1.7-.4 .2-1-.2-1.6-1.7-1-3.3-1.3-1.4 0 21.4 .7 .3 2.1-1.4 2.1-2.6 2.1 .7 2.1-2 1.4 .6 2.8-.3 1.4 1.2 .7-.1 2.1-1.9 2.1 .7 3.5-.5 1.4 1.2 0 2-.7 .5-2.1 0-.8 .8 1.5 .3 .9 1.4-1 2.5 1.7 2.5-.8 4.2 .6 .6 1.4-.6 .6 .8-.6 1.9-1.3 .7 .4 .8 4.4 .8-.2 2.5 .9 .6 2.9-1.4 1.4-2.5 2-.8 4.2 4.6 2.1-.9 .7 .4 2.6 3.4-.4 3.3 1.3 1.9 2.8 2.2 1.4 .6 2.1-.5 2.1 .6 4.2-.2zM9.8 18l-.7-1.7-2.1 1.4-.8-.6 .4-1.7 2.1-2.5 1.1 .1 1.4 1.4 3.7 .2 .5 .8-.1 1.7-1.3 1.4zM31.5 37.1l0-2 .8 .4 0 .8zM51.8 51.8l-1-2.1 .3-.7 2.2 1.6-.1 .9-.7 .5zM79.8 53.1l1.5 .2 1.2-1.9 3-2.1 2.5-4.6 0-.8-1.4-1.7 .6-2.5-1.6-3.4 1.2-1.6-.2-1.7-1.8-1.8-2.1-.5-1.4 .6-2.1-.2-1.4 .8-2.1-.7-3.5 4.1-.8 1.9 .8 1.3 1.4 1 .6 2.7-.3 1.7-1.4 .8-.3 .8 1.2 5.1 .9 .3 2.6-1.2 .9 1.8zM123.2 50.6l.8 .7 1.8-.7-.4-1.1-2.8-1.7-.4 1.1zM105.7 44.7l.8 .5 .1-1.3zM127.2 42.2l1 .3 .9-2-.2-1-.7-.3-.7 .7zM71.2 41.4l1-.1 .7-.8-.7-.9zM254.6 33l.4 .4 0-.7zM53.1 32.1l.8 .5 0-.6zM68.6 29.6l.8 .3 1-1.1-1-1.3-.9 .5zM82.3 29.6l.4 .5 1.4-.8 0-2.2 1.6-2.5-.9-1.3-.9 .5 0 2.5-1.7 1.7-.3 .8zM79.1 28.8l.8 .2 .7-1-.7-1.3-1 .4-.4 .9zM61.4 27.1l.7 0 .2-.8-.7 0zM37.7 26.3l.5-1.7-1.1-1.8-.2 1.8zM76.3 24.6l.8 .4 .3-.4-.3-1-.7 0zM67.1 23.8l.6 0-.4-.5zM72.8 22.1l.8 .5 .7-.5-.7-.8zM37 19.6l.6 0-.5-.7zM67.9 16.2l2.2 .5 .6-.5-.4-.8-.9-.4-1.8 .4zM80.7 14.6l1.3 .2 .1-1.9-1.2 .8zM76.8 11.2l1.6 0 .8-.8-.7-.7-2.1-.3-.6 1zM56.1 10.4l.6 .4 0-.5zM-2.8 9.5l1.1-5-1.1-1.8zM51.8 5.4l.7 0-.7-1zM244.7 4.5l1.2 .6 .6-.6-.1-.8-2.6-.1zM171.6 3.7l0-2.3-.8 .6zM225.4 3.7l.2 .5 .7-.1 .2-2.1-1.6-1.9-.5 1.1zM241.9 2l.8 0 0-.8-1-.9-.5 .9zM175.6 1.2l.5 0-.3-1zM57.4 .3l.7 .4 1.3-.4 0-.8-1.3-.7-.7 .7zM161.8 -1.3l.7 .1 .2-1-.9 0z" fill="#f7d7da" fill-rule="evenodd"/><path d="M1.2 64.8l5.8-1.8 2-1.6 1.5-6.6 .6-5.1-1.1-2.5 .3-1.7-1.2-1.2-.7 .7-1.4-.3-2.1-4.2-2.8 1.7-2.1-.3-.7-.8 0 1.1-2.1 1.7 0 13.8 3 2.9zM254.7 64.8l.3 .2 0-22.3-2.8-1.7-1.4 1.3-3.5 1.2-2.8-2.9-2.1 0-1.4-.8-4.2-.6-3.5 .3-2.8-2.4-.7 1.3-1.2-.4 .2-.8 1-.5 .7-2.9 .7-.5 5.6 .5 2.1-1.3 2.1 .1 2.8-2.3 2.8 1.8 1.4 2 2.1 0 .2-1.1-1.5-.9-.2-.8 2-1.7 .2-2.5 .7-1.3 .8 .5 .2 .8-.6 1.7 3.1 .5 0-10.8-2.1-.1-1.8-3-1-2.5 .7-2.5-1.4-1.1-1.2 2.8-.9 .6-3-1.5 .2-.8 1.8-1.7-.4-.5-3.5-.5-1.4 .6-.7 2.4-.7 .3-3.5-2.8-1.4 .3-2.1-2.9-.7-.2-1.4 .4-1.4 1.4-4.9-.7-4.2 .8-3.5-1.7-2.1 .9-1.4-.5-1.4 1.9-1.4 .4-3.9-2.1 .1-.8-2.4-3.4-.8-2.5-1.4-.3-2.1 .6-.5-2-11.1 0-.7 1.7-3.2-.7-2 2.4 .3 2.5-2 1.7 1 2.5-.6 2.5 1.1 2.5 .4 2.5 1.8 1.3 .9-.5 .5-2.2 1.4-.3 .6 2.5 .8 .5 .7-3 .8-.4 .7 1.2 1.8 .9-.4 .9-1.4 0-1.5 .8-1.5 3.3-.1 2.5 1.2 0 .4-2.4 1.5-.2 1.4-1.2 2.8 2.1 .2 .9-.2 .8-2.1 1.5-2.1-.9-1.5 2.1-2.8-.2-.4 2.6-1 .9-1.4-1.7-1.2 1.6-.9 2.8-2-1.1-.8 .3-.9 2.2 .3 2.5 1.3 1.7-.7 1.1-3.5 .2-2.8 1.4-1.4-1.4-2.8 .8-6.3-.7-2.8 .6-.7 .7-5.6 1-4.2-.2-2.8 2-2.8-1.5-1.4 .8-1.4 2.8-2.1 1.7-1.4-.1-.7-2.2-2.1-.6-2.1 1.9-1.4 .3-1 2.3 1.7 1.9 .7 .2 1.4-.7 3.5 .2 2.1 1.1 1.4-.6 1.4 .7 1.4-2 .7 1.7-.9 1.6 .1 .9 1.5 .2 2.1 1.1 4.2-.2 2.1 .9 3.5-1 2.1 1.2 9.8 .5 11.2-1.1 1.4 .4 2.8-1.3 6.4 .6 2.8-1.8 .8-2-.8-1.2-1.3 .3-.8 1-.8-.1-.8-1.7 .9-1.2 2.8-.1 1.4-.9 2.1-2.7 2.1 1.8 2.8-1.8 1.4 .7 2.1 .3 1.4-1.9 2.2-.1 0-1.6-2.6-2.6-8.7-1.7-.4-.8 2.5-3.1 1.4 .1 1.4 1.5 2.1-1.8 .3-.9-.6-.8 .6-.8 1.1-1 .7 .1 .5 .9-1.5 1.6 1 1.8 2.1 .8 .7-.3 .6-.6 .1-1.8 1.6 1 .4 2.5 .8 .6 1.4 .1 2.1-1.4 2.4 2.4-1.7 2.3-2.8 1.7-2.1 .4-2 3.1-1.5 1 0 1.4 .7 .2 2.1-2.5 .7 .1 .7 3.6 2.8 .9 3.5-1 4.9 1.2 2.1-.8 2.1 .4 1.4-.7 .7 .1 .7 1.2 1.4 .4 6.3-1.3 2.8 .5 4.2-3.8 1.4-.6 .7 .8 .8 3.1-1 1.7-.5 2.5 .4 .8 1.7 .7 .6 4.3 1 2.5zM248 20.9l-.6-.5 0-3.3 .6-.9 1.3 .9 1 2.5zM194.8 17.8l-.4-.7 .4-1.2 .7 .2 .3 1zM166 51.9l-.9-2.2 .9-.5 1.4 .4 0 1zM183.5 50.7l-.7-1 1 0zM193.4 37.7l0-1.4 .7 .9zM198.3 29.2l-1-2.1 1-.9 .8 .9zM201.1 30.5l-.3-3.4 3.1-.9 0 1.2-1.8 .6zM209.5 28.1l-.4-1.8 .4-.8 .3 1.6zM220 39.9l-1-1.9 .1-.8 .9-.4 1.1 2-.1 .9zM224.2 39.8l-1.7-1 .1-1.6 .9-.6 1.3 1.4 .1 1.1zM198.3 18.9l-.7-1 .7-.7 .7 .1 0 1.5zM219.3 35.9l-.7-1.2 .3-.9 1.8-1.2 .7 1.1-.2 1-1.2 1.2zM51.7 63.1l4.3-.1 2.1 .6 1.3-.5 1.5-1.6 2.1 .7 2.7-2.4 1.5-3.4-.4-1.6-2.3 0-1.2-1.7 1.2-2.2 2.1-1.2 1-2.5 .3-1.7-1.3-4.1 1.5-2.6 0-.8-3.1-2.5-1.2-1.7-4.3-1.2-1.4 1.5-2.8 1.4-.5 .8 .2 2.5-1.1 .7-3.5-4.5-.7-.4-2.1 1.5-.7-.5-.7-1.9-2.8-.4-1.3-2.8-.8-.4-4.9-1.2-3.5 1.2-2.1-.8-.4-.5 .3-3.4 2.3-1.6-.1-.9-1.5-.8 1.2-4.2-.4-.8-6.3-4.4-1.4 1.3-1.4-.7-2.8 .9-2.8 3-2.8 1.6-2.8 0-2.1 .6-1.4-.9-2.8 .4-3.5 1.6-.9-.1-2.4-2.5-.5-2.5-1.1-1.1 0 15.3 1.1 0 1 1.4 .5-1.4 1.6-1 2.8 2.1 1.4-1.7 .7-.1 4.2 .2 2.1 .8 2.1-1.4 2.1 .3 4.2-.6 1.4 1.9 .3 1.2-1.3 3.4-.3 2.5 1.4 3.3-.8 2.5 1.7 2.5-.3 2.6 2.8 .4 1.4 1.2 2.8-2.3 2.8 .3 2.8 1.6 1.4 2.2 2.8-.6 2.1 2.9 1.6 .1 .2 2.5-.8 2.5 1.1 1.7 2.8 2.2 2.8-.4zM51.8 52.5l-1.8-2.8 .1-1.6 1.7-.4 .7-.9 1.4 .4 2.8-.7 .7 2.4-.4 .8-2.4 1.3-1.4 1.5zM23.1 36.8l-.3-2.1 1-.2 .2 1.8-.2 .5zM30.8 38.3l-.1-3.6 .8-.8 1.7 1.6 .2 .8-.5 1.9-1.4 .6zM44.8 53.1l-.7-1.5-1.4 1-.7-.4-.4-1.6 1.1-.3 1.1 .3 .3 .7 2.1-.2 .6 1.1-.6 .8zM48.3 54l-.9-.9 .9-.1zM57.4 46.1l-.4-.6 .4-.3 .6 .3zM78.1 50.6l1.1 .6 3.5-.9 .7-.6 .7-2.5 2.1-1.2 .7-1.1-1.4-2.7 .6-2.5-.5-1.7-2.9-2.5 0-1 1.4 .3 .6-1-.7-1.7-2-.3-2.8 .3-.8 1.7-2.7 1.9-.9 4 .8 3.3-2.5 2.5 0 1.7 1.2 2.3 2.8-.4zM9.1 43l.7 .6 .2-.6-.2-.5zM210.6 40.5l.6 0 .4-.7-.7-1.5-1 .5-.3 .9zM133.7 39.7l1.5 .3 1.2-1.2-.2-2.5 .4-1.5 .7-.5 2.1 2.5 1-.5 .7-1.6 1.1-.4 1.4 .3 2.1 1.5 2.1-.2 4.2-3.8 .6 .9 .1 2 .7 .8 .7-.4 1.4-3.3 1.4-.3 .7 1.8 2.1-2.3 4.2-2.1 .6 1.3-2.7 1.2-.2 1.3 4.4 1.3 1.9-3-.8-2.5 .2-3.4 .2-.8 1.7-.8-.1-2.5 .4-.8 1.4 .4 1.4 2.3 2.1 1.7 .4 2.2 1-.3 .6-3.9-1.4-1.6 .4-2.5-1.7-3.2-2.1-.2-1.4 1.5-1.8-.7-.2-.8 1.5-2.5 .5-2.5-1.4-2.8-2.1-.4-.7-3.2-3.5 .9-3.5-2.3-1.5-2.3-.6-.2-2.1 1-2.1-.6-1.4-1 1.5-1.7-1.9 0 .2 .9-1.3 1.6 .4 2.5-1.7 1.1-.7-.3-.7-1.9-.7-.5-1.4 1.3-1.2-1.3-.9-.1-2.1 2.3-1-3.1-1.8-1.5-4.2 1.8-7-.8-.7 1.4-2.1 .4-1.4 3.1-.8-1 .3-2.5 1.6-.9 .2-.8-.6-.6-.7 .4-.7 1.7-2.1 .3-1.2-2.6-.9-.5-4.9 3.4-.7 0-1.5-.4-1.9-2.5-2.2-.5-1 .5-.4 2-.7 .2-1.4-.3-2.8 .8-3.5-.1-1.2 1.5-.4 3.4-4.7 5-.3 1.7 1.3 2.5-.3 .7-1.4 .5-.9 2.2 1.3 1.6-.1 .9-1.3 1.6 3 3.4 2 3.3 .2 4 .7 .5 .7-1 1.4-3.7 1.4-.2 1.4 1.5 2.8-.2 1.4-.6 1.4-2 .7 .4 .5 1.3 .2 2.4 1.3 1 .8 1.7 1.2-.9 .2-1.7 1.1 0 .3 .9-.7 1.7 1.4 1.8 .8-.2 .2-2.5 1.1-1.3 1.4 0 2.1 2.3 4.2-1.6 2.1 1.7 6.3 .2 1.9 1.2 .7 2.5zM166 14.3l-.6-.6 .6-1.1 .8 1.1zM127.5 30.8l-.6-1.2 .6-1.1 .7 0 0 1.7zM156.2 36.3l2 0-.6-2.3-1.5 1.5zM240.2 34.7l.8 .7 .8-.7-.8-1.2zM181.5 25.4l.8 0 0-.8-1.9-2.5-3.2-.5 0 1.1 2.8 1zM177.1 19.6l.1 .7 .6-.7-.6-1.4zM176.5 17.9l.3 0-.3-1.2zM1.5 17.1l.6 .8 .6-.8-.6-1.7-.7 .5zM176.4 15.4l.1 .5 .7-2.2-.3-1.6-1.1-1.2-.8 .3-.4 .9 0 1.6zM11.5 13.7l3.9-.3 2.8-1.5 3.2-3.2-.1-1.7 1.1-3.3-.4-.9-2.3-1.6-1.5-2.9-1.6 .4-.7 1.6-1.9-.2-2.8 .7-5.8 4.6-.1 4.1 2.5 .9zM254.8 7.9l.2-1.7-.8 .8z" fill="#f6ced2" fill-rule="evenodd"/><path d="M254.7 64l.3 .1 0-20.4-2.8-1.7-3.5 1.6-.7 1.1 .8 4.2-.5 2.5 1.1 2.2 1.4 7.8zM1.7 63.1l1.1 .7 1.4-.1 4-2.3 1.7-6.6-.4-6.7-.9-1.7-3.7-3-5.6 .1-2.1 1.4 0 7.3 .7 0 .5 .9-1.1 3.3 3.4 3.9zM47.6 62.3l1.4-.5 2.8 .9 7 .2 2.1-2.7 2.1 1.1 2-1.5 1.2-4.2-2.5-.8-2.6-4.2 1.9-3.7 1.5 1.7 1.4-.3 1-1.1 .3-1.7-.9-4.1 1.1-2.6-.8-1.4-3.6-3.2-3.5-.8-3.6 2.9-.4 2.5-1.6 2.3-1.4-1.1 .2 1.4 1.8 1.6 .1 2 .9-.3-.7-.8 .5-.5 1.4 .7 1.4-.1 .9 4.1-.9 3.4-2.8 .1-2.1 1.3-1.4 0-1.7-1.5-1.1-3.3 1.3-1.7 .1-1.9 .8 1-.5-4.1 .4-1.2 1-.5-1-1.3-1.4-.4-.7 0-.9 1.7-1.4 0-1.2-5-2.1 0-2.1-3.8-5.6-1.5-3.3 1.9-.6 1.7 2.3 2.5 0 .8-1.2 3.2-1.4 .2-1.1-.9 0-5 .9-2.5-1.2-1.1-1.4 .6-.7-.3-.4-.9 .4-1.3 1.4-1 1.3-3.5 .1-2.5 1.3-2.5-.7-1.7-2.7-2.3-2.1-1.2-2.1 1-2.1-.6-2.8 1.4-2.1 2.6-3.5 1.4-2.1-.1-2.1 .7-2.1-.5-2.8 .1-3.5 1.3-2.8-2.5-1.4 .1 0 9.9 2.8 0 1.4-.8 2.8 1.6 1.4-1.1 4.9 .3 2.1 .8 2.1-1.1 4.2 0 2.1-.6 1.4 .4 1.4-.9 .6 .1-1.5 1.7 .4 2.5-.3 1.7 1.5 1.7-.1 1.6-1.7 2.5 .3 1.7-.4 2.5 1.5 4.2 3.2 .9 2.8-1.5 3.5 .8 3.4 1.5 .8 .9 2.1-.1 1.4-1 1.4 .8 4.2 .2 1.9 2.5 .2 1.7-.7 .8-2.1-.9-1.4 .6-1.1 4.5 1.1 1.6zM25.2 32.2l0-.9 .7-.3zM158.3 54.8l13.3 .6 7.7-1.3 1.4 .6 2.8-1.5 2.1 .5 1.1-.6-.4-1.2-4.2-.8-.6-1.4 2-.7 3.5 1.7 .6-1.8 2.3-2.2 2.8 .1 3.5-3.7 2.1 1.5 1.4-.6 1.2-1 1.3-3.3-2.5-1.2-1.4 0-1.4 2.1-.7-.6-.7-2.8-.7 0-.5 .8-.9 .3-.7-.3-.2-.8 .9-1.5 .7-.2 .7 1.6 .7-.4 3.3-4.6-2.3-5 0-.8 1.1-.6 2.8 .6 3.5-1.4 .6 .5 .8 2.5 2.8 1.5 .7-1.4-1.2-4.2 1.2-1 1.5 3.5-.8 4.2 1.4 .9 2.1-1.1 .9 1-1.8 1.7-.2 1.7 .5 .8 1.3 .1 1.4-1.6 5.6-2 1.1 1 .3 1.2 2.1-.2 1.4 1.4 1.4 .2 1.8-.9 .4-2.6 1.3-.7 2.8 1.4 2.1-.2 5.6-1 2.8-2 3.5 1.9 .5-1-.8-2.5 1-.3 1.4 .8 2.1-3.7 1.3 1.5 .1 2 .7 .5 1.4-.3 0-9.5-3.5 .8-2.1 1.8-2.1 .1-.4-4.6-1.3-1.7 .3-2.6-1.4-.4-1.2 .5-.2 1-.1-1-1.3-1-1.4 2-3.5-2.5-2.6 2.3-.9 .1-.4-.9 1.2-.8 .2-1.7-.8-1.7-1.6-1.7-.7 0-.2 1.7-.8 .8-1.1 0-1.4-1.6-.7 .1-.5 .7 .6 1.7-.8 .3-2.6-2.8-.9-.3-3.5 .6-2.1 1.3-.8-.8 1.4-.8-.2-.9-1.1-.5-1.4 .9-2.1-.4-2.1 2-1.4 0-2.1-1.2-1.4 1.3-1.5-.4-.5 .8-.3 2.6-1.2 .8-.9-.8 .2-2.4 1.4-3 .7 .3 1-1.6 0-.9-1.4-1.7-.4-2.5-1.3-.5-2.1 1-.7-.2-.7-2.1-2.3-.7-7.3 0-1 2-.7 .2-2.1-.6-1 .9-1.1 4.2-1 .9 .3 2.5-.6 2.5 .6 1.3 .7 .3 .7-1 .7 .1-1.1 2.6 .4 1.9 .8-.2 .6-2.5 3.5-.2 1.5-.7 1.4 1.8 1.4 .6 1.4 0 1.4-1.3 .7 0 0 2.3 .7 1.3 2.1-.3 .9 .7-.2 2.1-1.4 .6-2.1-.1-.7 .7 .4 2.5-.4 .9-1.5 .8-.1 2.5-.5 .2-2.1-2-2.2 1.5-2.1 .7-2.1 1.9-2 .2-2.2 4-.9-.6-.5-1.2-.8 2.9 1.4 1.6-.1 .9-1.9 1.8-3.5 .2-2.1 1.4-2.1-1.4-2.1 .7-6.3-.5-2.1 .4-1.4 1.3-2.1-.4-3.5 1.2-3.5-.3-3.5 1.7-2.8-1.2-1 .9-1.2 2.5-2.7 2.2-1.4-.1-1.1-1.2-.6-1.7-1.1-.2-2.4 3.6 .3 .8 1.4-.7 2.1 .9 2.1-.5 1.4 1.2 1.4-.6 1.4 .4 1.4-1.8 .7 .3 1.4 2.5-.2 1.6 .9 1.1 2.8 .7 2.1-.6 2.1 1.2 2.1-1.7 2.1 .4zM166 52.5l-2.3-2.8 1.6-1.1 3.1 1.1zM170.2 50.6l-.7-.9 .7-.5 2.1-.4 .8 .9zM197.6 23.9l-.4-1 1.1-1 .3 1zM201.1 22.8l-.7-1.5 .7-.8 .8 .8-.1 1.2zM215.8 32.2l-.2-.9 .9-.7 .4 1.5-.4 .5zM241 28l-1.4-.6 0-1.3 .7 0 1.2 1zM142.9 45l.7-1 0 .8zM147.8 50.6l-.1-.9 .8-.9 1.7 1.8-1 .5zM156.9 52.6l-.3-2.9 1-.3 .2 2zM188.5 53.1l1.4 .3 .4-1.2-2-.8zM78.1 49.7l1.1 .8 3.5-1.1 1.4-3.4 1.1-1.3-.8-1.7 1-4.2-.6-1.1-2.1-.7-1.1-2.3 .3-1.7-1.3-.5-.7 .1-2.8 2.9-1.3 2.5 .6 5.9-2.4 2.5 .2 1.7 .8 .7 2.1-.5zM230.3 48.9l1.6 .8 3.5-1 5.6 0 1-.6 1.1-1.9 2.5-1.5 .4-.8-2-2.5-2.3 .7-2.1-1.8-5.6 0-2.8-1.2-2.1 .4-2.8-1-1.4 2-2.8-.7-2.1 .8-2.1-1-.7 .8-2.1 .6-3.5 2 .8 1.7-.2 2.5 .8 1 3.5 .4 2.1-.7 2.1 .6 4.9-.3 2.1 .5 2.1-.8zM203 43.9l1.4 0 .2-1.1-.7-.6-.7 .2-.6 .6zM133.2 36.3l.6 .8 1.4-.4 1.4-3.5 1.4-.7 2.1 1.2 3.5 .2 2.1 1.3 2.8-.7 1.2-2.4 1.6-.9 2.8 1.9 2.8-2.7 1.4 .4 2.1-.4 3.5-2.2 .7 .2 1.4 2 .8-3.3-.3-2.5 1.9-1.7 .2-2.5 1.5-1.6-.4-.9-1.6-.7-.9-1.8-2.4-.8 0-.9 1.2-2.9 2.1 2.8 .7-.6 .8-2.6-.8-1.5-2.8-.7-.4-2-1-.3-.4 1.1 1.1 2.5-.1 .9-1.3-.1-.7-1.1-.4-3-2.4-.8-.7-1.2-2.1-1.3-2.8 1-1.3-1.9-.8-.3-.7 0-2.8 2.7-4.2-.5-1.3-1.9-.8-.1-2.1 2.3-.7-.3-.9-2.7-1.2-1.4-4.2 1.3-5.6-.3-1.6 1.2-2.6 .6-.4 1.9-1 .5-.9-.5-.5-2.3-2.1-.5-.6-2.2-.8-.5-.8 .5-.6 1.8-1.4 .1-.3 2.3-1.1 .5-2.1-2.1-1.4-.4-1.9-2.2-1.6-.4-.4 .4 .6 1.7-1.6 .8-2.1-.6-1.4 .2-2.6 2.1-2.3 .5-2.6 5.3-1.9 .9-.5 3.3 .4 2.5-2.1 1.7 .5 2.5-.4 3.4 3.8 4.9 .7 .5 2.8-.6 2.1 1.1 .7-.3 1.4-2.2 1.4 1.6 2.1-1.4 .7 .1 1.4 2.2 2.1 .8 2.3 0 1.2-1.2 .7 .1 .7 1.4 .7 .3 1.4-1.5 1.8 0-.8 1.7 .4 1.9 1.4 .4 2.8-1.1 2.1 1.2 1.4-1.4 1.4 1.1 .7-.2 .1-1.1-1.3-1.6 0-.9 1.2-1.8 .7-.1 .5 .3 .1 3.3 1.4 .8 .9 2.6zM142.9 30.1l-.4-.5 1.1-2.4 3.5 .1 1.1 .7-.4 1.3zM158.3 28.3l-1.3-2 .6-1.2 1.1 2zM162.5 25.8l0-1.3 1 .9-.3 .6zM164.7 33l.8 0 .5-2.4-1.8 1.5zM202.4 29.6l.8 .5 .7-1.3-1.4 0zM174.3 23.8l.7-.9-.6-1.6 .1-2.5-.8-2-1.4-.2-1.8 2.2 2.6 4.1zM189.6 18.8l.3 .3 .3-.3-.3-.5zM-2.8 16.2l0 .5 .6-.5-.6-1zM248.4 15.4l1.2 0 0-.8-.9-1.1-.7 1.1zM175.8 13.7l.4-.8-.4-.7zM11.3 12.9l.6 .4 2.8-.4 2.8-1.2 3-3 1.2-5-.7-1.1-2.1-1.1-.7-2-.7-.4-1.4 2-2.1-.6-2.8 .9-2.8 2.1-2.4 2.7 .3 2.5z" fill="#f4c6ca" fill-rule="evenodd"/><path d="M2.5 63.1l1.7 .1 4-2.6 1.1-7.5-.2-1.2-.9-.5 .9-2.5-.7-1.4-2.8-2.6-3.5-1-3.7 .8-1.2 2.3 0 2.4 1.7 3.7-.9 3.3 2.7 3.1 .9 2.8zM51.8 62.3l7-.1 2.1-2.6 .7-.3 1.4 1.2 1.8-1.6 .2-2.5-2.7-2.5-1.9-2.5 0-.8 .3-1.7 2.3-2.8 2.2 1.4 1.4-.9-.7-5.2 .8-2.6-.8-1.3-4.3-3-1.4-.1-2.1 1.1-2.9 5 .8 2.1 .7 .5 1.4-.2 .7 .7 .8 4.5-1.1 4.1-2.5-.1-3.5 1.2-2.8-.9-.8 2.4-1.3 .3-1.4-.8-1.4 1.3-.5 3.3 .5 1 2.1 1.4 2.1 0zM252.2 62.3l2.1 .8 .7-1.3 0-17.5-2.8-1.6-2.8 1.3-1 1.5 1.3 4.2-.4 1.7 .9 2.5-.2 1.7 1.1 5zM164.8 54.8l3.3 .3 2.1-.6 1.4 .5 3.5-1 2.1 .3 2.1-.8 1.4 .6 .7-.2 .6-1.7-2-2.1-2.1 .9-2.8-1-2.1 .8-4.9 0-2.1 2-2.1-1.5-2.9-.7 .1-1.2 2.1-.2 2.1-1.1 3.5 .9 .7-.6 2.8-.3 7 1.3 3.5-.9 2.8 .6 5-3.6 1.4 .9 .7-.6 .7-1.5 1.4-.7 1.2-1.4-1-3.4-2.3-.2-.6-.6 1.3-2.8 .7-.3 1.4 .3 1.5-1.4 .8-1.7-1.6-4.3-.7-.5-2.1 1.4-1.4-1.9-.7-.2-2.2 1.6-2.1 .2-3.5 2.2-2.7 4.1-.4 2.5-1.8 1.8-3.5 .4-2.8 1.5-2.1-1.1-2.1 .4-5.6-.3-2.8 .7-1.4 1.2-2.1-.7-1.4 .2-2.1 1.4-1.4-.7-1.4 .1-4.9 1.8-1.7 2.5 .2 .8 2.9 2 2.1-1.2 2.1 1.5 2.8 .2 2.1 2.6 .7-.9-.5-1.7 1.9-1 .9 1-.5 4.2 1.7 .7zM151.9 53.9l1.2 0 .7-1.7-.4-.8-1.4-.6-.7 .1-.8 1.3zM148.5 53.1l.8 0 .1-.9-1 0zM78.8 49.7l3.2-.6 .7-.8 1-6.1 1.2-2.5-.8-1.7-2.5-.8-1-3.8-.7 0-2.1 2.3-1.4 2.7 .2 3.8 .7 1.7-1.1 2.5-1 .8 .5 .8 1.4-1.1zM79.9 39.1l-.2-1.1 1 0-.1 .9zM230.8 48.9l1.1 .4 1.4-.3 2.1-1.5 2.1 .7 3.5 0 1.4-1.8-.3-2.5-3.2-3.2-4.9 .2-2.8-1.2-2.1 .4-2.1-.3-2.1 1.2-2.1-.7-2.1 .8-2.1-.5-1.4 1-2.1 .2-2.1 2.1 0 3.5 2.1-.1 1.4 .7 2.1-.5 2.1 .6 4.9-.2 2.1 .4 2.1-.8zM39 48.1l.2 .4 .7-.2 1.4-.8 1.4 1.1 2.8 .1 2.1-.9 1.3-1.4 1-3.4 .2-3.3-.4-.5-1.4 1.2-2.5 .1-1-4.4-1.4-.6-2.4-4.2-3.2-1.4-2.1-.1-1.4 .5-1.8 1.8 .2 1.7 2.1 1.7-1.3 4.2-2 .6-1.7-1.5 .3-6.7-2.8-1.4-.7 .5-1.7 2.6-.2 3.4-1.4 1.6 .4 2.6-.5 1.6 1.3 3.4 .7 .5 2.8 .2 2.1-1.2 4.9 1.9 3.5-.3zM140.3 48.1l1.2 0-.7-.7zM243.9 43.9l.7 0-.8-1.5-.4 .6zM197.2 43l1.1 .8 1.8-.8 .4-1.6-.8-1.4-.7-.2-1.6 1.6zM133.1 35.5l1.4 .7 .7-.6 .2-2.6 2.6-2.5 2.1 .6 1.4-1.1 2.1-3.8 4.2 .8 .7 .7 .2 1.1-.9 1.6-1.1 .1 .4 .9 .7-.6 2.1 .2 1.4-.9 2.8 2 3.2-3.3-.8-1.7-.1-2.5 1.2-.7 .8 .7 .9 2.5-.1 2.5 1.2 .3 2.3-2.8-1.6-2.7-2.2-2.3-.1-.8 .9-.8 1 .8 .4 2.1 2.1 .5 1.4 1.6 .7-.3 2.1-2.4 1-4-1.7-2.9-1.4-.1-1.2-1.2 .7-1.7-.2-1.4-.7-.5-1.6 .2 .2-2.5-.7-2.4-2.1 .4-.6-2.2-1.5-.6-3.5 1.5-1.4-2.7-3.5 2.3-2.8 .3-1.8-.8-1-1.7-.7-.1-1.4 1.8-1.4 .4-2.1-3.8-.7 .1-.7 1.2-1.4-.9-4.2 .3-2.1-.5-2.1 1.5-2.1-.1-.7 1.8-1.4 .8-1.2-.8-.9-1.9-2.6-.6-.2-1.8-.5 2.6-1.6 .1-1.2 1.6-.9 .3-1-.3-1.8-2.1-2.1 .5-2.1-.7-2.1 .4-1.4-.6-1.4 .2-5.6 4.5-1.4 3.4-1.8 1.1 .3 1.7-.4 2.5-1.9 3.4-.2 4.1 3.3 5.1 .7 .3 2.1-.4 2.8 1 2.1-2.5 2.1 .8 2.1-.4 1.4 2.1 2.1 .7 4.2-1.3 1.4 1.1 2.8-.6 1.4 .8-1 2.5 1 .9 2.8-1.4 1.4 .9 .7-.2 .7-2.4 1.4-.7 1.4-2 .7 0 1.1 .8-.3 2.5 2.5 1.6 .5 2.6zM163.2 20.7l-.2-1.1 .9-.3 .1 1.1zM165.3 18.9l-.2-1 .2-.5 .7 .1 .1 1.3zM128.2 5.5l.7-1.2 1.2 1.1-1.2 .7zM212.5 34.7l1.2 .3 .8-2-.8-.6-.7 .3zM225.9 34.7l1.5 0 .9-2.6 2.2-1.5 1.4 .2 1.4 1.2 .4-.7-1.1-1.7 .7-1.7 2.1 3.4 5.6-.4 1.2-1.3-.5-.7-2.1-.5-.9-1.3 .2-1.6 1.4-.9 .7-.2 .7 1.9 1.4 1 2.1-1.2 4.2 .8 .9-1.5-.2-2.2 .7 .1 2.5 3 .3 1.7 1.4-.1 0-8.5-3.5 1-2.1 2.2-2.1-.1-.9-1.2 .2-3.7-2.1-2.1-4.2-.4-3.5-2.6-1.4 1.6-2.1 .4-1.4-1.4-1.4 .9-.8-1.1 .1-2-.7-.3-2.1 1.6-.7-.2-3.5-3.7-1.4 .1-3.5 1.6-1.7-.5-2.5-1.8-2.1 2.1-3.5 .1-1.4 .8-1.4-.3-2.1 2.9-2.8-1.1-1.4 .3-.7-1.3 2.1-.2 1.9-4 .6-3.3-.4-3-.7-.3-2.8 1-1.4-2.3-2.1-1.1-4.2 .6-1.1-.8-.8 0-.8 1.7-1.6 1-2.2-.2-2.2 5.9-.3 3.3 .5 .8 1.4-.6 1.4 2.3 .7 .1 1.4 .1 2.9-1.1 .7 2 1.4 .8 1.4-.3 2.1-1.6 .8 .9 .1 2.5 2.9 .8 .6 .9-.1 1.7 1.8 1.6 .2 3.7 3.5 .3 2.8-2.2 .8 .7 1 2.5 .3 4.6 2.8-.3 1.4 .9 1.4-.9 2.1 2.6 2.1-1.6 2.1 2.3 1.4 .3zM226.3 28l0-.9 1.5 0-.1 .9zM229.8 28.8l-1.2-.8 .5-.5 1.2 .5zM234 19l-.4-.2 .4-.9zM238.2 24l-.4-1.1 .4-.8zM205.3 22.5l-.8-1.2 0-.9 .8-.5 .9 1.4-.2 1zM144.5 33.8l1.2 .6 .6-.6-.1-.8-1.9-.6-.7-1.2-1.4-.2-1.8 1.1 .8 .9 2.4 0zM24.3 30.5l1.8-1.7 .5-1.8 2.2-.7 1.4-5 1.5-2.5-.8-1.7-4.3-3.1-2.1 .8-2.1-.4-2.8 1.6-2.1 2.6-7.7 1.9-2.1-.6-2.8 .1-3.5 1.3-2.8-2.3-1.4 .1 0 8.6 2.8 .1 1.4-2 2.1 1.6 1.4-.5 2.1 .9 3.5 .1 2.1 .7 2.1-.9 4.2-.1 5.6-1.3 .7 .8-1.4 2.5zM244.8 28.8l.5 0-.1-1.1-1.1 .3zM206.9 28l1.2 .3 0-1.9-.7-.6-1.4-.1-.3 .6zM198.6 24.6l1.1 .5 1-.5-1-1.5zM196.2 22.1l.7 .2 .8-1-.8-.7-.7 .3zM172.3 20.4l.7 .6 .7-1.1 0-1.3-.7-.9-.9 1.9zM10.9 12.1l1 .6 2.8-.4 3.5-1.4 2.1-3 .9-3.4-.6-1.7-3.1-1.9-1.4 .7-2.1-.7-2.1 .5-3.2 2.3-2.1 2.5 0 1.7zM231.8 11.2l.8 .6 .7-.3 0-1.7-.9-.3z" fill="#f2bdc2" fill-rule="evenodd"/><path d="M2 62.3l.8 .6 1.4-.1 3.5-2.2 .9-3.3 .2-4.2-1.4-1.7 1.1-2.5-.3-.8-2.6-2.6-3.5-1.2-2.1 .4-.1 1.7-2.1 1.7 1.4 5-.8 2.5 1.5 1.7zM252.9 62.3l1.4 0 .7-1.8 0-15.7-2.8-1.4-2.7 1.3-.5 1.7 1.5 3.3-.6 1.7 1.2 2.5-.5 1.7 1.2 3.3-.1 1.7zM50.1 61.4l3.8 .8 2.1-.2 2.8-.8 2.8-2.7 1.4 1.3 .8-.1 .6-1.6-.2-1.7-4.7-4.3-1.4 1-1.4-.6-3.5 1.1-2.8-.3-2.1 2.1-2.1-.6-.7 .4-.7 3.7 .4 .9zM158.8 53.9l8.6 .8 2.1-.8 2.1 .8 2.1-.5 1.3-2-1.3-.8-5.6-.2-2.1 2.1-4.9-2.1-1.1-1.5 1.1-.9 2.1-.1 2.1-.9 2.8 .5 1.4-1.2 1.4 .9 2.1-.4 4.9 1.1 4.2-.6 2.8 .5 3.5-1.7 3.6-3.1 2.8-.9 .6-1.5-.6-1.7-2.8-.7-.3-1 1.7-3.2 2.8-1 .6-1.7-.6-2.4-.7-1-1.4 1.6-.7-.2-1.4-2.3-.7-.3-1.4 1.4-2.9 0-4.2 3.2-1.7 5.1-.8 .8-1.7 1.3-4.2 .7-2.1 1.3-.7 0-1.4-1.1-4.9 .4-2.8-.3-4.2 2-2.1-.8-1.4 .2-1.4 1.8-2.1-1.1-1.4 .1-4.9 2-.7 1-.3 .9 .3 .6 2.1 1.4 2.1-.8 2.1 1.3 2.1-.4 2.1 .8 2.8-1.1 1.5 1.5-.8 3.4zM151.7 53.1l1 .3 .2-1.2-.9-.5-.7 .5zM175.7 53.1l1.5 .8 1.4-1.6 1.4 .4 .7-.5-.7-1-.7 0-.7 1-2.8-1.2-.7 .4zM78.7 48.9l1.2 .4 2.3-1.2 .5-1.7-.7-1.4-2.1-.2-.4-.9 .4-.9 1.4 1.4 1.4 .1 1.4-4.8-.7-1-1.4 0 .3 1.8-1.9 .9-1.5-2.6 .3-1.2 1.7-1.3-.3-1.6-.7-.3-1.9 1.9-1.2 3.4 .1 2.5 1.2 1.7-.6 1.6zM231.5 48.9l1.8-.4 2.1-1.5 2.1 .8 3.5-.1 1-1.3-.6-2.5-2.5-2.6-4.9 .2-2.8-1.4-1.4 .5-2.8-.3-2.1 1.2-2.1-.8-4.2 .8-1.4 1-2.1 .2-1.4 2 0 1.7 2.1 0 1.4 .9 .7-.4 2.8 .9 2.8-.3 4.2 .5 2.1-.9zM34.6 47.2l1.1 .4 2.8-1 1.4 .5 1.4-.4 1.4 .9 3.5 .1 2.1-1.7 1.1-3 0-1.6-.4-.5-2.1 .1-2.1 1.7-.4-.5 .8-2.5-.4-1.7-4.2-6.4-3.5-1.5-2.1 .1-2.1 1.9 0 1.4 2.1 1.2 .3 .8-1.7 4.7-1.4 .6-1.6-.3-1.3-.8-.1-7.6-1.9-.8-2.1 2.9-.2 3-1.1 1.6 .9 2.6-1.1 1.6 .3 1.7 1.2 1.5 2.1-.6 1.4 .6 1.4-.8 2.1 1.2zM59.8 47.2l.4 .7 .7 0 2.1-2.4 2.9 1.2 .3-1.2-.6-5 .3-1.8-1.4-1-.7 .3 0 1-.1-1-2.1-2.4-.7-.2-2.8 3.2-1.4 .2-.9 1.7 .9 1.9 1.4-.3 1.1 .9zM198.1 43l1.3 0 .3-1.3-.7-.5-.7 .2-.5 .8zM133 34.7l.8 .4 .9-.4-1.6-1.7-.6 .8zM226 33.8l.6-.8-1-1.7 .7-.7 1.4 1 .7-.1 1.1-1 .1-.9-1.2-.9-2.1 .1-1-1.7 1-.7 3.5 .3 2.1 1.8 1.4-1.3 2.8 2.8 2.1 .2 2.1-.4-1.8-1.8-1.2-5.9 1.3-2.5 1-.4 .5 2.1-1 1.6 .5 1.2 1.7-2 1.8-.9 2.1 1.3 .7-1.3 0-3.4-2.1 2.6-.7-.3-.6-1.3 1.7-1.7-.4-.9-4.2-.5-2.1-2.4-.7 .1-1.4 1.5-4.2 .5-1.7-1.7-.4-2.1-.7 0-2.1 2-1.4-2.4-2.8-2.2-3.5 1.4-4.9-1.4-2.1 1.5-2.1-.1-4.2 1.4-2.1 2-2.8-.8-2.6 .7 .5 1.2 2.8 1.3 .3 2.6 1.5 .8 .3 2.8 .7 .5 .2-3.3 1.2-.3 1.4 2.4 2.8 .6 1.4 2.5 .7 .4 1.4-1.2 .9 .6 .3 1.7-.5 .5-2.1-.6-.5 1.8 .5 1.3 2.1-.3 1.4 .6 1.4-.7 2.1 2.7 .7-.3 .7-1.9 3.7-1.4 .4 .8-1.2 2.5zM227.7 23.2l0-1 .6 .7zM232.6 19.8l-.7-.8 0-2.6 .7 1 2.1 0 .4 .5-1.1 2.3zM119 32.1l1.3 0 .8-1.6 .8-.4 1.4 .9 .7-1.6 2.1-.8 .7-3.2 3 1.7-.2 3.4 2.8 1.3 1.4-1 2.1 .7 .7-.5 .6-1.4-.6-3 1.1 .5 1 2.9 2.1-.2 1.4-1.7 .3-1.8 1.1-.9 4.9 1.7 .7 2.9 2.8-1.5 .9 2 1.2 .8 2.3-2.5-.8-1.7-.1-3.3 2.7-.9-.5-1.6 1.9-1.7 .8-2.7 .7-.9 1.4 .8 .2 1.1 .5 .3 .7 .1 .7-.8 .2-1.3-1.2-1.6 .6-2.5-1-.2-1.4 1-.4-.8 .4-4.3-.7-.7-1.4 .7-.7-.7-.3-1.7-1.1-.6-3.5 1.1-2.8-1-4.9 1.1-3.5-2.2-3.5 3.5-.8-1.9 .1-1.9-.7-.1-.7 1-2.1-2.3-5.6 .2-.9 .5 1.6 1.7 0 1.7-2.7 .8-.1 .9 .1-3.4-1.5-1.2-1.4 .2-.7 1.5-1.4 .5-1-.1-1.1-2.2-.7-.3-1.4 .5-.7 .8-2.1-.4-1.4 1.3-1.4 .3-2.1-2.4-2.1 1-2.1-1.1-4.9 0-1.4 1.8-3.8 2.3-1.2 3.4-1.3 1-1 4.8-1.7 3.4 .1 4.2 3.3 3.9 1.4-.5 3.5 1.1 1.4-2.4 .7-.2 2.8 .9 1.4-.3 1.4 1.9 2.1 .6 4.2-1.4 2.1 1 2.1-.1 1.9 1.3zM138 13l0-1.1 1.1 .2 .4 .8zM139.4 27.2l0-.9 .7-.4 .2 1.2zM152 27.6l-.7-1.3 .7-.5 2.1-.6 1.1 1.1-.1 .8-1 .5zM112.8 24.9l-.4-.3 .4-.5 .8-.3-.1 1.2zM160.4 28.8l1.1-1.7 0-.8-1.8-1.5-.2 1.5zM11.9 28l16.1-2.4 .8-1 1.1-4.2 1.3-1.6-.1-.9-2.4-2.4-2.1-1.2-2.1 .7-2.1-.1-2.8 1.6-1 1.4 0 .9 1.1 1.6-.8 1.1-1.4-2.2-5.6 .8-1.4 .7-5.6-.4-3.5 1.3-.7-.1-2.1-2.2-1.4 .2 0 7.2 .5 .3 2.3 0 1.4-2 2.1 1.3 2.1-.1 1.4 .8zM254.6 27.1l.4 .2 0-7.5-3.5 1.1-.8 1.2zM242.1 25.4l1 .7 .7-.3 .8-1.2-.2-.8-1.3-.5zM246.6 25.4l2.8 .6 .4-.6-.4-1.7-.7-.6-2.8 .3-.1 1.2zM164 23.8l.6 .6 2.1-1.9 .6-1.2-.1-1.7-1.9 0-.8 1.7-1.3 .6-.9-1.5 0-1.6-.5-.5-.9 1.3 .1 .8 .8 1.8zM191.6 12.9l1.8 .5 3.5-3.4 .7 .4 2.8-.6 1.6-3.6-.1-5-2.1 .8 .3 1.7-.4 .3-.1-1.2-2-2.9-1.4-1.1-6.3 0-5.7 3.7-.7 4.5 1.4-.4 .5 .4-.4 2.5 .6 1.7 2.1 .5 3.6-1.5zM11.7 12.1l5.8-1.1 1.4-1.1 1.2-2 .6-3.4-.4-1.3-2.8-1.5-1.4 .3-2.1-.8-2.1 .6-2.8 1.9-2.1 3.2 .1 1z" fill="#f0b4b9" fill-rule="evenodd"/><path d="M2.6 62.3l1.6 .1 3-1.8 1.1-3.3 0-4.2-1.4-1.7 1-2.5-.2-.4-2.1-2.2-3.5-1.6-1.4 .6-.1 1.1-2.1 1.7-.1 .8 1.2 4.2-.5 2.5 1 .8zM2.1 48.4l-.5-.3 .5-.9 .7 .2 .1 .7zM50.7 61.4l3.2 .6 2.1-.3 4.2-2.2 1.4-2 .7 .1 .7 1.3 .8 0 0-2.4-3.6-3.3-2.1 .4-1.4-.8-5.6 1.2-2.8 1.7-2.4-.1-.4 3.7 .7 .6zM252.7 61.4l.9 .5 .7-.5 .7-1.8 0-14.3-2.1-1-2.8 .8-.5 1.3 1.4 2.5-.6 3.3 1.5 1.7-.6 2.5zM159.6 53.9l3.6 0 .4-.8-3.9-2.1-.7 .6-.3 1.5zM166.5 53.9l1.6 .3 1.4-1 2.8 1 1.4-.8 .1-1.2-1.5-.6-2.8 .4-1.4-.4zM159.1 48.9l.6 .3 1.4-.7 2.1-.1 2.1-.9 2.1 .5 2.1-1.2 1.4 .8 2.8-.4 4.2 1.1 2.8-.7 3.5 .6 1.4-.2 3.5-2.1 2.9-3.1 2.7-.6 .2-.8-.8-1.6-2.1 .2-.8-1.2 .8-2.5 2.1-2.7 1.1-.6-.1-1.7-1.7-.4-2.1-2.1-.7 1.2-2.2-.8-1.4 .2-4.2 3.5-.7 4.3-3.5 2.3-3.5 .6-3.5 1.5-1.4-1-7.7 0-1.6 .8-1.2 2.1-.7-.8-3.5-.9-.9 .4-1.2 2.2-.7 .3-.7-1.5-1.4-.5-2.8 1-1.4 1.3-1.4 .2-.4 1.2 1.8 1.4 2.1-.7 2.1 1.4 2.1-.7 2.8 .9 2.1-1zM79 48.1l.9 .6 1.4-.6 .7-1.1-.3-.6-3.2-1zM230.9 48.1l1 .5 4.2-2.1 1.4 1 2.8 0 .8-.3 .5-1.7-.7-1.6-1.3-1.4-1.4-.2-1.5 .7-5.5-2.5-1.4 .6-2.8-.4-2.1 1.2-2.1-.8-3.7 1.1-1.2 1.4-2.8 0-.7 1.1 .1 .8 2.7 .3 .7-1.5 .7 .1-.3 2 1.7 1 3.5-.2 4.2 .6 2.1-.9zM60.2 47.2l.7 .1 2.1-2.5 2.4 .7 .3-2.5-.5-2.4-1.9-.9-2.4-3.2-1.4 1.3-.7 1.8-2 .1-.4 .8 .3 1.1 1.4-.2 1.4 1.3zM32.5 46.4l3.2 .8 2.1-1.2 2.1 .5 1.4-.8 1.4 1 2.1-.7 .7-1.7 1.4 1.8 1.4-1.4 .7-2.5-.7-.7-1.4-.1-1.4 2.4-2.8 1.3-.9-.4 2.9-4.2 0-1.7-4.2-6.7-3.4-1.8-2.1 .2-1.8 1.6-.2 .9 2 1.2 .7 1.3-1.8 5-1.7 .7-3.5-.9-.4-.6 .4-1.7-1.5-3.3 1.6-1.7-.3-.9-1.2-.3-2.1 3.4 .1 2-.8 2.5 1.1 1.7-.2 .8-1.1 .8 .1 1.7 1.5 1 2.1-1 2.1 .1zM39.9 40.4l0-1.1 .7-.5 .2 .9zM78 43l.5 .4 .8-1.2-.1-1.7-.7-1.2-.7-.2-.7 2.3zM81 43l1 .7 .7-.6 0-1.1-.7-.4-.7 .3zM132.1 30.5l1.7-1.2 2.3 1.2 .5-.9-.7-3.4 .7-1 2.1 .7 .7-3.1 1.5 .1 .6 .9-.9 .8 .5 2.5-1 1.2-1.3 .5 .6 .6 2-.6 .7-3.4 .8-.8-.4-1.7 3.9-2.7 .3 1.1-1.9 1.6-.3 1.7 4 2.2 1.4 1.4 .4-.2 1-2.5 2-.9 .1-2.6 .7-.2 .7 1.3 1.9-.2 .8-.8-1.5-2.5 2.3 .5 .7-.5 1.2-3.4 .9-7.8-2.8 .2-.6-2.4-1.5-.4-2.1 .8-3.5-.9-1.4 .8-2.8 .1-3.5-1.7-1.8 1.3-.6 1.7 .1 1.6 1.2 1.7-1.4 1.7-1.7 .8-.7-.2-.6-1.4 .6-.8 1.4 .3 .6-.4 0-1.7-2-3.2-1.4 .5-.6-.6 0-2.5-1.5-1.3-2.1 .9-1.5-.5-.4 .9 .3 2.5-2.2 .8-1.1 1.8-.7-.9 .4-2.5-.4-1.2-1.4-.3-1.2 1.5-2.3 .4-1-.4-1.1-1.9-.8 .2-.6 1.5-.7 .1-1.4-1-.7 .1-2.8 1.7-2.1-2.5-2.1 .9-2.1-1.2-4.2 .1-2 2-4.1 2.5-.4 2.5-1.6 2.5-2.7 7.5 .3 3.3 2.8 3.4 1.4-.3 2.8 1.1 .7-.3 1.1-3 1 0 2.8 1.5 2.1 .1 1.4 1.5 2.8 .4 2.8-1.7 2.1 1.4 2.8 .3 2.1 1.5 5.6-1.6-.1-2.6 .8-.6 3.5 1.9-.4 2.9zM133.8 26.3l-.5-.9 .5-1.3 .9 .5 0 .8zM153.4 18.2l-.5-.3 .5-.1zM154.1 10.5l-.7-2.1 .9 .3zM111.4 25.9l-.3-.5 1.4-1.6 1.5 0 .2 .9-.7 1.3-.7-.4zM119.8 13.7l.7-.5 .1 .5zM224.1 30.5l.8 .5 1.1-1.4-.4-.7-.7-.4zM227.3 30.5l1.1 .3 .3-1.2-1.7 0zM153.4 29.6l.7 .9 1.4-1.7-1.4-.1zM217.2 28.8l1.4 .7 3.5-1.2 2.9-2 3.4-.7 1.4 .3 2.1 1.6 1.4-.8 2.1 1.9 2.1 0 .3-2.3-1.2-4.2 2.3-3.7 1.1 .4 1 2.3 .7 .1 .7-.8-.8-1.6 1.6-1.7-2.2-.6-2.8 .6-2.1-.3-1.5 3.6-1 .9-1.6 0-1-4.2-2.6-4.7-1.4 2-.7 .2-2-3.4-2.9-1.5-2.1 1-4.9-1.1-2.8 1.2-2.1 0-4.2 1.7-2.7 2.1-.8 3.3 1.4 .7 1.4-.8 2.4 3.5 2.5 .5 1.4 1.9 3.5 0 .5 .9 0 2.5zM218.6 26.4l-.3-1.8 1-.9 .7 0-.7 2.5zM227.7 23.9l-1-1 .2-.8 1.5-.4 .6 .4 0 .8zM211.6 28l.7 .5 1.1-.5-1.1-.4zM11.2 27.1l1.4 .7 4.2-1.2 2.8 .2 7.7-2 1.6-2.7-.2-2.9 1.4 0 .6-1.3-2-2.2-2.1-1.1-2.1 .7-1.4-.3-3.5 2-.6 .9 .9 1.7 .1 1.7-1.1 .9-1.4-2.1-.7-.3-4.9 .8-1.4 .7-2.8-.7-2.8 .1-4.2 1.6-1.4-2.1-1.4-.4-.7 .5 0 3.3 .7 2.7 1.4 .4 1.4-2 .7-.1 2.1 1.3zM254.6 26.3l.4 .3 0-6.3-3.6 1.8 1.5 2.8zM242.9 24.6l.2 .5 .8-.5zM247.7 24.6l1 .8 .4-.8-.4-.6zM165.4 21.3l.6 .7 .7-.7 0-.9-1.2 0zM233 16.2l1 .5 1.6-.5-.8-.8-.8 0zM162.2 14.6l.3 .6 0-1.6zM200.1 14.6l1 .4 1.1-.4-1.1-.5zM237 14.6l.5 .3 .2-.3zM192.3 12.9l1.8-.4 1.3-1.3 .8-1.9 3.5 .3 1.9-3.4-.5-1.9-1.8 .2-1.7-3.9-2.1-1.5-5.6 .4-5 3.1-.6 1.1 .1 1.7 1.5 1.6-.2 3.4 .6 .7 1.4 .1 3.6-1.4 .7 .1zM10.9 11.2l1.7 .5 5.6-1.5 1.6-2.3 .4-4.2-2.7-1.5-2.1 .1-1.4-.8-2.1 .6-2.3 1.6-.8 .8-.2 2.5-.8 .9zM200.8 2.8l.3 .4 .2-.4-.2-.9z" fill="#eeabb0" fill-rule="evenodd"/><path d="M2.3 61.4l1.2 .8 3.2-1.6 1.2-3.3-.2-4.2-1.3-2.5 .9-1.7-2.4-2-.6 1.2-2.2 1-.7 .1-.7-1.5-1.4 .3-.3 .9 .7 1.7 .1 4.2zM52.7 61.4l3.3 0 4.2-2.1 1-1.2 .3-2.5-1.3-1.6-2.1 .1-1.4-1-3.5 1.2-1.4-.1-3.5 1.8-1.8 .4-.3 2.7 4.2 2zM253.2 60.6l.4 .4 1.4-1.9 0-13.1-1.4-1.1-2.8 .8-.6 .7 1.2 2.5-.5 3.3 1.6 1.7-.7 2.5zM62.9 57.3l.2-.9-.7 0zM159.2 53.1l1.2 .6 2-.6-.7-.9-2-.5zM167.7 53.1l.4 .6 .9-.6 .1-.9-1-.1zM170.6 53.1l1 .8 1.7-.8-.2-.9-1.5-.3-1 .3zM154.3 48.1l1.2 .3 2.1-1.4 2.1 1.7 3.5-.6 2.1-.9 2.1 .4 1.4-1.1 2.1 .7 2.1-.3 4.9 .9 2.8-.8 4.2 .9 4.2-2.3 1.5-1.7 .6-2.5-.4-3.4 2.7-4.2 .4-1.7-1.9-2.1-1.4 .6-2.2-1-2.1 .5-2.8 2.6-.4 1.1 .1 2.5 1.5 .9-.5 1.5-2.1-.6-3.5 1.7-2.1 .1-4.9 2-2.1-1.1-7 .1-1.8 1.3-.2 2.5-2.2 2.1-.3-1.3 1-.9 0-1.2-2.8-1.3-.9 .1-.9 .8-1.5 3.4 .1 .8zM231.2 48.1l.7 .2 4.2-2.2 1.4 1 2.8 0 .9-.7 0-.9-1.6-2.3-3.5 .5-4.9-2.8-1.4 .6-2.8-.4-2.1 1.2-2.1-.8-3.7 1.5-.2 3.4 1.1 .7 3.5-.2 4.2 .7 2.1-1zM146.9 47.2l1.6-.4 2.8 1.2 1.1-1.6-.3-2.5-1.5-.8-2.8 1-2.3 2.3zM2.1 46.4l.6-.9-1.3 0zM34.1 46.4l1.6 .5 1.1-.5 .6-.9-1.6-1.6 .6-.7 2-.2 1.5-4.7 .7-.1 .6 1.5-2.1 4.2 .1 1.7 1.1-.1 .3-1.2 1.4-.6 2.3-3.2-.1-1.7-2.9-4.9-2.1-2.6-1.4-.7-2.8 .1-1.5 1.4-.1 .9 1.6 .8 1.1 1.7-1.2 2.5-.5 2.5-1.5 .9-4.9-.4-.5-.5 .8-2.5-1.1-1.7-.3-2.5 1.1-.6 0-.6-.7-.4-1.9 3.3 0 4.2 .8 1.7-1.7 2.4 .5 .9 .9 .3 2.8-1.2 2.1 .9 1.4 1.4zM60.2 46.4l.7 .3 2.1-2.9 1.5 .7 .7-.3 .2-1.2-.4-1.6-2-1.3-2.1-2.8-.9 .7-.4 1.7zM46.4 43.9l1.2 .7 .9-1.6-.1-.8-1.5-.3-.6 1.1zM77.7 42.2l.8 .4 .2-.4-.2-1.8-.7 0zM193.2 42.2l1.1-.8-.9-1.3-1 .4-.2 .9zM120.3 28.8l.8-.8-1.1-1.7-.2-.9 .7-.2 .8 .2 1.8 2.6 2.3-.2 .3-1.5-1.5-1.7 1.2-.6 4.9 2 .8 1.1 .1 1.7 .5 .1 1.2-1.8-.2-2.5-1.3-1.7 .3-.8 .7-.2 1.4 1.5 1.4-.1 1.4 1.1 1.4 .1 1.2-2.4 2.3 .5 1.4-1.4 1.4-.1 1.8-2.3 1-.4 .3 2.9-2.4 2.4 .1 .9 4.8 2.3 .9-1.5 2.2-1.6 .9-4.2-1.7-1.7 .3-.8 .9-.1 .8 .9 .5 4.2 .8 .6 1.3-.6-1.8-2.5 1.2-.8 2.1 .8 .7-.8 1.8-9.3-1.1-.6-1.4 .6-.7-.2-1.4-2.5-1.5 .2 .5 3.4 1 1.4 .1-.6 1.3-.8 .5 .8-.5 3.4-1.4-2.5-1.4-.1-1.1-.8-1.3-4.2-.7 0-.2 1.7-.9 .8-1.4-.8-1.1-1.7-1.7 .3-1.4-1.1-1.4-.1-2.6 1.8 .3 1.6 1.3 .9 .1 .8-1.7 1.7-2.3 1.2-.8-.4-.9-1.6 .3-1 2.1-.2 .1-1.4-1.5-2.6-2.3 .1 .1-2.5-.6-1.3-.7-.3-2.8 1.4-.7 2.3-2.1 .5-1.4 2.4-1-.8-.3-4.2-1.5 1.1-3.5 .5-.7-.3-.7-1.5-1.6 2.7 .1 .9 1.8 .8 1.1 5-2.1 .9-.5-.9 1.6-1.6-.1-.9-1.7-2.3-.8-.2-.2-2.5-1.1-1.4-3.5 1.8-2.1-2.2-2.1 .4-2.1-1.1-2.8 .3-2.1 .6-4.9 3.1-.3 2.7-2.2 3.3-2.4 6.7 .2 2.5 2.6 3.4 4.2 1 1.1-2.7 1.7-.7 2.8 1.7 1.4-.2 2.1 1.5 5.6-3.7 .8 .6 .2 2.5 .8 .8 3.1 .3zM124.7 17.8l0-1.6 .7-.4 0 1.4zM133.1 16.8l0-1.1 .6 .5zM111.4 9.7l0-.4 .6 .2zM117 13.2l-.9-1.1 .9-1.4 .9 2.2zM118.4 19.7l0-1.6 .7-.4 .7 1.4-.7 .8zM135.2 28.8l0-1.2-.4 .4zM216.9 28l1 .5 1.4-.5 2.1 .2 6.1-3.6-1.4-1.7 .9-1.5 3.5 .3 .6-2.9-2-4.1-.7-.7-2.1 1.1-2.8-3.9-2.1-1.1-2.1 .9-5.6-.9-2.1 1-2.1 .1-4.9 2.3-.8 1.1 0 1.6 .8 .4 2.8 4.4 1.8 .3 2.4 1.9 2.8-.2 1 1.6-.2 1.7zM218.6 27.1l-1-1.7 .2-.8 1.5-1.7 1.4 0-.2 1.7-1.2 2.4zM235.8 28l1 0 .7-.9-1.5-5 1.1-1.7 .7-2.5-1-.3-2.2 3.7-4.1 1.1-.8 1.4 1.5 2.6 .7 .4 2.1-.8zM12 27.1l1.3 .2 3.5-1.1 2.8 .2 5.8-1.8 .5-1.9 1.4 .7 .7-.4 .6-4.2 1.7-.9-3-2.8-4.2 .2-3.6 2.6 .9 2.5-.8 2.1-1.8-.4-1-1.6-4.9 .4-1.4 .7-4.9-.7-3.6 1.2-1 .8 .1 .9 3.1 1.9 2.1 0zM-1 25.4l.5 0 .6-3.3-1.5-1.9-.8 .2-.4 1.7 .5 1.3 .9 .4zM254.5 25.4l.5 .5 0-4.8-.7 .7-2 .3 .6 2.1zM202.8 17.1l.4 .3 .3-.3-.3-.5zM192.3 12.1l1.1 .4 1.4-1 1.4-2.7 2.8 .6 .7-.4 1.6-2.8-.2-.9-2.3-.8-1.2-3.3-2.1-1.6-2.1-.2-3.5 .6-5.2 3.7 .3 1.7 1.3 1.6-.4 2.5 .4 1 2.1 .2 3.6-1.4zM11.5 11.2l3.2-.2 3.5-1.1 1.4-2 0-3.9-2.1-1.4-2.1 .2-1.4-.9-2.1 .5-1.9 1.3-1.1 1.7 .3 2.5z" fill="#eca2a7" fill-rule="evenodd"/><path d="M2.7 61.4l1.6 0 .5-.8 .1-2.7 .7-.1 .7 .8 1.1-1.3-.1-4.2-1.2-1.7-.5-2.8-.7-.3-3.5 1.6-.7-.2-.7-1.5-.4 .7 1 .8-.3 5.1zM53.8 61.4l2.2-.3 1.8-1.3 2.5-.9 .9-2.5-1-1.7-1.4 .2-2.1-1.5-.7 .1-2.1 1-2.1 0-4.6 2.8 .1 1.6 3.1 2zM5.8 59.8l.5 .4 0-1zM253 58.9l.6 .8 1.4-1 0-11.9-1.4-1.5-2.6 1.1-.2 .8 1.4 2.4 1.4-1.4 .3 .7-.7 .8-1 .1-1 1.6 1.9 2.5 .1 .9-.9 1.6zM159.7 53.1l1.9 0-1.2-.9zM171.4 53.1l1 0-.8-.5zM159 48.1l4.2-.2 2.1-.9 2.1 .3 1.4-1.1 2.1 .8 2.1-.4 4.2 .7 3.5-.7 4.2 .9 4.2-2.1 1.3-1.5 .5-3.4-1-2.5 .7-.2 2.2-3.1 .4-2.6-1.2-1.5-2.1 .2-1.5-.7-2.8 .8-1.9 2.9 0 1.7 1.6 1.7 0 .8-1.1 1.1-2.1-.5-1.4 1.1-4.2 .4-4.9 2.1-2.1-1.1-7.7 .4-.9 1.5 .2 1.7-2.5 2.5zM187 39.2l-.4-.4 .4-1.2 2.8 .4zM150 47.2l1.3 .2 .5-1 .1-1.7-.6-1.1-3.6 1.1 .1 1.5zM153.7 47.2l1.1 .7 1.4-.2 2.5-3.8-1.8-1.2-1.4-.2-1.9 3zM226.4 47.2l1.3 .2 2.1-1 2.1 1.5 3.5-2 .7-.1 2.1 1.2 2.1-.3 .6-1.2-1.3-1.8-1.4-.2-2.1 .8-4.9-3.1-1.4 .7-2.8-.5-2.1 1.4-2.1-.9-2.9 1.1-.6 2.5 .7 1.3 3.5-.1zM34.7 46.4l1 .2 1.1-1.1-1.1-1.2 0-1.1 2.1-.6 2.1-5 .7 .1 1 2-1.1 2.5 .1 1.1 1.4-.2 1.9-3.4-.8-2.5-1.8-2.6-2.5-3.3-1-.5-2.8 .2-1.1 1.1 .2 .9 2.5 2.5-1.5 2.5-.8 3.2-2.1 .8-2.8-.6-2.1 .4-.7 .3-.8 1.8 .8 .3 2.1-1.1 3.5 2.7zM60.4 45.5l.5 .4 1.4-2.6 .7-.3 1.5 1 .7-1-.6-1.6-1.6-.6-2.1-2.7-.8 .7 .9 1.7zM46.8 43l.8 .5 .3-.5-.3-.5zM26.3 39.7l.3 .4 .7-.4 .4-1.7-1.1-2.7-.7-.3zM119.6 28l.7 0-.3-.9-.9-.1zM220.4 28l1-.2 2.8-2.2 2.1-.9-.2-.9-1.2-.7-2.8 0-.7 .5-1.7 3.5zM116 27.1l1-.1 1.4-2.1 2.1-.2 1.4 .7 1.4 1.9 1.4 0 .4-1-1.6-1.7 1.2-1.1 1.4 .1 5.6 2.8 .6-1-1.3-2.5 .7-1.5 2.1 1.2 .7-.1 .5-2.1 1.6-1.2 .8 .4-1.2 1.7-.1 1.6 .7 .9 1.2 0 .7-2.2 2.8 .6 .8-.9 .2-.9-1.6-3.3 2.4-.9 1-1.7 .6 2.6 .8 .7 2.8 .1 .7-2 .7-.5 .7 .8-.1 .9-2 .8-.9 1.7 .2 1.1 1 .6 .3 .8-3.4 1.7 1.6 1.6 1.9 1 3.3-2.6 .6-4.2-1.5-2.5 1.8-.4 1.4 1.5 3.5 .9 1.1-2.9-.4-1.2-2.2 .4-1.2-2.5-2.2-1.4-1.4-2.4-1.4 .8-2.8-.9-.7 1.5-1.2-.1-.3-.9 .6-.8-1.2-1.7-.8 0-.3 1.7 .6 .8-1.6 2.6-3.5 2-1.4 .2-1.2-1.4-.4-1.7 .9-.7 1.7-.1-1-3-2 .5-.8 1.9-1.7-1.1 1.7-1.8 .2-2.4-.9-1.1-2.8 1.9-.7 2-2.1 .2-2.1 3.8-1.6-.9 .8-2.5-.6-1.9-5.6 1 1 1.7 .9 5-2.6 1.6-2.8-2-.6-1.2 1.2-5.1-.6-1.7-3.5 1.9-2.1-2.1-2.1 0-2.1-1-1.4 0-2.8 .8-5.3 3 0 2.5-2.5 3.3-2.3 6.7 .1 1.7 2.3 3.4 3.5 1 2.1-2.4 2.8-.6 1 1.1 1.8 .3 2.1 1.3 1.4-.4 3.5-2.9 .7 0 1 .9 .4 2.5zM118.4 20.2l-.4-.6 .2-1.7 .9-.9 1.4 1.8-.7 1.3zM124.7 18.4l-.6-1.3 .3-1.7-.8-1.7 .4-.2 1.7 1.1 .4 .8-.6 2.5zM133.1 17.5l-.7-1.3 .7-1 1.1 1-.4 1.1zM113.5 11.3l-2.8-1.5 0-.8 1.4-.4 1.5 .9 .6 .9zM216.8 27.1l.8 0-.3-2.5 2-2.2 1.4-.2 1.4-1.2 2.1 .9 2.8-1.3 2.8 .5 1.1-1.5-.4-1.9-1.4-1.6-2.8-.3-2.6-3.7-2.3-1.5-2.1 .7-5.6-.9-2.1 1-2.1 .2-1.6 1.3-2.9 .8-.6 .9 .2 .8 2.8 5.1 2.1 .6 2.1 1.4 3.4 .4 .8 1.7-.2 1.7zM226.3 19.2l-.6-1.3 .6-.8 .7 .1 .3 1.6-.3 .6zM235.3 27.1l.8 .4 .9-.4 .1-.8-1-1.3-1.1 1.3zM9.7 26.3l3.6 .7 3.5-1.2 2.8 .3 2-.7 .8-1.7 2.1-.3 1.4-1.5 1.4 .6 .7-.4 0-2.8 1.7-1.4-.2-.8-2.9-2.1-4.2 .9-2.4 2 .8 4.2-1.2 .9-4.9-1.6-2.1-.2-2.1 .7-3.5-.8-2.1 .3-3.3 1.5 .2 .9 2.4 1.6 2.1 0zM231.9 26.3l1.8-.9 1.7-2 0-1.3-.7-.3-3 1.1-.7 1.7zM254.8 24.6l.2-2.2-.6 1.4zM253.6 23.8l0-1.1-.4 .2zM-2.2 22.1l.8 .8 .7-.1 .2-1.5-.9-.6-.7 .4zM155.3 22.1l.8 0-.6-1.2-.5 .4zM144.1 19.6l.2 .7 .3-.7zM159 13.7l.7-.5 .8-2-.1-1.2-.7-.6-1.2 1zM118.2 12.1l.9 .5 .4-.5-1.1-2.2-.9 .5zM192.8 11.2l.6 .8 .7-.3 2.1-3.2 2.8 .4 .7-.4 1.2-2.3-2.4-1.7-.9-2.7-4.2-2.1-5 1.4-3.2 2.6-.2 .8 1.7 2.5-.4 2.5 .7 .7 2.1 0 2.9-1.3 .7 .6zM11.2 10.4l1.4 .6 5.6-1.4 1.1-1.7-.1-2.5-.7-1.7-1-.8-2.1 .2-2.1-.7-2.1 .6-1.4 1.1-.6 2.1zM156.1 10.4l1-.9-.9-1.6-.7-.1-.1 1.7zM141.4 8.7l.8 .7 1.1-.7-1.1-.8z" fill="#ea9a9e" fill-rule="evenodd"/><path d="M2.6 60.6l.9 .7 1.4-3.9 1.9-.1 .3-.9-.2-3.3-2-3.6-.7-.2-1.9 .4-1.3 1.7-.3 3.4zM50.4 60.6l4.9 .5 2.1-1.5 2.1-.5 1.2-1-.3-2.5-2.3-.3-1.4-1.6-2.8 1.5-2.1-.4-2.1 .9-1.1 .7-.9 1.7zM253.5 58.9l1.5-.5 0-10.8-.8 2.1-1.8 .9-.6 .8 2 3.4-1.3 1.6zM251.8 48.1l.4 .3 1.6-1.2-.2-1.1-2.1 .8zM154.3 47.2l1.2 .4 .8-.4 1.9-3.3-2-1.1-.9 .2-1.3 2.5zM159 47.2l.7 .7 1.4-.5 2.1 .2 2.1-.9 2.1 .2 1.4-.8 2.1 .6 2.1-.4 2.8 .6 4.9-.6 3.5 1 5.4-2.6 .8-1.7 .2-2.5-.7-1.1-2.9 .4-1.4-.9-1.4 .6-2.1-.5-1.4 1.6-1.4-.5-2.8 .3-4.9 2-2.1-1-7 0-1.3 1.6 .4 2.5-1.9 .6zM231 47.2l.9 .5 1.4-.7 2.1-1.5 .3-.8-3.8-2.9-.7-.2-1.4 .7-2.8-.6-2.1 1.9-1.4-1.3-.7 0-2.1 .6-.8 1-.3 1.6 .4 1 3.5-.1 4.2 .8 2.1-1.1zM149.3 46.4l1.3 .7 .7-.3 0-2.6-3.1 .5-.2 .8zM237.2 46.4l1 .4 1.8-.4 .5-.9-.9-1.2-2.1-.3-1.3 .7 0 .8zM32.2 45.5l3.5 .6 .5-.6-.9-1.6 .1-.9 2.4-1.1 2.1-4.9 .8 .2 1.3 2.4 .7 .2 .6-1-.5-1.6-2.2-3-1.4-.6-.2-1.5-1.2-1.1-2.1 0-1.4 1.1 2.1 2.9 .7 .3 1.4-.8 .3 1-.3 .8-1.4 .1-1.4 1.1-.9 3.9-2.6 1.1-1.4-.5-1.6 .2zM61.3 43l.3 .3 1-1.1-.3-1.2-.7 .2zM63.8 43l.9 0-.2-1.1-1.2 .3zM40.9 42.2l.4 .8 .7-.7 0-1.5-.7 .3zM188.6 37.2l2 .2 2-2.7 .4-1.7-1-1.9-3.6-.4-1.4 1.5-1.4-.7-1.1 1.5-.1 2.5 .5 .6 1.4 1zM220.3 27.1l1.1 .3 .7-1.1-.7-.8-.7 .4zM11.9 26.3l1.4 .4 3.5-1.3 2.8 .5 1.2-.5 .6-.8-.4-1-8.4-2.2-2.1 .8-4.2-.8-4.1 1.5 2 2.3zM115.3 26.3l1 .5 .7-.3 .7-1.9 .7-.2 2.8-.1 1.4 .7 .8-1.2 1.3-.6 1.4 0 2.8 1.3 2.1 .3-.4-1 1.1-3.1 1.4 .5 4.2-2.9 .7 1.3-1.6 2.5 .9 1.4 .7-.6 .7-2.2 2.1 1.2 1.1-.6-1-2.5-1.5-1.7 .7-.7 2.8-.5 1.4-2.2 .7 .6 .5 2.8 .9 .4 1.7-.4 1.8-2.3 1.4 1.7 2.8 0 1.4 1.6 2.1 .5 .7-.1 .7-2.3-2.1-.1-.8-.7-4.1-5.3-1.4 .3-2.1-.9-1.4 1.8-2.1-.2-1.4 1.3-4.9 2.5-2.6-2-1.3-2.5-1-.7-.7 0-.7 1.5-1.4 0 .6-2.5-2-1.3-.7 .5-1.5 5 2.2 4.2-.7 .7-.7-.3-1.4-1.9-1.4 3.2-.7 .2-.8-1.1 0-2.5-1.3-1.5-.7 .2-2.7 2.1 2 2.3-1.4 2.5-1.9-.6 .2-5-1.8-1.2-1.3-2.1 .1-2.6 1.1-1.6 .1-1.8-1.4 0-2.1 1.8 1.9 1.6 .1 1.7-.6 1.1-2.1-1.7-1.4-.3-.5-.8 .5-1.1 1.1-.5-1.1-2.3-2.1-.2-2.1-1-4.2 1-2.1 2.3-.7-.6-2 .8-.5 .8 .4 1.7-2.8 3.9-2.1 6.1 0 .9 2.1 3.6 2.8 1.2 2.7-2.3 3.6-1.2 4.2 3.2 1.4-.4 3.5-2.9 1.9 1.3zM133.1 18.1l-.7-.5-.3-1.4 .3-1 .7-.3 1.1 .5 .4 .8-.1 .9zM113.5 15.6l-.5-.2 .5-.7 1.2 .7zM235.7 26.3l.4 .6 .4-.6-.4-.4zM147.9 25.4l1.3 .6 2.8-2.2 .3-.9 .4-3.3-2.1-2-2.1 1-.5 1 1.6 2.5-2.2 2.5zM222.3 25.4l3.3-.8-.3-.8-2.9 .8zM231.7 25.4l1.3 0 1.7-2.5-1.4-.1-1.4 .8zM216.1 23.8l.4 .7 2.1-2.2 2.1-.5 1.4-1.2 2.1 .9 1.9-1.1-.9-2.5 .8-1.7-2.5-3.5-2.1-1.7-2.1 .5-4.9-.9-4.9 1.4-1.4 1.3-2.8 1 .5 2.8 1.6 2.8 4.9 2.2 2.1 0zM-1.5 22.1l.4 0-.3-.9zM21.8 22.1l2 .7 2.1-1.4 1.4 .3 .7-2.9 1-.9 .1-.8-2.5-1.9-4.2 .9-2 1.8zM227.8 20.4l2 .3 .9-1.1-.5-1.7-1.1-.9-.7 .1-.6 .8-.4 1.7zM122.2 12.9l.4 .6 1.4-.7 1.4 .5 .7-.4-2-2.5 1.6-2.5-1-1.6-2.2 .7 1.4 2.5-.6 .7-1.4-.4-.2 1.4zM159.3 12.1l.4 .1 .4-1-.4-1.3-.7 .5zM118.3 11.2l.7 0-.6-.5zM193.2 11.2l1 0 2-3 1.4-.3 1.4 .5 .7-.4 .8-1.8-2.2-1.5-1.4-3.1-3.5-1.5-3.5 1.1-.8 1.8-1.4-.5-2 1.2-.3 .8 1.9 2.5-.6 1.7 .3 .7 2.1 .5 2.9-1.4 .6 .2zM11.9 10.4l1.4 .2 4.2-.8 1.3-1.1-.3-4.2-1-1.3-5.6-.2-2.1 1.5-.1 2.5zM136.5 9.5l2.2 0-.7-1.5-.7-.2-1.1 .9zM132.1 7l.3 .8 2.1-.4 .6-2-.6-1.3-2.2 1.3z" fill="#e79194" fill-rule="evenodd"/><path d="M50.9 60.6l5 0 1.5-1.2 2.8-1 .2-2-2.3-.5-1.4-1.9-1.7 .8-1.1 1.2-1.4-.8-2.8 .6-.9 .6-.4 1.7zM2.5 59.8l1 .7 1.4-3.9 1.4-.2 .5-2.5-2.6-4.1-.7-.2-1.6 1-1 3.3zM4.2 55l-.5-1.1 .5-.2 .8 1.1zM253.1 58.1l.5 .6 1.4-.6 0-9.3-.1 .9-2.3 1.7 1.7 3.4-1.5 1.6zM155.4 47.2l1.5-1 .6-1.5 0-.8-1.3-.8-.7 .3-1 2.1-.2 .9zM159.5 47.2l1.1 0-.1-.8zM162.2 47.2l1 .2 2.1-.9 2.1 0 1.4-.6 7 .8 4.9-.7 3.5 1 5.1-2.3 .9-1.7 .1-2.5-1.2-.8-2.1 .4-4.2-.8-.7 .1-1.4 1.7-3.5-.6-5.6 2.1-2.1-1-7 .1-1.1 1.3zM231.5 47.2l2.6-.8 .9-.9 0-.8-1.4-1.7-2.4-1-.7 .8-3.5-.7-2.1 2.4-1-1.5-1.1-.3-2.1 .7-.7 1.3 0 1.1 .7 .6 2.8-.3 4.2 .9 2.1-1.1zM231.2 44.3l-.7-.4 .7-.7 .5 .7zM150.1 46.4l.9 0 .2-.9-.6-.7-2.1 .7zM237.5 46.4l1.4 0 1-.9-1-1.1-1.4-.1-.8 1.2zM32.8 45.5l2.8 0-.6-3.3-1.4-.1-1.4 1.2-1.4-.9-.7 .6 1.4 .5zM35 42.2l2.1-.2 1.4-1.5 .5-3.3-1.9-.4-1.4 1.2zM42 38.8l.7 .1 .2-.9-.9-1.1-.7 .3zM39.7 36.3l1.1 0-.2-1.4-.7-.4-.5 1zM186.5 36.3l4.1 .7 2.1-3.2-.3-1.7-.4-.5-2.9-.4-.7 .1-1.4 1.4-1.4-.4-.9 2.4 .2 .8zM36.8 34.7l1-.3 1-1.4-.8-1.7-.9-.3-1.7 .3-.7 .8zM12.4 26.3l3-.5 1.4-.8 2.8 .6 1.2-1-.8-.8-2.5-.3-4.2-1.8-2.8 .7-4.2-.6-3 1.1-.3 .9 1.2 1.1 2.1 0zM115.8 26.3l.8 0 1.1-2.2 4.9 0 1.4-1.2 2.1-.1 2.1 1.1 1.4 0 .7-.6 .8-2.9 .6-.6 1.4 .5 .4-.7-1.9-1.7-.1-.8 .9-2.3 1.4-.1 .9 .7 .4 1.7-1.1 1.7 .5 .3 3.5-1.8 .2-1.9-1.6-1.6-1.4-.5-1.4-2.9-1.4 1.5-1.4 .1-.7-.8 .4-2.5-1.1-1-.7 .9-1 4.3 2.3 4.2-.2 .8-1.1 .5-.7-.3-1.4-1.6-1.4 3-.7 0-1.1-1.6-.2-2.5-1.5-.6-2.1 1.4 2 1.7-1.3 4-3.2-1.5 .5-4.2-.8-.8-2.8 1-1.4-.5-1.4 .8-.7-.5 2.7-2.5 0-.8-1-1.7-2-.8-.4-.8 1.2-2.6-.5-1-4.2-1.2-2.1 .2-2.4 1.2-1.2 2.5-.6 .3-1-1.1-1.1 0-.7 .8 .5 1.7-2.2 3.3 1 .4 0 1.8-.7 .1-.7-2-2.4 6.4 1.9 4.2 2.6 1.1 2.2-1.9 4.1-1.9 4.2 3.5 .7 0 4.2-3.3 2.2 1.7zM149 25.4l2.2-1.6 .8-1.4 .3-2.8-1.7-1.5-2.2 1.5 1.6 2.5-1.7 2.5zM232.2 24.6l.4 .4 .5-.4 .2-1-.9 .2zM215.8 22.9l.7 .7 .7-.1 1.4-2 2.1-.1 1.4-1.2 2.1 1 1.2-.8 .2-.8-.9-1.7 .8-1.7-.2-.8-3.9-3.8-7.7-.7-3.5 1.3-4.2 3 0 1.1 2.1 3.6 2.1 1 1.4-.3 1.4 1.2 2.1 .2zM22.5 22.1l2 .2 2.8-1.9 1.5-3.3-.7-.9-1.5-.8-3.5 .5-2.3 2 .2 2.2zM136.9 22.1l.4 .8 .4-.8-.4-.7zM140 21.3l1.3 0 .1-.9-1.3-2-1.4-.7 .1 1.9zM228.4 20.4l1.4 0 .6-.8-.5-1.7-.8-.5-.7 .3-.5 1.1-.1 .8zM146.3 17.1l1.5-.2 .6-.7 2.2-4.5 .9 1.2-.8 1.7 .6 1.3 .7 .3 2.1-.4 1.4 1.8 1.4-.2 .7 .5 .8-.8-1.5-.2-2.1-1.6-.2-1.6-2.6-2.7-1.4 0-1.4-1-.7 0-1.4 1.8-2.1 .2-.4 .9 .8 3.3zM139.4 15.4l1.4 .4 2.1-.4 .2-1.7-1.6 0zM114.6 13.7l.3 .5 .6-.5-.6-.4zM122.4 12.1l1.6 0-.7-1-.8 .1zM193.3 10.4l.8 .5 2.1-3 1.4-.6 1.4 .6 1-.9 0-.8-1.7-.9-1.4-3.3-3.5-1.5-2.8 1-1.5 2.1-1.4-.6-1.5 .7-.4 .8 .5 1 1.5 .7-.4 2.5 1.7 .9 2.9-1.4 .7 .1 .5 .4zM192 3l0-.7 .4 .5zM12.1 9.5l1.2 .9 4.9-1.4 .5-1.1-1-4.2-.9-.4-2.1 .5-2.8-.5-1.8 1.2-.5 .9 .2 1.4zM114.1 8.7l.8 .1 .7-.6 0-1.7-1.5 .5-.5 .9zM123.9 8.7l.8 .2 .6-1-.6-1.2-1.5 .3zM133.6 7l.9-.3 0-1.7-1.7 1.2z" fill="#e48889" fill-rule="evenodd"/><path d="M53.9 60.6l1.4-.1 2.1-1.4 2.1-.5 .8-.5-.1-1.2-2.2-.5-1.3-2-1 .4-1.8 1.8-2.1-1.1-2.7 .9-.4 1.7 1.7 2zM2.8 59.8l.7-.2 .9-3.2-2.3-3.5-.7 .5-.2 1.4zM253.4 58.1l.9 .2 .7-.6 0-7-1.7 .7 .3 1.6 1.3 1.8-1.9 1.6zM5.6 54.8l.7 0-.1-1.7-2-2.7-1.4-.2-.7 1.2 2.8 2zM155.2 46.4l1 0 .7-.6 0-2-.7-.2-.7 .5zM162.3 46.4l.9 .7 4.9-1.3 2.8 .5 2.1-.5 2.1 .7 5.6-.7 3.5 .8 2.8-1.7 2.1-.3 1.1-3.2-.3-1.1-.8-.2-2.1 .4-4.2-.8-.7 .1-1.4 1.7-3.5-.6-3.5 .8-2.1 1.1-2.1-.9-6.3-.1-1.1 .4-.5 .8zM225.6 46.4l2.1 .4 2.1-1.2 2.1 1.5 2.1-.9 .6-1.5-1.3-1.5-.7 0-1.4 1.7-.7 .1-.8-2-2-.8-2.8 3-1.4-2.1-2.1 .3-1.1 1.3 .4 1.3 3.5-.3zM237 45.5l1.2 .8 1.1-.8-1.1-1-.9 .2zM32.3 44.7l.6 .6 1.4 .1 .6-.7-.6-2.2-1.2 .5zM35.8 41.4l.6 .4 .7-.3 1.4-1.5 .4-2-.4-.6-1.4-.1-.9 .7-.5 .8zM187.6 36.3l3 .3 1.9-2.8-.5-1.7-2.9-.4-2.1 1.4-1.4 .1-.5 1.5 .5 .8zM36 33.8l1.1 .7 1-.7 .3-1.7-.6-.7-1.7-.1-1 .8zM8.9 25.4l2.3 .1 2.1 .7 2.8-1 1-1.4-4.5-1.9-1.4 .8-4.9-.6-2.1 .8-.7 .9 .7 .8 2.1 0zM115.6 25.4l.7 .4 .2-1.2 1.2-1 2.1 0 .7-.6 2.1 .4 1.4-.9 2.1-.2 2.1 1.2 1.4-.1 .9-1.3 .2-3.3-1.8 .2-2.1-1.7-.9 2.3-1.2 .7-2-3.2-.1-1.6-1-.1-1.1 .8 1.9 .9 0 .8-1.2 4.7-.7 .3-3.5-1.9 .4-3.9-.4-1-2.8 .6-1.4-.4-2.4 .8-.2-.9 2.6-2.4 .2-.9-.9-1.7-2.1-.9-.1-1.6 .9-1.7-.8-.8-3.5-1-.7 1.2-1.4-.9-2.1 1-1.4 2.6-.7 .3-1.4-1.1-.7 .3 .3 1.8-1.9 2.5 .6 1.7-.4 1.6-1.4-.2-.7 .5-1.4 3.9 2.1 4.3 2.1 .7 6.3-4 .7 0 1.4 1.7 2.8 2 3.2-2.2 1-2.2 .4 1.4 2.1 1.7zM107.9 20.2l-1.4-1.2-2.1 .3 0-1.9 2.2 .5 1.5 1.7zM110 20.7l0-1.2 .3 .9zM17.6 24.6l1.3 .6 1.3-.6-2-.9zM150.5 22.9l.4 0-.3-.6zM216.3 22.9l.9 0 1.4-2.4 1.4 .7 2.1-1.4 1.4 .9 1.3-.3 .3-.8-1-1.7 1.1-1.7-.6-1.6-3.9-2.5-5.6-1.1-4.9 1.6-3.1 2-.6 .8 .2 .8 1 .9-.2 1.7 .6 .8 2.1 1 1.4-1 1.1 1.7 2.4 .3zM23.4 22.1l1.1-.1 2.8-2.3 1.2-2.6-1.2-1.2-4.2 .1-2 1.9 .3 2.5zM151 22.1l.9-1.7-.1-.8-1.2-1-1.6 1zM139.9 20.4l1 0-.8-1.2-.5 .4zM228.1 19.6l1 .7 .7-.3 .3-1.2-1-1-.7 .4zM130.2 16.2l.8 .4 1.4-2.3 2.1-.2 0-1.2-.7-1.3-2.1 1.1-2.8-1.4-.6 1.6zM135.6 16.2l1 .7 .9-.7 0-.8-.9-1.1-1.1 .3zM145.7 16.2l.7 .6 1.7-.6 2-5-.8-.8-.8 .2-1.1 1.5-2.1 .8zM151.4 15.4l.6 .4 1.7-.4 .3-1.7-.6-.7-.7-.4-.7 .5-.8 1.5zM141.2 14.6l1 .5 .5-.5-.5-.6zM193.9 10.4l1.6-2.3 2.8-1.9 .7 1.1 .7-.3-.6-.8-.8 0-1.4-3.9-3.5-1.4-.5 .3-.2 2.1-.7 .3-.7-1-.7 0-1.5 1.5-1.4-.8-1 .4-.4 1 2 1.5-.1 2.5 .9 .6 2.9-1.5 .7 .1 1 .8zM12.6 9.5l1.4 .5 3.5-.7 .7-.6-.3-4.2-.6-.8-2.6 .3-2.8-.5-1.4 1-.6 1.7zM129.5 9.5l.1 .5 .5-1.3-.5-.6zM114.3 7.9l.8 0-.2-.7zM123.9 7.9l.9 0-.8-.9z" fill="#e0807e" fill-rule="evenodd"/><path d="M50.3 59.8l.8 .5 2.1-.4 2.1 .3 2.1-1.5 2.4-.6 .1-.8-2.5-.7-.7-1.7-2.8 2.1-2.1-1.2-2.1 .4-.8 1.1 .1 .8zM2.6 58.9l.2 .4 .7-.7 .2-2.2-1.6-2.9-.6 1.3 .8 1.6zM253.2 57.3l.4 .7 1.4-.6 0-1.8-1.4 .4zM254.1 53.1l.9 .4 0-2-.9-.1-.5 .7zM4.1 52.2l.4 0-.3-.8-.9-.8-.4 .8zM162.7 46.4l.5 .4 4.9-1.3 2.8 .6 2.1-.5 2.1 .7 2.1-.7 3.5 0 2.8 .8 2.1-.7 1.4-1.3 1.6 .3 .8-.8 .6-2.5-.9-.9-1.4 .6-4.9-1.2-2.1 1.9-3.5-.6-1.4 .6-2.1 0-2.1 1.2-2.1-.9-6.3-.1-1.3 1zM226.1 46.4l1.6 .2 2.1-1.5 0-1.2-.6-.9-.8-.3-1.1 .3-2 2.5zM231.1 46.4l.8 .5 2.1-1 .3-1.2-.6-.8-1.1-.3-1.9 1.9zM155.5 45.5l.7 .4 .7-1.2-.7-.6zM220.6 45.5l2.7 0 .5-.8-.2-.8-.8-.5-1.4 .4-.8 .9zM237.4 45.5l.8 .4 .6-.4-.6-.7zM32.6 44.7l1.7 .3 0-2-.8 0zM36.2 40.5l.2 .6 1.9-1.4 .2-1.8-1.7 .1zM189.8 36.3l.8 0 1.3-1.6 .1-1.9-2.9-.4-3.3 1.4-.3 .9 .8 .8zM36.2 33.8l.9 .5 .7-.5 .5-.8-.5-1.3-1.4-.2-1 .6zM12.1 25.4l1.2 .6 2.1-.7 1-.7 .1-.8-3.9-1.7-1.4 1-2.8-.4-1.4 .6-1.4-.5-1.6 1 .9 .5 2.1-.2 1.4 1zM95.5 24.6l1.9 .5 5.1-3 1.7-1.7-.6-1.6 .1-2.7 4.9 2.5 1.3-.7-.5-1.7 3.1-2.5 .2-.8-.6-1.3-2.3-1.2 .2-3.5-2.8-1.1-1.4 1.4-2.1-1.2-1.4 1-1.4 2.5-1.4 .4-.9 1.3-1.4 .9-.4 4.1-2.2 .8-1.1 3.4zM108.3 24.6l1-.1 2.2-1.6 .6-2.5 .7-.3 .8 2 2 1.6 2-.8-1.2-2.5 .5-3.3-4.1-.5-2 1.3-.3 .9 .6 1.6-.4 .7-.7 .3-1.4-.8-.8 1.5zM128 22.9l1.6-.1 .5-.7-.1-1.7-.4-.7-2.8-1.2-.6 2.8zM105.4 22.1l.4 .4 .9-.4 .3-1.7-.5-.9-2.1 .9zM121.9 22.1l.7 .7 2.1-1.5-1.4-2.5-.7-.1zM216 22.1l.5 .5 .7-.4-.2-1.8 .9-.7 .7-.1 1.4 1.2 2.1-1.4 2.1 1 .4-.8-1.1-1.7 1.4-1.7-.7-1.6-4.9-2.5-4.2-.9-2.1 .4-5.4 3-.5 .8 1 1.7-.1 1.7 .6 .8 1.6 .7 1.4-1.2 1.4 1.7 2.1 .4zM22.4 21.3l2.1 .5 2.1-1.7 1.6-3-.7-.9-.9-.4-2.8 .3-1.8 1-1 1.7zM150.5 20.4l.4 0 .1-.8-.4-.3-.7 .3zM228.4 19.6l1.4 .1 .1-.9-.8-.6zM146 16.2l1.8 0 1.4-5.2-1.4 1.5-1.7 .4zM130 15.4l1 .5 1.4-2.1 1.5-.1-.1-1.1-2.1 .8-2.1-1.4-.7 .2-.1 .7zM135.9 15.4l.7 .7 0-1zM151.9 15.4l1.1 0 .5-.8-.2-.9-.6-.2-.7 .6zM13.1 9.5l4.8-.8-.2-4.2-.9-.8-3.5 .6-1.4-.4-1.6 1.5 .2 1.5 1.4 .9zM188.8 8.7l1.1 .1 2.1-1.6 2.1 1.4 .7-.1 1.9-1.5 .8-1.6-.6-2.7-2.8-1.4-.7 .3-.7 2.2-2.1-.2-1.5 1.2-1.4-1.1-.7 .3 0 .9 1.5 .5z" fill="#da7a72" fill-rule="evenodd"/><path d="M50.7 59.8l1.1 .3 1.4-1.1 .9 .8 1.2 .1 1.4-1.5 1.9-.3-2.6-1.9-2.1 1.4-.7 0-1.4-1.4-2.1 .2-.5 .9 .1 .8zM2.6 58.1l.2 .6 0-1.8zM253.5 57.3l.8 .3 .7-1.2-1.4 0zM1.9 54.8l.2 .5 .4-.5-.4-.6zM163.2 46.4l2.8-1.1 2.1 0 2.8 .7 2.1-.6 2.1 .6 2.1-.8 2.1 .5 1.4-.4 2.8 .9 2.1-.9 .7-1.6 2.1 .8 .8-.6 .4-2.5-.5-.4-2.1 .7-4.2-1.5-2.1 1.9-2.8-.6-2.1 1.2-2.1-.7-2.1 1.3-2.1-1-6.3 0-1 .7zM226.7 46.4l1-.1 1.9-1.6-.5-1.3-.8-.4-2 2-.4 .5zM231.4 46.4l1.2 .1 1.4-1-.7-1.7-2.1 1.7zM221.2 45.5l1.1 0 1.1-.8-.5-.8-1.5 .3-.5 .5zM32.9 44.7l1.2 0 .2-.9-.7-.4zM37.3 38.8l.5 .7 .4-.7-.4-.8zM187.1 35.5l3.5 .3 1.3-2-.6-.7-4.3 .8-.9 .8zM36.5 33.8l.6 .2 .9-1-.1-.9-.8-.5-1.3 .5zM12.5 25.4l.8 .3 2.1-.7 .8-1.2-3.6-1.5-1.4 1.2-2.1-.6-1.3 .9 .3 .8 3.1 .1zM95.9 24.6l1.5 .3 5.4-3.6 .9-5.7 2.1 1.4 1.7 .1 4.7-3.4-.1-1.8-2.5-1.5-.5-3.4-1.9-.6-.3 .6-1.1 .4-2.1-1-4 4.8-2 .9-.7 4.1-2.4 1.2-.9 3 .4 1.7zM108.3 23.8l1 .4 1.8-1.3 .3-1.4-2.8 .4zM114.8 22.9l.8 .5 .9-.5-.5-2.5 .3-2.3-3.5-1.2-1.4 1-.1 1.7 1.5 0 1 2.5zM128.2 22.1l1.4 0 0-.9-.7-.7-.8-.1zM22.7 21.3l1.8 .2 2.4-1.9 1-2.5-.6-.8-.7-.4-2.8 .3-1.7 .9-.9 1.7zM105.4 21.3l.4 .4 .5-.4 .2-.9-1.2 0zM122.5 21.3l1 0-.2-.9zM216.3 21.3l.2 .3 0-2 .7-.3 2.1 0 .6 1.1 .8 0 3.5-3.6 .4-1.4-2.5-1.8-7-2.2-2.1 .5-4.9 2.8-.5 .7 .8 1.7-.1 1.7 .8 .8 1.1 .4 1.4-1.3 2.1 2zM146.4 16.2l.9 0 .7-.8-.2-2-.7-.3-.9 .6zM130.1 14.6l.9 .5 .2-1.4-1.6-.8zM13.1 8.7l.9 .6 3.5-.6-.1-4.2-.6-.6-5.6 .9-.6 1.4 1.3 .8zM188.7 7.9l.4 .7 1.7-.7 0-1.7-.9-.8-.8 .4zM193.9 7.9l.9 .2 1.5-1.1 .9-1.6-.5-2.6-2.6-1.1-.9 2-1.9 .8 0 .9 .3 .8z" fill="#d47466" fill-rule="evenodd"/><path d="M51 59.8l1.1 0 .9-1.7-1.2-1.6-1.4 0-1 .8zM54.2 58.9l.4 .6 .7-.2 .4-1.2-1.1-.3zM163.1 45.5l.8 .5 2.8-1.3 3.5 1 2.1-.8 2.8 .9 1.4-1 2.8 .7 2.1-.4 2.1 .8 2.1-.9 .7-2.8-.7-.8-2.8-.9-2.1 1.9-1.4-.6-2 .4-.8 2-2.1-2-.7 0-1.4 1.4-2.8-1.1-2.8 .5-3.5-.3-.6 .3zM226.4 45.5l.6 .5 .7-.3 1.5-1 0-.8-.8-.3zM231.5 45.5l.4 .9 .7-.1 1.1-.8 0-.8-.4-.5-.7 .2zM187.5 43.9l1.2 0 .4-2.2-1.4 .5-.5 .8zM189.2 34.7l.7 .7 1-.7-.3-.4zM36.1 33l1 .7 .7-.7-.2-.9-1.2-.2zM13.1 25.4l2.3-.6 .4-1-3.2-1.3-1.2 1.3zM96.5 24.6l4.4-2 1.6-1.3 1.2-6.1 2.1 1.5 1.4 .1 4.8-3.1 0-1.6-2-.9-1.4-3.3-2.8-.2-2.1-1-3 4.5-2.6 1-1 4-.4 .8-1.4 .2-.7 .7-.7 2.5 .7 2.2zM8.7 23.8l1.1 .6 .7-.6zM108.9 22.9l.4 .8 1.2-.8-.5-.4zM115.4 22.9l.9-.8-.8-3.3-2.7-1.7-1.2 1.7 2.1 .8 .3 2.5zM23.1 21.3l1.4 0 2.2-1.7 1-1.7 0-.8-.7-.9-3.9 .3-1.5 1.4-.1 1.7zM209.5 19.6l.7 .1 1.4-1.3 2.1 1.8 1.4 .2 1.4-1.2 2.8-.5 1.4-1.9 1.4 1.2 2.1-1.7 .1-.9-5.7-2.9-2.8-.9-2.1 .3-5.7 3.5 .7 3.4zM220.2 19.6l.5 .2 .2-1zM146.3 15.4l.8 .5 .6-.5 .1-.8-.6-.9-.8 .3zM13.8 8.7l3-.1 .7-.6-.7-3.8-4.1 1.2 .1 1.6zM189 7.9l1.4 0 .2-.9-.7-1.1-.8 .7zM193.1 7l1.7 .7 1.9-1.5 .2-1.7-.7-1.8-2.1-.6-.7 1.8-1.4 1 0 .9z" fill="#cd705e" fill-rule="evenodd"/><path d="M50.5 58.9l1.3 .7 .7-.7-.2-1.6-1.2-.5-1.4 .3zM163.7 45.5l.9-.1 1-1.5-1.7-1-.7 .1-.2 .9zM170.1 45.5l1.1 0 .9-.8-.2-.8-1.7-1-2.3 .1-.7 .9 .6 .8zM174.9 45.5l1.1-.8-1.1-1.7-1.2-.5-1.2 1.4 .3 .8zM182.4 45.5l1.1 .2 2.1-1 .3-2.5-1-.8-2.1-.6-1.4 1.7-2.8-.5-1.5 1-.2 .9 1 1.1 1.4 .4 2.1-.5zM231.9 45.5l1.4 .1 0-.9zM187.7 43l.7 .5 .2-.5zM36.3 33l.8 .3 .1-1.2-.8 .3zM12.1 24.6l1.2 .7 1.9-.7 .2-.8-2.8-1.1-.7 1.1zM95.7 23.8l1.7 .5 4-2.2 .7-.8 1.6-6.4 2.1 1.5 1.4 0 4.5-2.7 .1-1.6-2.2-.9-1-2.8-4.9-1.3-2.8 4.5-2.8 1-.8 3.6-.6 1-1.8 .7-.8 2.5 .4 1.7zM114.2 22.1l1.4 .5 .4-.5-1.1-2.4-.7 .1zM23.8 21.3l3.3-2.5 .4-1.7-.9-.9-3.5 .4-1.3 1.3-.1 1.7zM213.8 19.6l1.3 .3 1.4-1.2 2.8-.3 .7-1.7 .7-.3 1.4 .7 1.5-.9 0-.8-2.2-1.5-1.4 0-1.1-1-2.4-.9-2.8 .1-5.4 3.3 1.2 3.9 .7 .1 1.4-1.3zM112.2 18.8l1.9 0-.3-.9-1-.4-.6 .4zM13.7 7.9l1 .5 2.5-.5-.4-3.5-3.5 1-.3 .8zM189.7 7.9l.5-.9-.3-.5-.5 .5zM193.6 7l1.2 .4 1.6-1.2 .3-1.7-.8-1.7-1.8 0-1.9 2.6z" fill="#c66c55" fill-rule="evenodd"/><path d="M50.8 58.9l1 .4 .4-.4-.4-1.7-1.8 .1zM163.5 44.7l.4 .5 .7-.2 .3-1.1-1-.5-.5 .5zM168.3 44.7l1.9 .7 1.5-.7-.3-.8-1.9-1-1.7 1zM173.4 44.7l1 .4 1.1-.4-1-1.7-.8-.2-.8 1.1zM177.7 44.7l1.6 .5 2.1-.7 1.4 1 .7-.1 1.7-.7 .3-2.5-2.7-1.1-1.4 1.7-2.1-.6-1.4 .2-.6 1.5zM12.4 24.6l1.6 .3 .9-1.1-1.6-1-.7 .1-.5 .9zM96 23.8l1.4 .3 3.8-2 2.5-7.4 2.8 1.5 2.4-1.6-.7-1.7 .9-1.7-.5-2.3-4.9-1.5-2.7 4.7-2.8 .8-.8 3.4-.7 1-1.5 .6-.9 2.5 .3 1.7zM114.5 22.1l1.2 0-.8-1.7-.7 .2zM22.6 20.4l1.9 .6 2.5-2.2 .3-1.7-1.4-.8-2.8 .4-1.4 2.1zM209.3 18.8l.9 .2 1.4-1.2 3.5 1.7 1.4-1 2.1 0 .8-.6 .6-1.7 2.1 .3 .6-1.1-1.3-1.2-2.1-.1-2.8-1.9-2.1-.1-5.8 3.3zM109.5 14.6l1.2-.1 .8-.8 .3-.8-.4-1-1.8 .2zM14.3 7.9l2.2 0 .4-2.5-.8-.9-2.4 .9-.4 .8zM194.6 7l1.8-1.6-.1-1.7-.8-.7-.7-.1-1.9 2.5z" fill="#be684e" fill-rule="evenodd"/><path d="M51.1 58.9l.7 .1 .3-.9-1-.7-.6 .7zM168.6 44.7l1.6 .6 1.2-.6-.3-.8-1.6-.7-1.3 .7zM173.9 44.7l.9 0-.4-1.2-.7-.3-.3 .7zM178.1 44.7l1.2 .4 2.1-1.1 .7 .9 1.4 .2 1.4-.5 .5-1.6-.5-1-2.1-.6-1.4 2.3-2.1-1.3-1.4 .3-.4 1.2zM12.7 24.6l1.3 .1 .6-.9-1.4-.9-.9 .9zM96.5 23.8l.9 .1 3.5-1.8 2.8-7.8 2.1 1.5 1.9-.4 .6-.8-.5-1.7 1-1.7-.2-2-4.9-1.4-1.8 2.6 0 1.7-3.2 .8-1.5 4.2-1.9 1.1-.8 2.2 .3 1.7zM114.8 22.1l.1-1.2-.6 .4zM22.9 20.4l1.6 .4 2.4-2 .2-1.7-1.2-.6-3.1 .6-1 1.7zM213.9 18.8l1.2 .4 1.4-1 2.1 .1 1.4-2.7 1.4 .4 .7-.6-.7-.9-1.4 .6-.7-.3-3.5-2.7-2.1 .5-2.8 2.2-1.8 .6 .4 2.8 .7 .3 .7-.9 .7 0zM109.8 13.7l.2 .5 1.2-.5 .2-1.4-1-.2zM13.8 7l.9 .7 1.4-.5 .3-1.8-2.4 .1zM194 6.2l1.5 .1 .7-.9 0-1.2-.7-.9-1 .4z" fill="#b66446" fill-rule="evenodd"/><path d="M169 44.7l1.2 .4 .9-.4-.3-.8-1.3-.5-1 .5zM178.4 44.7l1.7 0 .6-.8-.4-.9-1-.4-1.4 .3-.2 1zM182.3 44.7l.5 .3 2.1-.9-.2-1.9-1.9-.5-.9 1.3zM13 24.6l.8 0 .5-.8-1-.6-.7 .4zM95.8 22.9l1.6 .7 3.3-1.5 1.8-4.2 .5-3.4 .7-.5 2.1 1.6 1.6-.2 .6-.8-.5-1.7 1.1-2.2-.1-1.2-4.1-1.6-.7 .2-1.5 2.3 .6 2.5-1.9-.3-2.1 .5-1.5 4-2 1.6-.6 1.7 .3 1.7zM23.2 20.4l1.3 .2 2.1-1.7 .4-1.8-1.1-.5-2.9 .5-1.1 1.7zM214.5 18.8l2-.8 2.1 .1 .7-1 0-1.7-3.5-3.1-2.1 .6-4.4 3.3 .9 1.5 1.4-.3zM110.3 13.7l1.1-.8-.7-.6zM14.2 7l1.3 0-.1-1.2-1.4 .2zM194.6 5.4l.2 .4 1-.4-.3-1.7-.7 .4z" fill="#ae603e" fill-rule="evenodd"/><path d="M169.4 44.7l1.4 0-.3-.8-1-.3-.5 .3zM178.8 44.7l.8 0 .9-.8-.5-.9-1.8 0-.3 .9zM182.7 44.7l1.8-.8 .3-.9-.6-.8-1.4-.1-.7 .9zM12.8 23.8l.5 .7 .6-.7zM96.2 22.9l1.9 .3 2.3-1.1 .6-.8 1.7-5.9-.3-1.7-.8-.6-2.8 .3-1.4 3.9-1.9 1.5-.6 2.5zM23.6 20.4l.9 0 2.1-1.7 0-1.8-2.8 0-1.4 .9 0 1.8zM213.2 17.9l1.9 .7 1.4-.9 2.1 .1 .5-.7-.2-1.7-1.7-1.2-.7-1.4-2.1 0-4.5 3.4 .3 .7zM106.3 15.4l1.3-.8-.3-2.5 1.1-1.7-.5-1-3.5-1.3-1.4 1.4-.3 1.7 .8 .9 .3 1.6 1.3 1.3zM14.4 6.2l.3 .6 .3-.6z" fill="#a55c37" fill-rule="evenodd"/><path d="M178.1 43.9l1.2 .7 .9-.7-.9-1-.8 .1zM182.5 43.9l.3 .4 .7-.3 .8-1-.8-.7-.7 .2zM96.6 22.9l1.5 .1 2.1-.9 .6-.8 1.7-5.9-.9-2-.7-.3-2.1 .6-1.4 3.8-1.7 1.3-.6 2.5zM22.6 19.6l1.9 .6 2.1-1.8 0-1.3-3.5 .2-.9 1.5zM213.5 17.9l1.6 .5 1.4-.9 2.1 0 .3-.4-.3-1.7-1.4-.7-1-1.8-1.8 .1-3.2 2.4-.4 .8zM104.8 14.6l1 .5 1.4-.3 0-1.2-1.3-1.5 2.2-1.7-.2-.6-3.5-1.5-1.4 2.1z" fill="#9b5832" fill-rule="evenodd"/><path d="M178.4 43.9l.9 .4 .6-.4-.6-.7zM182.8 43l0 .5 .7-.5zM97.3 22.9l2.9-1.1 .5-2.2 1.1-1.7 .5-3.2-1.4-1.4-2.1 .6-1.4 3.8-1.5 1.1-.6 2.5 .7 1zM22.9 19.6l1.6 .4 2.1-2.4-.7-.6-2.8 .5-.7 1.3zM213.9 17.9l1.2 .3 1.4-1 2.2-.1-.1-1.2-1.4-.8-1.4-2.2-2.1 .6-2.2 1.9-.3 .8zM105 14.6l1.9 0-.4-1.5-1.3-1 1.3-1.7 1 0-1 0-1.3-1.7-.8-.2-1.1 1.9 1.5 1.7-.5 1.6z" fill="#91552d" fill-rule="evenodd"/></g>
<path d="M-4 12.9l1.5-.3 1.8-.3 1.7-.4 .2-1.1-1-.8-.4-.6-.9-1.1-.3-.4-.4-.4 .5-.9-1.2-.2 .4-.7-1.4 0-.6 .9 .2 1 .4 .7 .1 .6 1.2 .1 .1 .6 0 .5-1.2 0 .4 .4 0 .6-.8 .3 .9 .2 .7 .1-.8 .2-.6 .5zM248.2 12.9l1.5-.3 1.8-.3 1.7-.4 .2-1.1-1-.8-.4-.6-.9-1.1-.3-.4-.4-.4 .5-.9-1.2-.2 .4-.7-1.4 0-.6 .9 .2 1 .4 .7 .1 .6 1.2 .1 .1 .6 0 .5-1.2 0 .4 .4 0 .6-.8 .3 .9 .2 .7 .1-.8 .2-.6 .5zM248 11.2l-.1-1.2 .4-.9-.3-.6-1.1 0-.7 .6-1 .3 .3 1-.4 1 .4 .2 1.1-.2 1.1-.3zM235.4 -.1l1.4 1.4 2.4 .4 2.8-.8 .7-.8-1-1-6.3 0zM98.1 20l.8-.2 1.4-.1 1.6-1.2-.1-.8-2.3-1-.4 1.2-.7 .7-.3 .6zM99.5 16.2l1 0-.1-2.5 .8 0-.7-2.1-.3-2.1-.4-.2-.2 2.3-.1 2.1zM84.8 33.6l.7 .2-.4 1.7-.5 .9-.5-.9 .3-1.3zM76.1 38.7l1.2-.8 .5 .5-.7 1.1-.7-.2zM55.9 46.5l.4 0 1.1 2-.5 1.1-.9 .1-.1-1.6zM84.4 39.3l1.2 0-.1 1.2-.4 1.3 .4 1.2 1.4 .9-.4 .1-1.4-.8-.7-.6-.3-1.2zM85.5 48.9l1-1.3 1.4-1.1 .7 2-.3 1.2-.7 .2-.7-.6zM85.8 44.9l2.1-.6 .2 1.2-1.6 1.3-.7 0zM82.1 47.8l1.6-1.8 .2-.8-.5 .8-1.1 1.4zM84.4 43.4l.7 .5-.3 .6-.5-.5zM73.7 60.4l.9-.7 1.4 .3 1.4 .4 1.5 .1 1.3 .7-.1 .8-1.3-.2-1.4-.3-1.7-.2-1.4-.4zM80.2 61.5l.9 .2-.2 .4-.6-.2zM81.3 61.7l2.1-.1 0 .5-2.1 .1zM83.9 61.8l2.3-.2 0 .4-2.3 .2zM86.5 63.4l1.1-.9 1.5-.7-.1 .3-1.4 .9-.7 .5zM83.7 59.4l-.1-1.7-.4-.6 .5-1.9 .4-1.1 .7-.4 1.4 .2 1-.4 .5 0-.8 .9-1.4-.1-.7 .1-.4 .8 .7 .4 1.3-.1-.9 .5-.5 .4 .6 1 .6 1.1-.7 .9-.7-1.3-.4-.8-.1 2.1zM89.3 52.9l.6 .6 .3 .8-.5 1.1-.4-.6zM89.7 57.3l1.9 .2 0 .4-1.9-.1zM88.3 57.4l.8 0 0 .5-.8 0zM103.9 59.4l1.2-.4 1-.7 .5 0-.5 1.1-1 .5-1.1-.1zM105.4 56.8l.7 .5 1.1 1.2-.2 .3-1.2-1.4zM109.6 60.2l2.1 1.2 1.4 1.3-.3 .4-1.4-.4-1.8-1.7zM114.9 71.7l.6 0 1.5 1.7-.4 .1-1.5-1.3zM124.2 69.4l.9-.2-.1 .8-.7-.1zM192.7 36.4l1.4-.8 1.4-.3 1.4 .5 1.4 1 .9 .4 1.1 .6-.6 .3-1.9 0 .1-.6-.7-.7-1.4-.5-1-.1-1.1 .2zM200 39.3l1.1-1.2 1.4 0 1.4 .6 .5 .5-1.2 .3-1.1 .5-1-.3zM197.3 39.4l1.5 .1-.3 .3-.8 0zM205.1 39.3l1.1 0-.1 .4-1 0zM144 7l1.5-.5-.3-.5-.9 .4zM8.7 22.9l2.2-.2-.3 1.3-1.8-.7zM5.7 20.5l1.2-.2-.1 1.6-.9 .3zM6 18.8l.7 0-.1 1.3-.5-.3zM16.5 24.9l1.9 .3-.2 .3-1.7-.2zM22.6 25.4l1.6-.5-.4 .9-1-.1zM209.3 97.6l2.4 .1-.5 .8-1.4-.1zM91.7 26.3l1.1-1.3 1.1-.1 1 0 .9-1.4 1.2-.4 1.1-1.4 0-1.1 .5-.4 .5 0 0 1.1 .4 .4-.7 1-.2 1.1 .1 1.1-.8 .5-.5 .3-1.4 .1-.2 .2-.7 .7-.4-.7-.8-.2-1.1 .2-1 .4zM91.1 26.7l.7-.3 .6 .7-.3 1.3-.6 .4-.3-.4-.3-1zM92.8 27.1l.4-1 1.1 0 .1 .4-.9 .4-.5 .4z" fill="#fbfbfd" stroke="#fbfbfd" stroke-width="0.5"/>
<path d="M91.7 26.3l1.1-1.3 1.1-.1 1 0 .9-1.4 1.2-.4 1.1-1.4 0-1.1 .5-.4 .5 0 0 1.1 .4 .4-.7 1-.2 1.1 .1 1.1-.8 .5-.5 .3-1.4 .1-.2 .2-.7 .7-.4-.7-.8-.2-1.1 .2-1 .4zM91.1 26.7l.7-.3 .6 .7-.3 1.3-.6 .4-.3-.4-.3-1zM92.8 27.1l.4-1 1.1 0 .1 .4-.9 .4-.5 .4z" fill="#d2d2d2"/>
<path d="M8.8 -2.2l-.4 2.1-1 .9-1.4 .8-1.4 .7-1.1 .7 0 1.3 .4 1.1 .3 .6 1.1 .2 .7-.3 .9-.5 .5-.7 .3 .7 .6 .6 .1 .6 .6 .9 0 .8 .9 .1 .3-.5 1-.2 .4-1.1 .1-.8 .9-.4 .6-.7-.9-.8-.2-1.3 .9-.8 1.4-.5 .7-.5 .3-.9 .4-2.1zM261 -2.2l-.4 2.1-1 .9-1.4 .8-1.4 .7-1.1 .7 0 1.3 .4 1.1 .3 .6 1.1 .2 .7-.3 .9-.5 .5-.7 .3 .7 .6 .6 .1 .6 .6 .9 0 .8 .9 .1 .3-.5 1-.2 .4-1.1 .1-.8 .9-.4 .6-.7-.9-.8-.2-1.3 .9-.8 1.4-.5 .7-.5 .3-.9 .4-2.1zM17.2 -2.2l.5 2.3-.5 .4-1.1 .8-1 .7-.1 1 .1 .9 .7 .6 1.4-.1 1.4-.2 1.4-.1 .9 .4-1.3 .4-2.1 0-1 .2 0 .7 .5 .1 .1 .7-.3 .4-.5 0-.5-.5-.7 .2-.4 .8 .1 .8 .1 .4-.5 .2-.7 .3-.7 0-.2-.3-1.2 .2-1.4 .5-.7-.3-1.1 .1-.7 .1-.1-.4-.6-.1 .4-.7-.2-.6 .2-.7 0-.6-.7 .5-.9 .3-.1 .7 .3 .4 0 .6 .2 .6-.5 .4-.8 .1-.8 0-.7 .5-.4 .7-.5 .5-.7 .3-.7 .1 0 .7-1 .5-.9 .1-.3-.3-.2 .9-.8-.1-1.1 .2 .1 .6 1.1 .3 .5 .3 .7 .8 0 1.3-.3 .9-1.4 0-1.4 0-1.7-.1-.8 .5 .2 .9 .1 .8-.2 1-.4 .9 .5 .3 0 1.1 .9-.1 .9 .3 .5 .7 .7-.6 1.7 0 .6-.6 .4-.1 .2-.7 .4-.3-.3-.6 .8-1.1 1.6-.9 0-1 1-.3 1 .3 1.1-.6 .9-.5 .9 .4 .3 .8 1 .9 1.1 .6 1.4 1 .1 1.5 .6-.4 .4-.3-.4-.7 .4-.6 1 .4-.4-.4-1.4-.8-.7-.4-.7-.6-.3-.7-.9-.8 .2-.8 .8-.2-.1 .6 .7-.2 .7 1 1.4 .9 .7 .5 .6 .5 .1 1 .5 .8 .5 .8 .2 .7 .3 .8 .6 .4 .3-.8 .2 .7 .5-1-.3-.7-.5-1.2 0-.5 .8-.2 1.4 0 .5 .3-.1 .8 .2 .8 .3 .9 .5 .5 1.1 .5 .7-.5 1.4 .6 1-.1 1.1-.3 .3 .5-.1 .8-.2 .9-.4 .8-.3 1.3-.7 .3-.9-.1 .2 1 .3 .9 .9 1 .4-1.4 .1 0-.1 1.2 .7 .8 .8 1.7 1.1 1.7 .5 1.3 .9 1.6 .7 1.7 .8 1.7 .2 1.2 .4 1.1 1-.1 2.1-1 1.4-.8 1.6-.7 1.2-1 1.1-.7 1-.8 .6-.2 .5-1.2 .9-1.7-.9-.9-1.1-.3-.5-.8 .1-1.2-.3 .7-.5 .2-.9 .9-1.4 .2-.3-.5 0-.6-.2-.7-.3 .4-.4-.5-.2-.5-.3-.6-.7-.8-.4-.8 .4-.5 .7 0 .7 .7 .7 1.2 1.4 .8 1.4 .2 .5-.5 .5 1 .2 .3 1.6 .2 1.4 .2 1.7-.1 1.8-.1 .5 .5 .7 1 .5 .9 .7-.2-.7 .4 .7 1.1 .7 .1 1.1-.5 .1 .2 .1 1.8 .5 2.6 .7 1.2 .3 1.7 .6 1.2 .5 1.7 .7 .8 .5-.7 .5-.3 .7-.9-.1-1 .4-1.3-.2-1.6 .6-.8 1-.9 1.1-1.1 1.1-1 1-1.1 .4-.8 .7 .1 1-.3 1.1-.4 .4 .9 .3 .8 .7 .8 .6 1.3 0 1.7 .7 .1 .8-.6 .7 0 .1 1.3 .4 1.2 .3 2.1-.2 1.7 0 .9 1.2 1.2 .2 1.3 .7 1.6 .8 .9 .7 .6 .5-.1-.5-1.4-.1-1.2-.6-1.3-.7-.7-.7-.4-.3-1-.5-1.2-.1-1.7 .6-1.2 .6 .4 .8 .6 .7 1 1 .5 .2 1.6 1.2-.8 .4-.8 1.4-.9 .2-1.2-.4-2.1-1.2-1.3-.7-1.2-.3-.5 .6-1.2 .7-.8 .7-.1 .9 .1 .3 1 .6-1 1-.3 .7-.3 1.1-.5 1-.2 1.1-1.3 1-1 .5-1.1 .9-1.2 .4-1.1-.7-.6 .6-.4-.6-.8-.4-1.3-.7-1.3 .7-.8 1.4-.8-1-.6-1.4 .4-.7-.8-.2-.7 .9-.4 1.4-1.1 .7 .2-.6 1.5 .9-.6 1.2-.4 .6 .4 .1 1.2 .9 .5-.1 .8 .1 1.2-.1 .6 .8-.2 1.1-.4 .3-.8 0-.8-.7-1.3-.7-.8 .7-.4 .9-.8 0-.7 .7-.5 .7-.5 .9 .1 1.4-.8 1.7-1.4 .7-1.3 1.2-1.3 .2-1.2 .4-1.7 .3-1.1-1.2-.7-1.6 .2-.7-.6 .5-1 .9-.8 1.4-1.2 1.1-.8 1.4-.2 1.4 .1 1.7 0 1.6-.2 1.2 .5 1.4-.1 .5-.8 1.3-1.4 1.7-.1 .6 .7-.4 .6-1.2 1.9-1.1 .8-.3 1.3-.3 1.2 .3 1.3 .5 1.3 .5-.5 .7-1.1 1.1-1 1.2-.6 .3-1.2 .7 .2 .1-1.5-.6-.2 .8-1.5 1.7-.4 2.8 .2 1.7-.8 1.1-.7 2.1-.5 1.4 .1 .7-.6-.7 0-.4-1.1-.7-.3 1.1-.3 1.4-.2 2.1-.3 2.5 1 .7-.9 .7-.4 .3-1.7zM269.4 -2.2l.5 2.3-.5 .4-1.1 .8-1 .7-.1 1 .1 .9 .7 .6 1.4-.1 1.4-.2 1.4-.1 .9 .4-1.3 .4-2.1 0-1 .2 0 .7 .5 .1 .1 .7-.3 .4-.5 0-.5-.5-.7 .2-.4 .8 .1 .8 .1 .4-.5 .2-.7 .3-.7 0-.2-.3-1.2 .2-1.4 .5-.7-.3-1.1 .1-.7 .1-.1-.4-.6-.1 .4-.7-.2-.6 .2-.7 0-.6-.7 .5-.9 .3-.1 .7 .3 .4 0 .6 .2 .6-.5 .4-.8 .1-.8 0-.7 .5-.4 .7-.5 .5-.7 .3-.7 .1 0 .7-1 .5-.9 .1-.3-.3-.2 .9-.8-.1-1.1 .2 .1 .6 1.1 .3 .5 .3 .7 .8 0 1.3-.3 .9-1.4 0-1.4 0-1.7-.1-.8 .5 .2 .9 .1 .8-.2 1-.4 .9 .5 .3 0 1.1 .9-.1 .9 .3 .5 .7 .7-.6 1.7 0 .6-.6 .4-.1 .2-.7 .4-.3-.3-.6 .8-1.1 1.6-.9 0-1 1-.3 1 .3 1.1-.6 .9-.5 .9 .4 .3 .8 1 .9 1.1 .6 1.4 1 .1 1.5 .6-.4 .4-.3-.4-.7 .4-.6 1 .4-.4-.4-1.4-.8-.7-.4-.7-.6-.3-.7-.9-.8 .2-.8 .8-.2-.1 .6 .7-.2 .7 1 1.4 .9 .7 .5 .6 .5 .1 1 .5 .8 .5 .8 .2 .7 .3 .8 .6 .4 .3-.8 .2 .7 .5-1-.3-.7-.5-1.2 0-.5 .8-.2 1.4 0 .5 .3-.1 .8 .2 .8 .3 .9 .5 .5 1.1 .5 .7-.5 1.4 .6 1-.1 1.1-.3 .3 .5-.1 .8-.2 .9-.4 .8-.3 1.3-.7 .3-.9-.1 .2 1 .3 .9 .9 1 .4-1.4 .1 0-.1 1.2 .7 .8 .8 1.7 1.1 1.7 .5 1.3 .9 1.6 .7 1.7 .8 1.7 .2 1.2 .4 1.1 1-.1 2.1-1 1.4-.8 1.6-.7 1.2-1 1.1-.7 1-.8 .6-.2 .5-1.2 .9-1.7-.9-.9-1.1-.3-.5-.8 .1-1.2-.3 .7-.5 .2-.9 .9-1.4 .2-.3-.5 0-.6-.2-.7-.3 .4-.4-.5-.2-.5-.3-.6-.7-.8-.4-.8 .4-.5 .7 0 .7 .7 .7 1.2 1.4 .8 1.4 .2 .5-.5 .5 1 .2 .3 1.6 .2 1.4 .2 1.7-.1 1.8-.1 .5 .5 .7 1 .5 .9 .7-.2-.7 .4 .7 1.1 .7 .1 1.1-.5 .1 .2 .1 1.8 .5 2.6 .7 1.2 .3 1.7 .6 1.2 .5 1.7 .7 .8 .5-.7 .5-.3 .7-.9-.1-1 .4-1.3-.2-1.6 .6-.8 1-.9 1.1-1.1 1.1-1 1-1.1 .4-.8 .7 .1 1-.3 1.1-.4 .4 .9 .3 .8 .7 .8 .6 1.3 0 1.7 .7 .1 .8-.6 .7 0 .1 1.3 .4 1.2 .3 2.1-.2 1.7 0 .9 1.2 1.2 .2 1.3 .7 1.6 .8 .9 .7 .6 .5-.1-.5-1.4-.1-1.2-.6-1.3-.7-.7-.7-.4-.3-1-.5-1.2-.1-1.7 .6-1.2 .6 .4 .8 .6 .7 1 1 .5 .2 1.6 1.2-.8 .4-.8 1.4-.9 .2-1.2-.4-2.1-1.2-1.3-.7-1.2-.3-.5 .6-1.2 .7-.8 .7-.1 .9 .1 .3 1 .6-1 1-.3 .7-.3 1.1-.5 1-.2 1.1-1.3 1-1 .5-1.1 .9-1.2 .4-1.1-.7-.6 .6-.4-.6-.8-.4-1.3-.7-1.3 .7-.8 1.4-.8-1-.6-1.4 .4-.7-.8-.2-.7 .9-.4 1.4-1.1 .7 .2-.6 1.5 .9-.6 1.2-.4 .6 .4 .1 1.2 .9 .5-.1 .8 .1 1.2-.1 .6 .8-.2 1.1-.4 .3-.8 0-.8-.7-1.3-.7-.8 .7-.4 .9-.8 0-.7 .7-.5 .7-.5 .9 .1 1.4-.8 1.7-1.4 .7-1.3 1.2-1.3 .2-1.2 .4-1.7 .3-1.1-1.2-.7-1.6 .2-.7-.6 .5-1 .9-.8 1.4-1.2 1.1-.8 1.4-.2 1.4 .1 1.7 0 1.6-.2 1.2 .5 1.4-.1 .5-.8 1.3-1.4 1.7-.1 .6 .7-.4 .6-1.2 1.9-1.1 .8-.3 1.3-.3 1.2 .3 1.3 .5 1.3 .5-.5 .7-1.1 1.1-1 1.2-.6 .3-1.2 .7 .2 .1-1.5-.6-.2 .8-1.5 1.7-.4 2.8 .2 1.7-.8 1.1-.7 2.1-.5 1.4 .1 .7-.6-.7 0-.4-1.1-.7-.3 1.1-.3 1.4-.2 2.1-.3 2.5 1 .7-.9 .7-.4 .3-1.7zM22.8 29.6l-.2-1-.9-.3-.7 .2-.7 .4-1.4-.4-1.4-.2-1.4-.5-1.4-.5-.7 .7 0 .8-.7 .6-1-.6-1.4-.4-.3-.7-1.5-.5-1-.2-.7-.5-.3-.6 .6-.9-.3-.8 .4-.4-.7-.2-.2-.1-.9 .4-1.4-.1-1.1 .2-1.4-.1-1.4 .3-1.1 .6-1 .6-.7-.1-1.6-.6-.5 .1-.6 1.5-.5 .3-.7 .4-.5 .5-.4 1.3 .2 .5-.7 1-.7 .8-1 .5-1.1 1.2-.3 1.4-.7 .6-.7 2 .3 1.2 .3 .8 0 1.3-.3 1.3-.7 1 .5 1 .1 .9 .8 .8 .7 .9 .9 .8 .1 .8 .4 .9 .7 .5 1.1 .9 1.7 1.2 1.8-.6 1.4 0 .7 .2 1.4-.6 1.1-.5 1-.2 1.1 .1 .7 1.1 .7 .6 1-.2 .7 .4 .5 .8 .1 1.7-.4 .9-.3 .5 .8 2 1.1 1.2 .4 1.3 .6 2.1 .4 1.6 .1 1.3-.8 1.3-.4 1.6-.1 1.3 .5 1.2 .7 1.7 .7 1.7 .2 2.1 .5 1.7 .7 1.3 .5 1.6 .5 1.2 .3 1.7 .4 .4 .7 .3 1.4-.6 2.5-.1 1.4-.7 1-1 1.1-1.2 .3-.6 1-1.1 .3-1.9 .5-.8 1.4-1.1-.1-1.6-.3-1.7 1.1-1 .7-1.1 1.4-.8 .7-1.3 0-2.5-.2-1.3-.5-2.1-.2-1-.2-1.5 .5-.8 .6-1.3 .7-.8 1.4-1.7 1.4-1.2 1.4-2.1 .7-1.7 .9-2.1 1-1.2 0-1.1-1.6 .4-2.1 .5-1.4 .2-.5-.9-.5-.8-.7-1.1-1.1-1.4-.3-.1-.7-2-.9-.9 0-1.6-.5-1.3-.7-1.2-.7-1.7-.7-1.3-.7-1.6zM275 29.6l-.2-1-.9-.3-.7 .2-.7 .4-1.4-.4-1.4-.2-1.4-.5-1.4-.5-.7 .7 0 .8-.7 .6-1-.6-1.4-.4-.3-.7-1.5-.5-1-.2-.7-.5-.3-.6 .6-.9-.3-.8 .4-.4-.7-.2-.2-.1-.9 .4-1.4-.1-1.1 .2-1.4-.1-1.4 .3-1.1 .6-1 .6-.7-.1-1.6-.6-.5 .1-.6 1.5-.5 .3-.7 .4-.5 .5-.4 1.3 .2 .5-.7 1-.7 .8-1 .5-1.1 1.2-.3 1.4-.7 .6-.7 2 .3 1.2 .3 .8 0 1.3-.3 1.3-.7 1 .5 1 .1 .9 .8 .8 .7 .9 .9 .8 .1 .8 .4 .9 .7 .5 1.1 .9 1.7 1.2 1.8-.6 1.4 0 .7 .2 1.4-.6 1.1-.5 1-.2 1.1 .1 .7 1.1 .7 .6 1-.2 .7 .4 .5 .8 .1 1.7-.4 .9-.3 .5 .8 2 1.1 1.2 .4 1.3 .6 2.1 .4 1.6 .1 1.3-.8 1.3-.4 1.6-.1 1.3 .5 1.2 .7 1.7 .7 1.7 .2 2.1 .5 1.7 .7 1.3 .5 1.6 .5 1.2 .3 1.7 .4 .4 .7 .3 1.4-.6 2.5-.1 1.4-.7 1-1 1.1-1.2 .3-.6 1-1.1 .3-1.9 .5-.8 1.4-1.1-.1-1.6-.3-1.7 1.1-1 .7-1.1 1.4-.8 .7-1.3 0-2.5-.2-1.3-.5-2.1-.2-1-.2-1.5 .5-.8 .6-1.3 .7-.8 1.4-1.7 1.4-1.2 1.4-2.1 .7-1.7 .9-2.1 1-1.2 0-1.1-1.6 .4-2.1 .5-1.4 .2-.5-.9-.5-.8-.7-1.1-1.1-1.4-.3-.1-.7-2-.9-.9 0-1.6-.5-1.3-.7-1.2-.7-1.7-.7-1.3-.7-1.6zM34.5 64.8l.7 2.9-.3 1.3-.7 2.5-.9 3.8-.4 .4-1.4 .4-.8-1.3-.4-1.6 .5-1.7 .2-2.5 1.2-1 1.4-1.9zM134.5 -2.2l1.4 2.1 3.5 .9-2.4 1-1.1 1.5 1.1 .8 1.7 .4 0 1.2 3.2-.1-.4 1.4-2.1 .9-2.1 .8 .7 .3 2.8-1 2.1-1 1.4-1.2 1.4-1.7 .7 1.1 2.1-.9 1.4-.5 1.4 .7 2.1 0 1.1 .4 1.7 .9 .7 .4 .7 .8 .7 .5 1.4 1.4 1.4 .2 0 .9 1.4 1.6 .4 .9-.6-.2 2.3 1.8 .2 .1 .4 1.6 .1 2.1-.3 1 .1 1.9 .4 1.3 .9 1 .4 1 .9 1.7 1.5 .5 1 1.2 .4 .9 .5 1.2 1.1 1.7 1.2 1.4 1 1.5 .8 1.4-.4-1.1-1.1-1.9-.8-1.7-.9-1.7-.2-1.1 1.2 .5 1.4 2.3 .7 1.2 .5 1.3 1.3 1.3 1.3 1.2 .2 1.7 .9 1.2 1.4 .9 1.4 .8 1.4 .6 1.4 .5 1.1-.4 1 .6 .7 .8 .7 .5 1.5 .4 1 .4 .7 .8 .6 1 .1 .8 1.1 .3 .7 1 1 .6 1.1 .2 .3-1.3 1.1 .5 .4-.2-.1-.1-1-.7-.7 .2-1.1 .2-1.4-1.2-.2-.9 .3-1.2 0-1.7-1.1-.8-1.8 .1-.5 .1-.1-1.5 .6-1.3 .4-2-1.1 0-1.3 .4-.1 1.2-.7 .9-1.8 .2-1-.4-.6-.7-.8-1.6-.1-2.1 .3-1.7-.1-1.3 .9-.9 1.1-.7 1.7-.1 1.8 .2 .4-.8 .7-.2 1.4 .2 1 .3 1.1 .8 .2 1.2 .8 1.5 .8 .5 .3-1.1-.4-1.7-.5-1-.1-1.1 .6-1.1 1.1-1 1-.8 1.4-.7-.3-1.3 .3-1 .4-.7 .7-1.3 .1-.2 1.3-.3 1-.5 .4-.1-.5-.7 .3-.9 1.6-.6 .7-.4 1 1.1 1.4-.9 1.8-.5 .7-.7-.4-.8-.7 1.1-2.1-.4-.3-1.4 .5-.9-1.6-.2-2.4 1.4 2.1-1.5 1.7-.8 3.2 0 1.9-1.1 .9-.8-.7-1.7-2.1-.8-1.1-1.3-.7-1.2-1.4-1.5-1 1.2-1.4 .5-1.1-1.1 0-1.2-1.7-.7-1.4-.4-2.5-.2-.3 1.7 .3 .4 .4 1.7 .3 1.7-1.7 1.2 0 2.1-1.1 .6-1-1.3-.4-1.9-1.7-.1-2.1-1-1.8-.6-1.4-.3-1.2-1.1-.2-1 .3-1.2 1.1-.9 1.2-.8 2-.6 .7-1.5 0-1.7zM198 47.6l1-.8 .3-.8 .7-.5 1.1-.2 1-.9 .4 .7-.4 .4 1.1-.4-.2-.5 .9 .6 .7 .7 1.4 0 1.4 0 1.4-.1 .3 1 .7 .8 1.1 .5 .7 1 1.4 .8 1.4 0 1.4 .8 .7 .7 .7 1.8 0 1.6 1 .8 1.8 0 1.4 1.2 1.4 .3 1.7 .2 1.4 1.2 1.6 .7 .3 1.8-.3 1.3-1.2 1.7-1.1 1.6-.3 1.7-.2 2.1-.5 1.7-.7 2.1-.7 .8-1.4 0-1.8 .8-1 1.3-.4 1.7-.7 1.2-.7 1.3-1 1.2-1.1 1.5-.7 .9-1.4 0-1-.4 .3 1 .4 .8-.4 1.3-1 .6-2.1 .2-.4 1.3-1.7 .4 .3 1.2-.3 1.3-1.8 1.7 1.1 1.2-1.1 1.3-.7 1.2-.3 1.3 .3 .4 0 .8 1.4 1.3-1 .4 .5 .3-1.9-.5-1.4-1-1.4-1.3-.7-2.1-.4-2.1 .7-2.1 .7-1.7-.1-1.2 .1-2.9 .7-2.1 .6-2.1 .1-2.5 .4-2.5 .3-2.6 .2-3.3 0-1.4-.9-.9-1-.6-1.4-1-1-1.5-.6-1.3-.9-2.1-.7-1.7-1-1.2-.3-1.1 .6-1 .4-.9-.7-1.2 .7-1.3 .7-.8 .3-.8 .7-1.3 .1-2.1-.3-.8zM79.9 73l1.7-1 1.4-.3 1.8-.6 .9-1.3 .8-1.2 .7-.9 1.1-1.2 1 0 .7 .8 .7-.2 .5-1.5 .4-.5 1.2-.7 1.1 .4 1.4 0 .5 .4-.5 .9-.4 1.2 1.4 1 1.4 1.1 .9 0 .5-2.1 .1-2.1 .6-1.5 .7 1.5 .2 1.3 1.1 .8 .1 1.6 .6 1.8 1.5 1 .7 1.5 .9 .8 1.2 1.5 .5 1 .3 2.1-.4 2.1-.9 1.6-.4 .8-.5 1.4-.3 1.2-.1 .5-1.3 .2-1.1 1.1-1-.7-.4-.1-.7 .5-1.4-.3-1-.8-.2-.8-.9-.7 0-.7-.5-1.4-.2 1-.3 .6-.4-.9-.7 .7-.1-1.5-.9-.4-1.4-.6-2.1-.1-2.1 .5-1.4 .6-1.5 .7-1.7 .3-1.1 .7-1.3-.2-.7-.4 .5-.7 0-1.3-.5-1.6-.4-1.3-.7-1.7 .2-1.6 0-1.3zM101.3 88.8l2.6 .2-.2 1.7-.9 .5-.9-.9-.5-1zM121 83.5l1.2 1.2 .7 .6 .4 .9 1.4 0 .3 .1-.4 1.1-.6 .4-.4 .9-.9 .9-.4-.3 .3-1.1-.7-.4-.1-.2 .5-.6-.2-1.3-.9-1.2zM121 88.7l1.1 .5-.3 1.1-.7 .9-1.1 .7-.5 1.3-1.1 .6-1.8-.5 .3-.9 .8-.8 1.7-1 .7-.9zM66.8 50.1l1.5 .3 .7 1 1.4 1.7 1.4 .8 .9 1.3 .5 1.1 1.1 1-.2 2.3-.9 .1-1.5-1.6-.9-1.3-.5-1.2-.9-1.7-.7-1.2-1.1-1.1-.9-1.2zM76.4 53.5l.4-.4 1 .4 1.4-1.4 .7-1.1 1-.7 .9-1.4 .7 .7 1 .8-.8 .8-.2 1 .7 1.7-.9 .4-.1 1.3-.6 1.2-.3 1.1-1.1-.2-1-.3-1.1-.1-.9-.2-.1-1.1-.7-1.2zM91.8 55.6l1-.5 1.1 .4 .7 2 1.7-1.5 1.8 .8 1.4 .6 1.7 .7 .9 1.1 1.2 .6 .2 .6-.5 .2 .7 .8 .7 .9 1 1.1-.7 .1-1.4-.4-1-1.4-1.4-.6-.7 1.2-1.4 .2-1.1-.9-.7 .1-.3-1.9-.7-.9-1.4-.5-1.4-.3-.7-1 .7-.3-1.1-.8zM213.7 -2.2l1 1.7 1.4 1.7 1.4 1.2 1.1 1.3 1.7 .7 1.4 .3 .7-.6 .7-1.3 .7-1.2 1.1-1.3 2.1-.6 2.8-1.9zM209.5 -2.2l-.7 1.7-2.1 1 .3 1.3-2.4 .9-2.8-.5-2.1-1.4-2.1 0 .7-3zM191.6 1.2l2.5 0 1.7 .4 .2-.7-.5-1-3.2-.4-.7 .8zM210.7 14.9l2.3-1.7 .3-1.6 1.8 1.7 .2 1.7-.6 .7-1.4-.3-1.4-.5zM212.3 107.7l-1.4 .6-2.1 1.3-.7 2.1 5.6 0-1.1-3.4zM19.3 20.2l.1-1.9 1.1-1.5 1-1.1 .8-.2 1 .5-.5 .7 .7 1 1-.3 1.1-.7 .9 .5 1.2 1 1.6 1.7-1.3 .7-1.4 .1-1.4-.6-1.4-.3-1.7 .6-1.8 0zM24.5 16.5l.4-.7 1.4-.5 1.2-.1-.7 1-.9 .6-.3-.1z" fill="#b0a9b0" fill-rule="evenodd" stroke="#fafafa" stroke-width="1.3" stroke-linejoin="round" stroke-opacity="0.9"/>
<path d="M32.9 17.9l.4-1.2 1-.9 1.8-.4 1 .2 0 1.2-1.2 .7-.7 .2 .5 1.1 1.3 .8 0 .6 .1 1.1 .6 .4-.2 1.2 .3 .6-1.7 .4-1.1-.5-.7-.6 0-.3 .4-1.4 .5-.2-.5-.2-.7-.9-.7-1zM40.8 16.7l.9-1 1.4 0-.4 1.4-.7 1-1 .2zM187.7 15.7l1.4-.5 1.5-1.2 1.7 .4 .7 1.4-1.7 0-1.8-.2zM190.7 19.8l.6 0 .5-1 .5-2.1 .4-.5-1.8 .2-.3 1.1 .1 1.3zM193.4 18.8l1 0 .6-1.3 1.2-.3-.4-1-2.4-.1 .3 1zM193.7 20l1.4 0 1.8-.9-.2-.3-1.6 .4-1.2 .3zM196.3 18.6l2.5-.2 0-.7-2.3 .5zM182.8 12.5l1.8 0-.4-2.8-1 0zM22.4 55l1.4-.5 .6 .9-.9 1.7-1.2-.7zM72.6 11.6l1 0 2.8-2.1 .5-1.5-.7 0-1.6 2.4zM21 4.4l1.8-.4 .2-.6-1.3-.3-.8 .6zM24.2 3.7l1-.2 .4-1.1-1.1-.2-.5 .6zM51.5 15.8l.7 .9 2.1-.5 1.4-.6-.4-.4-1.4 .6-1.7-.2zM9.5 44.3l1-.3 0-.8-.8-.2zM20.5 57.7l.5 0 .9 3.7-.5 .5-.7-1.7zM23.8 62.7l.4 0 .5 2.9-.2 1.1-.5-1.5zM170.2 3.7l2.8-.2 2.8-.8-1.4-.4-3.1 .5zM174.4 5.7l2.1-.4 1.4-.2-1.4-.2-1.7 .5zM180.4 7.4l.6 0-.1-1.2-.6 .2z" fill="#fff"/>
</g>
<rect x="0.85" y="0.85" width="250.50" height="107.80" fill="none" stroke="#fff" stroke-width="0.8" stroke-opacity="0.75"/>
<rect x="0" y="0" width="252.2" height="109.5" fill="none" stroke="#333" stroke-width="1"/>
<text transform="translate(-2.4,5.8) scale(0.85,1)" class="tl" text-anchor="end">60N</text>
<line x1="0" x2="1.2" y1="4.5" y2="4.5" stroke="#444" stroke-width="0.5"/>
<text transform="translate(-2.4,14.2) scale(0.85,1)" class="tl" text-anchor="end">50N</text>
<line x1="0" x2="1.2" y1="12.9" y2="12.9" stroke="#444" stroke-width="0.5"/>
<text transform="translate(-2.4,22.6) scale(0.85,1)" class="tl" text-anchor="end">40N</text>
<line x1="0" x2="1.2" y1="21.3" y2="21.3" stroke="#444" stroke-width="0.5"/>
<text transform="translate(-2.4,30.9) scale(0.85,1)" class="tl" text-anchor="end">30N</text>
<line x1="0" x2="1.2" y1="29.6" y2="29.6" stroke="#444" stroke-width="0.5"/>
<text transform="translate(-2.4,39.3) scale(0.85,1)" class="tl" text-anchor="end">20N</text>
<line x1="0" x2="1.2" y1="38.0" y2="38.0" stroke="#444" stroke-width="0.5"/>
<text transform="translate(-2.4,47.7) scale(0.85,1)" class="tl" text-anchor="end">10N</text>
<line x1="0" x2="1.2" y1="46.4" y2="46.4" stroke="#444" stroke-width="0.5"/>
<text transform="translate(-2.4,56.0) scale(0.85,1)" class="tl" text-anchor="end">EQ</text>
<line x1="0" x2="1.2" y1="54.8" y2="54.8" stroke="#444" stroke-width="0.5"/>
<text transform="translate(-2.4,64.4) scale(0.85,1)" class="tl" text-anchor="end">10S</text>
<line x1="0" x2="1.2" y1="63.1" y2="63.1" stroke="#444" stroke-width="0.5"/>
<text transform="translate(-2.4,72.8) scale(0.85,1)" class="tl" text-anchor="end">20S</text>
<line x1="0" x2="1.2" y1="71.5" y2="71.5" stroke="#444" stroke-width="0.5"/>
<text transform="translate(-2.4,81.2) scale(0.85,1)" class="tl" text-anchor="end">30S</text>
<line x1="0" x2="1.2" y1="79.9" y2="79.9" stroke="#444" stroke-width="0.5"/>
<text transform="translate(-2.4,89.5) scale(0.85,1)" class="tl" text-anchor="end">40S</text>
<line x1="0" x2="1.2" y1="88.2" y2="88.2" stroke="#444" stroke-width="0.5"/>
<text transform="translate(-2.4,97.9) scale(0.85,1)" class="tl" text-anchor="end">50S</text>
<line x1="0" x2="1.2" y1="96.6" y2="96.6" stroke="#444" stroke-width="0.5"/>
<text transform="translate(-2.4,106.3) scale(0.85,1)" class="tl" text-anchor="end">60S</text>
<line x1="0" x2="1.2" y1="105.0" y2="105.0" stroke="#444" stroke-width="0.5"/>
<text transform="translate(0.0,114.6) scale(0.82,1)" class="tl" text-anchor="middle">0</text>
<line x1="0.0" x2="0.0" y1="108.3" y2="109.5" stroke="#444" stroke-width="0.5"/>
<text transform="translate(42.0,114.6) scale(0.82,1)" class="tl" text-anchor="middle">60E</text>
<line x1="42.0" x2="42.0" y1="108.3" y2="109.5" stroke="#444" stroke-width="0.5"/>
<text transform="translate(84.1,114.6) scale(0.82,1)" class="tl" text-anchor="middle">120E</text>
<line x1="84.1" x2="84.1" y1="108.3" y2="109.5" stroke="#444" stroke-width="0.5"/>
<text transform="translate(126.1,114.6) scale(0.82,1)" class="tl" text-anchor="middle">180</text>
<line x1="126.1" x2="126.1" y1="108.3" y2="109.5" stroke="#444" stroke-width="0.5"/>
<text transform="translate(168.1,114.6) scale(0.82,1)" class="tl" text-anchor="middle">120W</text>
<line x1="168.1" x2="168.1" y1="108.3" y2="109.5" stroke="#444" stroke-width="0.5"/>
<text transform="translate(210.2,114.6) scale(0.82,1)" class="tl" text-anchor="middle">60W</text>
<line x1="210.2" x2="210.2" y1="108.3" y2="109.5" stroke="#444" stroke-width="0.5"/>
<text transform="translate(252.2,114.6) scale(0.82,1)" class="tl" text-anchor="middle">0</text>
<line x1="252.2" x2="252.2" y1="108.3" y2="109.5" stroke="#444" stroke-width="0.5"/>
<text x="1.7" y="16.0" class="pl">f.</text>
</g>
<defs><linearGradient id="hal" x1="0" x2="1" y1="0" y2="0"><stop offset="0" stop-color="#fbd0ee" stop-opacity="0"/><stop offset="0.5" stop-color="#fbd0ee" stop-opacity="0.6"/><stop offset="1" stop-color="#fbc4ea" stop-opacity="1"/></linearGradient></defs>
<rect x="330" y="377.2" width="166" height="2.6" fill="url(#hal)"/>
<rect x="400" y="389.8" width="96" height="2.2" fill="url(#hal)" opacity="0.8"/>
<rect x="494" y="381" width="12" height="9" rx="3" fill="#fcd6ef" opacity="0.8"/>
<polygon points="56.6,384.85 76.8,379.6 76.8,390.1" fill="#1414e6"/>
<rect x="76.80" y="379.6" width="20.34" height="10.5" fill="#1919f0"/>
<rect x="97.09" y="379.6" width="20.34" height="10.5" fill="#3030f1"/>
<rect x="117.38" y="379.6" width="20.34" height="10.5" fill="#4848f3"/>
<rect x="137.67" y="379.6" width="20.34" height="10.5" fill="#6060f4"/>
<rect x="157.96" y="379.6" width="20.34" height="10.5" fill="#7777f6"/>
<rect x="178.25" y="379.6" width="20.34" height="10.5" fill="#8e8ef7"/>
<rect x="198.54" y="379.6" width="20.34" height="10.5" fill="#a6a6f8"/>
<rect x="218.83" y="379.6" width="20.34" height="10.5" fill="#bebefa"/>
<rect x="239.12" y="379.6" width="20.34" height="10.5" fill="#d5d5fb"/>
<rect x="259.41" y="379.6" width="20.34" height="10.5" fill="#ececfd"/>
<rect x="279.70" y="379.6" width="20.34" height="10.5" fill="#fcf2f0"/>
<rect x="299.99" y="379.6" width="20.34" height="10.5" fill="#f6dcd6"/>
<rect x="320.28" y="379.6" width="20.34" height="10.5" fill="#f1c6be"/>
<rect x="340.57" y="379.6" width="20.34" height="10.5" fill="#ecb0a6"/>
<rect x="360.86" y="379.6" width="20.34" height="10.5" fill="#e89a8e"/>
<rect x="381.15" y="379.6" width="20.34" height="10.5" fill="#e48476"/>
<rect x="401.44" y="379.6" width="20.34" height="10.5" fill="#e06e5e"/>
<rect x="421.73" y="379.6" width="20.34" height="10.5" fill="#dc5846"/>
<rect x="442.02" y="379.6" width="20.34" height="10.5" fill="#da422e"/>
<rect x="462.31" y="379.6" width="20.34" height="10.5" fill="#d82c16"/>
<polygon points="482.60,379.6 504.10,384.85 482.60,390.1" fill="#984614"/>
<line x1="76.8" x2="482.60" y1="390.1" y2="390.1" stroke="#333" stroke-width="0.8"/>
<line x1="76.80" x2="76.80" y1="379.6" y2="390.1" stroke="#333" stroke-width="0.8"/>
<text transform="translate(77.10,399.35) scale(1.18,1)" class="cb" text-anchor="middle">−10</text>
<line x1="97.09" x2="97.09" y1="379.6" y2="390.1" stroke="#333" stroke-width="0.8"/>
<text transform="translate(97.39,399.35) scale(1.18,1)" class="cb" text-anchor="middle">−9</text>
<line x1="117.38" x2="117.38" y1="379.6" y2="390.1" stroke="#333" stroke-width="0.8"/>
<text transform="translate(117.68,399.35) scale(1.18,1)" class="cb" text-anchor="middle">−8</text>
<line x1="137.67" x2="137.67" y1="379.6" y2="390.1" stroke="#333" stroke-width="0.8"/>
<text transform="translate(137.97,399.35) scale(1.18,1)" class="cb" text-anchor="middle">−7</text>
<line x1="157.96" x2="157.96" y1="379.6" y2="390.1" stroke="#333" stroke-width="0.8"/>
<text transform="translate(158.26,399.35) scale(1.18,1)" class="cb" text-anchor="middle">−6</text>
<line x1="178.25" x2="178.25" y1="379.6" y2="390.1" stroke="#333" stroke-width="0.8"/>
<text transform="translate(178.55,399.35) scale(1.18,1)" class="cb" text-anchor="middle">−5</text>
<line x1="198.54" x2="198.54" y1="379.6" y2="390.1" stroke="#333" stroke-width="0.8"/>
<text transform="translate(198.84,399.35) scale(1.18,1)" class="cb" text-anchor="middle">−4</text>
<line x1="218.83" x2="218.83" y1="379.6" y2="390.1" stroke="#333" stroke-width="0.8"/>
<text transform="translate(219.13,399.35) scale(1.18,1)" class="cb" text-anchor="middle">−3</text>
<line x1="239.12" x2="239.12" y1="379.6" y2="390.1" stroke="#333" stroke-width="0.8"/>
<text transform="translate(239.42,399.35) scale(1.18,1)" class="cb" text-anchor="middle">−2</text>
<line x1="259.41" x2="259.41" y1="379.6" y2="390.1" stroke="#333" stroke-width="0.8"/>
<text transform="translate(259.71,399.35) scale(1.18,1)" class="cb" text-anchor="middle">−1</text>
<line x1="279.70" x2="279.70" y1="379.6" y2="390.1" stroke="#333" stroke-width="0.8"/>
<text transform="translate(280.00,399.35) scale(1.18,1)" class="cb" text-anchor="middle">0</text>
<line x1="299.99" x2="299.99" y1="379.6" y2="390.1" stroke="#333" stroke-width="0.8"/>
<text transform="translate(300.29,399.35) scale(1.18,1)" class="cb" text-anchor="middle">1</text>
<line x1="320.28" x2="320.28" y1="379.6" y2="390.1" stroke="#333" stroke-width="0.8"/>
<text transform="translate(320.58,399.35) scale(1.18,1)" class="cb" text-anchor="middle">2</text>
<line x1="340.57" x2="340.57" y1="379.6" y2="390.1" stroke="#333" stroke-width="0.8"/>
<text transform="translate(340.87,399.35) scale(1.18,1)" class="cb" text-anchor="middle">3</text>
<line x1="360.86" x2="360.86" y1="379.6" y2="390.1" stroke="#333" stroke-width="0.8"/>
<text transform="translate(361.16,399.35) scale(1.18,1)" class="cb" text-anchor="middle">4</text>
<line x1="381.15" x2="381.15" y1="379.6" y2="390.1" stroke="#333" stroke-width="0.8"/>
<text transform="translate(381.45,399.35) scale(1.18,1)" class="cb" text-anchor="middle">5</text>
<line x1="401.44" x2="401.44" y1="379.6" y2="390.1" stroke="#333" stroke-width="0.8"/>
<text transform="translate(401.74,399.35) scale(1.18,1)" class="cb" text-anchor="middle">6</text>
<line x1="421.73" x2="421.73" y1="379.6" y2="390.1" stroke="#333" stroke-width="0.8"/>
<text transform="translate(422.03,399.35) scale(1.18,1)" class="cb" text-anchor="middle">7</text>
<line x1="442.02" x2="442.02" y1="379.6" y2="390.1" stroke="#333" stroke-width="0.8"/>
<text transform="translate(442.32,399.35) scale(1.18,1)" class="cb" text-anchor="middle">8</text>
<line x1="462.31" x2="462.31" y1="379.6" y2="390.1" stroke="#333" stroke-width="0.8"/>
<text transform="translate(462.61,399.35) scale(1.18,1)" class="cb" text-anchor="middle">9</text>
<line x1="482.60" x2="482.60" y1="379.6" y2="390.1" stroke="#333" stroke-width="0.8"/>
<text transform="translate(482.90,399.35) scale(1.18,1)" class="cb" text-anchor="middle">10</text>
</svg>
</body></html>
